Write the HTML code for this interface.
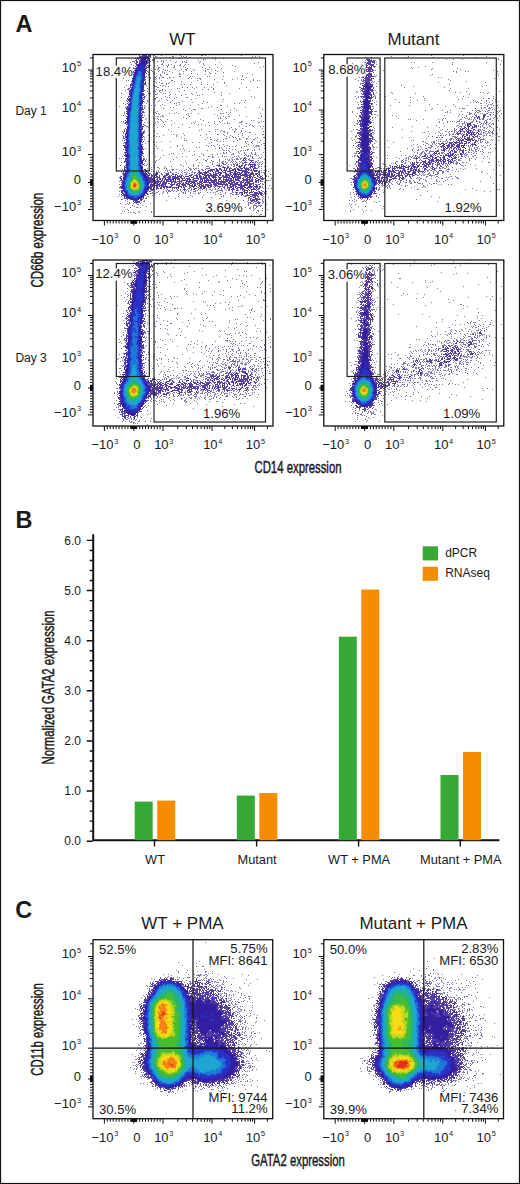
<!DOCTYPE html>
<html><head><meta charset="utf-8"><style>
html,body{margin:0;padding:0;background:#fff;overflow:hidden;}
svg{display:block;}
text{font-family:"Liberation Sans", sans-serif;fill:#1a1a1a;}
</style></head><body>
<svg width="520" height="1184" viewBox="0 0 520 1184">
<rect x="0.5" y="0.5" width="519" height="1183" fill="#fff" stroke="#111" stroke-width="1.2"/>
<text x="15.5" y="31.7" font-size="23.5" font-weight="bold">A</text>
<text x="15.5" y="527.5" font-size="23.5" font-weight="bold">B</text>
<text x="15.2" y="918" font-size="23.5" font-weight="bold">C</text>
<text x="182.5" y="44.5" font-size="17" text-anchor="middle">WT</text>
<text x="413.5" y="44.5" font-size="17" text-anchor="middle">Mutant</text>
<text x="182.5" y="928.7" font-size="17" text-anchor="middle">WT + PMA</text>
<text x="413.5" y="928.7" font-size="17" text-anchor="middle">Mutant + PMA</text>
<text x="15.4" y="114.8" font-size="12">Day 1</text>
<text x="15.4" y="361.5" font-size="12">Day 3</text>
<text transform="translate(43.2,240.1) rotate(-90) scale(0.72,1)" font-size="16" text-anchor="middle" stroke="#1a1a1a" stroke-width="0.45">CD66b expression</text>
<text transform="translate(298,472.8) scale(0.71,1)" font-size="16" text-anchor="middle" stroke="#1a1a1a" stroke-width="0.45">CD14 expression</text>
<text transform="translate(43.3,1029.4) rotate(-90) scale(0.71,1)" font-size="16" text-anchor="middle" stroke="#1a1a1a" stroke-width="0.45">CD11b expression</text>
<text transform="translate(298,1166.3) scale(0.71,1)" font-size="16" text-anchor="middle" stroke="#1a1a1a" stroke-width="0.45">GATA2 expression</text>
<text transform="translate(53.6,687.4) rotate(-90) scale(0.71,1)" font-size="16" text-anchor="middle" stroke="#1a1a1a" stroke-width="0.45">Normalized GATA2 expression</text>
<path d="M136 54.5h1m32 0h1m15 0h1m10 0h1m9 0h1m-54 1h1m0 0h1m6 0h1m18 0h1m20 0h1m0 0h1m2 0h1m35 0h1m-89 1h1m1 0h1m0 0h1m15 0h1m0 0h1m7 0h1m1 0h1m2 0h1m65 0h1m2 0h1m3 0h1m-107 1h1m15 0h1m14 0h1m0 0h1m4 0h1m24 0h1m-81 1h1m17 0h1m0 0h1m5 0h1m11 0h1m6 0h1m0 0h1m6 0h1m10 0h1m13 0h1m10 0h1m-72 1h1m1 0h1m48 0h1m1 0h1m9 0h1m-81 1h1m16 0h1m0 0h1m0 0h1m6 0h1m1 0h1m2 0h1m3 0h1m15 0h1m11 0h1m4 0h1m-72 1h1m0 0h1m0 0h1m18 0h1m3 0h1m3 0h1m1 0h1m12 0h1m5 0h1m1 0h1m15 0h1m-71 1h1m3 0h1m19 0h1m8 0h1m11 0h1m6 0h1m2 0h1m0 0h1m12 0h1m19 0h1m38 0h1m-97 1h1m40 0h1m50 0h1m-124 1h1m29 0h1m0 0h1m5 0h1m2 0h1m8 0h1m4 0h1m2 0h1m14 0h1m11 0h1m-83 1h1m16 0h1m3 0h1m2 0h1m5 0h1m2 0h1m1 0h1m5 0h1m4 0h1m0 0h1m3 0h1m19 0h1m27 0h1m-106 1h1m39 0h1m6 0h1m8 0h1m51 0h1m27 0h1m-136 1h1m4 0h1m15 0h1m8 0h1m0 0h1m7 0h1m5 0h1m0 0h1m10 0h1m16 0h1m6 0h1m7 0h1m42 0h1m-103 1h1m28 0h1m17 0h1m15 0h1m-73 1h1m5 0h1m1 0h1m0 0h1m4 0h1m11 0h1m5 0h1m3 0h1m0 0h1m6 0h1m13 0h1m0 0h1m2 0h1m-81 1h1m19 0h1m7 0h1m5 0h1m1 0h1m11 0h1m6 0h1m7 0h1m10 0h1m9 0h1m-64 1h1m5 0h1m3 0h1m6 0h1m13 0h1m7 0h1m13 0h1m11 0h1m16 0h1m-111 1h1m5 0h1m17 0h1m5 0h1m7 0h1m1 0h1m7 0h1m36 0h1m13 0h1m-95 1h1m23 0h1m10 0h1m14 0h1m3 0h1m7 0h1m18 0h1m4 0h1m31 0h1m-100 1h1m11 0h1m5 0h1m0 0h1m11 0h1m0 0h1m16 0h1m7 0h1m46 0h1m-129 1h1m5 0h1m29 0h1m81 0h1m-87 1h1m4 0h1m17 0h1m0 0h1m9 0h1m1 0h1m14 0h1m1 0h1m13 0h1m18 0h1m-115 1h1m21 0h1m2 0h1m1 0h1m3 0h1m2 0h1m0 0h1m5 0h1m0 0h1m2 0h1m15 0h1m56 0h1m-124 1h1m26 0h1m5 0h1m2 0h1m7 0h1m20 0h1m2 0h1m5 0h1m1 0h1m0 0h1m36 0h1m-83 1h1m44 0h1m13 0h1m7 0h1m9 0h1m8 0h1m1 0h1m9 0h1m-128 1h1m1 0h1m32 0h1m9 0h1m0 0h1m24 0h1m55 0h1m3 0h1m1 0h1m-107 1h1m1 0h1m18 0h1m6 0h1m68 0h1m-95 1h1m2 0h1m9 0h1m21 0h1m9 0h1m15 0h1m6 0h1m-64 1h1m0 0h1m3 0h1m1 0h1m55 0h1m16 0h1m-76 1h1m14 0h1m2 0h1m5 0h1m10 0h1m5 0h1m5 0h1m-88 1h1m19 0h1m6 0h1m0 0h1m5 0h1m2 0h1m62 0h1m-73 1h1m0 0h1m0 0h1m5 0h1m2 0h1m2 0h1m-45 1h1m32 0h1m0 0h1m23 0h1m4 0h1m4 0h1m3 0h1m7 0h1m6 0h1m34 0h1m10 0h1m-130 1h1m18 0h1m29 0h1m1 0h1m14 0h1m18 0h1m25 0h1m-113 1h1m28 0h1m5 0h1m8 0h1m30 0h1m5 0h1m4 0h1m-89 1h1m28 0h1m4 0h1m0 0h1m1 0h1m2 0h1m18 0h1m64 0h1m-103 1h1m5 0h1m1 0h1m3 0h1m19 0h1m-20 1h1m8 0h1m26 0h1m17 0h1m6 0h1m-101 1h1m26 0h1m0 0h1m0 0h1m6 0h1m5 0h1m1 0h1m25 0h1m37 0h1m-75 1h1m0 0h1m13 0h1m4 0h1m9 0h1m6 0h1m9 0h1m-57 1h1m22 0h1m11 0h1m15 0h1m1 0h1m21 0h1m-77 1h1m19 0h1m85 0h1m-131 1h1m34 0h1m0 0h1m9 0h1m1 0h1m6 0h1m9 0h1m0 0h1m66 0h1m-111 1h1m9 0h1m0 0h1m5 0h1m12 0h1m21 0h1m-44 1h1m1 0h1m10 0h1m24 0h1m31 0h1m-98 1h1m20 0h1m11 0h1m7 0h1m4 0h1m68 0h1m3 0h1m-99 1h1m10 0h1m23 0h1m20 0h1m18 0h1m-79 1h1m25 0h1m7 0h1m0 0h1m12 0h1m14 0h1m36 0h1m-122 1h1m22 0h1m27 0h1m1 0h1m25 0h1m31 0h1m4 0h1m-115 1h1m23 0h1m12 0h1m16 0h1m18 0h1m-55 1h1m6 0h1m3 0h1m4 0h1m3 0h1m11 0h1m13 0h1m29 0h1m0 0h1m-103 1h1m25 0h1m65 0h1m15 0h1m-103 1h1m44 0h1m2 0h1m34 0h1m8 0h1m27 0h1m13 0h1m-116 1h1m18 0h1m25 0h1m11 0h1m0 0h1m31 0h1m-52 1h1m9 0h1m0 0h1m0 0h1m25 0h1m40 0h1m-110 1h1m18 0h1m12 0h1m5 0h1m26 0h1m11 0h1m5 0h1m-80 1h1m-34 1h1m19 0h1m8 0h1m1 0h1m20 0h1m49 0h1m3 0h1m-107 1h1m31 0h1m1 0h1m10 0h1m4 0h1m3 0h1m9 0h1m2 0h1m6 0h1m21 0h1m0 0h1m1 0h1m36 0h1m-102 1h1m26 0h1m27 0h1m13 0h1m-106 1h1m1 0h1m18 0h1m17 0h1m25 0h1m28 0h1m21 0h1m21 0h1m-105 1h1m0 0h1m1 0h1m1 0h1m0 0h1m25 0h1m33 0h1m4 0h1m0 0h1m16 0h1m14 0h1m-79 1h1m36 0h1m4 0h1m-80 1h1m10 0h1m28 0h1m31 0h1m1 0h1m5 0h1m31 0h1m-114 1h1m12 0h1m1 0h1m6 0h1m32 0h1m33 0h1m-74 1h1m9 0h1m31 0h1m18 0h1m28 0h1m1 0h1m-133 1h1m1 0h1m33 0h1m4 0h1m2 0h1m29 0h1m18 0h1m4 0h1m21 0h1m0 0h1m18 0h1m1 0h1m-141 1h1m20 0h1m2 0h1m7 0h1m2 0h1m4 0h1m29 0h1m14 0h1m11 0h1m6 0h1m11 0h1m0 0h1m0 0h1m16 0h1m0 0h1m-136 1h1m49 0h1m16 0h1m2 0h1m19 0h1m9 0h1m2 0h1m1 0h1m16 0h1m-94 1h1m10 0h1m6 0h1m10 0h1m15 0h1m2 0h1m15 0h1m23 0h1m8 0h1m-107 1h1m0 0h1m59 0h1m3 0h1m39 0h1m2 0h1m-107 1h1m0 0h1m15 0h1m75 0h1m6 0h1m6 0h1m6 0h1m2 0h1m-116 1h1m8 0h1m20 0h1m10 0h1m41 0h1m-3 1h1m5 0h1m6 0h1m19 0h1m-139 1h1m43 0h1m32 0h1m13 0h1m1 0h1m14 0h1m3 0h1m-93 1h1m8 0h1m45 0h1m21 0h1m13 0h1m5 0h1m-120 1h1m21 0h1m9 0h1m16 0h1m37 0h1m5 0h1m4 0h1m2 0h1m0 0h1m9 0h1m6 0h1m3 0h1m17 0h1m-141 1h1m20 0h1m79 0h1m2 0h1m6 0h1m5 0h1m8 0h1m0 0h1m-128 1h1m33 0h1m25 0h1m43 0h1m14 0h1m-70 1h1m3 0h1m28 0h1m10 0h1m0 0h1m4 0h1m14 0h1m16 0h1m6 0h1m0 0h1m-142 1h1m25 0h1m5 0h1m8 0h1m12 0h1m7 0h1m15 0h1m23 0h1m5 0h1m11 0h1m-90 1h1m2 0h1m2 0h1m16 0h1m49 0h1m5 0h1m5 0h1m9 0h1m-105 1h1m36 0h1m25 0h1m2 0h1m18 0h1m3 0h1m1 0h1m7 0h1m13 0h1m5 0h1m0 0h1m-142 1h1m60 0h1m40 0h1m0 0h1m9 0h1m2 0h1m6 0h1m0 0h1m7 0h1m-112 1h1m60 0h1m4 0h1m0 0h1m5 0h1m5 0h1m15 0h1m0 0h1m5 0h1m6 0h1m0 0h1m-133 1h1m61 0h1m1 0h1m27 0h1m1 0h1m20 0h1m22 0h1m-113 1h1m4 0h1m7 0h1m8 0h1m46 0h1m2 0h1m2 0h1m9 0h1m11 0h1m1 0h1m4 0h1m-100 1h1m2 0h1m35 0h1m6 0h1m11 0h1m33 0h1m5 0h1m5 0h1m1 0h1m-137 1h1m21 0h1m63 0h1m36 0h1m5 0h1m10 0h1m0 0h1m-111 1h1m62 0h1m5 0h1m24 0h1m12 0h1m-85 1h1m4 0h1m23 0h1m4 0h1m1 0h1m5 0h1m7 0h1m8 0h1m16 0h1m2 0h1m0 0h1m0 0h1m5 0h1m-109 1h1m20 0h1m30 0h1m5 0h1m9 0h1m4 0h1m2 0h1m2 0h1m8 0h1m1 0h1m8 0h1m0 0h1m1 0h1m0 0h1m-90 1h1m25 0h1m2 0h1m19 0h1m1 0h1m19 0h1m12 0h1m-110 1h1m11 0h1m25 0h1m31 0h1m3 0h1m6 0h1m2 0h1m29 0h1m4 0h1m-142 1h1m56 0h1m41 0h1m9 0h1m2 0h1m11 0h1m0 0h1m5 0h1m4 0h1m-98 1h1m21 0h1m22 0h1m15 0h1m0 0h1m1 0h1m1 0h1m12 0h1m1 0h1m1 0h1m1 0h1m4 0h1m1 0h1m-102 1h1m35 0h1m4 0h1m34 0h1m8 0h1m1 0h1m-18 1h1m2 0h1m3 0h1m7 0h1m5 0h1m6 0h1m3 0h1m7 0h1m-111 1h1m17 0h1m1 0h1m8 0h1m18 0h1m18 0h1m2 0h1m0 0h1m1 0h1m6 0h1m5 0h1m4 0h1m6 0h1m3 0h1m-133 1h1m45 0h1m24 0h1m8 0h1m8 0h1m4 0h1m13 0h1m0 0h1m0 0h1m7 0h1m3 0h1m6 0h1m1 0h1m0 0h1m5 0h1m-99 1h1m28 0h1m10 0h1m18 0h1m15 0h1m5 0h1m1 0h1m1 0h1m1 0h1m5 0h1m1 0h1m-137 1h1m32 0h1m26 0h1m3 0h1m12 0h1m8 0h1m0 0h1m2 0h1m9 0h1m1 0h1m1 0h1m7 0h1m1 0h1m1 0h1m8 0h1m0 0h1m1 0h1m1 0h1m-93 1h1m15 0h1m35 0h1m0 0h1m4 0h1m13 0h1m6 0h1m4 0h1m0 0h1m6 0h1m6 0h1m1 0h1m-143 1h1m1 0h1m1 0h1m20 0h1m86 0h1m4 0h1m0 0h1m2 0h1m0 0h1m1 0h1m1 0h1m0 0h1m2 0h1m2 0h1m0 0h1m4 0h1m1 0h1m-117 1h1m1 0h1m12 0h1m13 0h1m23 0h1m5 0h1m3 0h1m11 0h1m5 0h1m1 0h1m1 0h1m2 0h1m1 0h1m1 0h1m0 0h1m0 0h1m1 0h1m7 0h1m0 0h1m14 0h1m-120 1h1m10 0h1m39 0h1m8 0h1m0 0h1m4 0h1m7 0h1m8 0h1m0 0h1m2 0h1m9 0h1m3 0h1m2 0h1m3 0h1m4 0h1m-114 1h1m9 0h1m14 0h1m14 0h1m20 0h1m5 0h1m0 0h1m5 0h1m2 0h1m0 0h1m1 0h1m5 0h1m1 0h1m1 0h1m3 0h1m1 0h1m13 0h1m0 0h1m5 0h1m-142 1h1m33 0h1m43 0h1m10 0h1m6 0h1m3 0h1m0 0h1m2 0h1m1 0h1m2 0h1m1 0h1m3 0h1m3 0h1m1 0h1m14 0h1m1 0h1m0 0h1m-117 1h1m41 0h1m25 0h1m6 0h1m6 0h1m6 0h1m1 0h1m1 0h1m1 0h1m2 0h1m15 0h1m3 0h1m-116 1h1m32 0h1m12 0h1m18 0h1m4 0h1m1 0h1m4 0h1m0 0h1m2 0h1m2 0h1m1 0h1m0 0h1m1 0h1m5 0h1m3 0h1m1 0h1m8 0h1m1 0h1m1 0h1m-142 1h1m23 0h1m1 0h1m7 0h1m26 0h1m11 0h1m4 0h1m3 0h1m13 0h1m0 0h1m3 0h1m5 0h1m3 0h1m2 0h1m13 0h1m9 0h1m-94 1h1m5 0h1m11 0h1m9 0h1m4 0h1m7 0h1m0 0h1m0 0h1m4 0h1m4 0h1m0 0h1m0 0h1m1 0h1m0 0h1m3 0h1m0 0h1m4 0h1m0 0h1m23 0h1m0 0h1m1 0h1m2 0h1m-114 1h1m2 0h1m2 0h1m0 0h1m5 0h1m23 0h1m20 0h1m12 0h1m7 0h1m27 0h1m-112 1h1m11 0h1m4 0h1m1 0h1m22 0h1m0 0h1m2 0h1m1 0h1m0 0h1m1 0h1m7 0h1m0 0h1m0 0h1m0 0h1m5 0h1m15 0h1m25 0h1m3 0h1m-140 1h1m28 0h1m14 0h1m4 0h1m0 0h1m0 0h1m2 0h1m9 0h1m3 0h1m0 0h1m2 0h1m6 0h1m0 0h1m2 0h1m-59 1h1m10 0h1m6 0h1m1 0h1m1 0h1m2 0h1m6 0h1m1 0h1m2 0h1m3 0h1m1 0h1m7 0h1m0 0h1m2 0h1m0 0h1m55 0h1m1 0h1m2 0h1m1 0h1m-146 1h1m29 0h1m1 0h1m2 0h1m1 0h1m8 0h1m2 0h1m11 0h1m9 0h1m5 0h1m69 0h1m-110 1h1m4 0h1m3 0h1m1 0h1m0 0h1m3 0h1m0 0h1m4 0h1m2 0h1m0 0h1m1 0h1m3 0h1m0 0h1m1 0h1m0 0h1m65 0h1m1 0h1m0 0h1m0 0h1m-144 1h1m27 0h1m10 0h1m3 0h1m6 0h1m0 0h1m4 0h1m3 0h1m3 0h1m2 0h1m74 0h1m-104 1h1m0 0h1m22 0h1m78 0h1m5 0h1m-109 1h1m99 0h1m3 0h1m-147 1h1m145 0h1m1 0h1m-150 1h1m145 0h1m-3 1h1m0 0h1m6 0h1m-9 1h1m2 1h1m0 0h1m0 0h1m1 0h1m-152 1h1m141 0h1m0 0h1m1 1h1m-5 1h1m1 0h1m-144 1h1m142 0h1m0 0h1m1 1h1m3 0h1m-8 1h1m2 0h1m-77 1h1m7 0h1m16 0h1m47 0h1m-89 1h1m13 0h1m0 0h1m1 0h1m4 0h1m18 0h1m5 0h1m41 0h1m4 0h1m2 0h1m-116 1h1m6 0h1m8 0h1m4 0h1m2 0h1m6 0h1m3 0h1m6 0h1m3 0h1m3 0h1m2 0h1m0 0h1m1 0h1m2 0h1m1 0h1m3 0h1m3 0h1m-60 1h1m2 0h1m1 0h1m0 0h1m1 0h1m2 0h1m0 0h1m1 0h1m5 0h1m1 0h1m2 0h1m3 0h1m1 0h1m2 0h1m5 0h1m4 0h1m6 0h1m0 0h1m0 0h1m0 0h1m0 0h1m3 0h1m1 0h1m0 0h1m8 0h1m22 0h1m-143 1h1m34 0h1m3 0h1m4 0h1m2 0h1m1 0h1m0 0h1m0 0h1m2 0h1m2 0h1m4 0h1m3 0h1m2 0h1m4 0h1m0 0h1m0 0h1m20 0h1m0 0h1m4 0h1m9 0h1m29 0h1m0 0h1m2 0h1m-115 1h1m3 0h1m0 0h1m5 0h1m3 0h1m14 0h1m0 0h1m1 0h1m4 0h1m7 0h1m1 0h1m6 0h1m2 0h1m2 0h1m1 0h1m4 0h1m4 0h1m6 0h1m0 0h1m1 0h1m3 0h1m24 0h1m-115 1h1m0 0h1m0 0h1m2 0h1m6 0h1m4 0h1m11 0h1m3 0h1m1 0h1m4 0h1m2 0h1m1 0h1m2 0h1m0 0h1m18 0h1m6 0h1m4 0h1m0 0h1m7 0h1m24 0h1m1 0h1m-148 1h1m28 0h1m5 0h1m4 0h1m18 0h1m36 0h1m4 0h1m0 0h1m10 0h1m0 0h1m1 0h1m0 0h1m0 0h1m0 0h1m24 0h1m-112 1h1m37 0h1m12 0h1m19 0h1m6 0h1m10 0h1m1 0h1m1 0h1m16 0h1m-145 1h1m2 0h1m26 0h1m19 0h1m9 0h1m13 0h1m28 0h1m1 0h1m14 0h1m5 0h1m0 0h1m0 0h1m16 0h1m-118 1h1m41 0h1m13 0h1m8 0h1m50 0h1m5 0h1m-124 1h1m0 0h1m28 0h1m43 0h1m15 0h1m12 0h1m14 0h1m-143 1h1m0 0h1m125 0h1m11 0h1m1 0h1m-138 1h1m18 0h1m21 0h1m59 0h1m16 0h1m4 0h1m13 0h1m-136 1h1m15 0h1m0 0h1m102 0h1m14 0h1m0 0h1m-135 1h1m11 0h1m106 0h1m0 0h1m10 0h1m2 0h1m-144 1h1m6 0h1m1 0h1m3 0h1m6 0h1m9 0h1m97 0h1m1 0h1m0 0h1m0 0h1m9 0h1m-138 1h1m2 0h1m8 0h1m0 0h1m109 0h1m5 0h1m11 0h1m-135 1h1m9 0h1m92 0h1m12 0h1m4 0h1m0 0h1m0 0h1m0 0h1m1 0h1m0 0h1m0 0h1m0 0h1m-128 1h1m11 0h1m106 0h1m2 0h1m0 0h1m2 0h1m-137 1h1m5 0h1m5 0h1m0 0h1m2 0h1m104 0h1m4 0h1m2 0h1m2 0h1m-8 1h1m0 0h1m2 0h1m1 0h1m6 0h1m2 0h1m-139 1h1m126 0h1m12 0h1m-140 1h1m16 0h1m95 0h1m11 0h1m3 0h1m0 0h1m3 0h1m-141 1h1m1 0h1m13 0h1m12 0h1m106 0h1m-131 1h1m1 0h1m2 0h1m0 0h1m4 0h1m11 0h1m104 0h1m-136 1h1m13 0h1m124 1h1m0 0h1m-11 1h1m7 0h1" stroke="#403a86" stroke-opacity="0.68" stroke-width="1" fill="none"/>
<path d="M145 54.5h1m0 0h1m0 0h1m0 0h1m0 0h1m-11 1h1m2 0h1m0 0h1m0 0h1m0 0h1m0 0h1m1 0h1m0 0h1m0 0h1m-12 1h1m0 0h1m0 0h1m0 0h1m0 0h1m0 0h1m0 0h1m0 0h1m0 0h1m0 0h1m0 0h1m0 0h1m-14 1h1m1 0h1m0 0h1m0 0h1m0 0h1m0 0h1m0 0h1m1 0h1m0 0h1m0 0h1m1 0h1m-14 1h1m0 0h1m0 0h1m1 0h1m0 0h1m0 0h1m0 0h1m0 0h1m0 0h1m0 0h1m0 0h1m0 0h1m-14 1h1m1 0h1m1 0h1m0 0h1m0 0h1m1 0h1m0 0h1m1 0h1m0 0h1m-13 1h1m2 0h1m0 0h1m0 0h1m3 0h1m0 0h1m0 0h1m0 0h1m0 0h1m-14 1h1m0 0h1m1 0h1m0 0h1m4 0h1m0 0h1m0 0h1m1 0h1m0 0h1m-15 1h1m0 0h1m1 0h1m5 0h1m0 0h1m0 0h1m0 0h1m-14 1h1m0 0h1m2 0h1m5 0h1m0 0h1m0 0h1m1 0h1m-14 1h1m0 0h1m0 0h1m6 0h1m0 0h1m-11 1h1m0 0h1m6 0h1m0 0h1m1 0h1m0 0h1m-14 1h1m1 0h1m6 0h1m0 0h1m0 0h1m1 0h1m-13 1h1m0 0h1m6 0h1m1 0h1m0 0h1m0 0h1m-16 1h1m0 0h1m0 0h1m0 0h1m7 0h1m0 0h1m0 0h1m-12 1h1m0 0h1m7 0h1m0 0h1m-14 1h1m1 0h1m0 0h1m8 0h1m0 0h1m0 0h1m-15 1h1m0 0h1m11 0h1m1 0h1m-15 1h1m0 0h1m9 0h1m0 0h1m-14 1h1m1 0h1m9 0h1m1 0h1m-16 1h1m0 0h1m0 0h1m10 0h1m-13 1h1m11 0h1m-12 1h1m10 0h1m1 0h1m-16 1h1m0 0h1m11 0h1m0 0h1m-14 1h1m11 0h1m0 1h1m-14 1h1m11 0h1m-14 1h1m0 0h1m10 0h1m1 0h1m-3 1h1m1 0h1m-15 1h1m11 0h1m0 0h1m0 0h1m-16 1h1m0 0h1m11 0h1m0 0h1m0 0h1m-16 1h1m0 0h1m11 0h1m-14 1h1m12 0h1m-14 1h1m0 0h1m11 0h1m-15 1h1m12 0h1m0 0h1m-16 1h1m1 0h1m12 0h1m-15 1h1m0 0h1m11 0h1m0 0h1m0 0h1m-16 1h1m0 0h1m11 0h1m0 0h1m-15 1h1m0 0h1m-2 1h1m12 0h1m0 0h1m-15 1h1m12 0h1m0 0h1m0 0h1m-3 1h1m0 0h1m-16 1h1m0 0h1m14 0h1m-17 1h1m14 0h1m0 0h1m-18 1h1m1 0h1m12 0h1m-16 1h1m0 0h1m0 0h1m13 0h1m-16 1h1m0 0h1m12 0h1m-16 1h1m1 0h1m12 0h1m0 0h1m-16 1h1m12 0h1m0 0h1m-16 1h1m13 0h1m0 0h1m-15 1h1m12 0h1m-14 1h1m12 0h1m0 0h1m-16 1h1m14 0h1m-17 1h1m0 0h1m0 0h1m12 0h1m0 0h1m1 0h1m-19 1h1m0 0h1m13 0h1m0 0h1m-17 1h1m0 0h1m13 0h1m0 0h1m0 0h1m-17 1h1m13 0h1m-16 1h1m0 0h1m14 0h1m0 0h1m-17 1h1m14 0h1m0 0h1m-18 1h1m0 0h1m13 0h1m-15 1h1m14 0h1m-2 1h1m0 0h1m-17 1h1m0 0h1m13 0h1m-15 1h1m14 0h1m0 0h1m-18 1h1m0 0h1m13 0h1m-15 1h1m13 0h1m-17 1h1m1 0h1m13 0h1m0 0h1m-17 1h1m0 0h1m13 0h1m-17 1h1m0 0h1m14 0h1m-17 1h1m0 1h1m14 0h1m1 0h1m-3 1h1m0 1h1m0 0h1m-3 1h1m0 0h1m-18 1h1m15 0h1m0 0h1m-17 1h1m14 0h1m0 0h1m-19 1h1m1 0h1m-3 1h1m1 0h1m14 0h1m1 0h1m-18 1h1m15 0h1m0 0h1m-19 1h1m0 0h1m14 0h1m0 0h1m0 0h1m-19 1h1m15 0h1m0 0h1m-18 1h1m16 0h1m-20 1h1m1 0h1m15 0h1m1 0h1m-21 1h1m1 0h1m15 0h1m0 0h1m-19 1h1m16 0h1m-17 1h1m0 0h1m14 0h1m0 0h1m-19 1h1m1 0h1m14 0h1m-1 1h1m1 0h1m-20 1h1m0 0h1m16 0h1m-18 1h1m16 1h1m-20 1h1m0 0h1m0 0h1m-2 1h1m0 0h1m15 0h1m0 0h1m-19 1h1m0 0h1m15 0h1m0 0h1m-18 1h1m15 0h1m0 0h1m-18 1h1m15 0h1m0 0h1m0 0h1m-19 1h1m15 0h1m-1 1h1m0 0h1m-19 1h1m0 0h1m16 0h1m-18 1h1m15 0h1m0 0h1m0 0h1m-19 1h1m-2 1h1m0 0h1m16 0h1m-18 1h1m17 0h1m-3 1h1m-17 1h1m0 0h1m14 0h1m1 0h1m100 0h1m-120 1h1m0 0h1m14 0h1m1 0h1m99 0h1m1 0h1m-121 1h1m15 0h1m0 0h1m0 0h1m99 0h1m0 0h1m5 0h1m0 0h1m0 0h1m-129 1h1m0 0h1m0 0h1m14 0h1m0 0h1m102 0h1m5 0h1m-128 1h1m1 0h1m14 0h1m0 0h1m101 0h1m0 0h1m0 0h1m3 0h1m1 0h1m0 0h1m1 0h1m-130 1h1m14 0h1m0 0h1m79 0h1m0 0h1m19 0h1m5 0h1m4 0h1m-129 1h1m15 0h1m0 0h1m79 0h1m13 0h1m7 0h1m3 0h1m0 0h1m0 0h1m0 0h1m0 0h1m0 0h1m0 0h1m-131 1h1m15 0h1m76 0h1m0 0h1m16 0h1m0 0h1m1 0h1m1 0h1m0 0h1m1 0h1m0 0h1m4 0h1m1 0h1m1 0h1m0 0h1m-132 1h1m16 0h1m0 0h1m95 0h1m0 0h1m0 0h1m0 0h1m2 0h1m5 0h1m0 0h1m0 0h1m0 0h1m0 0h1m-131 1h1m0 0h1m0 0h1m15 0h1m80 0h1m0 0h1m0 0h1m1 0h1m0 0h1m7 0h1m2 0h1m0 0h1m2 0h1m0 0h1m1 0h1m2 0h1m0 0h1m1 0h1m1 0h1m0 0h1m-132 1h1m1 0h1m15 0h1m73 0h1m2 0h1m0 0h1m3 0h1m1 0h1m0 0h1m1 0h1m0 0h1m3 0h1m0 0h1m1 0h1m0 0h1m1 0h1m0 0h1m0 0h1m1 0h1m0 0h1m0 0h1m0 0h1m0 0h1m1 0h1m2 0h1m0 0h1m0 0h1m0 0h1m-133 1h1m0 0h1m16 0h1m1 0h1m0 0h1m64 0h1m0 0h1m0 0h1m0 0h1m0 0h1m1 0h1m0 0h1m1 0h1m0 0h1m0 0h1m2 0h1m1 0h1m2 0h1m2 0h1m0 0h1m0 0h1m0 0h1m1 0h1m0 0h1m0 0h1m1 0h1m3 0h1m0 0h1m0 0h1m0 0h1m0 0h1m1 0h1m1 0h1m-130 1h1m0 0h1m16 0h1m0 0h1m1 0h1m0 0h1m61 0h1m0 0h1m0 0h1m0 0h1m0 0h1m1 0h1m1 0h1m0 0h1m0 0h1m2 0h1m1 0h1m0 0h1m0 0h1m0 0h1m2 0h1m0 0h1m0 0h1m0 0h1m0 0h1m1 0h1m2 0h1m0 0h1m0 0h1m0 0h1m0 0h1m0 0h1m0 0h1m0 0h1m0 0h1m1 0h1m1 0h1m0 0h1m1 0h1m0 0h1m0 0h1m0 0h1m0 0h1m-135 1h1m1 0h1m19 0h1m0 0h1m52 0h1m5 0h1m1 0h1m0 0h1m1 0h1m1 0h1m2 0h1m0 0h1m0 0h1m0 0h1m3 0h1m2 0h1m1 0h1m0 0h1m0 0h1m0 0h1m3 0h1m0 0h1m0 0h1m5 0h1m0 0h1m0 0h1m0 0h1m0 0h1m0 0h1m4 0h1m1 0h1m0 0h1m0 0h1m1 0h1m0 0h1m-137 1h1m1 0h1m17 0h1m1 0h1m1 0h1m0 0h1m7 0h1m0 0h1m40 0h1m0 0h1m0 0h1m0 0h1m1 0h1m0 0h1m0 0h1m0 0h1m0 0h1m0 0h1m4 0h1m1 0h1m2 0h1m0 0h1m0 0h1m0 0h1m1 0h1m0 0h1m0 0h1m4 0h1m0 0h1m0 0h1m1 0h1m0 0h1m1 0h1m0 0h1m0 0h1m1 0h1m0 0h1m1 0h1m0 0h1m0 0h1m0 0h1m0 0h1m0 0h1m1 0h1m0 0h1m5 0h1m0 0h1m-137 1h1m0 0h1m0 0h1m18 0h1m0 0h1m0 0h1m1 0h1m0 0h1m5 0h1m0 0h1m0 0h1m8 0h1m0 0h1m0 0h1m25 0h1m2 0h1m1 0h1m0 0h1m0 0h1m0 0h1m1 0h1m0 0h1m0 0h1m2 0h1m0 0h1m2 0h1m1 0h1m0 0h1m0 0h1m0 0h1m1 0h1m0 0h1m3 0h1m0 0h1m2 0h1m0 0h1m2 0h1m0 0h1m0 0h1m0 0h1m0 0h1m1 0h1m0 0h1m0 0h1m2 0h1m0 0h1m0 0h1m1 0h1m1 0h1m0 0h1m0 0h1m0 0h1m1 0h1m0 0h1m0 0h1m1 0h1m-137 1h1m0 0h1m20 0h1m0 0h1m0 0h1m1 0h1m1 0h1m1 0h1m1 0h1m0 0h1m0 0h1m8 0h1m0 0h1m0 0h1m3 0h1m0 0h1m1 0h1m0 0h1m3 0h1m5 0h1m4 0h1m0 0h1m3 0h1m1 0h1m0 0h1m2 0h1m0 0h1m0 0h1m0 0h1m1 0h1m0 0h1m1 0h1m0 0h1m1 0h1m0 0h1m0 0h1m0 0h1m2 0h1m0 0h1m4 0h1m0 0h1m0 0h1m0 0h1m1 0h1m0 0h1m1 0h1m0 0h1m0 0h1m0 0h1m0 0h1m0 0h1m0 0h1m0 0h1m1 0h1m0 0h1m0 0h1m0 0h1m0 0h1m0 0h1m1 0h1m0 0h1m0 0h1m0 0h1m0 0h1m1 0h1m0 0h1m1 0h1m0 0h1m-137 1h1m21 0h1m1 0h1m0 0h1m0 0h1m1 0h1m0 0h1m1 0h1m0 0h1m0 0h1m2 0h1m4 0h1m0 0h1m0 0h1m0 0h1m1 0h1m1 0h1m3 0h1m1 0h1m1 0h1m1 0h1m0 0h1m6 0h1m0 0h1m0 0h1m2 0h1m0 0h1m0 0h1m0 0h1m1 0h1m0 0h1m3 0h1m0 0h1m0 0h1m0 0h1m0 0h1m0 0h1m0 0h1m0 0h1m0 0h1m0 0h1m0 0h1m0 0h1m0 0h1m0 0h1m1 0h1m0 0h1m1 0h1m0 0h1m1 0h1m0 0h1m0 0h1m0 0h1m0 0h1m0 0h1m1 0h1m1 0h1m0 0h1m0 0h1m1 0h1m1 0h1m0 0h1m0 0h1m0 0h1m0 0h1m0 0h1m0 0h1m0 0h1m0 0h1m0 0h1m0 0h1m2 0h1m0 0h1m2 0h1m1 0h1m-139 1h1m24 0h1m0 0h1m0 0h1m2 0h1m0 0h1m1 0h1m1 0h1m0 0h1m1 0h1m3 0h1m0 0h1m0 0h1m2 0h1m0 0h1m0 0h1m1 0h1m0 0h1m0 0h1m0 0h1m1 0h1m0 0h1m0 0h1m0 0h1m0 0h1m1 0h1m1 0h1m0 0h1m0 0h1m0 0h1m1 0h1m2 0h1m2 0h1m0 0h1m1 0h1m0 0h1m0 0h1m1 0h1m1 0h1m0 0h1m1 0h1m0 0h1m1 0h1m0 0h1m0 0h1m0 0h1m0 0h1m2 0h1m3 0h1m0 0h1m0 0h1m0 0h1m0 0h1m0 0h1m1 0h1m1 0h1m0 0h1m1 0h1m0 0h1m0 0h1m0 0h1m0 0h1m0 0h1m0 0h1m3 0h1m0 0h1m0 0h1m0 0h1m1 0h1m0 0h1m0 0h1m1 0h1m3 0h1m0 0h1m1 0h1m0 0h1m-142 1h1m2 0h1m23 0h1m0 0h1m0 0h1m0 0h1m0 0h1m1 0h1m0 0h1m0 0h1m0 0h1m0 0h1m0 0h1m0 0h1m3 0h1m0 0h1m0 0h1m1 0h1m0 0h1m0 0h1m0 0h1m1 0h1m0 0h1m0 0h1m0 0h1m0 0h1m0 0h1m0 0h1m1 0h1m0 0h1m2 0h1m4 0h1m1 0h1m0 0h1m0 0h1m2 0h1m0 0h1m1 0h1m0 0h1m0 0h1m1 0h1m0 0h1m0 0h1m0 0h1m1 0h1m0 0h1m2 0h1m0 0h1m0 0h1m0 0h1m0 0h1m1 0h1m0 0h1m0 0h1m0 0h1m1 0h1m0 0h1m0 0h1m0 0h1m0 0h1m0 0h1m0 0h1m2 0h1m0 0h1m0 0h1m0 0h1m0 0h1m0 0h1m0 0h1m0 0h1m0 0h1m2 0h1m1 0h1m1 0h1m0 0h1m0 0h1m0 0h1m1 0h1m1 0h1m0 0h1m3 0h1m0 0h1m1 0h1m-143 1h1m0 0h1m25 0h1m0 0h1m0 0h1m0 0h1m0 0h1m0 0h1m0 0h1m0 0h1m2 0h1m1 0h1m0 0h1m1 0h1m0 0h1m1 0h1m2 0h1m0 0h1m0 0h1m1 0h1m0 0h1m0 0h1m0 0h1m0 0h1m0 0h1m0 0h1m0 0h1m1 0h1m0 0h1m0 0h1m0 0h1m1 0h1m0 0h1m0 0h1m0 0h1m3 0h1m0 0h1m0 0h1m0 0h1m0 0h1m0 0h1m1 0h1m0 0h1m0 0h1m0 0h1m0 0h1m0 0h1m0 0h1m0 0h1m1 0h1m0 0h1m2 0h1m1 0h1m3 0h1m0 0h1m2 0h1m2 0h1m1 0h1m0 0h1m0 0h1m0 0h1m1 0h1m1 0h1m1 0h1m0 0h1m0 0h1m0 0h1m1 0h1m0 0h1m2 0h1m0 0h1m1 0h1m0 0h1m1 0h1m3 0h1m0 0h1m2 0h1m0 0h1m0 0h1m-142 1h1m26 0h1m0 0h1m0 0h1m0 0h1m0 0h1m0 0h1m0 0h1m1 0h1m0 0h1m1 0h1m0 0h1m1 0h1m1 0h1m0 0h1m0 0h1m0 0h1m0 0h1m0 0h1m0 0h1m0 0h1m0 0h1m0 0h1m1 0h1m1 0h1m0 0h1m0 0h1m2 0h1m2 0h1m1 0h1m0 0h1m0 0h1m0 0h1m1 0h1m0 0h1m4 0h1m1 0h1m0 0h1m0 0h1m1 0h1m1 0h1m0 0h1m0 0h1m1 0h1m0 0h1m2 0h1m0 0h1m0 0h1m1 0h1m0 0h1m0 0h1m2 0h1m0 0h1m0 0h1m0 0h1m0 0h1m0 0h1m1 0h1m0 0h1m1 0h1m1 0h1m0 0h1m0 0h1m0 0h1m4 0h1m0 0h1m0 0h1m0 0h1m0 0h1m0 0h1m0 0h1m1 0h1m0 0h1m2 0h1m2 0h1m0 0h1m1 0h1m0 0h1m-143 1h1m0 0h1m0 0h1m25 0h1m0 0h1m0 0h1m0 0h1m0 0h1m0 0h1m0 0h1m0 0h1m1 0h1m0 0h1m2 0h1m0 0h1m1 0h1m1 0h1m0 0h1m0 0h1m1 0h1m0 0h1m1 0h1m1 0h1m3 0h1m1 0h1m0 0h1m0 0h1m0 0h1m0 0h1m0 0h1m0 0h1m1 0h1m0 0h1m2 0h1m0 0h1m0 0h1m0 0h1m0 0h1m2 0h1m1 0h1m1 0h1m0 0h1m0 0h1m0 0h1m0 0h1m0 0h1m0 0h1m0 0h1m0 0h1m0 0h1m0 0h1m0 0h1m0 0h1m1 0h1m2 0h1m1 0h1m1 0h1m0 0h1m0 0h1m0 0h1m0 0h1m0 0h1m0 0h1m0 0h1m0 0h1m1 0h1m0 0h1m0 0h1m0 0h1m0 0h1m2 0h1m0 0h1m0 0h1m0 0h1m0 0h1m0 0h1m1 0h1m0 0h1m0 0h1m0 0h1m2 0h1m0 0h1m0 0h1m0 0h1m1 0h1m-139 1h1m25 0h1m0 0h1m0 0h1m0 0h1m0 0h1m0 0h1m0 0h1m0 0h1m0 0h1m0 0h1m0 0h1m0 0h1m0 0h1m0 0h1m1 0h1m0 0h1m1 0h1m0 0h1m0 0h1m0 0h1m0 0h1m0 0h1m0 0h1m0 0h1m0 0h1m0 0h1m1 0h1m0 0h1m0 0h1m0 0h1m0 0h1m4 0h1m0 0h1m0 0h1m0 0h1m0 0h1m0 0h1m0 0h1m0 0h1m0 0h1m0 0h1m0 0h1m2 0h1m0 0h1m0 0h1m0 0h1m1 0h1m0 0h1m0 0h1m1 0h1m2 0h1m0 0h1m0 0h1m0 0h1m0 0h1m0 0h1m1 0h1m0 0h1m0 0h1m0 0h1m0 0h1m0 0h1m0 0h1m0 0h1m0 0h1m0 0h1m1 0h1m0 0h1m0 0h1m1 0h1m0 0h1m4 0h1m0 0h1m0 0h1m1 0h1m2 0h1m0 0h1m0 0h1m0 0h1m0 0h1m0 0h1m0 0h1m2 0h1m0 0h1m1 0h1m1 0h1m-140 1h1m0 0h1m25 0h1m0 0h1m0 0h1m0 0h1m0 0h1m1 0h1m0 0h1m0 0h1m0 0h1m0 0h1m1 0h1m1 0h1m0 0h1m0 0h1m0 0h1m0 0h1m4 0h1m0 0h1m1 0h1m0 0h1m0 0h1m2 0h1m1 0h1m1 0h1m1 0h1m0 0h1m1 0h1m0 0h1m1 0h1m0 0h1m0 0h1m0 0h1m2 0h1m1 0h1m0 0h1m0 0h1m1 0h1m0 0h1m0 0h1m0 0h1m0 0h1m0 0h1m0 0h1m0 0h1m0 0h1m0 0h1m0 0h1m0 0h1m1 0h1m0 0h1m0 0h1m1 0h1m0 0h1m0 0h1m0 0h1m0 0h1m0 0h1m2 0h1m0 0h1m1 0h1m0 0h1m0 0h1m0 0h1m1 0h1m0 0h1m0 0h1m1 0h1m0 0h1m0 0h1m0 0h1m1 0h1m0 0h1m0 0h1m0 0h1m0 0h1m3 0h1m1 0h1m0 0h1m1 0h1m-137 1h1m25 0h1m0 0h1m1 0h1m1 0h1m0 0h1m0 0h1m0 0h1m0 0h1m1 0h1m0 0h1m1 0h1m0 0h1m0 0h1m0 0h1m0 0h1m1 0h1m0 0h1m1 0h1m2 0h1m2 0h1m0 0h1m0 0h1m0 0h1m1 0h1m0 0h1m1 0h1m0 0h1m0 0h1m0 0h1m1 0h1m0 0h1m1 0h1m0 0h1m0 0h1m1 0h1m0 0h1m0 0h1m1 0h1m0 0h1m6 0h1m0 0h1m2 0h1m0 0h1m0 0h1m0 0h1m0 0h1m0 0h1m0 0h1m0 0h1m0 0h1m1 0h1m0 0h1m1 0h1m1 0h1m0 0h1m0 0h1m0 0h1m0 0h1m1 0h1m0 0h1m0 0h1m0 0h1m2 0h1m0 0h1m2 0h1m0 0h1m1 0h1m0 0h1m0 0h1m0 0h1m0 0h1m0 0h1m0 0h1m-133 1h1m28 0h1m0 0h1m0 0h1m0 0h1m0 0h1m1 0h1m0 0h1m0 0h1m0 0h1m1 0h1m0 0h1m0 0h1m0 0h1m0 0h1m4 0h1m0 0h1m0 0h1m0 0h1m0 0h1m1 0h1m0 0h1m1 0h1m1 0h1m0 0h1m0 0h1m0 0h1m0 0h1m1 0h1m0 0h1m0 0h1m2 0h1m1 0h1m0 0h1m1 0h1m1 0h1m0 0h1m0 0h1m1 0h1m1 0h1m0 0h1m0 0h1m0 0h1m1 0h1m0 0h1m1 0h1m0 0h1m0 0h1m0 0h1m1 0h1m0 0h1m0 0h1m0 0h1m0 0h1m0 0h1m0 0h1m0 0h1m0 0h1m0 0h1m2 0h1m0 0h1m0 0h1m0 0h1m0 0h1m0 0h1m0 0h1m0 0h1m0 0h1m0 0h1m0 0h1m0 0h1m2 0h1m0 0h1m0 0h1m0 0h1m1 0h1m0 0h1m0 0h1m1 0h1m1 0h1m0 0h1m1 0h1m0 0h1m-110 1h1m0 0h1m0 0h1m0 0h1m0 0h1m0 0h1m0 0h1m0 0h1m0 0h1m0 0h1m0 0h1m0 0h1m0 0h1m0 0h1m1 0h1m5 0h1m0 0h1m3 0h1m0 0h1m0 0h1m0 0h1m2 0h1m0 0h1m0 0h1m0 0h1m3 0h1m0 0h1m0 0h1m0 0h1m1 0h1m0 0h1m2 0h1m0 0h1m1 0h1m0 0h1m0 0h1m1 0h1m0 0h1m0 0h1m0 0h1m0 0h1m0 0h1m0 0h1m2 0h1m0 0h1m0 0h1m0 0h1m4 0h1m2 0h1m0 0h1m0 0h1m1 0h1m0 0h1m1 0h1m0 0h1m0 0h1m0 0h1m2 0h1m0 0h1m0 0h1m0 0h1m0 0h1m0 0h1m0 0h1m0 0h1m0 0h1m0 0h1m1 0h1m0 0h1m2 0h1m2 0h1m0 0h1m-138 1h1m0 0h1m25 0h1m0 0h1m0 0h1m0 0h1m0 0h1m0 0h1m1 0h1m1 0h1m0 0h1m1 0h1m1 0h1m0 0h1m0 0h1m0 0h1m0 0h1m0 0h1m0 0h1m1 0h1m0 0h1m0 0h1m6 0h1m0 0h1m0 0h1m0 0h1m1 0h1m1 0h1m0 0h1m2 0h1m1 0h1m0 0h1m0 0h1m0 0h1m1 0h1m2 0h1m0 0h1m0 0h1m0 0h1m0 0h1m0 0h1m0 0h1m1 0h1m0 0h1m1 0h1m0 0h1m1 0h1m1 0h1m1 0h1m0 0h1m0 0h1m0 0h1m1 0h1m1 0h1m2 0h1m2 0h1m0 0h1m0 0h1m0 0h1m1 0h1m0 0h1m3 0h1m0 0h1m0 0h1m0 0h1m0 0h1m3 0h1m0 0h1m0 0h1m0 0h1m0 0h1m1 0h1m0 0h1m0 0h1m0 0h1m1 0h1m0 0h1m-142 1h1m0 0h1m0 0h1m0 0h1m24 0h1m0 0h1m0 0h1m0 0h1m0 0h1m2 0h1m1 0h1m0 0h1m2 0h1m0 0h1m1 0h1m0 0h1m1 0h1m0 0h1m0 0h1m0 0h1m0 0h1m1 0h1m0 0h1m0 0h1m0 0h1m0 0h1m0 0h1m0 0h1m2 0h1m1 0h1m0 0h1m5 0h1m2 0h1m4 0h1m1 0h1m0 0h1m1 0h1m0 0h1m0 0h1m2 0h1m0 0h1m0 0h1m8 0h1m3 0h1m0 0h1m2 0h1m0 0h1m0 0h1m0 0h1m0 0h1m1 0h1m1 0h1m1 0h1m0 0h1m0 0h1m0 0h1m0 0h1m0 0h1m1 0h1m0 0h1m1 0h1m0 0h1m0 0h1m0 0h1m0 0h1m1 0h1m1 0h1m0 0h1m0 0h1m1 0h1m0 0h1m-140 1h1m0 0h1m24 0h1m0 0h1m0 0h1m0 0h1m0 0h1m1 0h1m2 0h1m0 0h1m0 0h1m1 0h1m0 0h1m2 0h1m1 0h1m5 0h1m3 0h1m1 0h1m5 0h1m9 0h1m0 0h1m3 0h1m0 0h1m0 0h1m1 0h1m0 0h1m1 0h1m11 0h1m5 0h1m2 0h1m1 0h1m2 0h1m0 0h1m2 0h1m0 0h1m2 0h1m0 0h1m0 0h1m0 0h1m2 0h1m0 0h1m2 0h1m2 0h1m0 0h1m1 0h1m1 0h1m0 0h1m-114 1h1m0 0h1m0 0h1m1 0h1m0 0h1m0 0h1m0 0h1m0 0h1m12 0h1m15 0h1m0 0h1m0 0h1m7 0h1m0 0h1m33 0h1m0 0h1m1 0h1m0 0h1m0 0h1m0 0h1m2 0h1m2 0h1m1 0h1m0 0h1m0 0h1m3 0h1m2 0h1m0 0h1m0 0h1m0 0h1m0 0h1m1 0h1m0 0h1m-138 1h1m0 0h1m0 0h1m22 0h1m1 0h1m2 0h1m0 0h1m15 0h1m15 0h1m47 0h1m3 0h1m0 0h1m4 0h1m1 0h1m0 0h1m0 0h1m0 0h1m1 0h1m1 0h1m4 0h1m-136 1h1m0 0h1m23 0h1m0 0h1m1 0h1m0 0h1m92 0h1m0 0h1m2 0h1m3 0h1m1 0h1m4 0h1m0 0h1m-139 1h1m0 0h1m22 0h1m0 0h1m89 0h1m0 0h1m2 0h1m0 0h1m0 0h1m1 0h1m0 0h1m0 0h1m0 0h1m1 0h1m0 0h1m0 0h1m0 0h1m1 0h1m0 0h1m0 0h1m0 0h1m1 0h1m0 0h1m0 0h1m-140 1h1m0 0h1m20 0h1m0 0h1m0 0h1m0 0h1m88 0h1m4 0h1m0 0h1m1 0h1m1 0h1m2 0h1m4 0h1m0 0h1m0 0h1m0 0h1m0 0h1m0 0h1m0 0h1m0 0h1m0 0h1m-142 1h1m1 0h1m0 0h1m19 0h1m2 0h1m93 0h1m0 0h1m4 0h1m2 0h1m0 0h1m0 0h1m0 0h1m0 0h1m0 0h1m0 0h1m1 0h1m1 0h1m0 0h1m-140 1h1m0 0h1m0 0h1m0 0h1m17 0h1m0 0h1m0 0h1m100 0h1m0 0h1m0 0h1m0 0h1m2 0h1m0 0h1m0 0h1m0 0h1m0 0h1m0 0h1m3 0h1m-138 1h1m0 0h1m0 0h1m15 0h1m0 0h1m106 0h1m0 0h1m0 0h1m1 0h1m0 0h1m1 0h1m0 0h1m-135 1h1m1 0h1m0 0h1m12 0h1m0 0h1m0 0h1m0 0h1m104 0h1m0 0h1m3 0h1m0 0h1m0 0h1m2 0h1m-135 1h1m0 0h1m0 0h1m1 0h1m0 0h1m0 0h1m7 0h1m0 0h1m0 0h1m0 0h1m1 0h1m106 0h1m0 0h1m3 0h1m0 0h1m0 0h1m1 0h1m-133 1h1m2 0h1m0 0h1m0 0h1m0 0h1m1 0h1m0 0h1m0 0h1m0 0h1m1 0h1m0 0h1m0 0h1m107 0h1m1 0h1m0 0h1m0 0h1m0 0h1m0 0h1m0 0h1m0 0h1m0 0h1m-127 1h1m0 0h1m0 0h1m0 0h1m0 0h1m2 0h1m0 0h1m108 0h1m0 0h1m0 0h1m0 0h1m0 0h1m1 0h1m0 0h1m-125 1h1m1 0h1m0 0h1m0 0h1m0 0h1m0 0h1m111 0h1m0 0h1m1 0h1m0 0h1m0 0h1m1 0h1m-125 1h1m0 0h1m0 0h1m0 0h1m0 0h1m0 0h1m110 0h1m2 0h1m3 0h1m0 0h1m0 0h1m-124 1h1m118 0h1m0 0h1m1 0h1m0 0h1" stroke="#3a1c96" stroke-opacity="0.85" stroke-width="1" fill="none"/>
<path d="M146.2 56.2 145.2 56.8 143.5 56.5 143.5 57.5 144.8 58.2 143.2 58.8 141.2 57.2 141.5 59.8 140.2 59.8 141.2 60.8 140.2 62.8 137.8 64.2 137.2 68.2 134.8 70.8 135.2 72.2 133.5 74.5 132.2 80.8 132.2 86.5 130.8 89.5 131.2 91.5 129.5 95.5 130.5 97.5 128.8 99.5 130.2 102.8 128.8 103.5 128.5 107.5 127.8 108.2 128.2 111.5 127.2 112.8 127.8 113.8 127.8 116.2 126.8 118.5 127.5 119.8 126.5 122.5 127.8 125.5 126.8 126.8 127.2 130.5 126.2 131.8 126.5 135.8 125.8 136.5 126.5 140.5 125.5 144.8 126.8 145.8 125.5 146.5 126.2 149.2 125.8 152.5 126.8 153.2 125.5 155.5 126.5 157.5 126.5 160.8 125.8 161.8 126.5 163.2 125.8 164.8 126.8 169.2 125.2 171.8 125.8 173.5 124.5 174.5 122.8 178.2 123.5 180.8 122.2 182.2 122.8 184.2 121.8 184.8 121.8 188.2 123.2 189.8 123.5 192.2 124.8 192.8 124.8 196.2 126.8 196.5 126.5 198.5 133.8 199.8 134.5 200.8 135.2 199.8 136.2 200.5 137.5 199.2 138.8 199.8 139.8 197.8 140.8 198.8 143.8 196.8 143.5 195.2 146.8 192.2 148.8 188.2 148.5 185.8 149.2 184.2 148.5 183.2 149.2 181.8 148.2 180.5 148.8 180.2 149.8 181.2 149.5 179.8 147.5 178.2 146.2 174.2 142.2 170.5 142.8 168.5 142.2 165.8 140.8 164.5 142.2 163.5 141.8 162.2 142.5 161.5 141.5 160.5 141.5 155.8 142.2 155.2 142.2 152.2 141.5 150.8 142.2 149.2 141.5 148.5 142.5 146.8 141.2 143.2 141.8 139.5 140.5 138.8 142.2 137.8 142.2 134.2 141.5 133.5 141.5 130.5 142.2 129.5 140.2 128.2 142.2 125.8 141.2 125.2 142.2 120.8 141.2 118.2 141.8 117.2 141.2 113.8 142.2 112.5 141.5 112.8 140.8 112.2 141.8 110.5 141.2 108.8 141.8 107.2 140.8 106.2 142.2 104.2 141.8 101.8 142.5 100.8 142.2 98.8 142.8 98.2 142.2 96.2 142.8 94.2 141.8 92.8 143.2 91.8 142.8 88.2 143.8 85.2 142.5 84.2 144.8 79.8 144.2 76.8 145.2 74.8 144.8 72.2 145.5 67.5 144.8 66.2 145.8 64.8 145.5 64.2 147.2 63.2 146.8 62.2 147.5 61.5 147.2 60.2 145.8 60.2 145.8 59.2 146.8 59.2 146.2 57.8 147.8 56.8Z" fill="#321e9e" fill-rule="evenodd"/>
<path d="M141.2 63.2 139.2 64.5 139.5 65.5 140.5 65.8 139.8 67.2 137.8 65.8 139.5 68.5 137.8 68.5 137.2 69.2 137.5 71.2 134.8 73.8 135.5 75.2 134.8 75.8 135.2 77.2 133.5 78.5 133.8 81.5 133.2 81.8 133.2 84.5 132.5 85.2 133.2 86.2 131.5 88.8 132.2 92.2 131.5 93.2 131.2 92.5 130.5 93.8 130.5 96.2 131.2 96.8 130.2 99.8 130.5 103.8 129.2 105.5 129.5 108.8 128.8 110.2 129.5 109.8 130.2 110.5 128.2 112.5 129.5 113.2 128.2 114.5 129.2 116.8 127.5 122.5 128.8 126.5 127.8 127.8 128.5 128.8 127.2 131.2 127.5 136.8 126.8 137.2 126.8 139.2 127.5 141.2 126.5 144.5 127.5 147.8 126.8 148.5 127.8 154.2 127.5 156.8 128.2 157.2 126.8 158.8 126.8 164.2 127.8 164.5 127.8 165.8 127.2 166.5 127.5 170.5 126.2 171.8 126.5 174.2 125.8 174.5 125.8 176.8 124.8 177.2 124.2 178.5 124.8 179.2 123.8 179.8 123.8 184.8 123.2 185.2 123.8 185.8 123.8 187.5 123.2 189.2 124.2 189.8 123.8 191.5 125.5 192.5 126.8 194.5 126.5 195.5 128.8 197.8 129.8 196.8 131.5 198.8 132.2 198.2 132.8 198.8 138.8 198.5 137.8 198.2 138.2 197.2 140.5 197.2 141.2 195.5 142.8 195.8 145.2 192.2 145.5 190.5 144.8 188.8 146.8 187.8 147.8 185.8 147.8 183.5 147.2 182.5 148.2 181.8 146.2 180.8 146.5 179.5 145.8 179.2 145.8 177.8 144.8 177.5 143.2 175.2 143.8 174.2 141.2 170.5 141.5 169.5 140.8 168.8 141.8 168.5 141.8 167.8 140.5 166.8 140.5 164.2 141.5 162.8 139.8 159.5 140.5 159.2 140.2 157.2 139.2 156.5 141.2 155.8 140.5 150.5 141.2 145.5 140.2 144.8 140.2 140.8 140.8 139.8 139.5 138.8 140.8 137.2 139.8 135.2 140.8 133.5 139.8 127.5 140.5 126.8 140.5 124.5 139.8 123.5 141.2 120.2 139.5 117.5 140.8 115.5 140.8 110.8 140.2 110.2 141.2 109.8 140.5 105.5 141.2 105.2 140.8 103.8 141.5 102.8 140.5 101.5 141.5 100.8 141.5 98.8 140.8 98.5 141.8 97.8 141.2 95.5 142.2 94.5 141.2 91.5 141.8 90.8 140.8 89.5 142.2 88.8 141.5 83.5 143.2 82.5 143.2 79.8 144.2 78.2 143.5 77.2 143.8 74.8 142.5 74.8 142.2 74.2 143.8 73.5 143.5 69.2 144.5 68.2 143.8 66.2 144.2 63.5 142.8 64.2 143.8 65.5 142.8 66.2 141.8 64.2 140.8 64.2Z" fill="#2832c8" fill-rule="evenodd"/>
<path d="M138.5 70.8 137.8 72.5 138.2 74.2 136.2 75.5 136.2 79.2 134.5 80.5 136.2 81.8 134.2 82.5 135.2 83.5 133.8 85.2 134.8 86.5 133.2 87.2 133.8 88.2 133.8 90.2 132.8 90.8 132.5 92.5 133.2 94.5 131.8 94.8 132.5 96.2 131.5 97.5 132.2 98.5 131.5 98.8 130.8 101.5 131.8 104.2 130.8 104.8 131.2 107.2 130.2 107.8 131.2 108.8 131.2 110.8 130.2 111.5 129.8 115.5 130.5 116.8 129.5 117.5 129.5 120.2 130.2 121.2 129.2 122.2 129.5 123.8 128.8 124.5 129.8 128.8 129.2 129.2 128.5 132.5 129.5 133.2 128.2 133.8 128.2 134.8 129.5 135.5 127.8 137.8 128.5 140.5 129.5 141.5 128.2 144.2 129.2 143.8 129.5 144.8 128.2 145.8 129.2 147.8 127.8 150.5 128.8 154.8 130.5 156.5 129.8 157.2 128.8 156.5 129.5 157.8 128.2 158.8 128.8 159.8 128.2 161.5 129.2 160.8 130.2 161.2 128.2 168.2 129.2 168.5 129.2 169.8 130.2 169.2 130.5 169.8 129.2 170.5 128.8 172.2 126.8 174.8 126.8 177.8 125.5 178.5 125.8 180.5 125.2 181.2 124.5 180.8 125.8 183.2 124.5 184.2 124.5 186.8 126.2 187.8 125.2 188.5 125.5 190.2 127.8 190.8 127.8 193.5 130.2 195.2 127.8 194.8 127.5 195.5 131.5 195.8 132.5 196.8 133.8 195.2 133.8 196.8 134.5 197.8 135.8 198.2 136.8 197.8 136.8 196.2 138.8 196.2 139.5 195.5 139.8 196.5 140.5 194.8 141.8 194.5 143.2 192.2 143.2 190.8 143.8 190.2 144.5 190.5 143.8 188.8 145.2 186.5 145.5 183.8 144.2 182.5 145.8 182.2 142.5 179.2 143.5 178.2 143.5 176.8 142.8 175.8 141.8 176.5 141.2 175.8 141.8 174.5 140.2 173.5 140.8 172.5 139.8 171.2 139.8 166.8 138.8 164.8 139.8 163.8 138.8 161.2 139.8 160.8 139.2 159.8 139.5 158.2 138.5 156.5 139.8 153.5 138.8 152.2 139.8 149.2 139.2 148.8 138.5 149.8 137.8 149.2 139.5 144.5 138.5 144.2 139.2 143.2 138.8 137.8 139.5 137.2 138.8 136.5 138.8 132.8 139.5 132.2 138.5 131.5 139.2 129.8 137.8 129.2 139.2 128.2 138.8 126.2 139.5 125.2 138.8 123.8 139.5 122.5 138.2 120.8 139.2 118.8 138.5 115.2 139.2 114.5 138.8 112.8 139.5 112.2 139.2 109.5 139.8 105.8 138.5 104.8 140.2 100.5 139.2 97.8 139.2 94.8 140.5 93.5 139.2 92.2 140.5 92.2 140.2 91.2 140.8 90.8 140.5 86.8 141.2 85.8 140.2 85.2 141.2 83.8 140.5 81.8 141.5 81.8 140.8 80.5 141.8 80.2 141.5 78.8 142.8 77.5 141.8 77.2 141.8 75.5 141.2 74.8 141.8 72.2Z" fill="#1e78d7" fill-rule="evenodd"/>
<path d="M139.8 76.8 137.8 77.2 136.8 78.8 137.5 80.2 136.5 81.2 136.5 84.8 135.5 85.8 136.5 87.2 134.5 88.8 134.5 92.8 133.2 95.8 133.8 96.8 132.8 97.5 133.2 102.2 132.2 104.8 132.5 107.8 130.8 112.5 131.5 117.8 130.5 119.2 131.2 121.2 130.2 122.8 131.2 125.2 130.2 126.2 130.8 127.2 130.2 127.5 130.2 132.2 129.5 133.8 130.2 134.8 129.5 138.5 130.5 141.8 129.8 143.2 130.5 147.8 129.5 149.2 130.2 149.8 130.2 154.5 130.8 155.8 130.2 157.8 130.5 159.2 129.8 159.8 130.5 161.2 130.2 164.8 130.8 164.5 131.2 165.5 129.8 166.2 130.5 167.2 129.8 168.2 130.8 168.8 130.8 170.2 129.5 171.5 130.2 172.5 129.8 174.5 128.5 174.2 129.2 174.8 128.5 175.8 128.8 176.8 127.8 177.2 126.2 182.8 126.2 186.2 126.8 186.5 126.2 189.2 128.2 190.8 128.2 192.8 130.2 194.2 130.5 195.2 131.8 195.5 134.2 194.8 134.5 195.8 136.5 194.8 137.5 195.5 140.8 192.5 141.8 192.5 142.2 190.2 143.8 187.8 143.5 186.2 144.2 185.2 143.2 180.5 141.8 178.8 142.2 177.8 141.2 177.2 139.2 173.2 139.2 170.8 137.8 169.2 138.2 165.8 137.5 165.5 138.2 158.8 137.5 153.8 138.2 153.2 138.2 150.5 137.5 149.8 137.8 148.2 137.2 147.8 138.5 145.5 137.2 141.8 138.2 132.8 136.8 132.2 137.5 131.5 137.5 126.2 138.2 125.5 137.2 122.5 137.8 121.8 137.5 118.2 138.2 117.5 137.5 116.8 138.5 112.2 138.5 108.5 137.5 106.5 137.5 104.2 138.5 103.2 138.5 94.5 139.2 93.8 138.8 91.5 139.8 90.2 138.8 87.5 139.2 85.2 138.5 84.5 139.8 82.5 139.2 81.2 140.5 79.5Z" fill="#1ea5d2" fill-rule="evenodd"/>
<path d="M135.5 161.5 134.2 163.5 133.5 163.2 134.8 166.2 133.5 166.8 133.8 169.8 132.5 170.8 131.5 173.2 132.5 173.8 131.8 174.5 131.2 173.8 132.8 175.5 131.2 176.5 130.5 179.5 128.8 180.5 128.8 184.8 127.8 184.8 128.2 188.2 129.8 189.5 129.8 191.2 130.5 191.8 131.2 191.2 132.2 191.5 132.5 192.2 131.5 193.5 132.5 193.2 133.2 193.8 135.2 193.8 135.8 192.5 136.5 193.2 138.8 192.8 141.8 186.2 141.8 184.2 140.5 182.2 140.5 178.5 137.8 177.2 137.8 174.5 136.8 173.8 136.8 170.8 135.8 170.2 133.5 170.5 135.2 169.2 134.5 166.8 135.8 164.8 134.8 164.5ZM135.5 108.2 134.2 110.2 133.5 109.5 133.2 110.2 134.2 111.5 133.5 113.2 134.5 113.8 134.5 115.2 134.8 113.5 134.2 112.5 136.5 112.2 136.2 111.2 135.8 111.8 134.5 111.2 135.2 109.8 136.2 109.8Z" fill="#24b478" fill-rule="evenodd"/>
<path d="M134.5 175.5 132.2 177.5 132.2 179.8 130.5 181.5 129.5 181.5 129.8 183.2 129.2 184.2 129.8 188.2 132.5 190.2 133.5 191.8 135.8 191.8 137.5 190.5 138.8 190.8 139.8 188.2 139.5 186.5 140.5 185.8 140.8 183.8 138.5 179.2 137.5 178.8 137.8 177.8 135.8 176.5 136.2 175.8Z" fill="#46be32" fill-rule="evenodd"/>
<path d="M133.8 179.2 132.2 180.8 131.8 182.2 130.5 182.5 130.8 188.2 133.5 189.8 136.5 189.8 138.2 189.2 138.8 188.2 138.8 185.8 139.8 185.5 138.5 184.2 138.2 181.8 137.2 181.8 136.5 181.2 136.8 180.5 135.8 180.2 136.2 179.5Z" fill="#bed71e" fill-rule="evenodd"/>
<path d="M134.5 180.5 132.8 180.8 131.2 185.8 131.5 188.2 132.5 188.2 133.8 189.5 137.8 187.2 138.5 185.2 136.2 181.2 135.2 181.8Z" fill="#f5dc14" fill-rule="evenodd"/>
<path d="M133.8 181.5 132.8 182.8 133.5 183.5 132.2 186.2 134.2 188.5 136.5 187.5 136.8 186.5 136.2 185.5 136.8 185.2 137.5 186.2 137.8 184.8Z" fill="#f58219" fill-rule="evenodd"/>
<path d="M134.8 183.2 133.8 183.5 134.2 184.5 133.2 185.5 133.5 186.8 135.5 186.5 135.5 184.2Z" fill="#e62d19" fill-rule="evenodd"/>
<path d="M134.09 220.50v3 M93.00 182.22h-3 M133.51 220.50v3 M93.00 182.77h-3 M134.38 220.50v3 M93.00 181.94h-3 M133.21 220.50v3 M93.00 183.04h-3 M134.68 220.50v3 M93.00 181.66h-3 M132.92 220.50v3 M93.00 183.31h-3 M134.97 220.50v3 M93.00 181.38h-3 M132.62 220.50v3 M93.00 183.58h-3 M135.26 220.50v3 M93.00 181.11h-3 M132.33 220.50v3 M93.00 183.84h-3 M135.55 220.50v3 M93.00 180.83h-3 M132.04 220.50v3 M93.00 184.11h-3 M135.84 220.50v3 M93.00 180.55h-3 M131.74 220.50v3 M93.00 184.38h-3 M136.14 220.50v3 M93.00 180.27h-3 M131.45 220.50v3 M93.00 184.65h-3 M136.43 220.50v3 M93.00 179.99h-3 M131.15 220.50v3 M93.00 184.92h-3 M136.72 220.50v3 M93.00 179.71h-3 M130.86 220.50v3 M93.00 185.19h-3 M139.64 220.50v3 M93.00 176.92h-3 M127.92 220.50v3 M93.00 187.88h-3 M142.56 220.50v3 M93.00 174.13h-3 M124.98 220.50v3 M93.00 190.57h-3 M145.48 220.50v3 M93.00 171.34h-3 M122.04 220.50v3 M93.00 193.26h-3 M148.40 220.50v3 M93.00 168.55h-3 M119.10 220.50v3 M93.00 195.95h-3 M151.32 220.50v3 M93.00 165.76h-3 M116.16 220.50v3 M93.00 198.64h-3 M154.24 220.50v3 M93.00 162.97h-3 M113.22 220.50v3 M93.00 201.33h-3 M157.16 220.50v3 M93.00 160.18h-3 M110.28 220.50v3 M93.00 204.02h-3 M160.08 220.50v3 M93.00 157.39h-3 M107.34 220.50v3 M93.00 206.71h-3 M163.00 220.50v5 M93.00 154.60h-5 M104.40 220.50v5 M93.00 209.40h-5 M177.75 220.50v3 M93.00 141.17h-3 M186.38 220.50v3 M93.00 133.32h-3 M192.50 220.50v3 M93.00 127.75h-3 M197.25 220.50v3 M93.00 123.43h-3 M201.13 220.50v3 M93.00 119.89h-3 M204.41 220.50v3 M93.00 116.91h-3 M207.25 220.50v3 M93.00 114.32h-3 M209.76 220.50v3 M93.00 112.04h-3 M212.00 220.50v5 M93.00 110.00h-5 M224.82 220.50v3 M93.00 97.96h-3 M232.33 220.50v3 M93.00 90.92h-3 M237.65 220.50v3 M93.00 85.92h-3 M241.78 220.50v3 M93.00 82.04h-3 M245.15 220.50v3 M93.00 78.87h-3 M248.00 220.50v3 M93.00 76.20h-3 M250.47 220.50v3 M93.00 73.88h-3 M252.65 220.50v3 M93.00 71.83h-3 M254.60 220.50v5 M93.00 70.00h-5 M267.42 220.50v3 M93.00 57.96h-3 M133.80 220.50v5 M93.00 182.50h-5" stroke="#111" stroke-width="1" fill="none"/>
<rect x="93" y="54.5" width="180" height="166" fill="none" stroke="#111" stroke-width="1.3"/>
<text x="104.9" y="243.7" text-anchor="middle" font-size="13">−10<tspan font-size="7.4" dy="-5.6" dx="0.7">3</tspan></text>
<text x="136.8" y="243.7" text-anchor="middle" font-size="13">0</text>
<text x="163.8" y="243.7" text-anchor="middle" font-size="13">10<tspan font-size="7.4" dy="-5.6" dx="0.7">3</tspan></text>
<text x="212.8" y="243.7" text-anchor="middle" font-size="13">10<tspan font-size="7.4" dy="-5.6" dx="0.7">4</tspan></text>
<text x="255.4" y="243.7" text-anchor="middle" font-size="13">10<tspan font-size="7.4" dy="-5.6" dx="0.7">5</tspan></text>
<text x="81" y="71.6" text-anchor="end" font-size="13">10<tspan font-size="7.4" dy="-5.6" dx="0.7">5</tspan></text>
<text x="81" y="111.6" text-anchor="end" font-size="13">10<tspan font-size="7.4" dy="-5.6" dx="0.7">4</tspan></text>
<text x="81" y="156.2" text-anchor="end" font-size="13">10<tspan font-size="7.4" dy="-5.6" dx="0.7">3</tspan></text>
<text x="81" y="184.1" text-anchor="end" font-size="13">0</text>
<text x="81" y="211.0" text-anchor="end" font-size="13">−10<tspan font-size="7.4" dy="-5.6" dx="0.7">3</tspan></text>
<rect x="116.3" y="58.0" width="33" height="113" fill="none" stroke="#222" stroke-width="1.2"/>
<rect x="154" y="58.0" width="111.5" height="158.5" fill="none" stroke="#222" stroke-width="1.2"/>
<path d="M431 55.5h1m31 0h1m-73 1h1m16 0h1m77 0h1m-122 1h1m2 0h1m2 0h1m34 0h1m26 0h1m41 0h1m-109 1h1m16 0h1m109 0h1m3 0h1m-133 1h1m4 0h1m7 0h1m66 0h1m6 0h1m8 0h1m35 0h1m-134 1h1m8 0h1m0 0h1m125 0h1m-138 2h1m11 0h1m34 0h1m2 0h1m17 0h1m19 0h1m33 0h1m-135 1h1m7 1h1m0 0h1m0 0h1m13 0h1m75 0h1m47 0h1m-140 1h1m0 0h1m-7 1h1m4 0h1m13 0h1m49 0h1m-66 1h1m13 0h1m4 0h1m31 0h1m6 0h1m-7 1h1m19 0h1m24 0h1m-97 1h1m0 0h1m68 0h1m28 0h1m-86 1h1m7 0h1m109 0h1m-41 1h1m2 0h1m8 0h1m2 0h1m28 0h1m-138 1h1m95 0h1m-96 1h1m135 0h1m-137 1h1m12 0h1m57 0h1m-57 1h1m53 0h1m65 0h1m1 0h1m-141 1h1m3 0h1m11 0h1m0 0h1m-17 1h1m1 0h1m76 0h1m2 0h1m52 1h1m-140 1h1m5 0h1m17 0h1m68 0h1m-91 1h1m2 0h1m88 0h1m-77 1h1m3 0h1m87 0h1m-94 1h1m64 0h1m46 0h1m-126 1h1m0 0h1m14 0h1m-17 1h1m88 0h1m-49 1h1m84 0h1m-111 1h1m36 0h1m68 0h1m-124 1h1m0 0h1m43 0h1m39 0h1m5 1h1m17 0h1m-109 1h1m14 1h1m73 0h1m-94 1h1m3 0h1m105 0h1m32 0h1m-143 1h1m18 0h1m14 0h1m63 0h1m4 0h1m19 0h1m2 0h1m4 0h1m-97 1h1m22 0h1m71 0h1m-108 1h1m88 0h1m-96 1h1m-20 1h1m2 0h1m1 0h1m14 0h1m9 0h1m37 0h1m39 0h1m29 0h1m-136 1h1m2 0h1m13 0h1m34 0h1m57 0h1m-113 1h1m18 0h1m48 0h1m37 0h1m20 0h1m4 0h1m0 0h1m3 0h1m-110 1h1m10 0h1m62 0h1m36 0h1m-136 1h1m49 0h1m6 0h1m6 0h1m48 0h1m7 0h1m4 0h1m5 0h1m-117 1h1m98 0h1m1 0h1m8 0h1m8 0h1m2 0h1m-142 1h1m16 0h1m24 0h1m10 0h1m59 0h1m2 0h1m2 0h1m1 0h1m5 0h1m4 0h1m-118 1h1m107 0h1m0 0h1m4 0h1m5 0h1m-135 1h1m13 0h1m3 0h1m52 0h1m7 0h1m15 0h1m34 0h1m1 0h1m0 0h1m-102 1h1m18 0h1m57 0h1m13 0h1m5 0h1m5 0h1m3 0h1m-125 1h1m71 0h1m9 0h1m31 0h1m-131 1h1m1 0h1m121 0h1m2 0h1m0 0h1m3 0h1m1 0h1m6 0h1m4 0h1m-147 1h1m0 0h1m0 0h1m13 0h1m58 0h1m26 0h1m2 0h1m0 0h1m0 0h1m10 0h1m5 0h1m1 0h1m4 0h1m0 0h1m0 0h1m5 0h1m-66 1h1m54 0h1m5 0h1m1 0h1m-70 1h1m16 0h1m7 0h1m21 0h1m2 0h1m1 0h1m0 0h1m0 0h1m2 0h1m5 0h1m0 0h1m10 0h1m-149 1h1m21 0h1m0 0h1m0 0h1m70 0h1m13 0h1m14 0h1m2 0h1m0 0h1m4 0h1m1 0h1m9 0h1m1 0h1m-148 1h1m92 0h1m1 0h1m2 0h1m16 0h1m1 0h1m5 0h1m1 0h1m0 0h1m9 0h1m1 0h1m0 0h1m1 0h1m4 0h1m-142 1h1m111 0h1m0 0h1m0 0h1m2 0h1m5 0h1m1 0h1m3 0h1m0 0h1m9 0h1m3 0h1m-130 1h1m1 0h1m0 0h1m83 0h1m2 0h1m6 0h1m0 0h1m3 0h1m1 0h1m6 0h1m1 0h1m3 0h1m0 0h1m2 0h1m-117 1h1m14 0h1m51 0h1m21 0h1m8 0h1m0 0h1m8 0h1m4 0h1m4 0h1m3 0h1m-144 1h1m39 0h1m61 0h1m7 0h1m5 0h1m6 0h1m7 0h1m0 0h1m6 0h1m-124 1h1m2 0h1m86 0h1m1 0h1m6 0h1m2 0h1m0 0h1m18 0h1m-137 1h1m13 0h1m25 0h1m44 0h1m1 0h1m19 0h1m1 0h1m1 0h1m4 0h1m7 0h1m7 0h1m2 0h1m3 0h1m-118 1h1m3 0h1m23 0h1m1 0h1m12 0h1m14 0h1m3 0h1m17 0h1m0 0h1m6 0h1m0 0h1m1 0h1m1 0h1m1 0h1m3 0h1m0 0h1m1 0h1m0 0h1m3 0h1m1 0h1m0 0h1m-134 1h1m14 0h1m43 0h1m25 0h1m16 0h1m13 0h1m2 0h1m8 0h1m0 0h1m5 0h1m5 0h1m-142 1h1m81 0h1m7 0h1m2 0h1m1 0h1m1 0h1m2 0h1m0 0h1m0 0h1m1 0h1m2 0h1m7 0h1m3 0h1m0 0h1m1 0h1m4 0h1m1 0h1m-114 1h1m65 0h1m7 0h1m8 0h1m7 0h1m1 0h1m3 0h1m0 0h1m0 0h1m6 0h1m0 0h1m3 0h1m1 0h1m0 0h1m2 0h1m-135 1h1m0 0h1m85 0h1m15 0h1m2 0h1m0 0h1m0 0h1m12 0h1m3 0h1m1 0h1m1 0h1m0 0h1m2 0h1m2 0h1m0 0h1m-137 1h1m104 0h1m2 0h1m7 0h1m0 0h1m5 0h1m2 0h1m2 0h1m1 0h1m2 0h1m1 0h1m-140 1h1m81 0h1m20 0h1m0 0h1m6 0h1m5 0h1m6 0h1m3 0h1m6 0h1m6 0h1m-85 1h1m31 0h1m11 0h1m2 0h1m0 0h1m0 0h1m2 0h1m13 0h1m1 0h1m1 0h1m6 0h1m0 0h1m5 0h1m-124 1h1m18 0h1m34 0h1m11 0h1m18 0h1m2 0h1m18 0h1m2 0h1m0 0h1m2 0h1m3 0h1m5 0h1m-124 1h1m79 0h1m29 0h1m1 0h1m6 0h1m-141 1h1m2 0h1m0 0h1m14 0h1m29 0h1m39 0h1m4 0h1m6 0h1m1 0h1m21 0h1m0 0h1m0 0h1m1 0h1m10 0h1m5 0h1m-142 1h1m15 0h1m65 0h1m13 0h1m0 0h1m19 0h1m1 0h1m2 0h1m2 0h1m0 0h1m4 0h1m3 0h1m-143 1h1m59 0h1m16 0h1m9 0h1m6 0h1m0 0h1m2 0h1m1 0h1m0 0h1m1 0h1m1 0h1m24 0h1m3 0h1m0 0h1m1 0h1m1 0h1m1 0h1m-136 1h1m15 0h1m48 0h1m1 0h1m14 0h1m8 0h1m5 0h1m21 0h1m4 0h1m1 0h1m0 0h1m3 0h1m0 0h1m1 0h1m0 0h1m-119 1h1m54 0h1m5 0h1m4 0h1m1 0h1m6 0h1m3 0h1m26 0h1m2 0h1m1 0h1m1 0h1m1 0h1m2 0h1m0 0h1m2 0h1m0 0h1m-125 1h1m72 0h1m2 0h1m2 0h1m0 0h1m1 0h1m5 0h1m17 0h1m0 0h1m0 0h1m4 0h1m5 0h1m-137 1h1m81 0h1m1 0h1m0 0h1m1 0h1m1 0h1m3 0h1m33 0h1m0 0h1m1 0h1m2 0h1m0 0h1m-136 1h1m0 0h1m71 0h1m3 0h1m19 0h1m0 0h1m0 0h1m0 0h1m1 0h1m21 0h1m3 0h1m8 0h1m5 0h1m0 0h1m-145 1h1m17 0h1m28 0h1m6 0h1m26 0h1m0 0h1m1 0h1m1 0h1m0 0h1m11 0h1m0 0h1m21 0h1m2 0h1m-130 1h1m5 0h1m68 0h1m23 0h1m0 0h1m0 0h1m2 0h1m22 0h1m0 0h1m3 0h1m-130 1h1m18 0h1m0 0h1m63 0h1m1 0h1m5 0h1m2 0h1m0 0h1m0 0h1m1 0h1m24 0h1m2 0h1m0 0h1m0 0h1m0 0h1m6 0h1m-140 1h1m22 0h1m11 0h1m23 0h1m1 0h1m22 0h1m9 0h1m3 0h1m25 0h1m1 0h1m1 0h1m4 0h1m6 0h1m5 0h1m-144 1h1m20 0h1m45 0h1m0 0h1m9 0h1m0 0h1m3 0h1m1 0h1m2 0h1m1 0h1m1 0h1m28 0h1m0 0h1m2 0h1m1 0h1m4 0h1m-132 1h1m0 0h1m35 0h1m31 0h1m5 0h1m1 0h1m0 0h1m7 0h1m4 0h1m32 0h1m0 0h1m3 0h1m1 0h1m0 0h1m-134 1h1m18 0h1m51 0h1m0 0h1m4 0h1m1 0h1m1 0h1m1 0h1m0 0h1m5 0h1m22 0h1m9 0h1m7 0h1m-115 1h1m40 0h1m3 0h1m5 0h1m4 0h1m3 0h1m2 0h1m3 0h1m50 0h1m4 0h1m-143 1h1m3 0h1m14 0h1m38 0h1m13 0h1m4 0h1m0 0h1m4 0h1m29 0h1m1 0h1m1 0h1m5 0h1m4 0h1m1 0h1m3 0h1m1 0h1m-134 1h1m15 0h1m0 0h1m46 0h1m10 0h1m0 0h1m5 0h1m1 0h1m27 0h1m1 0h1m1 0h1m5 0h1m3 0h1m-126 1h1m15 0h1m0 0h1m1 0h1m11 0h1m29 0h1m2 0h1m6 0h1m0 0h1m0 0h1m0 0h1m5 0h1m31 0h1m4 0h1m1 0h1m0 0h1m6 0h1m0 0h1m-131 1h1m51 0h1m5 0h1m11 0h1m0 0h1m3 0h1m4 0h1m33 0h1m1 0h1m2 0h1m2 0h1m1 0h1m10 0h1m4 0h1m-139 1h1m15 0h1m38 0h1m5 0h1m1 0h1m1 0h1m4 0h1m10 0h1m2 0h1m26 0h1m0 0h1m1 0h1m3 0h1m0 0h1m5 0h1m-71 1h1m4 0h1m0 0h1m6 0h1m0 0h1m0 0h1m2 0h1m7 0h1m2 0h1m4 0h1m1 0h1m16 0h1m0 0h1m2 0h1m1 0h1m0 0h1m2 0h1m2 0h1m-123 1h1m43 0h1m21 0h1m0 0h1m2 0h1m2 0h1m0 0h1m0 0h1m0 0h1m0 0h1m14 0h1m19 0h1m4 0h1m1 0h1m0 0h1m3 0h1m1 0h1m-127 1h1m16 0h1m0 0h1m39 0h1m2 0h1m3 0h1m0 0h1m1 0h1m4 0h1m9 0h1m1 0h1m0 0h1m0 0h1m15 0h1m6 0h1m1 0h1m0 0h1m1 0h1m2 0h1m8 0h1m4 0h1m1 0h1m-137 1h1m0 0h1m0 0h1m60 0h1m2 0h1m0 0h1m2 0h1m0 0h1m2 0h1m0 0h1m9 0h1m1 0h1m0 0h1m1 0h1m28 0h1m2 0h1m-58 1h1m1 0h1m4 0h1m12 0h1m5 0h1m11 0h1m0 0h1m7 0h1m0 0h1m3 0h1m10 0h1m-129 1h1m0 0h1m31 0h1m13 0h1m3 0h1m7 0h1m1 0h1m0 0h1m3 0h1m6 0h1m13 0h1m23 0h1m0 0h1m7 0h1m0 0h1m-124 1h1m1 0h1m18 0h1m35 0h1m0 0h1m1 0h1m4 0h1m1 0h1m38 0h1m5 0h1m3 0h1m3 0h1m0 0h1m10 0h1m2 0h1m-112 1h1m19 0h1m9 0h1m1 0h1m2 0h1m2 0h1m3 0h1m0 0h1m1 0h1m36 0h1m6 0h1m10 0h1m-90 1h1m11 0h1m5 0h1m0 0h1m1 0h1m4 0h1m0 0h1m4 0h1m40 0h1m0 0h1m7 0h1m1 0h1m11 0h1m5 0h1m6 0h1m-94 1h1m4 0h1m1 0h1m5 0h1m3 0h1m35 0h1m1 0h1m0 0h1m9 0h1m5 0h1m-103 1h1m27 0h1m0 0h1m2 0h1m0 0h1m9 0h1m2 0h1m35 0h1m2 0h1m0 0h1m0 0h1m8 0h1m-97 1h1m22 0h1m0 0h1m3 0h1m1 0h1m4 0h1m7 0h1m39 0h1m25 0h1m15 0h1m-104 1h1m5 0h1m0 0h1m2 0h1m4 0h1m7 0h1m1 0h1m32 0h1m2 0h1m0 0h1m4 0h1m0 0h1m2 0h1m21 0h1m0 0h1m-135 1h1m26 0h1m8 0h1m1 0h1m1 0h1m8 0h1m0 0h1m4 0h1m39 0h1m2 0h1m1 0h1m0 0h1m0 0h1m1 0h1m-105 1h1m27 0h1m1 0h1m10 0h1m38 0h1m7 0h1m3 0h1m1 0h1m6 0h1m3 0h1m9 0h1m-122 1h1m6 0h1m32 0h1m0 0h1m15 0h1m1 0h1m23 0h1m3 0h1m8 0h1m1 0h1m13 0h1m0 0h1m2 0h1m9 0h1m23 0h1m-144 1h1m29 0h1m3 0h1m29 0h1m8 0h1m1 0h1m0 0h1m4 0h1m8 0h1m1 0h1m14 0h1m-87 1h1m0 0h1m0 0h1m8 0h1m41 0h1m5 0h1m5 0h1m0 0h1m2 0h1m5 0h1m43 0h1m-144 1h1m0 0h1m20 0h1m0 0h1m3 0h1m0 0h1m1 0h1m35 0h1m2 0h1m8 0h1m3 0h1m0 0h1m2 0h1m2 0h1m1 0h1m0 0h1m2 0h1m11 0h1m4 0h1m10 0h1m-58 1h1m6 0h1m2 0h1m2 0h1m14 0h1m0 0h1m0 0h1m6 0h1m6 0h1m29 0h1m-67 1h1m0 0h1m1 0h1m0 0h1m2 0h1m0 0h1m10 0h1m5 0h1m-28 1h1m1 0h1m5 0h1m2 0h1m1 0h1m3 0h1m0 0h1m3 0h1m0 0h1m6 0h1m2 0h1m23 0h1m-129 1h1m69 0h1m4 0h1m3 0h1m3 0h1m0 0h1m3 0h1m0 0h1m37 0h1m-63 1h1m3 0h1m4 0h1m0 0h1m3 0h1m3 0h1m0 0h1m3 0h1m44 0h1m-69 1h1m2 0h1m2 0h1m1 0h1m0 0h1m1 0h1m4 0h1m0 0h1m0 0h1m12 0h1m-37 1h1m2 0h1m0 0h1m2 0h1m1 0h1m0 0h1m4 0h1m0 0h1m0 0h1m0 0h1m1 0h1m65 0h1m-89 1h1m13 0h1m0 0h1m3 0h1m4 0h1m0 0h1m12 0h1m0 0h1m3 0h1m-51 1h1m4 0h1m6 0h1m1 0h1m6 0h1m8 0h1m2 0h1m7 0h1m1 0h1m7 0h1m0 0h1m32 0h1m-141 1h1m0 0h1m52 0h1m5 0h1m0 0h1m4 0h1m1 0h1m1 0h1m0 0h1m9 0h1m9 0h1m0 0h1m9 0h1m4 0h1m0 0h1m-61 1h1m4 0h1m2 0h1m12 0h1m3 0h1m1 0h1m10 0h1m10 0h1m-53 1h1m4 0h1m0 0h1m4 0h1m2 0h1m0 0h1m2 0h1m5 0h1m5 0h1m10 0h1m8 0h1m-54 1h1m4 0h1m2 0h1m2 0h1m5 0h1m0 0h1m3 0h1m11 0h1m9 0h1m0 0h1m1 0h1m3 0h1m36 0h1m-130 1h1m37 0h1m0 0h1m5 0h1m3 0h1m4 0h1m0 0h1m2 0h1m1 0h1m2 0h1m0 0h1m1 0h1m-30 1h1m2 0h1m5 0h1m1 0h1m10 0h1m0 0h1m6 0h1m0 0h1m0 0h1m1 0h1m6 0h1m3 0h1m0 0h1m1 0h1m56 0h1m-143 1h1m36 0h1m3 0h1m5 0h1m0 0h1m22 0h1m8 0h1m6 0h1m2 0h1m6 0h1m2 0h1m-73 1h1m1 0h1m1 0h1m0 0h1m0 0h1m1 0h1m1 0h1m11 0h1m3 0h1m1 0h1m15 0h1m3 0h1m-46 1h1m2 0h1m0 0h1m2 0h1m15 0h1m8 0h1m8 0h1m0 0h1m-46 1h1m7 0h1m1 0h1m21 0h1m10 0h1m2 0h1m-47 1h1m7 0h1m2 0h1m9 0h1m71 0h1m-120 1h1m24 0h1m0 0h1m19 0h1m3 0h1m13 0h1m0 0h1m46 0h1m31 0h1m1 0h1m-122 1h1m97 0h1m-93 1h1m42 0h1m56 0h1m5 0h1m-141 1h1m2 0h1m29 0h1m112 0h1m-121 1h1m-27 1h1m3 0h1m24 0h1m-4 1h1m43 0h1m-67 1h1m21 0h1m54 0h1m-81 1h1m19 0h1m6 0h1m60 0h1m-82 1h1m-5 1h1m6 0h1m7 0h1m46 0h1m-68 1h1m2 0h1m3 0h1m7 0h1m1 0h1m-13 1h1m7 0h1m0 0h1m1 0h1m8 0h1m4 0h1m57 0h1m-72 1h1m9 0h1m-28 1h1m1 1h1m3 0h1m-6 1h1m7 1h1m6 0h1m17 0h1m-33 1h1m30 1h1m-30 1h1m8 0h1m-13 1h1m15 0h1m4 0h1m-22 1h1m12 0h1" stroke="#403a86" stroke-opacity="0.68" stroke-width="1" fill="none"/>
<path d="M367 59.5h1m0 0h1m0 0h1m-3 1h1m0 0h1m0 0h1m0 0h1m0 0h1m1 0h1m-6 1h1m0 0h1m0 0h1m0 0h1m0 0h1m0 0h1m0 0h1m-10 1h1m1 0h1m0 0h1m0 0h1m0 0h1m1 0h1m0 0h1m0 0h1m-9 1h1m0 0h1m0 0h1m0 0h1m0 0h1m3 0h1m-10 1h1m0 0h1m1 0h1m0 0h1m0 0h1m0 0h1m0 0h1m0 0h1m-11 1h1m0 0h1m0 0h1m0 0h1m0 0h1m2 0h1m0 0h1m0 0h1m0 0h1m-11 1h1m0 0h1m1 0h1m2 0h1m1 0h1m1 0h1m0 0h1m-11 1h1m0 0h1m0 0h1m0 0h1m0 0h1m0 0h1m0 0h1m0 0h1m-7 1h1m2 0h1m0 0h1m0 0h1m0 0h1m-8 1h1m0 0h1m0 0h1m0 0h1m0 0h1m0 0h1m0 0h1m0 0h1m0 0h1m-10 1h1m0 0h1m0 0h1m0 0h1m1 0h1m0 0h1m0 0h1m1 0h1m0 0h1m-11 1h1m2 0h1m0 0h1m0 0h1m0 0h1m0 0h1m0 0h1m0 0h1m-10 1h1m0 0h1m0 0h1m3 0h1m3 0h1m-10 1h1m0 0h1m2 0h1m0 0h1m0 0h1m0 0h1m-6 1h1m0 0h1m0 0h1m0 0h1m0 0h1m0 0h1m-9 1h1m1 0h1m0 0h1m0 0h1m0 0h1m0 0h1m0 0h1m0 0h1m-9 1h1m0 0h1m0 0h1m0 0h1m1 0h1m0 0h1m0 0h1m0 0h1m0 0h1m0 0h1m-12 1h1m0 0h1m1 0h1m0 0h1m0 0h1m0 0h1m0 0h1m0 0h1m-7 1h1m0 0h1m0 0h1m0 0h1m0 0h1m0 0h1m1 0h1m0 0h1m0 0h1m-11 1h1m1 0h1m0 0h1m0 0h1m0 0h1m0 0h1m0 0h1m0 0h1m-9 1h1m0 0h1m0 0h1m0 0h1m0 0h1m0 0h1m0 0h1m0 0h1m0 0h1m-10 1h1m0 0h1m1 0h1m0 0h1m0 0h1m0 0h1m0 0h1m2 0h1m-9 1h1m0 0h1m0 0h1m0 0h1m0 0h1m0 0h1m1 0h1m-10 1h1m0 0h1m1 0h1m0 0h1m0 0h1m0 0h1m0 0h1m0 0h1m-7 1h1m0 0h1m0 0h1m0 0h1m0 0h1m0 0h1m0 0h1m0 0h1m0 0h1m-11 1h1m0 0h1m0 0h1m0 0h1m0 0h1m0 0h1m0 0h1m0 0h1m0 0h1m0 0h1m0 0h1m-10 1h1m0 0h1m0 0h1m0 0h1m0 0h1m0 0h1m0 0h1m0 0h1m0 0h1m0 0h1m-10 1h1m1 0h1m0 0h1m1 0h1m0 0h1m0 0h1m0 0h1m1 0h1m-13 1h1m0 0h1m0 0h1m0 0h1m0 0h1m0 0h1m0 0h1m0 0h1m0 0h1m0 0h1m2 0h1m-12 1h1m0 0h1m0 0h1m0 0h1m0 0h1m0 0h1m0 0h1m0 0h1m0 0h1m0 0h1m0 0h1m-12 1h1m0 0h1m1 0h1m0 0h1m0 0h1m1 0h1m0 0h1m0 0h1m0 0h1m0 0h1m0 0h1m-12 1h1m0 0h1m0 0h1m0 0h1m0 0h1m0 0h1m0 0h1m0 0h1m1 0h1m0 0h1m-10 1h1m0 0h1m0 0h1m0 0h1m0 0h1m0 0h1m0 0h1m0 0h1m2 0h1m-13 1h1m1 0h1m0 0h1m1 0h1m0 0h1m0 0h1m0 0h1m0 0h1m2 0h1m-12 1h1m0 0h1m0 0h1m0 0h1m0 0h1m0 0h1m0 0h1m0 0h1m0 0h1m0 0h1m1 0h1m-10 1h1m0 0h1m0 0h1m0 0h1m0 0h1m1 0h1m0 0h1m-11 1h1m0 0h1m0 0h1m0 0h1m0 0h1m0 0h1m0 0h1m0 0h1m0 0h1m1 0h1m1 0h1m-11 1h1m0 0h1m0 0h1m0 0h1m0 0h1m0 0h1m0 0h1m0 0h1m0 0h1m0 0h1m-11 1h1m2 0h1m1 0h1m0 0h1m0 0h1m0 0h1m0 0h1m-9 1h1m0 0h1m0 0h1m0 0h1m0 0h1m2 0h1m-8 1h1m1 0h1m0 0h1m0 0h1m0 0h1m0 0h1m0 0h1m1 0h1m-13 1h1m1 0h1m0 0h1m0 0h1m0 0h1m0 0h1m0 0h1m0 0h1m0 0h1m0 0h1m-10 1h1m1 0h1m0 0h1m0 0h1m0 0h1m0 0h1m1 0h1m-7 1h1m0 0h1m0 0h1m1 0h1m0 0h1m0 0h1m0 0h1m0 0h1m-11 1h1m0 0h1m0 0h1m0 0h1m3 0h1m2 0h1m-8 1h1m4 0h1m0 0h1m-10 1h1m0 0h1m0 0h1m0 0h1m4 0h1m0 0h1m1 0h1m-13 1h1m1 0h1m0 0h1m0 0h1m4 0h1m0 0h1m-10 1h1m1 0h1m0 0h1m0 0h1m2 0h1m0 0h1m0 0h1m-9 1h1m0 0h1m1 0h1m2 0h1m1 0h1m0 0h1m0 0h1m-13 1h1m0 0h1m0 0h1m0 0h1m0 0h1m0 0h1m1 0h1m0 0h1m2 0h1m-10 1h1m0 0h1m0 0h1m2 0h1m0 0h1m0 0h1m0 0h1m0 0h1m0 0h1m-13 1h1m0 0h1m0 0h1m0 0h1m0 0h1m2 0h1m0 0h1m0 0h1m0 0h1m0 0h1m-11 1h1m2 0h1m0 0h1m1 0h1m0 0h1m0 0h1m0 0h1m0 0h1m-11 1h1m0 0h1m0 0h1m0 0h1m0 0h1m1 0h1m0 0h1m2 0h1m112 0h1m-126 1h1m0 0h1m1 0h1m0 0h1m0 0h1m0 0h1m1 0h1m0 0h1m0 0h1m113 0h1m0 0h1m-126 1h1m0 0h1m0 0h1m0 0h1m0 0h1m0 0h1m0 0h1m1 0h1m0 0h1m0 0h1m0 0h1m105 0h1m1 0h1m4 0h1m0 0h1m-125 1h1m0 0h1m0 0h1m0 0h1m0 0h1m2 0h1m0 0h1m0 0h1m107 0h1m0 0h1m0 0h1m3 0h1m0 0h1m-124 1h1m0 0h1m0 0h1m0 0h1m2 0h1m0 0h1m0 0h1m107 0h1m1 0h1m3 0h1m-123 1h1m0 0h1m0 0h1m0 0h1m2 0h1m0 0h1m1 0h1m-12 1h1m0 0h1m0 0h1m0 0h1m0 0h1m0 0h1m3 0h1m0 0h1m-11 1h1m0 0h1m0 0h1m0 0h1m0 0h1m3 0h1m0 0h1m0 0h1m0 0h1m-13 1h1m1 0h1m1 0h1m0 0h1m3 0h1m0 0h1m0 0h1m0 0h1m0 0h1m-12 1h1m0 0h1m0 0h1m0 0h1m5 0h1m0 0h1m96 0h1m0 0h1m0 0h1m0 0h1m-112 1h1m0 0h1m0 0h1m0 0h1m0 0h1m2 0h1m0 0h1m0 0h1m98 0h1m0 0h1m0 0h1m0 0h1m-111 1h1m0 0h1m0 0h1m0 0h1m1 0h1m0 0h1m0 0h1m0 0h1m98 0h1m0 0h1m1 0h1m3 0h1m0 0h1m0 0h1m-117 1h1m0 0h1m0 0h1m0 0h1m0 0h1m0 0h1m0 0h1m2 0h1m0 0h1m0 0h1m95 0h1m0 0h1m0 0h1m2 0h1m1 0h1m0 0h1m0 0h1m-116 1h1m1 0h1m0 0h1m0 0h1m0 0h1m0 0h1m0 0h1m0 0h1m94 0h1m0 0h1m2 0h1m3 0h1m0 0h1m0 0h1m1 0h1m-117 1h1m0 0h1m0 0h1m0 0h1m2 0h1m0 0h1m0 0h1m91 0h1m1 0h1m0 0h1m0 0h1m1 0h1m1 0h1m2 0h1m0 0h1m-113 1h1m0 0h1m0 0h1m0 0h1m3 0h1m1 0h1m0 0h1m89 0h1m0 0h1m0 0h1m2 0h1m1 0h1m0 0h1m4 0h1m0 0h1m-116 1h1m1 0h1m0 0h1m0 0h1m3 0h1m0 0h1m0 0h1m0 0h1m0 0h1m0 0h1m86 0h1m0 0h1m1 0h1m3 0h1m1 0h1m0 0h1m0 0h1m0 0h1m1 0h1m4 0h1m-119 1h1m0 0h1m0 0h1m0 0h1m3 0h1m1 0h1m0 0h1m87 0h1m1 0h1m0 0h1m1 0h1m0 0h1m1 0h1m0 0h1m0 0h1m1 0h1m1 0h1m5 0h1m0 0h1m-122 1h1m0 0h1m0 0h1m0 0h1m0 0h1m0 0h1m3 0h1m0 0h1m0 0h1m2 0h1m84 0h1m2 0h1m3 0h1m2 0h1m0 0h1m0 0h1m0 0h1m0 0h1m0 0h1m0 0h1m0 0h1m2 0h1m-121 1h1m0 0h1m0 0h1m0 0h1m0 0h1m0 0h1m0 0h1m3 0h1m0 0h1m1 0h1m0 0h1m84 0h1m0 0h1m0 0h1m0 0h1m0 0h1m1 0h1m3 0h1m1 0h1m0 0h1m1 0h1m1 0h1m2 0h1m1 0h1m-120 1h1m0 0h1m0 0h1m0 0h1m0 0h1m3 0h1m0 0h1m0 0h1m0 0h1m0 0h1m85 0h1m0 0h1m4 0h1m0 0h1m1 0h1m0 0h1m2 0h1m0 0h1m0 0h1m0 0h1m0 0h1m0 0h1m2 0h1m-121 1h1m1 0h1m0 0h1m0 0h1m5 0h1m0 0h1m0 0h1m0 0h1m90 0h1m0 0h1m2 0h1m0 0h1m1 0h1m1 0h1m2 0h1m2 0h1m-119 1h1m1 0h1m0 0h1m0 0h1m4 0h1m1 0h1m0 0h1m0 0h1m89 0h1m1 0h1m0 0h1m3 0h1m2 0h1m0 0h1m1 0h1m0 0h1m0 0h1m-118 1h1m0 0h1m0 0h1m0 0h1m4 0h1m3 0h1m83 0h1m3 0h1m1 0h1m1 0h1m2 0h1m0 0h1m0 0h1m3 0h1m0 0h1m-117 1h1m0 0h1m0 0h1m0 0h1m0 0h1m5 0h1m0 0h1m0 0h1m0 0h1m0 0h1m84 0h1m0 0h1m0 0h1m1 0h1m2 0h1m0 0h1m1 0h1m0 0h1m0 0h1m1 0h1m0 0h1m-114 1h1m0 0h1m0 0h1m0 0h1m5 0h1m1 0h1m1 0h1m83 0h1m1 0h1m1 0h1m1 0h1m0 0h1m1 0h1m0 0h1m0 0h1m0 0h1m0 0h1m0 0h1m0 0h1m0 0h1m1 0h1m5 0h1m-121 1h1m0 0h1m6 0h1m0 0h1m0 0h1m0 0h1m85 0h1m0 0h1m0 0h1m0 0h1m0 0h1m0 0h1m0 0h1m3 0h1m0 0h1m0 0h1m0 0h1m1 0h1m0 0h1m1 0h1m-117 1h1m1 0h1m6 0h1m0 0h1m0 0h1m0 0h1m0 0h1m80 0h1m2 0h1m2 0h1m1 0h1m2 0h1m0 0h1m0 0h1m3 0h1m4 0h1m-118 1h1m0 0h1m0 0h1m0 0h1m0 0h1m5 0h1m0 0h1m0 0h1m78 0h1m0 0h1m0 0h1m0 0h1m1 0h1m0 0h1m0 0h1m0 0h1m0 0h1m0 0h1m1 0h1m0 0h1m3 0h1m1 0h1m0 0h1m4 0h1m0 0h1m-116 1h1m0 0h1m0 0h1m4 0h1m0 0h1m1 0h1m70 0h1m0 0h1m0 0h1m2 0h1m2 0h1m0 0h1m0 0h1m1 0h1m1 0h1m0 0h1m2 0h1m0 0h1m0 0h1m0 0h1m1 0h1m0 0h1m0 0h1m5 0h1m1 0h1m-117 1h1m0 0h1m0 0h1m0 0h1m0 0h1m4 0h1m0 0h1m0 0h1m70 0h1m2 0h1m0 0h1m3 0h1m0 0h1m1 0h1m0 0h1m0 0h1m0 0h1m2 0h1m0 0h1m0 0h1m4 0h1m6 0h1m0 0h1m0 0h1m0 0h1m0 0h1m-118 1h1m1 0h1m0 0h1m0 0h1m3 0h1m0 0h1m0 0h1m73 0h1m0 0h1m2 0h1m0 0h1m0 0h1m0 0h1m1 0h1m0 0h1m1 0h1m1 0h1m0 0h1m0 0h1m0 0h1m1 0h1m0 0h1m0 0h1m0 0h1m7 0h1m2 0h1m-118 1h1m0 0h1m0 0h1m0 0h1m0 0h1m4 0h1m0 0h1m0 0h1m71 0h1m0 0h1m0 0h1m0 0h1m2 0h1m0 0h1m0 0h1m1 0h1m0 0h1m0 0h1m2 0h1m0 0h1m0 0h1m0 0h1m1 0h1m1 0h1m-104 1h1m0 0h1m0 0h1m3 0h1m0 0h1m0 0h1m0 0h1m0 0h1m70 0h1m1 0h1m1 0h1m1 0h1m0 0h1m1 0h1m0 0h1m2 0h1m0 0h1m1 0h1m0 0h1m0 0h1m2 0h1m0 0h1m0 0h1m-107 1h1m0 0h1m1 0h1m0 0h1m4 0h1m0 0h1m0 0h1m0 0h1m72 0h1m0 0h1m1 0h1m0 0h1m1 0h1m1 0h1m1 0h1m0 0h1m1 0h1m1 0h1m1 0h1m4 0h1m-107 1h1m2 0h1m5 0h1m0 0h1m0 0h1m72 0h1m0 0h1m0 0h1m3 0h1m3 0h1m2 0h1m1 0h1m0 0h1m0 0h1m2 0h1m-104 1h1m0 0h1m0 0h1m5 0h1m0 0h1m67 0h1m4 0h1m0 0h1m0 0h1m6 0h1m0 0h1m1 0h1m2 0h1m2 0h1m0 0h1m0 0h1m0 0h1m-107 1h1m0 0h1m1 0h1m0 0h1m6 0h1m0 0h1m1 0h1m63 0h1m0 0h1m0 0h1m0 0h1m5 0h1m5 0h1m1 0h1m1 0h1m0 0h1m0 0h1m2 0h1m2 0h1m0 0h1m-105 1h1m0 0h1m0 0h1m6 0h1m0 0h1m0 0h1m1 0h1m61 0h1m1 0h1m12 0h1m0 0h1m3 0h1m0 0h1m0 0h1m5 0h1m0 0h1m-106 1h1m0 0h1m1 0h1m5 0h1m0 0h1m0 0h1m1 0h1m0 0h1m60 0h1m0 0h1m0 0h1m0 0h1m1 0h1m8 0h1m0 0h1m1 0h1m1 0h1m0 0h1m6 0h1m0 0h1m1 0h1m1 0h1m-106 1h1m6 0h1m0 0h1m0 0h1m0 0h1m0 0h1m53 0h1m4 0h1m1 0h1m1 0h1m2 0h1m8 0h1m1 0h1m1 0h1m0 0h1m0 0h1m0 0h1m1 0h1m4 0h1m0 0h1m0 0h1m1 0h1m-108 1h1m2 0h1m6 0h1m0 0h1m0 0h1m54 0h1m0 0h1m4 0h1m0 0h1m1 0h1m1 0h1m4 0h1m2 0h1m1 0h1m0 0h1m0 0h1m0 0h1m0 0h1m0 0h1m0 0h1m0 0h1m1 0h1m1 0h1m4 0h1m-105 1h1m0 0h1m1 0h1m6 0h1m1 0h1m0 0h1m0 0h1m43 0h1m6 0h1m0 0h1m0 0h1m0 0h1m1 0h1m2 0h1m0 0h1m0 0h1m4 0h1m0 0h1m4 0h1m0 0h1m3 0h1m0 0h1m0 0h1m2 0h1m1 0h1m5 0h1m0 0h1m-105 1h1m0 0h1m0 0h1m6 0h1m0 0h1m0 0h1m0 0h1m0 0h1m44 0h1m9 0h1m1 0h1m0 0h1m2 0h1m0 0h1m1 0h1m0 0h1m2 0h1m0 0h1m1 0h1m0 0h1m0 0h1m4 0h1m1 0h1m2 0h1m0 0h1m0 0h1m-98 1h1m0 0h1m7 0h1m0 0h1m1 0h1m0 0h1m42 0h1m0 0h1m0 0h1m5 0h1m0 0h1m0 0h1m0 0h1m0 0h1m2 0h1m1 0h1m1 0h1m0 0h1m0 0h1m3 0h1m2 0h1m0 0h1m2 0h1m4 0h1m0 0h1m0 0h1m0 0h1m-98 1h1m0 0h1m0 0h1m7 0h1m0 0h1m0 0h1m0 0h1m56 0h1m0 0h1m1 0h1m0 0h1m0 0h1m2 0h1m0 0h1m0 0h1m1 0h1m0 0h1m1 0h1m0 0h1m0 0h1m2 0h1m0 0h1m1 0h1m0 0h1m-95 1h1m0 0h1m0 0h1m7 0h1m0 0h1m0 0h1m0 0h1m49 0h1m3 0h1m3 0h1m0 0h1m0 0h1m0 0h1m0 0h1m1 0h1m0 0h1m0 0h1m0 0h1m0 0h1m0 0h1m1 0h1m0 0h1m1 0h1m1 0h1m0 0h1m1 0h1m1 0h1m1 0h1m-99 1h1m0 0h1m0 0h1m9 0h1m0 0h1m0 0h1m51 0h1m0 0h1m0 0h1m0 0h1m2 0h1m0 0h1m1 0h1m0 0h1m0 0h1m0 0h1m1 0h1m1 0h1m1 0h1m0 0h1m1 0h1m0 0h1m0 0h1m2 0h1m0 0h1m0 0h1m0 0h1m1 0h1m-98 1h1m1 0h1m0 0h1m0 0h1m7 0h1m0 0h1m0 0h1m0 0h1m40 0h1m1 0h1m1 0h1m0 0h1m3 0h1m1 0h1m0 0h1m0 0h1m2 0h1m0 0h1m0 0h1m0 0h1m3 0h1m1 0h1m0 0h1m2 0h1m1 0h1m0 0h1m3 0h1m1 0h1m0 0h1m0 0h1m-95 1h1m0 0h1m0 0h1m7 0h1m0 0h1m0 0h1m0 0h1m0 0h1m39 0h1m0 0h1m0 0h1m2 0h1m2 0h1m2 0h1m1 0h1m0 0h1m0 0h1m1 0h1m0 0h1m1 0h1m0 0h1m3 0h1m1 0h1m1 0h1m1 0h1m1 0h1m0 0h1m1 0h1m-91 1h1m0 0h1m0 0h1m7 0h1m0 0h1m0 0h1m0 0h1m0 0h1m28 0h1m0 0h1m8 0h1m0 0h1m0 0h1m0 0h1m1 0h1m2 0h1m2 0h1m0 0h1m0 0h1m1 0h1m0 0h1m0 0h1m0 0h1m0 0h1m1 0h1m4 0h1m0 0h1m0 0h1m2 0h1m-85 1h1m0 0h1m0 0h1m8 0h1m0 0h1m0 0h1m25 0h1m1 0h1m1 0h1m1 0h1m6 0h1m1 0h1m0 0h1m3 0h1m0 0h1m0 0h1m4 0h1m0 0h1m0 0h1m1 0h1m8 0h1m2 0h1m-83 1h1m0 0h1m0 0h1m8 0h1m0 0h1m0 0h1m0 0h1m19 0h1m1 0h1m0 0h1m0 0h1m2 0h1m1 0h1m0 0h1m0 0h1m0 0h1m0 0h1m2 0h1m0 0h1m1 0h1m0 0h1m0 0h1m0 0h1m0 0h1m1 0h1m0 0h1m2 0h1m1 0h1m0 0h1m0 0h1m0 0h1m1 0h1m11 0h1m0 0h1m-85 1h1m1 0h1m0 0h1m8 0h1m0 0h1m1 0h1m17 0h1m1 0h1m1 0h1m1 0h1m0 0h1m0 0h1m0 0h1m0 0h1m0 0h1m1 0h1m1 0h1m0 0h1m0 0h1m0 0h1m2 0h1m1 0h1m0 0h1m0 0h1m0 0h1m0 0h1m5 0h1m2 0h1m0 0h1m4 0h1m0 0h1m5 0h1m-83 1h1m0 0h1m0 0h1m0 0h1m8 0h1m3 0h1m12 0h1m0 0h1m0 0h1m0 0h1m2 0h1m0 0h1m0 0h1m0 0h1m1 0h1m1 0h1m0 0h1m0 0h1m0 0h1m0 0h1m0 0h1m3 0h1m1 0h1m0 0h1m0 0h1m1 0h1m1 0h1m7 0h1m0 0h1m6 0h1m1 0h1m5 0h1m-86 1h1m1 0h1m0 0h1m0 0h1m0 0h1m8 0h1m0 0h1m0 0h1m0 0h1m0 0h1m10 0h1m1 0h1m1 0h1m3 0h1m1 0h1m8 0h1m0 0h1m2 0h1m0 0h1m1 0h1m0 0h1m1 0h1m0 0h1m0 0h1m0 0h1m1 0h1m5 0h1m0 0h1m7 0h1m0 0h1m-80 1h1m0 0h1m0 0h1m1 0h1m9 0h1m0 0h1m0 0h1m0 0h1m2 0h1m2 0h1m0 0h1m1 0h1m1 0h1m0 0h1m0 0h1m0 0h1m1 0h1m0 0h1m0 0h1m1 0h1m0 0h1m1 0h1m0 0h1m0 0h1m0 0h1m1 0h1m1 0h1m0 0h1m0 0h1m0 0h1m4 0h1m0 0h1m0 0h1m0 0h1m1 0h1m0 0h1m1 0h1m0 0h1m4 0h1m14 0h1m0 0h1m0 0h1m-87 1h1m0 0h1m0 0h1m0 0h1m0 0h1m10 0h1m1 0h1m2 0h1m0 0h1m0 0h1m0 0h1m0 0h1m1 0h1m1 0h1m1 0h1m2 0h1m0 0h1m0 0h1m0 0h1m0 0h1m0 0h1m0 0h1m4 0h1m0 0h1m0 0h1m0 0h1m1 0h1m0 0h1m1 0h1m0 0h1m0 0h1m0 0h1m2 0h1m0 0h1m0 0h1m1 0h1m0 0h1m0 0h1m0 0h1m0 0h1m0 0h1m0 0h1m-67 1h1m0 0h1m11 0h1m0 0h1m0 0h1m0 0h1m1 0h1m1 0h1m0 0h1m0 0h1m1 0h1m0 0h1m0 0h1m1 0h1m0 0h1m1 0h1m0 0h1m1 0h1m1 0h1m0 0h1m0 0h1m2 0h1m0 0h1m1 0h1m0 0h1m0 0h1m1 0h1m2 0h1m0 0h1m2 0h1m0 0h1m0 0h1m0 0h1m2 0h1m3 0h1m-67 1h1m0 0h1m0 0h1m12 0h1m0 0h1m0 0h1m0 0h1m1 0h1m0 0h1m1 0h1m0 0h1m2 0h1m0 0h1m0 0h1m1 0h1m0 0h1m0 0h1m1 0h1m0 0h1m3 0h1m0 0h1m0 0h1m0 0h1m1 0h1m1 0h1m1 0h1m0 0h1m0 0h1m0 0h1m3 0h1m0 0h1m0 0h1m0 0h1m-60 1h1m0 0h1m14 0h1m0 0h1m0 0h1m1 0h1m0 0h1m0 0h1m0 0h1m0 0h1m0 0h1m0 0h1m0 0h1m0 0h1m0 0h1m0 0h1m0 0h1m0 0h1m0 0h1m1 0h1m0 0h1m1 0h1m3 0h1m0 0h1m1 0h1m2 0h1m2 0h1m0 0h1m0 0h1m0 0h1m0 0h1m0 0h1m2 0h1m0 0h1m-63 1h1m0 0h1m1 0h1m15 0h1m0 0h1m0 0h1m0 0h1m0 0h1m1 0h1m0 0h1m2 0h1m0 0h1m0 0h1m0 0h1m0 0h1m0 0h1m0 0h1m1 0h1m0 0h1m0 0h1m0 0h1m1 0h1m0 0h1m0 0h1m0 0h1m0 0h1m0 0h1m0 0h1m2 0h1m0 0h1m0 0h1m1 0h1m2 0h1m0 0h1m-61 1h1m0 0h1m1 0h1m16 0h1m3 0h1m0 0h1m0 0h1m2 0h1m1 0h1m1 0h1m0 0h1m0 0h1m0 0h1m0 0h1m0 0h1m0 0h1m0 0h1m1 0h1m0 0h1m1 0h1m0 0h1m2 0h1m2 0h1m0 0h1m2 0h1m0 0h1m-57 1h1m0 0h1m18 0h1m0 0h1m0 0h1m0 0h1m0 0h1m0 0h1m1 0h1m0 0h1m0 0h1m0 0h1m0 0h1m0 0h1m0 0h1m2 0h1m0 0h1m2 0h1m0 0h1m3 0h1m0 0h1m1 0h1m0 0h1m-51 1h1m0 0h1m0 0h1m18 0h1m0 0h1m1 0h1m0 0h1m0 0h1m1 0h1m0 0h1m3 0h1m0 0h1m4 0h1m0 0h1m0 0h1m0 0h1m0 0h1m2 0h1m1 0h1m0 0h1m0 0h1m-52 1h1m0 0h1m0 0h1m19 0h1m0 0h1m0 0h1m0 0h1m1 0h1m1 0h1m1 0h1m0 0h1m1 0h1m0 0h1m1 0h1m0 0h1m0 0h1m1 0h1m5 0h1m2 0h1m-49 1h1m21 0h1m0 0h1m0 0h1m0 0h1m0 0h1m0 0h1m1 0h1m0 0h1m1 0h1m0 0h1m1 0h1m0 0h1m-38 1h1m0 0h1m20 0h1m0 0h1m1 0h1m0 0h1m0 0h1m0 0h1m0 0h1m0 0h1m0 0h1m0 0h1m0 0h1m1 0h1m0 0h1m-37 1h1m21 0h1m0 0h1m1 0h1m0 0h1m0 0h1m1 0h1m1 0h1m0 0h1m0 0h1m0 0h1m-34 1h1m20 0h1m0 0h1m0 0h1m1 0h1m1 0h1m0 0h1m1 0h1m0 0h1m-32 1h1m20 0h1m0 0h1m1 0h1m3 0h1m2 0h1m-32 1h1m-1 1h1m-2 1h1m0 0h1m19 0h1m1 0h1m-22 1h1m18 0h1m0 0h1m0 0h1m-22 1h1m20 0h1m-21 1h1m16 0h1m0 0h1m-20 1h1m0 0h1m17 0h1m0 0h1m-19 1h1m14 0h1m1 0h1m-19 1h1m0 0h1m0 0h1m12 0h1m1 0h1m0 0h1m0 0h1m-20 1h1m1 0h1m0 0h1m10 0h1m0 0h1m-14 1h1m1 0h1m8 0h1m0 0h1m-13 1h1m1 0h1m0 0h1m0 0h1m4 0h1m0 0h1m0 0h1m0 0h1m0 0h1m-13 1h1m0 0h1m0 0h1m0 0h1m0 0h1m0 0h1m0 0h1m0 0h1m0 0h1m0 0h1m1 0h1m-11 1h1m1 0h1m4 0h1m-1 1h1" stroke="#3a1c96" stroke-opacity="0.85" stroke-width="1" fill="none"/>
<path d="M365.5 81.8 366.5 83.8 364.5 87.2 365.2 88.2 366.5 88.5 367.5 90.2 364.2 89.8 364.5 90.8 365.8 90.5 366.8 91.2 363.8 93.5 365.2 94.8 365.2 96.8 366.5 97.5 365.2 98.5 365.5 99.5 363.2 101.5 364.2 102.5 363.5 104.2 364.5 104.5 363.5 105.5 363.5 107.5 364.5 107.8 363.5 108.8 364.5 109.8 363.5 111.8 364.8 112.8 364.2 113.5 362.5 112.8 362.8 114.5 365.2 115.2 365.8 116.2 365.2 116.8 364.5 115.8 363.5 116.5 364.2 117.5 362.5 118.2 362.5 121.2 363.2 122.2 361.8 122.5 360.8 124.2 362.8 124.2 362.8 125.8 362.2 126.5 363.5 128.2 362.8 128.5 362.5 127.8 362.5 128.5 363.8 129.5 362.5 130.8 363.8 131.8 361.5 134.8 362.8 135.8 362.2 136.5 362.8 137.5 361.5 139.2 361.8 140.2 361.2 141.2 362.2 142.2 360.8 145.5 363.2 147.5 362.2 148.2 361.8 149.5 362.5 150.5 361.5 151.2 362.8 152.8 360.8 153.5 360.8 156.8 359.5 159.8 361.5 162.2 360.8 163.2 359.5 162.8 360.8 163.8 360.2 165.8 361.2 167.2 359.8 168.2 361.2 169.2 359.2 170.8 359.2 172.8 357.8 174.8 357.5 177.2 356.2 177.2 354.2 182.2 354.8 183.5 354.5 187.2 355.2 189.2 356.5 190.2 356.5 192.5 357.8 193.5 358.5 195.2 360.5 195.8 361.2 197.2 362.2 196.8 362.5 197.8 364.5 197.8 365.2 198.5 365.8 197.8 367.5 198.2 368.8 197.5 367.8 196.8 368.2 196.2 370.2 195.8 370.2 194.8 372.2 194.5 372.2 191.8 373.2 191.5 373.2 192.5 373.5 191.2 374.8 190.8 375.2 187.8 374.5 186.5 375.5 185.8 375.5 184.2 376.2 183.5 375.5 181.8 375.5 179.8 376.2 179.2 375.5 178.2 375.8 177.5 374.2 177.5 373.8 175.5 371.2 173.8 371.5 172.8 372.5 172.8 370.8 170.8 369.8 170.8 370.2 169.5 369.2 168.8 370.5 167.2 370.8 165.2 370.2 163.8 368.5 163.2 368.8 161.5 367.2 160.8 369.5 160.2 368.5 158.8 369.2 155.8 368.2 155.5 367.5 157.5 366.5 156.5 368.5 154.2 367.5 152.8 368.2 152.5 368.8 153.2 369.5 152.5 369.5 150.5 367.8 147.2 367.8 145.5 369.2 144.2 368.5 142.2 369.8 139.5 368.5 136.5 368.8 133.2 367.8 132.8 369.8 131.5 369.2 130.5 367.5 132.5 366.8 131.8 368.8 128.5 366.8 125.8 368.5 123.8 368.2 123.2 369.5 122.8 368.8 119.8 369.5 117.5 368.2 117.2 368.2 114.2 367.5 113.5 369.8 112.5 368.8 112.5 368.2 111.5 369.5 108.8 368.8 107.8 370.5 107.8 369.2 105.5 369.8 103.8 368.2 103.8 369.5 102.2 367.8 99.5 370.2 98.5 369.2 97.2 369.2 94.2 369.8 93.2 368.5 92.5 369.2 90.2 369.8 89.5 371.2 89.8 370.5 87.5 370.8 85.8 369.5 85.2 370.2 86.2 368.8 86.8 368.5 83.5 367.2 83.5 366.8 82.5Z" fill="#321e9e" fill-rule="evenodd"/>
<path d="M363.5 152.2 363.5 152.8 361.8 153.8 361.5 155.2 362.8 153.8 363.5 154.5 363.2 155.5 364.5 156.5 363.8 157.5 361.8 156.5 361.5 157.8 362.8 158.2 361.8 158.8 362.2 161.2 363.8 161.8 363.8 162.8 362.5 163.5 361.5 165.8 362.2 166.8 361.8 169.8 359.8 171.5 361.5 174.2 360.8 174.8 359.5 174.2 358.2 177.2 356.8 177.8 355.8 180.5 356.2 183.5 355.2 184.8 355.2 186.8 356.2 189.2 357.2 189.8 357.5 192.5 358.5 192.5 361.2 195.8 363.2 196.2 363.8 195.5 364.5 196.2 364.2 196.8 365.5 197.5 367.2 196.8 371.8 192.8 371.8 191.5 373.5 189.8 372.8 187.8 374.2 187.2 373.8 185.8 375.2 182.8 373.5 182.2 374.5 181.8 374.5 179.5 372.8 177.5 371.5 177.2 371.8 176.5 370.8 175.5 370.8 174.2 369.5 173.8 369.2 171.8 367.8 171.5 368.8 169.5 367.5 168.2 367.8 167.2 366.8 164.8 365.8 164.2 366.5 163.2 365.5 163.8 364.5 162.5 366.2 162.2 365.8 161.2 366.5 159.5 364.5 159.2 363.5 160.8 362.5 160.5 364.5 157.5 366.2 156.8 365.5 155.5 367.5 154.2 366.2 154.8 363.8 153.8 364.2 152.5Z" fill="#2832c8" fill-rule="evenodd"/>
<path d="M364.2 172.2 364.5 173.2 362.8 173.5 359.8 176.2 359.8 177.8 357.2 179.5 357.2 182.8 356.5 183.8 357.2 184.8 356.5 186.2 357.2 187.8 359.5 189.8 358.5 190.5 359.5 192.2 360.5 192.2 361.8 194.2 363.8 194.5 364.8 193.8 366.5 195.2 370.2 192.8 369.5 192.2 372.8 188.8 371.8 188.5 371.8 187.5 373.2 186.2 373.5 183.2 371.8 182.2 372.2 179.5 369.2 175.8 368.2 176.5 367.2 175.8 368.5 175.2Z" fill="#1e78d7" fill-rule="evenodd"/>
<path d="M365.8 174.8 363.2 175.5 358.8 179.2 357.8 183.5 357.8 187.2 359.8 189.5 359.8 190.8 360.5 190.8 361.5 192.5 364.2 192.8 365.8 193.8 366.8 193.5 367.5 192.2 368.5 192.2 369.8 189.5 371.2 189.2 371.8 185.2 370.8 179.2 368.8 177.8 368.8 176.8 367.5 176.5Z" fill="#1ea5d2" fill-rule="evenodd"/>
<path d="M362.5 177.5 361.2 179.2 361.2 180.5 359.5 180.8 359.8 182.8 359.2 186.5 361.2 188.8 361.2 189.8 362.2 189.5 364.2 191.5 366.8 191.5 369.2 188.5 370.2 185.8 369.5 183.8 370.5 182.5 369.2 180.8 369.2 179.5 364.2 177.2Z" fill="#24b478" fill-rule="evenodd"/>
<path d="M366.2 178.5 365.2 179.8 362.5 179.2 360.5 183.5 360.8 187.5 361.8 188.8 364.2 189.8 367.5 189.2 369.5 185.8 368.8 184.8 368.5 180.5Z" fill="#46be32" fill-rule="evenodd"/>
<path d="M365.5 180.5 363.5 180.5 363.8 181.5 361.8 182.8 361.2 184.8 363.2 186.2 362.2 186.8 361.5 186.2 361.5 187.5 362.8 188.5 363.8 188.2 364.5 189.2 365.5 187.5 367.5 187.5 367.2 186.8 367.8 186.5 368.5 183.8 367.8 182.2 366.8 182.2Z" fill="#bed71e" fill-rule="evenodd"/>
<path d="M366.5 182.2 363.5 182.5 362.2 183.5 361.8 184.8 363.8 186.2 363.8 187.8 366.2 186.8 366.8 184.5 367.8 184.2Z" fill="#f5dc14" fill-rule="evenodd"/>
<path d="M366.5 182.8 362.8 183.8 363.2 185.2 363.8 185.2 364.8 186.8 366.2 186.2Z" fill="#f58219" fill-rule="evenodd"/>
<path d="M364.89 220.50v3 M323.80 182.22h-3 M364.31 220.50v3 M323.80 182.77h-3 M365.18 220.50v3 M323.80 181.94h-3 M364.01 220.50v3 M323.80 183.04h-3 M365.48 220.50v3 M323.80 181.66h-3 M363.72 220.50v3 M323.80 183.31h-3 M365.77 220.50v3 M323.80 181.38h-3 M363.42 220.50v3 M323.80 183.58h-3 M366.06 220.50v3 M323.80 181.11h-3 M363.13 220.50v3 M323.80 183.84h-3 M366.35 220.50v3 M323.80 180.83h-3 M362.84 220.50v3 M323.80 184.11h-3 M366.64 220.50v3 M323.80 180.55h-3 M362.54 220.50v3 M323.80 184.38h-3 M366.94 220.50v3 M323.80 180.27h-3 M362.25 220.50v3 M323.80 184.65h-3 M367.23 220.50v3 M323.80 179.99h-3 M361.95 220.50v3 M323.80 184.92h-3 M367.52 220.50v3 M323.80 179.71h-3 M361.66 220.50v3 M323.80 185.19h-3 M370.44 220.50v3 M323.80 176.92h-3 M358.72 220.50v3 M323.80 187.88h-3 M373.36 220.50v3 M323.80 174.13h-3 M355.78 220.50v3 M323.80 190.57h-3 M376.28 220.50v3 M323.80 171.34h-3 M352.84 220.50v3 M323.80 193.26h-3 M379.20 220.50v3 M323.80 168.55h-3 M349.90 220.50v3 M323.80 195.95h-3 M382.12 220.50v3 M323.80 165.76h-3 M346.96 220.50v3 M323.80 198.64h-3 M385.04 220.50v3 M323.80 162.97h-3 M344.02 220.50v3 M323.80 201.33h-3 M387.96 220.50v3 M323.80 160.18h-3 M341.08 220.50v3 M323.80 204.02h-3 M390.88 220.50v3 M323.80 157.39h-3 M338.14 220.50v3 M323.80 206.71h-3 M393.80 220.50v5 M323.80 154.60h-5 M335.20 220.50v5 M323.80 209.40h-5 M408.55 220.50v3 M323.80 141.17h-3 M417.18 220.50v3 M323.80 133.32h-3 M423.30 220.50v3 M323.80 127.75h-3 M428.05 220.50v3 M323.80 123.43h-3 M431.93 220.50v3 M323.80 119.89h-3 M435.21 220.50v3 M323.80 116.91h-3 M438.05 220.50v3 M323.80 114.32h-3 M440.56 220.50v3 M323.80 112.04h-3 M442.80 220.50v5 M323.80 110.00h-5 M455.62 220.50v3 M323.80 97.96h-3 M463.13 220.50v3 M323.80 90.92h-3 M468.45 220.50v3 M323.80 85.92h-3 M472.58 220.50v3 M323.80 82.04h-3 M475.95 220.50v3 M323.80 78.87h-3 M478.80 220.50v3 M323.80 76.20h-3 M481.27 220.50v3 M323.80 73.88h-3 M483.45 220.50v3 M323.80 71.83h-3 M485.40 220.50v5 M323.80 70.00h-5 M498.22 220.50v3 M323.80 57.96h-3 M364.60 220.50v5 M323.80 182.50h-5" stroke="#111" stroke-width="1" fill="none"/>
<rect x="323.8" y="54.5" width="180" height="166" fill="none" stroke="#111" stroke-width="1.3"/>
<text x="335.7" y="243.7" text-anchor="middle" font-size="13">−10<tspan font-size="7.4" dy="-5.6" dx="0.7">3</tspan></text>
<text x="367.6" y="243.7" text-anchor="middle" font-size="13">0</text>
<text x="394.6" y="243.7" text-anchor="middle" font-size="13">10<tspan font-size="7.4" dy="-5.6" dx="0.7">3</tspan></text>
<text x="443.6" y="243.7" text-anchor="middle" font-size="13">10<tspan font-size="7.4" dy="-5.6" dx="0.7">4</tspan></text>
<text x="486.2" y="243.7" text-anchor="middle" font-size="13">10<tspan font-size="7.4" dy="-5.6" dx="0.7">5</tspan></text>
<text x="311.8" y="71.6" text-anchor="end" font-size="13">10<tspan font-size="7.4" dy="-5.6" dx="0.7">5</tspan></text>
<text x="311.8" y="111.6" text-anchor="end" font-size="13">10<tspan font-size="7.4" dy="-5.6" dx="0.7">4</tspan></text>
<text x="311.8" y="156.2" text-anchor="end" font-size="13">10<tspan font-size="7.4" dy="-5.6" dx="0.7">3</tspan></text>
<text x="311.8" y="184.1" text-anchor="end" font-size="13">0</text>
<text x="311.8" y="211.0" text-anchor="end" font-size="13">−10<tspan font-size="7.4" dy="-5.6" dx="0.7">3</tspan></text>
<rect x="347.1" y="58.0" width="33" height="113" fill="none" stroke="#222" stroke-width="1.2"/>
<rect x="384.8" y="58.0" width="111.5" height="158.5" fill="none" stroke="#222" stroke-width="1.2"/>
<path d="M152 260.5h1m21 0h1m-42 1h1m0 1h1m31 0h1m4 0h1m60 0h1m14 0h1m13 0h1m-108 1h1m13 0h1m4 0h1m-21 1h1m0 0h1m2 0h1m8 0h1m64 0h1m30 0h1m-130 1h1m135 0h1m-138 1h1m56 0h1m-55 1h1m16 0h1m20 0h1m82 0h1m-123 1h1m0 0h1m66 0h1m-52 1h1m85 0h1m-110 1h1m3 0h1m19 0h1m0 0h1m71 0h1m-74 1h1m10 0h1m30 0h1m49 0h1m1 0h1m-115 1h1m23 0h1m7 0h1m22 0h1m-60 1h1m2 0h1m25 0h1m26 0h1m-35 1h1m1 0h1m17 0h1m35 0h1m-56 1h1m5 0h1m44 0h1m13 0h1m22 0h1m3 0h1m7 0h1m-129 1h1m6 0h1m19 0h1m2 0h1m17 0h1m41 0h1m11 0h1m20 0h1m-119 1h1m1 0h1m1 0h1m17 0h1m16 0h1m-42 1h1m22 0h1m82 0h1m26 0h1m6 0h1m-83 1h1m51 0h1m-113 1h1m6 0h1m17 0h1m31 0h1m26 0h1m18 0h1m13 0h1m-93 1h1m0 0h1m2 0h1m64 0h1m27 0h1m15 0h1m-139 1h1m34 0h1m14 0h1m24 0h1m19 0h1m41 0h1m-135 1h1m0 0h1m1 0h1m18 0h1m92 0h1m-116 1h1m24 0h1m2 0h1m30 0h1m57 0h1m15 0h1m8 0h1m-142 1h1m0 1h1m18 0h1m1 0h1m89 0h1m6 0h1m-95 1h1m2 0h1m42 0h1m30 0h1m26 0h1m2 0h1m-134 1h1m26 0h1m29 0h1m85 0h1m-122 1h1m0 0h1m33 0h1m-37 1h1m74 0h1m41 0h1m-139 1h1m20 0h1m37 0h1m17 0h1m9 0h1m31 0h1m14 0h1m8 0h1m-114 1h1m103 0h1m-137 1h1m60 0h1m6 0h1m8 0h1m61 0h1m-138 1h1m20 0h1m12 0h1m25 0h1m8 0h1m23 0h1m28 0h1m-129 1h1m6 0h1m18 0h1m0 0h1m9 0h1m53 0h1m10 0h1m16 0h1m14 0h1m-129 1h1m22 0h1m19 0h1m3 0h1m2 0h1m53 0h1m5 0h1m-114 1h1m33 0h1m85 0h1m-97 1h1m16 0h1m5 0h1m-46 1h1m20 0h1m4 0h1m110 0h1m-26 1h1m24 0h1m0 0h1m-140 1h1m38 0h1m28 0h1m9 0h1m54 0h1m-102 1h1m1 0h1m7 0h1m37 0h1m19 0h1m3 0h1m-103 1h1m19 0h1m1 0h1m65 0h1m4 0h1m-71 1h1m7 0h1m13 0h1m55 0h1m-112 1h1m41 0h1m1 0h1m45 0h1m2 0h1m2 0h1m28 0h1m-92 1h1m2 0h1m83 0h1m2 0h1m25 0h1m-104 1h1m49 0h1m17 0h1m28 0h1m-105 1h1m2 0h1m13 0h1m0 0h1m1 0h1m3 0h1m47 0h1m22 0h1m-88 1h1m29 0h1m13 0h1m15 0h1m25 0h1m-126 1h1m0 0h1m18 0h1m1 0h1m0 0h1m20 0h1m61 0h1m16 0h1m1 0h1m-126 1h1m127 0h1m-5 1h1m-128 1h1m21 0h1m31 0h1m13 0h1m13 0h1m-61 1h1m31 0h1m23 0h1m43 0h1m15 0h1m-136 1h1m20 0h1m5 0h1m3 0h1m-36 1h1m22 0h1m3 0h1m110 0h1m-104 1h1m49 0h1m39 0h1m2 0h1m-126 1h1m33 0h1m16 0h1m17 0h1m11 0h1m63 0h1m-94 1h1m57 0h1m1 0h1m15 0h1m16 0h1m-148 1h1m25 0h1m13 0h1m24 0h1m14 0h1m25 0h1m33 0h1m-119 1h1m10 0h1m10 0h1m41 0h1m2 0h1m-66 1h1m6 0h1m27 0h1m46 0h1m16 0h1m-123 1h1m20 0h1m8 0h1m15 0h1m0 0h1m17 0h1m46 0h1m-90 1h1m12 0h1m39 0h1m39 0h1m-87 1h1m12 0h1m35 0h1m11 0h1m31 0h1m7 0h1m-101 1h1m31 0h1m17 0h1m40 0h1m-123 1h1m19 0h1m83 0h1m7 0h1m-113 1h1m0 0h1m20 0h1m13 0h1m4 0h1m13 0h1m54 0h1m22 0h1m-91 1h1m-43 1h1m73 0h1m19 0h1m-73 1h1m0 0h1m32 0h1m20 0h1m17 0h1m3 0h1m31 0h1m3 0h1m-138 1h1m21 0h1m93 0h1m2 0h1m23 0h1m-122 1h1m2 0h1m18 0h1m57 0h1m4 0h1m4 0h1m2 0h1m6 0h1m-123 1h1m44 0h1m58 0h1m1 0h1m16 0h1m-124 1h1m52 0h1m3 0h1m50 0h1m8 0h1m-120 1h1m22 0h1m74 0h1m50 0h1m-127 1h1m1 0h1m38 0h1m45 0h1m14 0h1m3 0h1m2 0h1m3 0h1m10 0h1m-145 1h1m20 0h1m5 0h1m75 0h1m28 0h1m8 0h1m-147 1h1m4 0h1m35 0h1m9 0h1m62 0h1m-110 1h1m20 0h1m16 0h1m34 0h1m27 0h1m0 0h1m0 0h1m1 0h1m16 0h1m14 0h1m-142 1h1m23 0h1m10 0h1m16 0h1m18 0h1m23 0h1m11 0h1m2 0h1m1 0h1m2 0h1m5 0h1m9 0h1m-133 1h1m25 0h1m9 0h1m46 0h1m67 0h1m-150 1h1m72 0h1m36 0h1m1 0h1m5 0h1m9 0h1m0 0h1m-97 1h1m10 0h1m22 0h1m1 0h1m6 0h1m14 0h1m19 0h1m2 0h1m28 0h1m0 0h1m-150 1h1m29 0h1m59 0h1m30 0h1m3 0h1m1 0h1m3 0h1m5 0h1m10 0h1m-142 1h1m21 0h1m31 0h1m23 0h1m3 0h1m12 0h1m5 0h1m3 0h1m1 0h1m1 0h1m20 0h1m2 0h1m3 0h1m9 0h1m-114 1h1m2 0h1m32 0h1m11 0h1m9 0h1m6 0h1m15 0h1m22 0h1m8 0h1m-150 1h1m22 0h1m41 0h1m22 0h1m8 0h1m10 0h1m8 0h1m11 0h1m-84 1h1m55 0h1m2 0h1m4 0h1m0 0h1m0 0h1m5 0h1m8 0h1m3 0h1m11 0h1m-78 1h1m18 0h1m5 0h1m5 0h1m1 0h1m5 0h1m5 0h1m5 0h1m0 0h1m3 0h1m4 0h1m13 0h1m3 0h1m-123 1h1m63 0h1m2 0h1m6 0h1m7 0h1m3 0h1m2 0h1m2 0h1m-93 1h1m3 0h1m11 0h1m32 0h1m7 0h1m26 0h1m7 0h1m3 0h1m4 0h1m-123 1h1m80 0h1m5 0h1m14 0h1m6 0h1m5 0h1m1 0h1m5 0h1m1 0h1m5 0h1m0 0h1m-137 1h1m26 0h1m1 0h1m4 0h1m0 0h1m27 0h1m36 0h1m8 0h1m2 0h1m14 0h1m-82 1h1m43 0h1m3 0h1m4 0h1m7 0h1m5 0h1m6 0h1m1 0h1m4 0h1m3 0h1m3 0h1m-132 1h1m29 0h1m0 0h1m51 0h1m19 0h1m3 0h1m13 0h1m1 0h1m1 0h1m-128 1h1m24 0h1m26 0h1m36 0h1m7 0h1m0 0h1m7 0h1m1 0h1m0 0h1m3 0h1m0 0h1m0 0h1m2 0h1m1 0h1m8 0h1m0 0h1m2 0h1m4 0h1m0 0h1m7 0h1m-151 1h1m3 0h1m22 0h1m7 0h1m5 0h1m1 0h1m12 0h1m2 0h1m11 0h1m22 0h1m4 0h1m2 0h1m8 0h1m6 0h1m6 0h1m2 0h1m16 0h1m0 0h1m-148 1h1m27 0h1m10 0h1m4 0h1m6 0h1m43 0h1m3 0h1m1 0h1m4 0h1m0 0h1m2 0h1m1 0h1m0 0h1m2 0h1m3 0h1m1 0h1m2 0h1m0 0h1m2 0h1m0 0h1m3 0h1m0 0h1m3 0h1m4 0h1m-140 1h1m25 0h1m8 0h1m42 0h1m17 0h1m8 0h1m0 0h1m3 0h1m0 0h1m1 0h1m3 0h1m8 0h1m1 0h1m7 0h1m-144 1h1m4 0h1m2 0h1m44 0h1m3 0h1m26 0h1m7 0h1m9 0h1m5 0h1m6 0h1m0 0h1m0 0h1m2 0h1m1 0h1m0 0h1m0 0h1m2 0h1m5 0h1m1 0h1m4 0h1m0 0h1m3 0h1m2 0h1m3 0h1m1 0h1m-125 1h1m30 0h1m12 0h1m19 0h1m3 0h1m1 0h1m6 0h1m2 0h1m3 0h1m5 0h1m1 0h1m3 0h1m5 0h1m1 0h1m15 0h1m-122 1h1m16 0h1m15 0h1m9 0h1m4 0h1m23 0h1m0 0h1m3 0h1m2 0h1m2 0h1m4 0h1m1 0h1m2 0h1m2 0h1m0 0h1m0 0h1m2 0h1m0 0h1m1 0h1m9 0h1m-102 1h1m33 0h1m5 0h1m14 0h1m9 0h1m0 0h1m1 0h1m5 0h1m1 0h1m0 0h1m2 0h1m4 0h1m1 0h1m0 0h1m0 0h1m6 0h1m10 0h1m2 0h1m-147 1h1m22 0h1m49 0h1m3 0h1m5 0h1m7 0h1m5 0h1m1 0h1m4 0h1m0 0h1m4 0h1m2 0h1m0 0h1m1 0h1m1 0h1m5 0h1m8 0h1m2 0h1m9 0h1m0 0h1m-147 1h1m35 0h1m5 0h1m19 0h1m6 0h1m16 0h1m7 0h1m4 0h1m6 0h1m0 0h1m1 0h1m4 0h1m2 0h1m10 0h1m1 0h1m1 0h1m3 0h1m1 0h1m-117 1h1m4 0h1m20 0h1m6 0h1m7 0h1m6 0h1m5 0h1m3 0h1m5 0h1m1 0h1m1 0h1m1 0h1m0 0h1m6 0h1m1 0h1m1 0h1m6 0h1m1 0h1m9 0h1m3 0h1m14 0h1m3 0h1m-150 1h1m0 0h1m31 0h1m45 0h1m1 0h1m9 0h1m1 0h1m11 0h1m0 0h1m2 0h1m1 0h1m11 0h1m2 0h1m4 0h1m1 0h1m0 0h1m2 0h1m1 0h1m2 0h1m0 0h1m-95 1h1m28 0h1m12 0h1m5 0h1m0 0h1m2 0h1m1 0h1m6 0h1m2 0h1m3 0h1m9 0h1m4 0h1m3 0h1m0 0h1m-136 1h1m51 0h1m8 0h1m0 0h1m1 0h1m0 0h1m13 0h1m16 0h1m0 0h1m8 0h1m2 0h1m0 0h1m1 0h1m2 0h1m11 0h1m5 0h1m1 0h1m1 0h1m2 0h1m5 0h1m-107 1h1m5 0h1m1 0h1m18 0h1m1 0h1m2 0h1m1 0h1m2 0h1m7 0h1m1 0h1m3 0h1m0 0h1m7 0h1m0 0h1m0 0h1m1 0h1m9 0h1m12 0h1m1 0h1m3 0h1m0 0h1m9 0h1m3 0h1m-151 1h1m40 0h1m3 0h1m18 0h1m14 0h1m7 0h1m4 0h1m0 0h1m0 0h1m0 0h1m5 0h1m0 0h1m4 0h1m5 0h1m6 0h1m8 0h1m2 0h1m0 0h1m3 0h1m5 0h1m2 0h1m-120 1h1m32 0h1m6 0h1m4 0h1m2 0h1m4 0h1m1 0h1m1 0h1m3 0h1m0 0h1m0 0h1m4 0h1m2 0h1m1 0h1m5 0h1m25 0h1m17 0h1m0 0h1m-151 1h1m38 0h1m3 0h1m1 0h1m24 0h1m4 0h1m3 0h1m2 0h1m0 0h1m2 0h1m0 0h1m1 0h1m6 0h1m2 0h1m3 0h1m17 0h1m10 0h1m2 0h1m2 0h1m-94 1h1m4 0h1m2 0h1m3 0h1m4 0h1m4 0h1m1 0h1m3 0h1m4 0h1m1 0h1m0 0h1m0 0h1m0 0h1m17 0h1m0 0h1m0 0h1m31 0h1m7 0h1m-145 1h1m27 0h1m15 0h1m3 0h1m0 0h1m7 0h1m7 0h1m0 0h1m8 0h1m0 0h1m4 0h1m0 0h1m3 0h1m0 0h1m50 0h1m1 0h1m1 0h1m-143 1h1m0 0h1m33 0h1m10 0h1m2 0h1m9 0h1m0 0h1m4 0h1m0 0h1m1 0h1m7 0h1m0 0h1m0 0h1m5 0h1m18 0h1m31 0h1m1 0h1m0 0h1m0 0h1m0 0h1m-144 1h1m33 0h1m1 0h1m0 0h1m0 0h1m9 0h1m1 0h1m4 0h1m0 0h1m1 0h1m1 0h1m1 0h1m11 0h1m5 0h1m8 0h1m15 0h1m36 0h1m1 0h1m-106 1h1m1 0h1m0 0h1m0 0h1m2 0h1m1 0h1m1 0h1m2 0h1m0 0h1m0 0h1m8 0h1m0 0h1m2 0h1m0 0h1m4 0h1m2 0h1m0 0h1m8 0h1m1 0h1m49 0h1m2 0h1m5 0h1m2 0h1m-112 1h1m3 0h1m0 0h1m17 0h1m2 0h1m8 0h1m1 0h1m1 0h1m0 0h1m0 0h1m1 0h1m2 0h1m55 0h1m-144 1h1m47 0h1m89 0h1m3 0h1m-142 1h1m57 0h1m76 0h1m-136 1h1m59 0h1m73 0h1m8 0h1m4 0h1m-148 1h1m94 0h1m37 0h1m7 0h1m2 0h1m-52 1h1m37 0h1m0 0h1m1 0h1m1 0h1m0 0h1m0 0h1m1 0h1m1 0h1m-48 1h1m40 0h1m1 0h1m-20 1h1m2 0h1m8 0h1m3 0h1m0 0h1m2 0h1m9 0h1m-151 1h1m0 0h1m93 0h1m24 0h1m4 0h1m1 0h1m10 0h1m-42 1h1m1 0h1m19 0h1m0 0h1m11 0h1m2 0h1m0 0h1m2 0h1m2 0h1m-59 1h1m0 0h1m9 0h1m1 0h1m16 0h1m0 0h1m1 0h1m0 0h1m2 0h1m6 0h1m0 0h1m2 0h1m3 0h1m-136 1h1m52 0h1m14 0h1m6 0h1m5 0h1m3 0h1m8 0h1m4 0h1m1 0h1m0 0h1m2 0h1m1 0h1m8 0h1m2 0h1m2 0h1m3 0h1m3 0h1m-134 1h1m2 0h1m55 0h1m0 0h1m1 0h1m5 0h1m1 0h1m0 0h1m1 0h1m6 0h1m3 0h1m3 0h1m2 0h1m0 0h1m1 0h1m0 0h1m2 0h1m0 0h1m0 0h1m6 0h1m1 0h1m5 0h1m1 0h1m6 0h1m6 0h1m6 0h1m1 0h1m-141 1h1m53 0h1m1 0h1m1 0h1m4 0h1m0 0h1m6 0h1m5 0h1m3 0h1m1 0h1m2 0h1m0 0h1m0 0h1m1 0h1m2 0h1m2 0h1m4 0h1m1 0h1m3 0h1m2 0h1m0 0h1m0 0h1m0 0h1m5 0h1m6 0h1m5 0h1m1 0h1m-132 1h1m51 0h1m3 0h1m5 0h1m1 0h1m1 0h1m1 0h1m1 0h1m0 0h1m1 0h1m0 0h1m2 0h1m0 0h1m0 0h1m10 0h1m6 0h1m0 0h1m4 0h1m3 0h1m4 0h1m4 0h1m0 0h1m0 0h1m3 0h1m1 0h1m0 0h1m2 0h1m5 0h1m5 0h1m-98 1h1m4 0h1m2 0h1m3 0h1m4 0h1m1 0h1m0 0h1m1 0h1m4 0h1m0 0h1m3 0h1m2 0h1m8 0h1m1 0h1m2 0h1m3 0h1m3 0h1m3 0h1m3 0h1m0 0h1m6 0h1m4 0h1m9 0h1m0 0h1m-134 1h1m42 0h1m2 0h1m0 0h1m0 0h1m7 0h1m0 0h1m2 0h1m16 0h1m0 0h1m0 0h1m3 0h1m8 0h1m1 0h1m2 0h1m1 0h1m8 0h1m0 0h1m0 0h1m4 0h1m3 0h1m7 0h1m0 0h1m-93 1h1m3 0h1m1 0h1m6 0h1m2 0h1m14 0h1m4 0h1m1 0h1m3 0h1m2 0h1m5 0h1m0 0h1m7 0h1m2 0h1m3 0h1m12 0h1m2 0h1m20 0h1m-107 1h1m4 0h1m11 0h1m12 0h1m0 0h1m3 0h1m3 0h1m0 0h1m3 0h1m3 0h1m4 0h1m6 0h1m1 0h1m5 0h1m19 0h1m2 0h1m4 0h1m-97 1h1m9 0h1m1 0h1m9 0h1m7 0h1m3 0h1m11 0h1m7 0h1m3 0h1m0 0h1m13 0h1m11 0h1m1 0h1m-123 1h1m31 0h1m1 0h1m2 0h1m1 0h1m3 0h1m10 0h1m3 0h1m9 0h1m0 0h1m8 0h1m-44 1h1m4 0h1m4 0h1m1 0h1m20 0h1m1 0h1m9 0h1m12 0h1m6 0h1m0 0h1m-59 1h1m4 0h1m20 0h1m0 0h1m35 0h1m-109 1h1m33 0h1m24 0h1m16 0h1m6 0h1m42 0h1m3 0h1m-128 1h1m39 0h1m48 0h1m27 0h1m-90 1h1m2 0h1m17 0h1m-49 1h1m25 0h1m77 0h1m30 0h1m-138 1h1m1 0h1m27 0h1m46 1h1m-80 1h1m3 0h1m0 0h1m27 1h1m-29 1h1m21 0h1m-23 1h1m30 1h1m-31 1h1m26 0h1m-11 2h1m2 0h1m-23 1h1m18 0h1m3 0h1m-20 1h1m1 0h1m3 0h1m0 0h1m1 0h1m19 0h1m-29 1h1m2 0h1m0 0h1m3 0h1m1 0h1m0 0h1m1 0h1m-14 1h1m5 0h1m5 0h1m3 0h1m10 0h1m-29 1h1m2 0h1m3 0h1m1 0h1m6 0h1m0 0h1m5 0h1m4 0h1m-21 1h1m0 0h1m1 0h1m0 0h1m-2 1h1m1 0h1m1 0h1m9 1h1" stroke="#403a86" stroke-opacity="0.68" stroke-width="1" fill="none"/>
<path d="M142 260.5h1m0 0h1m0 0h1m0 0h1m0 0h1m0 0h1m1 0h1m0 0h1m-13 1h1m0 0h1m0 0h1m0 0h1m0 0h1m0 0h1m2 0h1m0 0h1m0 0h1m0 0h1m0 0h1m0 0h1m-16 1h1m0 0h1m0 0h1m1 0h1m0 0h1m0 0h1m3 0h1m0 0h1m0 0h1m0 0h1m1 0h1m-16 1h1m1 0h1m0 0h1m0 0h1m0 0h1m5 0h1m0 0h1m-14 1h1m0 0h1m0 0h1m0 0h1m0 0h1m0 0h1m6 0h1m0 0h1m0 0h1m1 0h1m-16 1h1m0 0h1m0 0h1m0 0h1m0 0h1m5 0h1m0 0h1m0 0h1m0 0h1m1 0h1m0 0h1m-16 1h1m0 0h1m0 0h1m6 0h1m0 0h1m0 0h1m1 0h1m0 0h1m0 0h1m-15 1h1m0 0h1m6 0h1m0 0h1m0 0h1m0 0h1m0 0h1m-15 1h1m2 0h1m6 0h1m0 0h1m0 0h1m0 0h1m-12 1h1m7 0h1m0 0h1m0 0h1m-15 1h1m1 0h1m0 0h1m0 0h1m7 0h1m0 0h1m-13 1h1m0 0h1m0 0h1m8 0h1m0 0h1m0 0h1m0 0h1m-17 1h1m0 0h1m0 0h1m1 0h1m8 0h1m-12 1h1m0 0h1m8 0h1m0 0h1m0 0h1m0 0h1m0 0h1m-16 1h1m1 0h1m0 0h1m7 0h1m2 0h1m-16 1h1m1 0h1m0 0h1m0 0h1m7 0h1m0 0h1m-13 1h1m1 0h1m8 0h1m0 0h1m1 0h1m-13 1h1m8 0h1m0 0h1m0 0h1m0 0h1m-15 1h1m0 0h1m0 0h1m9 0h1m1 0h1m-17 1h1m1 0h1m10 0h1m0 0h1m-15 1h1m0 0h1m1 0h1m9 0h1m0 0h1m0 0h1m-16 1h1m1 0h1m0 0h1m9 0h1m0 0h1m-16 1h1m0 0h1m0 0h1m1 0h1m8 0h1m0 0h1m0 0h1m-16 1h1m1 0h1m0 0h1m0 0h1m8 0h1m0 0h1m0 0h1m-16 1h1m0 0h1m0 0h1m0 0h1m9 0h1m0 0h1m0 0h1m-17 1h1m0 0h1m0 0h1m1 0h1m9 0h1m0 0h1m0 0h1m-16 1h1m0 0h1m0 0h1m10 0h1m0 0h1m1 0h1m-18 1h1m0 0h1m0 0h1m0 0h1m0 0h1m9 0h1m1 0h1m-14 1h1m0 0h1m8 0h1m0 0h1m0 0h1m0 0h1m-16 1h1m0 0h1m0 0h1m9 0h1m0 0h1m1 0h1m-16 1h1m0 0h1m0 0h1m0 0h1m8 0h1m0 0h1m0 0h1m0 0h1m-17 1h1m0 0h1m0 0h1m0 0h1m0 0h1m8 0h1m0 0h1m0 0h1m0 0h1m0 0h1m-17 1h1m0 0h1m0 0h1m9 0h1m0 0h1m0 0h1m0 0h1m-17 1h1m1 0h1m0 0h1m9 0h1m-14 1h1m1 0h1m0 0h1m9 0h1m0 0h1m1 0h1m-17 1h1m1 0h1m10 0h1m1 0h1m-16 1h1m1 0h1m11 0h1m1 0h1m-17 1h1m1 0h1m10 0h1m0 0h1m0 0h1m0 0h1m-17 1h1m0 0h1m13 0h1m0 0h1m-17 1h1m0 0h1m0 0h1m11 0h1m0 0h1m-17 1h1m2 0h1m10 0h1m0 0h1m0 0h1m-18 1h1m1 0h1m0 0h1m0 0h1m10 0h1m0 0h1m0 0h1m-18 1h1m1 0h1m0 0h1m0 0h1m10 0h1m0 0h1m0 0h1m-18 1h1m3 0h1m12 0h1m-17 1h1m1 0h1m10 0h1m0 0h1m1 0h1m-16 1h1m0 0h1m10 0h1m1 0h1m-16 1h1m0 0h1m0 0h1m10 0h1m0 0h1m0 0h1m-17 1h1m0 0h1m0 0h1m12 0h1m1 0h1m-18 1h1m1 0h1m0 0h1m10 0h1m0 0h1m0 0h1m0 0h1m-18 1h1m2 0h1m10 0h1m-14 1h1m0 0h1m11 0h1m0 0h1m0 0h1m0 0h1m-17 1h1m12 0h1m1 0h1m-18 1h1m2 0h1m11 0h1m-15 1h1m1 0h1m11 0h1m-16 1h1m1 0h1m0 0h1m11 0h1m0 0h1m-16 1h1m0 0h1m12 0h1m0 0h1m-17 1h1m0 0h1m0 0h1m12 0h1m0 0h1m-18 1h1m1 0h1m0 0h1m0 0h1m11 0h1m-17 1h1m0 0h1m2 0h1m11 0h1m0 0h1m0 0h1m-19 1h1m1 0h1m0 0h1m0 0h1m10 0h1m2 0h1m-18 1h1m0 0h1m0 0h1m11 0h1m0 0h1m0 0h1m-18 1h1m2 0h1m11 0h1m0 0h1m0 0h1m0 0h1m-19 1h1m1 0h1m0 0h1m11 0h1m0 0h1m-17 1h1m0 0h1m0 0h1m0 0h1m11 0h1m0 0h1m1 0h1m-19 1h1m0 0h1m1 0h1m13 0h1m-18 1h1m0 0h1m13 0h1m1 0h1m0 0h1m-18 1h1m0 0h1m12 0h1m1 0h1m0 0h1m-4 1h1m-16 1h1m0 0h1m0 0h1m-2 1h1m0 0h1m12 0h1m0 0h1m-16 1h1m0 0h1m13 0h1m0 0h1m-17 1h1m0 0h1m12 0h1m0 0h1m1 0h1m-18 1h1m0 0h1m12 0h1m0 0h1m0 0h1m0 0h1m-18 1h1m0 0h1m12 0h1m0 0h1m0 0h1m-18 1h1m1 0h1m12 0h1m0 0h1m0 0h1m-18 1h1m0 0h1m14 0h1m-17 1h1m0 0h1m13 0h1m0 0h1m-17 1h1m13 0h1m0 0h1m1 0h1m-19 1h1m0 0h1m0 0h1m13 0h1m-16 1h1m14 0h1m-17 1h1m0 0h1m14 0h1m-16 1h1m13 0h1m0 0h1m0 0h1m0 0h1m-19 1h1m1 0h1m12 0h1m1 0h1m-17 1h1m0 0h1m12 0h1m0 0h1m-16 1h1m0 0h1m12 0h1m0 0h1m1 0h1m-19 1h1m1 0h1m12 0h1m0 0h1m0 0h1m0 0h1m-20 1h1m0 0h1m0 0h1m0 0h1m12 0h1m0 0h1m0 0h1m0 0h1m-19 1h1m0 0h1m13 0h1m0 0h1m0 0h1m0 0h1m-18 1h1m14 0h1m0 0h1m0 0h1m-4 1h1m0 0h1m-17 1h1m0 0h1m14 0h1m0 0h1m-2 1h1m1 0h1m-18 1h1m14 0h1m0 0h1m-19 1h1m0 0h1m0 0h1m15 0h1m-19 1h1m1 0h1m14 0h1m-16 1h1m14 0h1m0 0h1m0 0h1m-20 1h1m1 0h1m14 0h1m-19 1h1m1 0h1m0 0h1m13 0h1m0 0h1m1 0h1m-19 1h1m0 0h1m13 0h1m-17 1h1m0 0h1m14 0h1m0 0h1m1 0h1m-20 1h1m0 0h1m0 0h1m14 0h1m0 0h1m-18 1h1m15 0h1m91 0h1m0 0h1m-111 1h1m0 0h1m0 0h1m14 0h1m-18 1h1m0 0h1m15 0h1m0 0h1m0 0h1m-20 1h1m0 0h1m16 0h1m-20 1h1m1 0h1m0 0h1m14 0h1m0 0h1m-19 1h1m0 0h1m0 0h1m15 0h1m-19 1h1m0 0h1m15 0h1m1 0h1m84 0h1m0 0h1m0 0h1m7 0h1m0 0h1m-116 1h1m1 0h1m15 0h1m86 0h1m8 0h1m1 0h1m2 0h1m0 0h1m-121 1h1m0 0h1m17 0h1m94 0h1m0 0h1m0 0h1m1 0h1m0 0h1m0 0h1m0 0h1m6 0h1m-128 1h1m16 0h1m95 0h1m0 0h1m2 0h1m9 0h1m-128 1h1m16 0h1m1 0h1m85 0h1m8 0h1m1 0h1m0 0h1m0 0h1m0 0h1m0 0h1m-123 1h1m0 0h1m0 0h1m16 0h1m1 0h1m82 0h1m1 0h1m0 0h1m3 0h1m1 0h1m5 0h1m0 0h1m0 0h1m0 0h1m-121 1h1m16 0h1m0 0h1m82 0h1m1 0h1m0 0h1m1 0h1m1 0h1m1 0h1m0 0h1m0 0h1m0 0h1m5 0h1m0 0h1m0 0h1m0 0h1m-126 1h1m0 0h1m0 0h1m0 0h1m16 0h1m1 0h1m65 0h1m1 0h1m0 0h1m14 0h1m1 0h1m0 0h1m0 0h1m1 0h1m0 0h1m1 0h1m8 0h1m0 0h1m2 0h1m0 0h1m-129 1h1m19 0h1m0 0h1m0 0h1m64 0h1m0 0h1m0 0h1m0 0h1m1 0h1m0 0h1m2 0h1m6 0h1m0 0h1m0 0h1m2 0h1m0 0h1m0 0h1m1 0h1m0 0h1m0 0h1m0 0h1m2 0h1m0 0h1m0 0h1m0 0h1m0 0h1m1 0h1m1 0h1m0 0h1m-129 1h1m0 0h1m0 0h1m18 0h1m0 0h1m65 0h1m0 0h1m0 0h1m0 0h1m0 0h1m0 0h1m1 0h1m0 0h1m0 0h1m5 0h1m0 0h1m0 0h1m1 0h1m1 0h1m0 0h1m2 0h1m0 0h1m1 0h1m2 0h1m1 0h1m0 0h1m0 0h1m1 0h1m0 0h1m2 0h1m0 0h1m-132 1h1m0 0h1m0 0h1m0 0h1m19 0h1m62 0h1m0 0h1m0 0h1m1 0h1m1 0h1m2 0h1m0 0h1m0 0h1m6 0h1m0 0h1m0 0h1m0 0h1m0 0h1m1 0h1m1 0h1m1 0h1m0 0h1m0 0h1m0 0h1m2 0h1m1 0h1m0 0h1m2 0h1m0 0h1m1 0h1m2 0h1m-133 1h1m1 0h1m20 0h1m3 0h1m37 0h1m0 0h1m0 0h1m17 0h1m2 0h1m1 0h1m0 0h1m1 0h1m0 0h1m0 0h1m0 0h1m1 0h1m3 0h1m1 0h1m0 0h1m2 0h1m0 0h1m1 0h1m0 0h1m0 0h1m0 0h1m1 0h1m1 0h1m1 0h1m1 0h1m0 0h1m0 0h1m0 0h1m0 0h1m0 0h1m2 0h1m1 0h1m3 0h1m-138 1h1m1 0h1m0 0h1m20 0h1m0 0h1m0 0h1m0 0h1m4 0h1m0 0h1m0 0h1m52 0h1m0 0h1m1 0h1m2 0h1m0 0h1m1 0h1m0 0h1m0 0h1m2 0h1m0 0h1m1 0h1m2 0h1m0 0h1m1 0h1m1 0h1m1 0h1m0 0h1m0 0h1m0 0h1m1 0h1m0 0h1m0 0h1m0 0h1m0 0h1m0 0h1m0 0h1m0 0h1m0 0h1m1 0h1m0 0h1m0 0h1m4 0h1m-137 1h1m0 0h1m1 0h1m21 0h1m1 0h1m0 0h1m1 0h1m0 0h1m0 0h1m16 0h1m0 0h1m1 0h1m13 0h1m0 0h1m0 0h1m18 0h1m0 0h1m1 0h1m0 0h1m0 0h1m1 0h1m4 0h1m3 0h1m0 0h1m1 0h1m0 0h1m4 0h1m1 0h1m0 0h1m2 0h1m0 0h1m0 0h1m0 0h1m0 0h1m0 0h1m1 0h1m0 0h1m0 0h1m1 0h1m1 0h1m4 0h1m-137 1h1m0 0h1m0 0h1m23 0h1m0 0h1m0 0h1m1 0h1m0 0h1m1 0h1m0 0h1m2 0h1m1 0h1m6 0h1m0 0h1m0 0h1m0 0h1m2 0h1m0 0h1m5 0h1m2 0h1m3 0h1m4 0h1m1 0h1m3 0h1m2 0h1m4 0h1m3 0h1m2 0h1m0 0h1m3 0h1m0 0h1m0 0h1m1 0h1m4 0h1m0 0h1m0 0h1m2 0h1m0 0h1m0 0h1m2 0h1m0 0h1m0 0h1m0 0h1m0 0h1m0 0h1m0 0h1m0 0h1m0 0h1m0 0h1m1 0h1m0 0h1m5 0h1m-135 1h1m1 0h1m23 0h1m0 0h1m0 0h1m0 0h1m1 0h1m1 0h1m1 0h1m2 0h1m1 0h1m0 0h1m3 0h1m0 0h1m4 0h1m1 0h1m4 0h1m0 0h1m0 0h1m2 0h1m0 0h1m5 0h1m2 0h1m0 0h1m0 0h1m1 0h1m0 0h1m1 0h1m0 0h1m0 0h1m2 0h1m0 0h1m0 0h1m0 0h1m0 0h1m0 0h1m2 0h1m0 0h1m0 0h1m1 0h1m0 0h1m0 0h1m0 0h1m0 0h1m0 0h1m1 0h1m0 0h1m2 0h1m0 0h1m1 0h1m0 0h1m0 0h1m1 0h1m0 0h1m4 0h1m1 0h1m0 0h1m2 0h1m0 0h1m1 0h1m3 0h1m0 0h1m0 0h1m-136 1h1m25 0h1m0 0h1m0 0h1m0 0h1m0 0h1m0 0h1m2 0h1m1 0h1m0 0h1m0 0h1m0 0h1m1 0h1m0 0h1m1 0h1m1 0h1m0 0h1m1 0h1m0 0h1m0 0h1m8 0h1m0 0h1m1 0h1m0 0h1m0 0h1m1 0h1m0 0h1m0 0h1m0 0h1m2 0h1m0 0h1m0 0h1m2 0h1m0 0h1m1 0h1m0 0h1m0 0h1m1 0h1m0 0h1m0 0h1m0 0h1m1 0h1m2 0h1m2 0h1m1 0h1m0 0h1m1 0h1m0 0h1m0 0h1m1 0h1m1 0h1m0 0h1m3 0h1m1 0h1m1 0h1m1 0h1m0 0h1m0 0h1m0 0h1m0 0h1m0 0h1m1 0h1m1 0h1m0 0h1m5 0h1m-137 1h1m0 0h1m0 0h1m25 0h1m1 0h1m0 0h1m0 0h1m0 0h1m1 0h1m0 0h1m0 0h1m0 0h1m1 0h1m0 0h1m0 0h1m2 0h1m0 0h1m0 0h1m2 0h1m0 0h1m0 0h1m0 0h1m4 0h1m0 0h1m0 0h1m1 0h1m0 0h1m0 0h1m1 0h1m1 0h1m1 0h1m0 0h1m0 0h1m0 0h1m3 0h1m0 0h1m0 0h1m1 0h1m3 0h1m0 0h1m0 0h1m0 0h1m0 0h1m6 0h1m0 0h1m0 0h1m1 0h1m2 0h1m1 0h1m2 0h1m1 0h1m0 0h1m2 0h1m3 0h1m1 0h1m0 0h1m0 0h1m0 0h1m2 0h1m0 0h1m-128 1h1m0 0h1m27 0h1m0 0h1m0 0h1m0 0h1m0 0h1m0 0h1m0 0h1m0 0h1m1 0h1m0 0h1m1 0h1m0 0h1m0 0h1m0 0h1m1 0h1m0 0h1m0 0h1m8 0h1m0 0h1m0 0h1m1 0h1m2 0h1m0 0h1m0 0h1m3 0h1m0 0h1m0 0h1m0 0h1m6 0h1m1 0h1m0 0h1m0 0h1m0 0h1m0 0h1m0 0h1m0 0h1m1 0h1m3 0h1m1 0h1m1 0h1m0 0h1m1 0h1m1 0h1m0 0h1m0 0h1m2 0h1m4 0h1m0 0h1m2 0h1m0 0h1m0 0h1m1 0h1m1 0h1m1 0h1m0 0h1m0 0h1m-127 1h1m28 0h1m0 0h1m0 0h1m1 0h1m0 0h1m1 0h1m0 0h1m1 0h1m0 0h1m1 0h1m2 0h1m0 0h1m1 0h1m0 0h1m0 0h1m3 0h1m0 0h1m2 0h1m0 0h1m1 0h1m1 0h1m1 0h1m0 0h1m1 0h1m0 0h1m0 0h1m0 0h1m0 0h1m0 0h1m0 0h1m0 0h1m0 0h1m0 0h1m0 0h1m1 0h1m1 0h1m0 0h1m0 0h1m0 0h1m1 0h1m1 0h1m3 0h1m1 0h1m0 0h1m0 0h1m0 0h1m1 0h1m1 0h1m1 0h1m1 0h1m0 0h1m3 0h1m2 0h1m7 0h1m1 0h1m-126 1h1m0 0h1m28 0h1m0 0h1m0 0h1m0 0h1m1 0h1m0 0h1m0 0h1m0 0h1m0 0h1m0 0h1m0 0h1m0 0h1m0 0h1m1 0h1m1 0h1m1 0h1m1 0h1m0 0h1m0 0h1m0 0h1m0 0h1m0 0h1m0 0h1m0 0h1m1 0h1m1 0h1m0 0h1m0 0h1m0 0h1m0 0h1m1 0h1m0 0h1m0 0h1m0 0h1m0 0h1m1 0h1m0 0h1m0 0h1m1 0h1m0 0h1m3 0h1m0 0h1m0 0h1m0 0h1m1 0h1m1 0h1m2 0h1m1 0h1m0 0h1m1 0h1m0 0h1m0 0h1m0 0h1m1 0h1m0 0h1m0 0h1m0 0h1m0 0h1m2 0h1m11 0h1m0 0h1m3 0h1m0 0h1m-129 1h1m0 0h1m28 0h1m0 0h1m1 0h1m0 0h1m0 0h1m0 0h1m0 0h1m0 0h1m0 0h1m0 0h1m0 0h1m0 0h1m0 0h1m0 0h1m2 0h1m0 0h1m2 0h1m0 0h1m3 0h1m0 0h1m0 0h1m0 0h1m0 0h1m1 0h1m1 0h1m0 0h1m1 0h1m0 0h1m1 0h1m1 0h1m0 0h1m0 0h1m0 0h1m0 0h1m0 0h1m0 0h1m0 0h1m1 0h1m3 0h1m0 0h1m0 0h1m1 0h1m0 0h1m2 0h1m1 0h1m1 0h1m0 0h1m0 0h1m4 0h1m0 0h1m0 0h1m2 0h1m0 0h1m1 0h1m0 0h1m0 0h1m0 0h1m5 0h1m4 0h1m1 0h1m-99 1h1m0 0h1m0 0h1m0 0h1m0 0h1m1 0h1m0 0h1m0 0h1m0 0h1m1 0h1m0 0h1m1 0h1m0 0h1m0 0h1m0 0h1m0 0h1m0 0h1m5 0h1m2 0h1m0 0h1m0 0h1m0 0h1m0 0h1m0 0h1m5 0h1m0 0h1m0 0h1m0 0h1m3 0h1m1 0h1m3 0h1m0 0h1m0 0h1m0 0h1m1 0h1m0 0h1m10 0h1m0 0h1m2 0h1m0 0h1m0 0h1m1 0h1m0 0h1m4 0h1m5 0h1m0 0h1m0 0h1m5 0h1m0 0h1m-128 1h1m28 0h1m0 0h1m0 0h1m0 0h1m0 0h1m0 0h1m1 0h1m0 0h1m0 0h1m0 0h1m0 0h1m0 0h1m0 0h1m2 0h1m1 0h1m0 0h1m3 0h1m0 0h1m0 0h1m0 0h1m0 0h1m0 0h1m0 0h1m2 0h1m0 0h1m4 0h1m0 0h1m0 0h1m1 0h1m5 0h1m5 0h1m1 0h1m1 0h1m0 0h1m0 0h1m7 0h1m0 0h1m0 0h1m4 0h1m1 0h1m0 0h1m0 0h1m0 0h1m9 0h1m6 0h1m-128 1h1m0 0h1m27 0h1m0 0h1m0 0h1m0 0h1m0 0h1m0 0h1m0 0h1m1 0h1m1 0h1m0 0h1m0 0h1m1 0h1m0 0h1m1 0h1m5 0h1m0 0h1m5 0h1m0 0h1m1 0h1m5 0h1m1 0h1m0 0h1m0 0h1m4 0h1m10 0h1m2 0h1m16 0h1m-109 1h1m0 0h1m27 0h1m1 0h1m0 0h1m0 0h1m0 0h1m0 0h1m0 0h1m0 0h1m1 0h1m0 0h1m0 0h1m6 0h1m0 0h1m0 0h1m9 0h1m0 0h1m0 0h1m6 0h1m0 0h1m0 0h1m5 0h1m0 0h1m-80 1h1m0 0h1m0 0h1m27 0h1m0 0h1m0 0h1m0 0h1m0 0h1m0 0h1m0 0h1m0 0h1m0 0h1m0 0h1m0 0h1m1 0h1m2 0h1m0 0h1m1 0h1m0 0h1m11 0h1m-60 1h1m26 0h1m2 0h1m0 0h1m0 0h1m0 0h1m0 0h1m0 0h1m0 0h1m1 0h1m4 0h1m0 0h1m0 0h1m0 0h1m-48 1h1m28 0h1m0 0h1m0 0h1m2 0h1m0 0h1m0 0h1m0 0h1m-37 1h1m25 0h1m1 0h1m0 0h1m0 0h1m2 0h1m3 0h1m-40 1h1m0 0h1m0 0h1m0 0h1m23 0h1m0 0h1m0 0h1m0 0h1m1 0h1m-33 1h1m0 0h1m0 0h1m0 0h1m24 0h1m1 0h1m-30 1h1m0 0h1m0 0h1m22 0h1m-25 1h1m0 0h1m22 0h1m0 0h1m0 0h1m0 0h1m-29 1h1m0 0h1m0 0h1m21 0h1m0 0h1m0 0h1m0 0h1m-27 1h1m0 0h1m21 0h1m1 0h1m-28 1h1m0 0h1m0 0h1m0 0h1m0 0h1m19 0h1m0 0h1m0 0h1m-27 1h1m1 0h1m0 0h1m0 0h1m19 0h1m0 0h1m-25 1h1m0 0h1m1 0h1m19 0h1m-23 1h1m1 0h1m0 0h1m16 0h1m0 0h1m0 0h1m-20 1h1m0 0h1m15 0h1m2 0h1m-22 1h1m1 0h1m15 0h1m1 0h1m-23 1h1m0 0h1m0 0h1m2 0h1m13 0h1m0 0h1m0 0h1m-22 1h1m1 0h1m1 0h1m0 0h1m12 0h1m0 0h1m-19 1h1m0 0h1m0 0h1m0 0h1m1 0h1m9 0h1m0 0h1m1 0h1m0 0h1m-20 1h1m0 0h1m1 0h1m0 0h1m0 0h1m1 0h1m6 0h1m0 0h1m0 0h1m0 0h1m-17 1h1m0 0h1m0 0h1m0 0h1m1 0h1m0 0h1m0 0h1m0 0h1m0 0h1m2 0h1m0 0h1m1 0h1m-17 1h1m0 0h1m1 0h1m3 0h1m0 0h1m0 0h1m0 0h1m0 0h1m0 0h1m0 0h1m0 0h1m1 0h1m-16 1h1m1 0h1m0 0h1m0 0h1m0 0h1m0 0h1m2 0h1m0 0h1m0 0h1m0 0h1m1 0h1m0 0h1m-16 1h1m0 0h1m0 0h1m0 0h1m2 0h1m1 0h1m3 0h1m0 0h1m-12 1h1m0 0h1m1 0h1m2 0h1m2 0h1m0 0h1m-10 1h1m8 0h1" stroke="#3a1c96" stroke-opacity="0.85" stroke-width="1" fill="none"/>
<path d="M144.8 260.5 142.2 260.5 142.2 261.2 143.5 260.8 143.8 261.8 140.2 263.2 139.8 265.8 139.2 266.2 139.2 267.2 139.8 266.5 140.5 266.8 140.2 268.2 138.5 269.2 138.2 272.2 136.8 272.5 138.2 273.2 137.8 275.8 136.5 276.5 137.5 277.5 135.2 280.5 136.2 281.5 134.8 282.2 135.2 283.8 133.5 285.5 133.5 286.2 135.8 287.2 135.8 288.2 135.2 288.5 132.5 287.2 133.2 288.2 134.2 288.2 134.5 289.2 133.5 290.2 133.2 292.5 132.2 292.8 133.2 294.8 132.2 299.5 133.2 300.2 131.8 300.5 132.2 301.5 131.2 302.5 131.8 303.5 131.8 306.2 130.8 306.8 131.5 307.5 130.8 308.2 131.5 311.5 131.2 312.8 130.2 313.5 130.8 313.8 130.5 315.2 129.2 315.5 129.8 316.8 129.8 322.2 130.8 322.5 131.2 323.5 130.5 323.8 129.5 323.2 128.5 323.8 129.8 325.5 128.2 327.2 128.2 328.2 129.2 328.8 128.2 329.5 128.5 331.8 127.8 333.8 128.5 335.2 127.8 335.8 127.8 342.8 126.8 345.8 127.2 348.5 126.5 349.2 127.5 349.2 128.2 350.5 127.2 351.8 127.2 353.8 126.2 354.5 126.2 355.2 127.8 355.2 127.2 356.5 128.2 357.8 126.8 358.5 127.2 359.8 126.5 360.5 127.5 363.8 125.8 366.2 126.5 367.8 125.2 371.8 126.2 373.8 125.2 375.2 125.5 375.8 124.2 376.5 125.2 377.2 123.2 378.2 123.5 379.5 121.8 382.8 122.2 384.2 121.2 384.8 120.2 387.8 120.8 389.5 120.2 390.8 120.8 391.8 119.8 393.8 120.5 397.5 121.8 398.5 121.8 400.2 120.8 400.8 121.5 402.5 121.2 403.8 122.2 404.5 121.8 406.2 123.5 407.5 123.2 408.8 124.8 409.5 125.5 408.8 126.2 409.2 124.8 410.8 125.8 412.8 127.2 412.8 128.2 414.2 131.2 414.8 132.2 415.8 134.2 415.8 136.2 412.8 138.2 411.8 139.2 409.8 141.2 408.5 139.8 407.5 141.8 406.5 144.2 403.8 143.8 402.8 145.5 400.2 145.5 398.8 147.5 396.8 147.2 395.5 148.8 394.8 148.2 393.8 148.8 391.5 151.2 390.5 149.8 389.8 150.2 385.8 148.5 385.5 148.5 384.2 146.2 382.8 146.8 380.8 144.8 380.5 145.2 379.2 143.8 377.2 144.2 375.8 142.2 375.2 143.2 373.8 141.5 369.5 142.2 367.5 141.2 365.5 141.8 364.2 141.2 362.5 142.2 361.5 140.8 361.5 141.5 360.5 141.2 358.5 141.8 357.2 141.2 356.5 141.8 354.5 140.5 353.8 140.5 352.8 141.5 352.8 140.5 351.5 141.5 350.2 140.5 349.2 140.5 345.8 141.8 342.8 140.8 341.2 141.8 340.2 141.8 338.2 140.5 335.2 142.2 333.2 142.2 331.8 141.2 330.5 141.2 327.2 141.8 326.2 140.8 325.8 140.8 324.8 141.8 323.5 141.5 322.2 142.8 321.5 141.2 320.2 142.2 319.5 142.2 314.2 143.5 311.2 142.5 310.5 143.2 308.8 142.2 307.8 142.2 305.5 143.8 304.2 143.5 303.2 144.5 302.5 144.2 300.8 144.8 298.2 143.8 296.2 144.8 295.8 144.5 292.8 145.2 292.2 144.5 291.5 144.5 289.8 145.2 288.5 143.8 287.8 145.2 287.5 144.5 285.5 146.8 281.2 145.8 279.2 145.8 274.2 146.8 272.2 146.8 270.2 148.2 268.8 147.2 267.8 147.8 262.8 144.8 261.8Z" fill="#321e9e" fill-rule="evenodd"/>
<path d="M145.2 262.5 143.2 265.5 142.5 264.8 142.5 265.8 141.5 266.5 142.5 267.2 140.8 267.8 141.8 269.8 140.5 269.8 139.5 271.2 138.8 270.8 138.8 272.2 140.2 272.2 140.8 273.2 139.8 273.2 138.5 274.5 139.5 275.5 138.5 276.2 138.5 278.2 137.5 278.5 138.2 279.5 137.2 279.8 137.2 281.5 138.2 282.2 136.8 283.5 136.2 285.8 137.2 287.2 136.8 290.2 136.2 290.8 136.8 291.5 136.2 293.5 134.2 294.2 134.8 296.8 135.8 297.8 134.2 299.5 134.2 302.8 133.5 303.5 134.2 304.8 132.2 304.8 132.8 306.2 132.2 307.5 133.5 306.5 133.8 307.8 132.2 311.2 132.8 312.8 131.5 313.2 132.8 315.8 131.2 316.5 131.2 318.2 130.5 317.8 131.8 319.5 130.8 321.2 131.8 323.5 130.5 324.8 131.2 326.2 129.5 327.8 130.5 328.8 129.5 330.2 130.2 331.8 129.2 332.2 129.2 334.2 130.2 335.2 128.8 336.5 129.2 338.2 129.2 336.5 130.2 336.5 130.2 339.5 128.8 339.8 129.5 341.5 128.8 345.2 129.8 347.2 128.2 347.8 128.8 348.8 128.8 351.2 127.8 351.5 127.8 352.5 129.5 353.8 128.5 354.5 128.2 356.2 128.5 357.5 129.5 358.2 128.8 359.5 127.5 360.2 127.5 361.8 128.8 362.8 128.8 366.8 127.2 367.5 128.2 368.8 127.5 372.5 128.5 373.8 126.8 373.8 126.8 376.8 125.2 378.2 124.5 381.8 121.8 384.8 122.5 387.2 121.5 387.8 122.2 393.5 121.2 393.8 121.2 395.2 122.2 396.2 122.8 399.5 122.5 401.8 125.2 405.8 124.8 408.2 125.5 407.5 127.5 410.5 130.2 410.5 131.8 411.8 132.5 411.5 132.5 412.8 133.5 411.5 134.2 412.8 135.8 412.5 135.8 410.8 137.2 410.5 137.5 409.2 138.2 409.8 138.8 409.2 138.2 406.8 139.2 407.2 139.8 405.2 141.5 404.8 140.8 402.5 141.5 402.2 142.2 403.8 142.2 401.8 144.2 400.8 144.2 399.2 144.8 397.8 146.2 397.2 146.2 395.8 147.2 394.8 147.2 394.2 145.8 393.5 148.2 391.2 148.5 389.5 147.8 388.8 148.8 388.2 145.8 385.2 145.2 383.2 145.5 381.8 141.5 375.2 142.2 373.2 140.8 372.8 141.2 371.5 140.2 369.5 140.5 366.5 139.5 365.2 139.8 364.2 140.8 364.5 140.8 363.2 139.8 362.5 140.2 360.5 139.5 360.8 138.8 359.8 139.5 358.2 139.2 357.2 140.5 356.5 139.5 351.8 139.5 346.8 140.2 345.2 138.8 343.8 139.5 342.2 138.5 340.8 139.5 340.2 139.2 338.5 139.8 338.2 139.5 336.2 140.2 334.5 139.5 333.8 140.5 333.5 140.8 331.2 138.8 331.2 138.8 329.5 140.2 328.2 139.5 326.8 140.5 326.5 140.8 324.5 140.2 323.2 140.8 320.5 140.2 319.5 141.5 318.5 140.8 317.5 141.5 316.8 140.8 315.8 141.5 315.2 140.5 314.2 141.8 313.8 141.8 313.2 140.5 312.8 141.5 311.5 140.5 309.5 141.8 308.8 140.5 307.8 141.5 307.2 140.5 305.5 141.5 304.8 140.8 303.2 142.8 298.8 141.5 298.5 143.2 297.2 143.2 295.5 141.5 294.8 143.2 293.5 142.5 292.2 142.8 290.5 141.8 291.5 142.5 291.8 142.2 292.5 140.8 292.2 140.5 291.2 141.5 290.8 141.8 289.8 141.2 288.8 143.2 288.5 143.2 285.8 142.5 284.8 143.5 282.8 143.2 279.8 144.5 279.8 144.5 278.8 143.2 277.8 144.5 277.2 143.2 275.8 144.8 273.8 143.8 272.8 144.5 271.5 144.2 270.8 143.5 271.2 143.2 270.2 145.5 270.2 146.2 269.5 145.5 268.8 145.8 266.8 144.5 266.5 146.5 263.8Z" fill="#2832c8" fill-rule="evenodd"/>
<path d="M137.8 308.2 135.5 309.2 134.5 310.8 135.2 311.5 134.5 313.2 136.5 313.8 135.8 314.8 136.2 315.8 135.2 316.2 134.5 315.5 134.5 316.2 132.8 317.2 133.8 319.5 133.2 320.8 134.2 321.5 133.2 322.8 134.8 325.5 133.2 325.8 132.2 327.5 132.5 333.2 131.5 335.2 132.8 337.5 132.2 338.5 132.5 340.8 131.2 341.5 131.2 342.5 132.8 343.8 132.5 346.5 131.5 346.2 131.5 345.2 130.5 345.2 130.2 348.5 131.2 349.2 130.2 349.8 129.8 351.8 130.5 351.5 131.2 352.2 130.2 355.8 130.8 358.2 132.5 358.5 130.5 360.8 129.8 367.5 130.8 367.8 131.2 368.8 130.2 369.5 129.2 368.8 129.2 369.5 130.2 369.8 130.2 372.5 128.8 372.8 129.5 374.2 127.5 376.2 127.8 378.2 126.8 378.5 128.2 381.2 127.5 381.8 126.2 380.8 125.8 381.8 126.8 382.5 125.8 382.5 123.5 385.2 124.5 386.8 123.2 387.2 123.5 388.8 122.8 390.5 123.8 391.5 122.8 391.8 122.5 392.8 124.8 399.8 124.5 401.2 127.5 404.8 126.8 405.8 128.2 406.5 126.5 407.2 127.2 407.5 128.5 405.5 129.8 405.2 131.2 406.5 129.5 406.8 129.5 409.5 131.8 408.5 132.5 409.5 134.5 408.2 136.8 408.5 137.5 407.2 136.8 407.2 136.5 406.2 137.2 405.5 137.8 405.8 137.8 403.5 139.2 402.5 139.5 403.5 140.2 403.5 140.2 402.5 142.8 398.8 143.8 394.2 144.8 394.5 146.5 391.5 146.2 390.8 145.5 391.8 144.2 390.8 145.8 388.2 145.8 386.5 143.2 383.2 143.5 382.2 142.5 381.5 140.8 378.2 141.2 377.2 139.8 376.8 140.2 375.5 139.5 374.5 140.5 373.5 139.5 371.8 139.5 373.8 138.5 374.2 138.8 370.8 137.5 368.5 138.8 367.2 138.8 366.5 137.8 366.2 138.5 365.5 137.8 364.5 139.2 363.2 137.8 362.2 138.5 361.5 138.2 359.2 137.2 359.2 137.5 357.8 136.5 357.5 136.5 356.8 138.8 355.2 138.5 354.5 136.5 354.8 137.5 353.5 137.2 352.2 138.5 351.5 138.5 350.8 137.2 350.8 138.2 347.8 137.8 345.5 135.8 343.8 136.8 343.2 137.2 340.5 138.5 338.5 137.5 338.8 136.2 337.5 134.2 337.2 134.8 336.2 135.5 336.5 136.5 335.8 136.8 337.2 137.5 336.8 138.2 334.8 137.5 334.2 138.2 333.2 138.2 331.5 137.5 331.2 138.2 327.8 137.2 326.8 138.2 324.8 137.2 322.5 135.5 322.2 134.2 320.8 134.8 320.2 136.2 321.2 137.5 320.8 136.8 317.2 138.5 317.5 138.8 316.5 137.5 315.5 139.5 314.5 139.2 313.2 138.5 313.2 138.2 314.5 136.8 313.8 137.2 311.8 136.2 311.2 136.2 310.2 138.2 308.8ZM133.5 327.2 135.2 327.8 135.5 330.8 137.2 331.5 136.8 332.5 135.2 332.8 134.8 331.2 133.2 331.2 134.5 329.5 134.2 328.5 133.8 329.5 132.8 329.2Z" fill="#1e78d7" fill-rule="evenodd"/>
<path d="M133.2 364.5 132.5 365.2 132.2 366.8 132.8 366.5 133.2 367.2 131.8 368.5 132.2 370.5 131.5 371.5 132.2 373.8 130.8 374.2 130.5 376.5 128.8 377.8 129.8 379.2 128.5 379.8 128.5 381.2 125.8 383.8 124.2 388.2 124.2 390.2 125.5 392.5 124.5 393.5 124.5 395.5 126.2 397.5 127.2 401.8 128.8 402.5 128.2 403.8 130.2 404.2 130.8 405.2 132.8 404.5 133.2 405.2 134.8 405.2 136.8 404.2 141.5 399.2 140.8 397.8 142.2 396.8 141.5 395.8 143.8 392.2 143.2 391.2 143.8 387.5 143.2 385.5 142.2 384.8 142.8 383.8 141.2 382.8 141.2 380.8 138.5 378.5 138.8 377.5 136.2 374.8 136.2 373.5 137.5 373.2 135.8 371.8 136.2 370.8 134.8 370.2 135.8 368.8 135.2 367.8 135.5 364.8Z" fill="#1ea5d2" fill-rule="evenodd"/>
<path d="M135.5 377.2 133.8 379.5 132.5 378.5 131.5 379.8 131.2 382.5 129.2 382.2 129.5 383.2 127.2 385.8 128.2 386.8 126.5 387.8 127.2 392.5 126.5 393.2 127.2 396.5 128.5 397.5 128.5 398.5 130.8 399.5 130.8 400.5 129.8 400.8 130.2 401.5 132.5 400.5 133.5 402.2 134.2 402.2 134.2 400.2 135.5 400.8 136.2 399.5 138.5 398.8 139.5 396.5 139.2 395.8 140.5 394.8 140.5 393.8 141.5 393.5 141.8 391.5 141.2 387.2 139.8 385.5 140.2 384.5 136.5 382.8 137.2 381.8 136.2 379.5 135.2 380.5 134.5 379.8 134.5 378.8 136.2 378.2Z" fill="#24b478" fill-rule="evenodd"/>
<path d="M131.5 382.8 130.5 385.8 129.2 386.2 127.5 389.8 128.5 390.5 127.8 393.2 129.8 398.5 135.2 398.5 134.8 397.5 135.5 396.8 136.2 397.8 138.5 396.8 138.2 395.8 139.5 394.5 138.5 393.5 140.5 390.2 139.5 389.2 139.5 387.2 138.5 386.8 139.2 385.8 136.8 383.8 135.8 384.2 134.5 382.8 134.2 384.5Z" fill="#46be32" fill-rule="evenodd"/>
<path d="M135.2 384.8 133.5 385.2 131.5 387.5 130.8 387.2 129.8 388.8 128.8 389.2 129.2 391.8 130.2 393.2 129.8 393.8 130.8 394.8 130.5 395.8 131.5 396.5 132.2 395.8 133.5 397.5 136.2 395.2 137.8 395.5 138.2 394.2 137.2 391.2 138.8 390.5 137.8 386.8 135.2 385.8Z" fill="#bed71e" fill-rule="evenodd"/>
<path d="M135.8 386.5 132.5 387.2 129.8 390.2 130.5 393.8 132.2 395.5 133.2 393.8 133.8 394.8 137.5 394.5 136.5 391.2 137.2 390.2 137.2 387.8Z" fill="#f5dc14" fill-rule="evenodd"/>
<path d="M132.8 387.5 132.5 388.5 131.2 389.2 131.8 391.2 130.8 391.2 131.5 392.8 134.8 393.8 134.8 392.8 136.2 392.2 136.5 389.2 136.2 388.2Z" fill="#f58219" fill-rule="evenodd"/>
<path d="M134.09 426.00v3 M93.00 387.72h-3 M133.51 426.00v3 M93.00 388.27h-3 M134.38 426.00v3 M93.00 387.44h-3 M133.21 426.00v3 M93.00 388.54h-3 M134.68 426.00v3 M93.00 387.16h-3 M132.92 426.00v3 M93.00 388.81h-3 M134.97 426.00v3 M93.00 386.88h-3 M132.62 426.00v3 M93.00 389.08h-3 M135.26 426.00v3 M93.00 386.61h-3 M132.33 426.00v3 M93.00 389.35h-3 M135.55 426.00v3 M93.00 386.33h-3 M132.04 426.00v3 M93.00 389.61h-3 M135.84 426.00v3 M93.00 386.05h-3 M131.74 426.00v3 M93.00 389.88h-3 M136.14 426.00v3 M93.00 385.77h-3 M131.45 426.00v3 M93.00 390.15h-3 M136.43 426.00v3 M93.00 385.49h-3 M131.15 426.00v3 M93.00 390.42h-3 M136.72 426.00v3 M93.00 385.21h-3 M130.86 426.00v3 M93.00 390.69h-3 M139.64 426.00v3 M93.00 382.42h-3 M127.92 426.00v3 M93.00 393.38h-3 M142.56 426.00v3 M93.00 379.63h-3 M124.98 426.00v3 M93.00 396.07h-3 M145.48 426.00v3 M93.00 376.84h-3 M122.04 426.00v3 M93.00 398.76h-3 M148.40 426.00v3 M93.00 374.05h-3 M119.10 426.00v3 M93.00 401.45h-3 M151.32 426.00v3 M93.00 371.26h-3 M116.16 426.00v3 M93.00 404.14h-3 M154.24 426.00v3 M93.00 368.47h-3 M113.22 426.00v3 M93.00 406.83h-3 M157.16 426.00v3 M93.00 365.68h-3 M110.28 426.00v3 M93.00 409.52h-3 M160.08 426.00v3 M93.00 362.89h-3 M107.34 426.00v3 M93.00 412.21h-3 M163.00 426.00v5 M93.00 360.10h-5 M104.40 426.00v5 M93.00 414.90h-5 M177.75 426.00v3 M93.00 346.67h-3 M186.38 426.00v3 M93.00 338.82h-3 M192.50 426.00v3 M93.00 333.25h-3 M197.25 426.00v3 M93.00 328.93h-3 M201.13 426.00v3 M93.00 325.39h-3 M204.41 426.00v3 M93.00 322.41h-3 M207.25 426.00v3 M93.00 319.82h-3 M209.76 426.00v3 M93.00 317.54h-3 M212.00 426.00v5 M93.00 315.50h-5 M224.82 426.00v3 M93.00 303.46h-3 M232.33 426.00v3 M93.00 296.42h-3 M237.65 426.00v3 M93.00 291.42h-3 M241.78 426.00v3 M93.00 287.54h-3 M245.15 426.00v3 M93.00 284.37h-3 M248.00 426.00v3 M93.00 281.70h-3 M250.47 426.00v3 M93.00 279.38h-3 M252.65 426.00v3 M93.00 277.33h-3 M254.60 426.00v5 M93.00 275.50h-5 M267.42 426.00v3 M93.00 263.46h-3 M133.80 426.00v5 M93.00 388.00h-5" stroke="#111" stroke-width="1" fill="none"/>
<rect x="93" y="260" width="180" height="166" fill="none" stroke="#111" stroke-width="1.3"/>
<text x="104.9" y="449.2" text-anchor="middle" font-size="13">−10<tspan font-size="7.4" dy="-5.6" dx="0.7">3</tspan></text>
<text x="136.8" y="449.2" text-anchor="middle" font-size="13">0</text>
<text x="163.8" y="449.2" text-anchor="middle" font-size="13">10<tspan font-size="7.4" dy="-5.6" dx="0.7">3</tspan></text>
<text x="212.8" y="449.2" text-anchor="middle" font-size="13">10<tspan font-size="7.4" dy="-5.6" dx="0.7">4</tspan></text>
<text x="255.4" y="449.2" text-anchor="middle" font-size="13">10<tspan font-size="7.4" dy="-5.6" dx="0.7">5</tspan></text>
<text x="81" y="277.1" text-anchor="end" font-size="13">10<tspan font-size="7.4" dy="-5.6" dx="0.7">5</tspan></text>
<text x="81" y="317.1" text-anchor="end" font-size="13">10<tspan font-size="7.4" dy="-5.6" dx="0.7">4</tspan></text>
<text x="81" y="361.70000000000005" text-anchor="end" font-size="13">10<tspan font-size="7.4" dy="-5.6" dx="0.7">3</tspan></text>
<text x="81" y="389.6" text-anchor="end" font-size="13">0</text>
<text x="81" y="416.5" text-anchor="end" font-size="13">−10<tspan font-size="7.4" dy="-5.6" dx="0.7">3</tspan></text>
<rect x="116.3" y="263.5" width="33" height="113" fill="none" stroke="#222" stroke-width="1.2"/>
<rect x="154" y="263.5" width="111.5" height="158.5" fill="none" stroke="#222" stroke-width="1.2"/>
<path d="M470 260.5h1m-57 1h1m38 0h1m7 2h1m-111 1h1m22 0h1m18 0h1m40 0h1m53 0h1m-120 1h1m0 0h1m1 0h1m37 0h1m20 0h1m28 0h1m-95 1h1m4 0h1m-10 1h1m2 0h1m5 0h1m0 0h1m1 0h1m3 0h1m76 0h1m-93 1h1m10 0h1m-12 1h1m9 0h1m3 0h1m5 0h1m-26 1h1m13 0h1m0 0h1m3 0h1m4 0h1m113 0h1m-139 1h1m4 0h1m8 0h1m1 0h1m5 0h1m116 0h1m-136 1h1m0 0h1m10 0h1m66 0h1m-68 1h1m23 0h1m57 0h1m10 0h1m-94 1h1m78 0h1m-79 1h1m-15 2h1m12 0h1m112 0h1m-115 1h1m1 0h1m23 0h1m0 0h1m-46 1h1m140 0h1m-120 1h1m47 0h1m-65 1h1m0 0h1m11 0h1m57 0h1m63 0h1m-137 1h1m1 0h1m12 0h1m15 0h1m20 0h1m12 0h1m4 0h1m59 0h1m-128 1h1m13 0h1m-16 1h1m9 0h1m4 0h1m100 0h1m-119 1h1m0 0h1m10 0h1m4 0h1m0 1h1m84 0h1m37 0h1m-143 1h1m37 0h1m29 0h1m-55 1h1m63 0h1m-64 1h1m0 1h1m-14 1h1m9 0h1m0 0h1m66 0h1m-82 1h1m1 0h1m-2 1h1m42 0h1m13 0h1m-61 1h1m1 0h1m47 0h1m16 0h1m-65 1h1m40 0h1m84 1h1m5 0h1m-134 1h1m17 0h1m45 0h1m44 0h1m-112 1h1m0 0h1m13 0h1m43 0h1m83 0h1m-127 1h1m12 0h1m60 0h1m41 0h1m-133 1h1m14 0h1m79 0h1m-95 1h1m15 0h1m-20 1h1m17 0h1m56 0h1m17 0h1m-76 2h1m18 0h1m66 0h1m0 0h1m-90 1h1m0 0h1m51 0h1m37 0h1m3 1h1m-116 1h1m4 0h1m0 0h1m14 0h1m3 0h1m-19 1h1m103 0h1m13 0h1m-106 1h1m0 0h1m0 0h1m1 0h1m-20 1h1m14 0h1m122 0h1m-140 1h1m2 0h1m15 0h1m-20 1h1m1 0h1m119 0h1m-107 1h1m-16 1h1m15 0h1m24 0h1m23 0h1m34 1h1m24 0h1m-109 1h1m54 0h1m34 0h1m12 0h1m-121 1h1m0 0h1m-8 1h1m125 0h1m3 0h1m-124 1h1m14 0h1m68 0h1m-87 1h1m1 0h1m96 0h1m23 0h1m11 0h1m-137 1h1m16 0h1m69 0h1m28 0h1m13 0h1m-50 1h1m30 0h1m2 0h1m2 0h1m0 0h1m0 0h1m14 0h1m-23 1h1m1 0h1m-113 1h1m0 0h1m92 0h1m7 0h1m3 0h1m9 0h1m4 0h1m3 0h1m5 0h1m0 0h1m10 0h1m-145 1h1m97 0h1m19 0h1m4 0h1m12 0h1m-137 1h1m14 0h1m43 0h1m54 0h1m1 0h1m4 0h1m4 0h1m4 0h1m-53 1h1m12 0h1m22 0h1m2 0h1m0 0h1m9 0h1m-129 1h1m14 0h1m91 0h1m16 0h1m1 0h1m-130 1h1m2 0h1m15 0h1m76 0h1m9 0h1m7 0h1m8 0h1m1 0h1m5 0h1m-37 1h1m4 0h1m6 0h1m13 0h1m0 0h1m0 0h1m2 0h1m2 0h1m-113 1h1m5 0h1m52 0h1m13 0h1m5 0h1m4 0h1m2 0h1m8 0h1m2 0h1m12 0h1m-48 1h1m12 0h1m23 0h1m2 0h1m-106 1h1m0 0h1m74 0h1m1 0h1m3 0h1m0 0h1m4 0h1m6 0h1m4 0h1m0 0h1m1 0h1m1 0h1m-122 1h1m16 0h1m63 0h1m2 0h1m5 0h1m2 0h1m1 0h1m12 0h1m5 0h1m1 0h1m2 0h1m7 0h1m0 0h1m-54 1h1m15 0h1m17 0h1m9 0h1m1 0h1m1 0h1m0 0h1m1 0h1m3 0h1m2 0h1m-58 1h1m2 0h1m15 0h1m11 0h1m4 0h1m0 0h1m0 0h1m3 0h1m2 0h1m1 0h1m6 0h1m2 0h1m-132 1h1m98 0h1m6 0h1m6 0h1m2 0h1m0 0h1m1 0h1m6 0h1m1 0h1m8 0h1m-140 1h1m15 0h1m54 0h1m23 0h1m2 0h1m5 0h1m2 0h1m7 0h1m0 0h1m3 0h1m9 0h1m15 0h1m-87 1h1m2 0h1m36 0h1m4 0h1m0 0h1m6 0h1m1 0h1m0 0h1m8 0h1m1 0h1m12 0h1m-143 1h1m2 0h1m14 0h1m57 0h1m14 0h1m1 0h1m0 0h1m0 0h1m3 0h1m2 0h1m0 0h1m2 0h1m2 0h1m0 0h1m1 0h1m1 0h1m4 0h1m0 0h1m0 0h1m0 0h1m1 0h1m0 0h1m2 0h1m-46 1h1m1 0h1m4 0h1m1 0h1m6 0h1m0 0h1m3 0h1m1 0h1m18 0h1m3 0h1m-112 1h1m52 0h1m15 0h1m4 0h1m2 0h1m0 0h1m8 0h1m0 0h1m0 0h1m0 0h1m0 0h1m2 0h1m12 0h1m-52 1h1m12 0h1m5 0h1m0 0h1m2 0h1m1 0h1m9 0h1m9 0h1m0 0h1m0 0h1m0 0h1m12 0h1m-117 1h1m0 0h1m35 0h1m13 0h1m3 0h1m1 0h1m1 0h1m0 0h1m1 0h1m8 0h1m8 0h1m6 0h1m2 0h1m0 0h1m0 0h1m6 0h1m0 0h1m2 0h1m5 0h1m4 0h1m-65 1h1m2 0h1m8 0h1m6 0h1m0 0h1m0 0h1m0 0h1m5 0h1m0 0h1m3 0h1m4 0h1m3 0h1m8 0h1m3 0h1m0 0h1m8 0h1m-51 1h1m3 0h1m19 0h1m4 0h1m6 0h1m0 0h1m0 0h1m4 0h1m1 0h1m-127 1h1m51 0h1m0 0h1m17 0h1m2 0h1m10 0h1m17 0h1m3 0h1m1 0h1m2 0h1m1 0h1m2 0h1m0 0h1m-40 1h1m1 0h1m0 0h1m0 0h1m20 0h1m11 0h1m-53 1h1m3 0h1m2 0h1m0 0h1m5 0h1m27 0h1m2 0h1m0 0h1m0 0h1m1 0h1m7 0h1m0 0h1m-123 1h1m14 0h1m42 0h1m2 0h1m1 0h1m3 0h1m3 0h1m0 0h1m1 0h1m1 0h1m2 0h1m1 0h1m2 0h1m25 0h1m0 0h1m16 0h1m0 0h1m1 0h1m1 0h1m-81 1h1m2 0h1m2 0h1m5 0h1m2 0h1m2 0h1m2 0h1m3 0h1m4 0h1m0 0h1m19 0h1m4 0h1m1 0h1m2 0h1m1 0h1m4 0h1m3 0h1m-111 1h1m22 0h1m15 0h1m11 0h1m3 0h1m37 0h1m8 0h1m2 0h1m1 0h1m1 0h1m7 0h1m-133 1h1m19 0h1m31 0h1m2 0h1m12 0h1m1 0h1m3 0h1m1 0h1m0 0h1m1 0h1m4 0h1m19 0h1m5 0h1m5 0h1m1 0h1m4 0h1m1 0h1m-111 1h1m15 0h1m2 0h1m6 0h1m24 0h1m2 0h1m0 0h1m1 0h1m3 0h1m0 0h1m6 0h1m19 0h1m2 0h1m2 0h1m0 0h1m6 0h1m1 0h1m0 0h1m10 0h1m-93 1h1m7 0h1m4 0h1m8 0h1m3 0h1m10 0h1m0 0h1m1 0h1m1 0h1m23 0h1m3 0h1m8 0h1m7 0h1m7 0h1m-136 1h1m52 0h1m0 0h1m7 0h1m11 0h1m6 0h1m1 0h1m21 0h1m0 0h1m0 0h1m0 0h1m0 0h1m1 0h1m0 0h1m2 0h1m1 0h1m2 0h1m-121 1h1m49 0h1m1 0h1m25 0h1m3 0h1m19 0h1m0 0h1m3 0h1m1 0h1m0 0h1m2 0h1m0 0h1m0 0h1m4 0h1m-103 1h1m15 0h1m7 0h1m0 0h1m7 0h1m3 0h1m0 0h1m2 0h1m1 0h1m6 0h1m0 0h1m2 0h1m9 0h1m19 0h1m0 0h1m0 0h1m9 0h1m4 0h1m2 0h1m-108 1h1m36 0h1m6 0h1m1 0h1m1 0h1m0 0h1m1 0h1m0 0h1m1 0h1m5 0h1m2 0h1m0 0h1m14 0h1m11 0h1m1 0h1m1 0h1m-95 1h1m39 0h1m1 0h1m3 0h1m3 0h1m2 0h1m5 0h1m1 0h1m0 0h1m17 0h1m7 0h1m4 0h1m3 0h1m0 0h1m4 0h1m13 0h1m-136 1h1m0 0h1m19 0h1m28 0h1m7 0h1m5 0h1m2 0h1m1 0h1m1 0h1m8 0h1m18 0h1m4 0h1m0 0h1m2 0h1m1 0h1m12 0h1m-129 1h1m21 0h1m1 0h1m28 0h1m0 0h1m6 0h1m1 0h1m2 0h1m1 0h1m1 0h1m2 0h1m3 0h1m4 0h1m20 0h1m5 0h1m2 0h1m3 0h1m0 0h1m0 0h1m1 0h1m9 0h1m14 0h1m-99 1h1m5 0h1m0 0h1m0 0h1m2 0h1m8 0h1m2 0h1m5 0h1m2 0h1m1 0h1m3 0h1m19 0h1m0 0h1m2 0h1m0 0h1m2 0h1m16 0h1m-127 1h1m0 0h1m0 0h1m18 0h1m15 0h1m2 0h1m7 0h1m0 0h1m3 0h1m11 0h1m0 0h1m5 0h1m18 0h1m3 0h1m0 0h1m8 0h1m1 0h1m1 0h1m2 0h1m0 0h1m6 0h1m-124 1h1m55 0h1m1 0h1m2 0h1m3 0h1m4 0h1m0 0h1m0 0h1m1 0h1m2 0h1m0 0h1m1 0h1m1 0h1m0 0h1m1 0h1m5 0h1m2 0h1m0 0h1m2 0h1m6 0h1m26 0h1m10 0h1m-109 1h1m2 0h1m11 0h1m1 0h1m7 0h1m9 0h1m5 0h1m1 0h1m2 0h1m2 0h1m2 0h1m0 0h1m5 0h1m0 0h1m1 0h1m5 0h1m0 0h1m1 0h1m0 0h1m4 0h1m-91 1h1m1 0h1m14 0h1m0 0h1m2 0h1m7 0h1m1 0h1m7 0h1m0 0h1m1 0h1m0 0h1m1 0h1m0 0h1m2 0h1m2 0h1m9 0h1m3 0h1m1 0h1m2 0h1m0 0h1m4 0h1m0 0h1m3 0h1m1 0h1m13 0h1m6 0h1m-88 1h1m5 0h1m1 0h1m6 0h1m8 0h1m0 0h1m1 0h1m3 0h1m0 0h1m3 0h1m1 0h1m2 0h1m2 0h1m2 0h1m1 0h1m7 0h1m9 0h1m6 0h1m0 0h1m15 0h1m-110 1h1m15 0h1m6 0h1m0 0h1m1 0h1m2 0h1m3 0h1m0 0h1m15 0h1m4 0h1m1 0h1m2 0h1m1 0h1m1 0h1m10 0h1m1 0h1m0 0h1m4 0h1m0 0h1m3 0h1m6 0h1m-116 1h1m32 0h1m5 0h1m0 0h1m14 0h1m4 0h1m0 0h1m17 0h1m4 0h1m0 0h1m1 0h1m2 0h1m0 0h1m0 0h1m1 0h1m0 0h1m2 0h1m4 0h1m8 0h1m8 0h1m-124 1h1m0 0h1m21 0h1m9 0h1m3 0h1m6 0h1m4 0h1m2 0h1m1 0h1m5 0h1m1 0h1m2 0h1m1 0h1m3 0h1m5 0h1m0 0h1m1 0h1m2 0h1m14 0h1m1 0h1m1 0h1m5 0h1m-107 1h1m20 0h1m10 0h1m1 0h1m4 0h1m1 0h1m5 0h1m2 0h1m1 0h1m1 0h1m3 0h1m10 0h1m5 0h1m1 0h1m0 0h1m4 0h1m2 0h1m11 0h1m13 0h1m7 0h1m22 0h1m-144 1h1m21 0h1m8 0h1m0 0h1m2 0h1m4 0h1m22 0h1m0 0h1m4 0h1m2 0h1m0 0h1m0 0h1m2 0h1m0 0h1m0 0h1m1 0h1m6 0h1m7 0h1m2 0h1m14 0h1m8 0h1m-100 1h1m0 0h1m4 0h1m1 0h1m6 0h1m2 0h1m6 0h1m5 0h1m1 0h1m0 0h1m2 0h1m0 0h1m1 0h1m6 0h1m2 0h1m0 0h1m5 0h1m4 0h1m0 0h1m4 0h1m2 0h1m0 0h1m6 0h1m0 0h1m19 0h1m-93 1h1m1 0h1m3 0h1m9 0h1m2 0h1m0 0h1m1 0h1m3 0h1m0 0h1m1 0h1m3 0h1m1 0h1m0 0h1m2 0h1m1 0h1m0 0h1m1 0h1m12 0h1m1 0h1m-69 1h1m0 0h1m1 0h1m1 0h1m3 0h1m0 0h1m2 0h1m24 0h1m10 0h1m2 0h1m1 0h1m0 0h1m3 0h1m4 0h1m-58 1h1m1 0h1m18 0h1m1 0h1m0 0h1m3 0h1m7 0h1m0 0h1m9 0h1m1 0h1m52 0h1m-78 1h1m1 0h1m1 0h1m1 0h1m0 0h1m2 0h1m1 0h1m10 0h1m0 0h1m0 0h1m2 0h1m4 0h1m1 0h1m-93 1h1m32 0h1m0 0h1m17 0h1m1 0h1m4 0h1m9 0h1m24 0h1m21 0h1m-83 1h1m14 0h1m4 0h1m1 0h1m0 0h1m1 0h1m2 0h1m8 0h1m2 0h1m0 0h1m2 0h1m6 0h1m0 0h1m12 0h1m-67 1h1m41 0h1m0 0h1m2 0h1m1 0h1m-36 1h1m1 0h1m0 0h1m1 0h1m1 0h1m4 0h1m2 0h1m1 0h1m0 0h1m1 0h1m0 0h1m3 0h1m40 0h1m-115 1h1m63 0h1m11 0h1m1 0h1m21 0h1m2 0h1m-56 1h1m4 0h1m0 0h1m0 0h1m2 0h1m6 0h1m5 0h1m3 0h1m4 0h1m1 0h1m4 0h1m2 0h1m2 0h1m5 0h1m6 0h1m2 0h1m-66 1h1m0 0h1m3 0h1m2 0h1m5 0h1m4 0h1m15 0h1m5 0h1m-43 1h1m1 0h1m2 0h1m0 0h1m1 0h1m3 0h1m1 0h1m18 0h1m-37 1h1m23 0h1m8 0h1m7 0h1m4 0h1m0 0h1m27 0h1m-78 1h1m3 0h1m4 0h1m85 0h1m4 0h1m-104 1h1m0 0h1m2 0h1m0 0h1m4 0h1m1 0h1m17 0h1m12 0h1m4 0h1m6 0h1m52 0h1m-110 1h1m15 0h1m83 0h1m-138 1h1m33 0h1m0 0h1m4 0h1m5 0h1m1 0h1m-5 1h1m2 0h1m12 0h1m6 0h1m4 0h1m-72 1h1m32 0h1m4 0h1m12 0h1m40 0h1m-91 1h1m35 0h1m2 0h1m24 0h1m37 0h1m-107 1h1m3 0h1m31 0h1m1 0h1m9 0h1m12 0h1m49 0h1m-79 1h1m22 0h1m3 0h1m4 0h1m10 0h1m7 0h1m40 0h1m-75 1h1m52 0h1m-72 1h1m4 0h1m43 0h1m-23 1h1m76 0h1m-105 1h1m1 0h1m10 0h1m20 0h1m7 0h1m-76 1h1m3 0h1m31 0h1m0 0h1m43 0h1m-76 1h1m26 0h1m-27 1h1m28 0h1m-3 1h1m7 0h1m-37 1h1m3 0h1m18 0h1m7 0h1m-30 2h1m2 0h1m16 0h1m-19 1h1m16 0h1m-21 1h1m6 0h1m15 0h1m-21 1h1m3 0h1m9 0h1m6 0h1m-24 1h1m8 0h1m1 0h1m1 0h1m1 0h1m1 0h1m2 0h1m6 0h1m-26 1h1m6 0h1m5 0h1m1 0h1m0 0h1m1 0h1m-22 1h1m2 0h1m1 0h1m0 0h1m2 0h1m5 0h1m3 0h1m0 0h1m0 0h1m-14 1h1m0 0h1m9 0h1m2 0h1m0 0h1m-19 1h1m4 0h1m1 0h1m17 0h1m-17 1h1m-10 1h1m10 0h1m4 0h1m-5 1h1m-13 1h1m7 0h1m1 1h1m-13 1h1m10 0h1m12 0h1" stroke="#403a86" stroke-opacity="0.68" stroke-width="1" fill="none"/>
<path d="M367 267.5h1m0 0h1m-3 1h1m1 0h1m0 0h1m0 0h1m0 0h1m-6 1h1m0 0h1m0 0h1m0 0h1m0 0h1m-5 1h1m0 0h1m-4 1h1m0 0h1m3 0h1m-5 1h1m0 0h1m2 0h1m0 0h1m-6 1h1m0 0h1m1 0h1m0 0h1m1 0h1m-8 1h1m0 0h1m0 0h1m0 0h1m0 0h1m0 0h1m0 0h1m0 0h1m0 0h1m0 0h1m-9 1h1m1 0h1m1 0h1m0 0h1m0 0h1m0 0h1m0 0h1m-11 1h1m0 0h1m0 0h1m0 0h1m0 0h1m0 0h1m2 0h1m-9 1h1m0 0h1m0 0h1m0 0h1m0 0h1m0 0h1m0 0h1m0 0h1m-6 1h1m1 0h1m0 0h1m0 0h1m1 0h1m0 0h1m-9 1h1m2 0h1m0 0h1m0 0h1m0 0h1m0 0h1m-7 1h1m0 0h1m1 0h1m1 0h1m0 0h1m-8 1h1m0 0h1m0 0h1m0 0h1m0 0h1m0 0h1m1 0h1m0 0h1m-7 1h1m0 0h1m0 0h1m0 0h1m0 0h1m1 0h1m-8 1h1m0 0h1m0 0h1m3 0h1m-8 1h1m0 0h1m0 0h1m0 0h1m2 0h1m-7 1h1m0 0h1m0 0h1m0 0h1m1 0h1m-7 1h1m1 0h1m0 0h1m2 0h1m0 0h1m0 0h1m-7 1h1m1 0h1m0 0h1m0 0h1m1 0h1m0 0h1m-9 1h1m0 0h1m0 0h1m1 0h1m2 0h1m0 0h1m-8 1h1m0 0h1m0 0h1m0 0h1m0 0h1m2 0h1m-9 1h1m1 0h1m1 0h1m1 0h1m-8 1h1m1 0h1m1 0h1m0 0h1m0 0h1m0 0h1m-9 1h1m2 0h1m0 0h1m1 0h1m0 0h1m1 0h1m-10 1h1m0 0h1m1 0h1m0 0h1m0 0h1m0 0h1m0 0h1m0 0h1m0 0h1m-11 1h1m2 0h1m0 0h1m0 0h1m0 0h1m0 0h1m1 0h1m-9 1h1m2 0h1m0 0h1m0 0h1m0 0h1m0 0h1m1 0h1m-12 1h1m2 0h1m0 0h1m0 0h1m1 0h1m0 0h1m2 0h1m-11 1h1m0 0h1m0 0h1m0 0h1m0 0h1m0 0h1m0 0h1m0 0h1m0 0h1m0 0h1m-10 1h1m1 0h1m0 0h1m1 0h1m0 0h1m0 0h1m1 0h1m-10 1h1m1 0h1m1 0h1m1 0h1m0 0h1m0 0h1m0 0h1m0 0h1m-10 1h1m1 0h1m0 0h1m0 0h1m0 0h1m0 0h1m1 0h1m1 0h1m-13 1h1m0 0h1m0 0h1m0 0h1m0 0h1m0 0h1m0 0h1m0 0h1m0 0h1m0 0h1m1 0h1m-12 1h1m0 0h1m0 0h1m1 0h1m0 0h1m1 0h1m0 0h1m0 0h1m0 0h1m1 0h1m-12 1h1m4 0h1m0 0h1m0 0h1m0 0h1m0 0h1m0 0h1m-12 1h1m0 0h1m1 0h1m1 0h1m1 0h1m0 0h1m0 0h1m0 0h1m1 0h1m-11 1h1m0 0h1m0 0h1m0 0h1m0 0h1m0 0h1m0 0h1m0 0h1m-9 1h1m2 0h1m0 0h1m0 0h1m0 0h1m0 0h1m0 0h1m0 0h1m-11 1h1m0 0h1m0 0h1m0 0h1m0 0h1m0 0h1m0 0h1m0 0h1m0 0h1m0 0h1m0 0h1m-11 1h1m0 0h1m0 0h1m0 0h1m0 0h1m0 0h1m0 0h1m1 0h1m0 0h1m-8 1h1m0 0h1m0 0h1m0 0h1m0 0h1m0 0h1m0 0h1m0 0h1m1 0h1m-12 1h1m0 0h1m1 0h1m0 0h1m0 0h1m0 0h1m0 0h1m1 0h1m0 0h1m-7 1h1m0 0h1m0 0h1m0 0h1m0 0h1m1 0h1m-11 1h1m0 0h1m0 0h1m0 0h1m0 0h1m0 0h1m0 0h1m0 0h1m0 0h1m0 0h1m-11 1h1m0 0h1m0 0h1m0 0h1m0 0h1m0 0h1m0 0h1m0 0h1m0 0h1m0 0h1m1 0h1m-11 1h1m0 0h1m0 0h1m0 0h1m0 0h1m0 0h1m0 0h1m0 0h1m0 0h1m0 0h1m0 0h1m0 0h1m-13 1h1m1 0h1m0 0h1m0 0h1m0 0h1m0 0h1m0 0h1m0 0h1m0 0h1m1 0h1m0 0h1m0 0h1m-13 1h1m0 0h1m0 0h1m1 0h1m1 0h1m0 0h1m0 0h1m2 0h1m-12 1h1m3 0h1m0 0h1m0 0h1m0 0h1m0 0h1m0 0h1m1 0h1m0 0h1m-13 1h1m0 0h1m0 0h1m0 0h1m0 0h1m1 0h1m0 0h1m0 0h1m0 0h1m0 0h1m1 0h1m-12 1h1m1 0h1m0 0h1m0 0h1m0 0h1m0 0h1m0 0h1m0 0h1m0 0h1m0 0h1m0 0h1m-14 1h1m0 0h1m0 0h1m0 0h1m0 0h1m0 0h1m0 0h1m0 0h1m1 0h1m1 0h1m1 0h1m-13 1h1m0 0h1m1 0h1m0 0h1m0 0h1m0 0h1m0 0h1m2 0h1m-11 1h1m0 0h1m0 0h1m0 0h1m0 0h1m0 0h1m0 0h1m0 0h1m0 0h1m1 0h1m-9 1h1m0 0h1m0 0h1m0 0h1m0 0h1m0 0h1m0 0h1m1 0h1m-10 1h1m1 0h1m0 0h1m0 0h1m0 0h1m0 0h1m0 0h1m0 0h1m0 0h1m-11 1h1m0 0h1m0 0h1m0 0h1m0 0h1m1 0h1m0 0h1m0 0h1m0 0h1m-10 1h1m0 0h1m0 0h1m1 0h1m0 0h1m0 0h1m1 0h1m0 0h1m-9 1h1m0 0h1m0 0h1m0 0h1m0 0h1m1 0h1m0 0h1m1 0h1m0 0h1m-12 1h1m0 0h1m0 0h1m0 0h1m0 0h1m0 0h1m0 0h1m0 0h1m0 0h1m0 0h1m1 0h1m-13 1h1m0 0h1m0 0h1m1 0h1m0 0h1m0 0h1m0 0h1m0 0h1m0 0h1m0 0h1m0 0h1m-11 1h1m0 0h1m0 0h1m0 0h1m0 0h1m0 0h1m0 0h1m0 0h1m0 0h1m0 0h1m0 0h1m-11 1h1m2 0h1m0 0h1m0 0h1m0 0h1m0 0h1m0 0h1m0 0h1m110 0h1m-122 1h1m0 0h1m0 0h1m0 0h1m0 0h1m0 0h1m0 0h1m0 0h1m0 0h1m0 0h1m0 0h1m0 0h1m108 0h1m0 0h1m-123 1h1m1 0h1m0 0h1m0 0h1m0 0h1m0 0h1m0 0h1m0 0h1m0 0h1m0 0h1m0 0h1m109 0h1m0 0h1m0 0h1m-124 1h1m1 0h1m1 0h1m1 0h1m0 0h1m0 0h1m0 0h1m0 0h1m0 0h1m103 0h1m7 0h1m-124 1h1m0 0h1m0 0h1m1 0h1m0 0h1m0 0h1m0 0h1m0 0h1m0 0h1m0 0h1m1 0h1m0 0h1m-14 1h1m0 0h1m0 0h1m0 0h1m0 0h1m0 0h1m0 0h1m2 0h1m1 0h1m0 0h1m0 0h1m0 0h1m-14 1h1m0 0h1m0 0h1m0 0h1m0 0h1m0 0h1m2 0h1m0 0h1m0 0h1m0 0h1m0 0h1m-11 1h1m0 0h1m0 0h1m0 0h1m1 0h1m0 0h1m1 0h1m1 0h1m-10 1h1m0 0h1m0 0h1m0 0h1m0 0h1m1 0h1m0 0h1m1 0h1m-11 1h1m1 0h1m0 0h1m0 0h1m0 0h1m0 0h1m0 0h1m103 0h1m-114 1h1m0 0h1m0 0h1m0 0h1m0 0h1m0 0h1m0 0h1m0 0h1m1 0h1m0 0h1m0 0h1m86 0h1m11 0h1m0 0h1m1 0h1m-113 1h1m0 0h1m0 0h1m0 0h1m0 0h1m0 0h1m0 0h1m0 0h1m0 0h1m0 0h1m0 0h1m85 0h1m11 0h1m0 0h1m0 0h1m0 0h1m-112 1h1m0 0h1m1 0h1m0 0h1m0 0h1m0 0h1m0 0h1m1 0h1m1 0h1m83 0h1m0 0h1m10 0h1m2 0h1m0 0h1m-112 1h1m0 0h1m1 0h1m0 0h1m0 0h1m0 0h1m0 0h1m1 0h1m0 0h1m1 0h1m95 0h1m0 0h1m0 0h1m0 0h1m-111 1h1m1 0h1m0 0h1m0 0h1m0 0h1m0 0h1m0 0h1m0 0h1m0 0h1m0 0h1m76 0h1m0 0h1m5 0h1m12 0h1m0 0h1m-110 1h1m0 0h1m0 0h1m1 0h1m0 0h1m0 0h1m0 0h1m0 0h1m0 0h1m0 0h1m0 0h1m71 0h1m2 0h1m2 0h1m0 0h1m3 0h1m0 0h1m1 0h1m10 0h1m-110 1h1m0 0h1m0 0h1m0 0h1m0 0h1m0 0h1m1 0h1m0 0h1m0 0h1m0 0h1m1 0h1m71 0h1m1 0h1m1 0h1m4 0h1m0 0h1m1 0h1m0 0h1m0 0h1m-98 1h1m0 0h1m1 0h1m0 0h1m2 0h1m0 0h1m0 0h1m0 0h1m74 0h1m0 0h1m0 0h1m0 0h1m1 0h1m2 0h1m0 0h1m1 0h1m1 0h1m-100 1h1m1 0h1m0 0h1m0 0h1m3 0h1m1 0h1m0 0h1m67 0h1m3 0h1m0 0h1m0 0h1m0 0h1m0 0h1m4 0h1m0 0h1m1 0h1m1 0h1m0 0h1m0 0h1m0 0h1m0 0h1m-103 1h1m0 0h1m0 0h1m1 0h1m5 0h1m0 0h1m72 0h1m3 0h1m0 0h1m0 0h1m1 0h1m0 0h1m0 0h1m0 0h1m3 0h1m0 0h1m-101 1h1m0 0h1m0 0h1m0 0h1m0 0h1m4 0h1m0 0h1m0 0h1m0 0h1m0 0h1m71 0h1m0 0h1m0 0h1m0 0h1m1 0h1m2 0h1m0 0h1m1 0h1m0 0h1m1 0h1m0 0h1m1 0h1m8 0h1m0 0h1m-112 1h1m0 0h1m0 0h1m0 0h1m4 0h1m0 0h1m0 0h1m77 0h1m2 0h1m1 0h1m1 0h1m0 0h1m3 0h1m9 0h1m1 0h1m-114 1h1m0 0h1m0 0h1m0 0h1m0 0h1m5 0h1m0 0h1m75 0h1m0 0h1m1 0h1m0 0h1m0 0h1m0 0h1m1 0h1m0 0h1m0 0h1m0 0h1m1 0h1m0 0h1m10 0h1m0 0h1m0 0h1m-113 1h1m0 0h1m0 0h1m4 0h1m0 0h1m0 0h1m1 0h1m71 0h1m0 0h1m0 0h1m0 0h1m0 0h1m0 0h1m2 0h1m1 0h1m3 0h1m0 0h1m11 0h1m0 0h1m0 0h1m-115 1h1m0 0h1m0 0h1m1 0h1m4 0h1m0 0h1m0 0h1m1 0h1m74 0h1m0 0h1m1 0h1m0 0h1m1 0h1m1 0h1m0 0h1m0 0h1m1 0h1m1 0h1m0 0h1m-103 1h1m0 0h1m0 0h1m0 0h1m4 0h1m0 0h1m0 0h1m0 0h1m70 0h1m1 0h1m1 0h1m0 0h1m1 0h1m0 0h1m0 0h1m3 0h1m2 0h1m2 0h1m-103 1h1m0 0h1m0 0h1m0 0h1m0 0h1m4 0h1m1 0h1m0 0h1m71 0h1m1 0h1m2 0h1m2 0h1m2 0h1m0 0h1m0 0h1m-98 1h1m1 0h1m0 0h1m0 0h1m4 0h1m0 0h1m1 0h1m70 0h1m0 0h1m1 0h1m2 0h1m0 0h1m0 0h1m0 0h1m1 0h1m0 0h1m0 0h1m1 0h1m0 0h1m-100 1h1m0 0h1m0 0h1m0 0h1m5 0h1m0 0h1m0 0h1m0 0h1m58 0h1m0 0h1m7 0h1m2 0h1m0 0h1m3 0h1m0 0h1m0 0h1m0 0h1m4 0h1m0 0h1m0 0h1m0 0h1m-99 1h1m0 0h1m0 0h1m5 0h1m0 0h1m0 0h1m0 0h1m0 0h1m44 0h1m0 0h1m9 0h1m1 0h1m0 0h1m0 0h1m4 0h1m1 0h1m1 0h1m3 0h1m5 0h1m4 0h1m0 0h1m0 0h1m-100 1h1m0 0h1m0 0h1m0 0h1m5 0h1m0 0h1m46 0h1m1 0h1m9 0h1m0 0h1m0 0h1m0 0h1m0 0h1m5 0h1m0 0h1m0 0h1m3 0h1m0 0h1m0 0h1m0 0h1m0 0h1m0 0h1m0 0h1m-92 1h1m0 0h1m0 0h1m6 0h1m0 0h1m0 0h1m60 0h1m0 0h1m8 0h1m0 0h1m0 0h1m1 0h1m0 0h1m0 0h1m1 0h1m-91 1h1m0 0h1m7 0h1m0 0h1m0 0h1m44 0h1m24 0h1m0 0h1m0 0h1m1 0h1m-77 1h1m0 0h1m0 0h1m1 0h1m41 0h1m0 0h1m0 0h1m23 0h1m0 0h1m0 0h1m6 0h1m-92 1h1m0 0h1m1 0h1m7 0h1m0 0h1m0 0h1m43 0h1m24 0h1m0 0h1m0 0h1m6 0h1m-91 1h1m0 0h1m8 0h1m0 0h1m0 0h1m0 0h1m41 0h1m-58 1h1m0 0h1m0 0h1m0 0h1m8 0h1m0 0h1m0 0h1m0 0h1m0 0h1m-17 1h1m1 0h1m0 0h1m9 0h1m0 0h1m32 0h1m0 0h1m16 0h1m-66 1h1m0 0h1m0 0h1m0 0h1m9 0h1m2 0h1m30 0h1m0 0h1m0 0h1m13 0h1m0 0h1m-65 1h1m1 0h1m0 0h1m9 0h1m0 0h1m1 0h1m23 0h1m0 0h1m0 0h1m20 0h1m1 0h1m-65 1h1m0 0h1m10 0h1m0 0h1m0 0h1m24 0h1m0 0h1m0 0h1m20 0h1m-65 1h1m1 0h1m0 0h1m0 0h1m10 0h1m0 0h1m0 0h1m23 0h1m1 0h1m19 0h1m1 0h1m0 0h1m-67 1h1m0 0h1m0 0h1m0 0h1m11 0h1m0 0h1m0 0h1m0 0h1m23 0h1m20 0h1m1 0h1m0 0h1m-68 1h1m0 0h1m0 0h1m0 0h1m0 0h1m11 0h1m0 0h1m0 0h1m0 0h1m24 0h1m0 0h1m20 0h1m0 0h1m-68 1h1m0 0h1m0 0h1m0 0h1m13 0h1m20 0h1m0 0h1m3 0h1m1 0h1m-47 1h1m1 0h1m15 0h1m0 0h1m0 0h1m19 0h1m0 0h1m3 0h1m0 0h1m0 0h1m8 0h1m0 0h1m-57 1h1m0 0h1m1 0h1m14 0h1m3 0h1m12 0h1m0 0h1m0 0h1m0 0h1m1 0h1m0 0h1m0 0h1m2 0h1m0 0h1m0 0h1m7 0h1m-57 1h1m0 0h1m0 0h1m0 0h1m15 0h1m0 0h1m0 0h1m0 0h1m0 0h1m0 0h1m1 0h1m1 0h1m0 0h1m5 0h1m1 0h1m2 0h1m3 0h1m0 0h1m0 0h1m0 0h1m-47 1h1m0 0h1m17 0h1m1 0h1m0 0h1m0 0h1m0 0h1m1 0h1m1 0h1m4 0h1m0 0h1m0 0h1m0 0h1m0 0h1m0 0h1m0 0h1m5 0h1m-46 1h1m18 0h1m0 0h1m0 0h1m0 0h1m0 0h1m1 0h1m0 0h1m0 0h1m7 0h1m1 0h1m1 0h1m2 0h1m1 0h1m-47 1h1m0 0h1m19 0h1m1 0h1m1 0h1m0 0h1m3 0h1m4 0h1m0 0h1m2 0h1m0 0h1m0 0h1m0 0h1m0 0h1m0 0h1m0 0h1m-45 1h1m20 0h1m0 0h1m0 0h1m1 0h1m0 0h1m0 0h1m0 0h1m1 0h1m1 0h1m0 0h1m0 0h1m0 0h1m1 0h1m4 0h1m-44 1h1m0 0h1m20 0h1m0 0h1m0 0h1m0 0h1m1 0h1m0 0h1m0 0h1m0 0h1m5 0h1m0 0h1m2 0h1m0 0h1m0 0h1m0 0h1m-44 1h1m0 0h1m21 0h1m0 0h1m1 0h1m0 0h1m1 0h1m0 0h1m0 0h1m1 0h1m2 0h1m0 0h1m4 0h1m-45 1h1m1 0h1m22 0h1m0 0h1m1 0h1m1 0h1m0 0h1m1 0h1m1 0h1m0 0h1m0 0h1m0 0h1m0 0h1m-38 1h1m22 0h1m0 0h1m1 0h1m0 0h1m0 0h1m0 0h1m0 0h1m0 0h1m1 0h1m0 0h1m0 0h1m-37 1h1m0 0h1m23 0h1m0 0h1m0 0h1m1 0h1m0 0h1m0 0h1m1 0h1m0 0h1m-36 1h1m0 0h1m24 0h1m3 0h1m0 0h1m1 0h1m-34 1h1m0 0h1m24 0h1m2 0h1m-31 1h1m0 0h1m0 0h1m24 0h1m0 0h1m0 0h1m-27 1h1m22 0h1m0 0h1m2 0h1m-30 1h1m24 0h1m0 0h1m1 0h1m0 0h1m-29 1h1m0 0h1m22 0h1m0 0h1m1 0h1m0 0h1m-5 1h1m0 0h1m0 0h1m0 0h1m-28 1h1m0 0h1m22 0h1m0 0h1m0 0h1m-28 1h1m0 0h1m0 0h1m0 0h1m20 0h1m0 0h1m1 0h1m-28 1h1m2 0h1m20 0h1m0 0h1m0 0h1m-25 1h1m22 0h1m0 0h1m-25 1h1m0 0h1m0 0h1m18 0h1m0 0h1m0 0h1m0 0h1m-25 1h1m0 0h1m0 0h1m17 0h1m0 0h1m-22 1h1m0 0h1m0 0h1m0 0h1m16 0h1m-20 1h1m2 0h1m14 0h1m2 0h1m-19 1h1m0 0h1m12 0h1m0 0h1m0 0h1m0 0h1m-16 1h1m0 0h1m9 0h1m0 0h1m0 0h1m0 0h1m-17 1h1m3 0h1m1 0h1m2 0h1m0 0h1m0 0h1m0 0h1m0 0h1m0 0h1m0 0h1m0 0h1m0 0h1m-18 1h1m0 0h1m1 0h1m0 0h1m0 0h1m0 0h1m0 0h1m0 0h1m0 0h1m0 0h1m0 0h1m1 0h1m0 0h1m0 0h1m-15 1h1m0 0h1m0 0h1m0 0h1m3 0h1m1 0h1m0 0h1m1 0h1m0 0h1m-12 1h1m4 0h1m0 0h1m2 0h1m-7 1h1m0 0h1m0 0h1m0 0h1m1 0h1m-4 1h1m0 0h1" stroke="#3a1c96" stroke-opacity="0.85" stroke-width="1" fill="none"/>
<path d="M366.5 328.2 364.5 328.8 363.8 330.5 362.5 329.8 362.5 331.2 363.5 330.8 363.8 331.8 362.2 333.2 362.8 333.8 362.2 335.2 363.2 335.8 362.2 336.8 362.2 338.8 363.8 340.2 363.8 343.2 364.8 344.2 363.5 344.5 362.8 343.8 363.2 343.2 361.8 342.8 362.5 343.2 362.2 344.5 362.8 346.2 364.2 345.5 365.5 346.8 363.8 347.5 363.5 348.8 362.5 349.5 363.8 351.8 363.5 352.5 361.2 349.8 361.8 350.8 361.5 353.2 362.5 353.8 361.8 354.5 362.2 355.8 361.2 355.5 360.8 357.8 362.5 359.2 361.2 359.8 361.5 362.8 359.8 365.2 360.5 367.2 359.2 367.5 358.8 369.5 359.5 371.8 358.5 373.5 359.5 373.8 357.2 376.2 356.8 378.2 357.5 379.2 356.8 379.8 354.8 379.8 354.5 382.5 353.2 383.8 353.2 384.8 353.8 384.5 354.2 385.2 351.8 387.2 352.5 388.2 351.5 388.8 352.5 391.5 352.2 394.5 353.5 398.5 354.5 399.5 354.2 401.5 355.2 401.5 359.5 405.5 360.5 405.2 361.2 406.5 362.5 406.2 365.8 407.2 366.5 405.8 368.2 406.5 368.5 405.2 370.8 405.2 371.2 404.2 370.5 403.5 371.2 402.8 372.8 402.8 373.5 400.5 374.8 399.2 374.2 398.2 375.5 397.2 375.5 393.8 376.5 392.5 375.8 389.2 377.2 387.8 376.5 388.2 375.8 387.5 377.2 386.5 375.5 385.2 375.2 383.5 374.5 383.8 374.5 381.2 372.2 378.2 371.5 375.8 372.2 373.8 370.2 372.5 370.2 369.2 369.2 367.5 367.8 366.8 368.2 365.8 369.2 366.8 369.8 366.5 368.8 364.8 369.5 362.5 368.5 361.8 369.2 359.2 367.8 358.5 368.8 356.8 367.8 355.2 368.5 354.5 367.8 352.8 368.5 350.5 367.8 349.8 369.5 349.2 367.5 348.2 368.8 347.2 369.2 345.8 366.8 345.8 366.5 345.2 369.2 343.5 365.8 342.5 363.5 339.2 364.5 338.5 366.5 340.8 368.2 340.2 367.2 338.5 367.2 336.2 369.2 333.8 368.8 333.5 368.5 334.5 366.8 335.5 365.8 334.8 367.5 333.5 368.2 331.8 367.2 330.8 367.2 328.8ZM369.2 303.8 366.8 305.5 368.5 308.8 367.5 309.5 367.2 308.5 365.8 308.2 365.8 305.8 364.8 307.8 365.2 308.8 366.5 308.8 367.2 309.8 365.8 311.5 363.5 312.2 364.5 312.8 362.5 314.5 364.5 315.2 365.2 314.2 365.8 316.5 367.2 316.5 363.8 320.2 364.2 323.8 365.5 324.2 365.2 325.5 364.5 324.8 363.8 325.2 364.8 325.8 365.2 327.5 365.8 327.5 366.5 325.8 367.8 326.2 367.5 325.2 368.5 324.2 364.8 322.8 365.2 320.8 364.5 319.5 365.8 318.5 368.5 318.8 367.5 317.2 368.2 314.5 366.5 313.2 368.2 313.2 367.5 312.8 368.2 311.8 367.5 311.2 368.8 309.5 368.2 307.5 369.5 304.5Z" fill="#321e9e" fill-rule="evenodd"/>
<path d="M365.8 360.5 365.2 360.5 365.2 364.5 364.2 365.2 365.2 365.8 364.2 366.8 364.8 368.5 364.2 368.8 361.5 367.8 362.8 369.5 362.2 370.2 360.5 369.5 359.5 370.2 362.2 371.5 362.2 373.5 361.5 374.5 359.8 374.5 358.8 375.5 360.2 376.2 360.5 377.2 359.2 377.5 359.8 378.2 358.5 379.5 357.8 378.8 357.2 381.2 355.5 382.2 355.8 382.8 354.5 383.8 354.8 384.8 353.5 386.5 353.8 387.8 353.2 389.2 353.8 390.2 353.2 393.8 354.2 394.5 355.2 400.5 356.8 400.5 357.5 401.5 356.5 402.2 358.2 402.5 359.8 404.5 360.5 404.2 363.5 405.5 364.2 404.8 365.2 406.2 365.8 404.2 366.8 405.5 367.8 405.5 369.2 403.2 372.2 402.2 372.2 398.5 373.8 397.8 374.8 394.8 374.5 392.2 375.5 392.2 375.5 389.8 374.8 389.2 375.5 386.5 374.5 386.5 374.5 385.2 372.2 382.2 372.5 380.5 371.8 379.2 370.2 378.2 370.5 377.5 369.5 376.5 370.5 374.5 368.5 374.2 369.2 372.5 368.5 372.5 368.2 371.5 369.2 370.2 368.5 369.8 367.8 370.5 365.8 369.2 367.2 368.2 367.2 366.8 365.8 368.2 365.2 365.5 366.5 364.5 366.8 365.8 366.8 363.5 367.5 363.2 367.5 362.5 365.8 362.5Z" fill="#2832c8" fill-rule="evenodd"/>
<path d="M365.8 375.2 364.5 375.8 361.8 375.5 362.8 377.5 359.8 378.8 359.5 379.8 357.5 381.2 356.2 384.5 354.8 385.5 355.2 387.2 354.5 388.2 355.2 388.8 354.5 390.2 356.5 392.2 355.5 392.2 354.8 393.5 356.2 397.2 357.2 397.8 357.5 399.5 358.5 400.2 359.5 399.8 360.2 401.5 362.8 403.8 365.2 403.5 366.5 402.5 367.2 400.8 368.5 401.2 372.8 397.2 373.2 395.8 372.2 392.2 373.8 390.2 373.2 389.5 373.2 387.5 372.2 386.8 372.8 385.2 372.5 384.2 371.2 383.2 369.8 380.8 369.8 379.5 367.5 379.5 365.5 378.5 366.2 376.5Z" fill="#1e78d7" fill-rule="evenodd"/>
<path d="M364.8 378.5 358.8 382.2 357.5 383.8 357.8 385.5 356.8 385.5 355.8 387.5 355.8 390.8 356.5 391.5 355.8 393.8 356.8 394.2 356.5 395.2 357.8 396.8 357.8 398.2 361.8 401.5 363.8 400.8 365.8 401.5 367.2 400.2 368.5 400.2 368.2 399.5 370.2 398.5 369.8 397.2 370.5 396.2 372.2 395.2 371.5 392.2 372.8 390.5 372.2 389.8 372.5 388.5 371.2 386.5 371.5 385.8 370.2 385.2 370.2 382.5 368.5 380.8 365.2 380.5 365.5 379.2Z" fill="#1ea5d2" fill-rule="evenodd"/>
<path d="M363.5 381.8 362.8 382.5 361.2 382.5 360.2 384.2 359.2 384.5 357.8 388.2 357.8 392.2 359.2 396.2 361.5 398.8 364.2 398.5 365.2 399.2 365.5 398.2 368.2 397.5 369.2 393.8 370.5 393.2 369.8 391.5 370.8 390.8 370.2 390.5 370.5 388.8 369.8 388.8 369.5 385.8 367.2 383.8 367.2 382.5 364.2 382.5Z" fill="#24b478" fill-rule="evenodd"/>
<path d="M361.8 384.5 360.8 385.5 360.8 386.8 359.5 387.8 359.5 394.5 360.8 394.5 361.2 396.5 362.8 396.5 363.2 397.5 364.5 397.5 366.2 395.8 367.5 395.8 367.8 394.2 369.5 392.8 368.8 391.5 369.2 387.2 365.5 386.2 367.2 385.2 366.2 384.5Z" fill="#46be32" fill-rule="evenodd"/>
<path d="M362.5 385.2 362.5 386.8 360.8 388.2 359.8 392.2 361.5 393.8 362.2 395.8 362.8 394.5 365.2 395.8 366.8 393.2 367.5 393.5 367.8 389.2 367.5 388.2 366.2 388.2 366.2 387.2 364.5 387.2 364.5 385.5 363.2 386.2Z" fill="#bed71e" fill-rule="evenodd"/>
<path d="M363.5 387.5 362.8 388.5 361.2 388.5 360.5 392.2 362.5 392.2 363.2 394.2 364.8 394.8 366.8 392.8 366.8 390.2 367.5 389.2 365.8 387.8Z" fill="#f5dc14" fill-rule="evenodd"/>
<path d="M364.2 387.8 361.8 389.8 361.5 391.2 364.8 392.5 365.8 391.5 366.2 389.5 365.5 388.2 364.8 388.8Z" fill="#f58219" fill-rule="evenodd"/>
<path d="M364.89 426.00v3 M323.80 387.72h-3 M364.31 426.00v3 M323.80 388.27h-3 M365.18 426.00v3 M323.80 387.44h-3 M364.01 426.00v3 M323.80 388.54h-3 M365.48 426.00v3 M323.80 387.16h-3 M363.72 426.00v3 M323.80 388.81h-3 M365.77 426.00v3 M323.80 386.88h-3 M363.42 426.00v3 M323.80 389.08h-3 M366.06 426.00v3 M323.80 386.61h-3 M363.13 426.00v3 M323.80 389.35h-3 M366.35 426.00v3 M323.80 386.33h-3 M362.84 426.00v3 M323.80 389.61h-3 M366.64 426.00v3 M323.80 386.05h-3 M362.54 426.00v3 M323.80 389.88h-3 M366.94 426.00v3 M323.80 385.77h-3 M362.25 426.00v3 M323.80 390.15h-3 M367.23 426.00v3 M323.80 385.49h-3 M361.95 426.00v3 M323.80 390.42h-3 M367.52 426.00v3 M323.80 385.21h-3 M361.66 426.00v3 M323.80 390.69h-3 M370.44 426.00v3 M323.80 382.42h-3 M358.72 426.00v3 M323.80 393.38h-3 M373.36 426.00v3 M323.80 379.63h-3 M355.78 426.00v3 M323.80 396.07h-3 M376.28 426.00v3 M323.80 376.84h-3 M352.84 426.00v3 M323.80 398.76h-3 M379.20 426.00v3 M323.80 374.05h-3 M349.90 426.00v3 M323.80 401.45h-3 M382.12 426.00v3 M323.80 371.26h-3 M346.96 426.00v3 M323.80 404.14h-3 M385.04 426.00v3 M323.80 368.47h-3 M344.02 426.00v3 M323.80 406.83h-3 M387.96 426.00v3 M323.80 365.68h-3 M341.08 426.00v3 M323.80 409.52h-3 M390.88 426.00v3 M323.80 362.89h-3 M338.14 426.00v3 M323.80 412.21h-3 M393.80 426.00v5 M323.80 360.10h-5 M335.20 426.00v5 M323.80 414.90h-5 M408.55 426.00v3 M323.80 346.67h-3 M417.18 426.00v3 M323.80 338.82h-3 M423.30 426.00v3 M323.80 333.25h-3 M428.05 426.00v3 M323.80 328.93h-3 M431.93 426.00v3 M323.80 325.39h-3 M435.21 426.00v3 M323.80 322.41h-3 M438.05 426.00v3 M323.80 319.82h-3 M440.56 426.00v3 M323.80 317.54h-3 M442.80 426.00v5 M323.80 315.50h-5 M455.62 426.00v3 M323.80 303.46h-3 M463.13 426.00v3 M323.80 296.42h-3 M468.45 426.00v3 M323.80 291.42h-3 M472.58 426.00v3 M323.80 287.54h-3 M475.95 426.00v3 M323.80 284.37h-3 M478.80 426.00v3 M323.80 281.70h-3 M481.27 426.00v3 M323.80 279.38h-3 M483.45 426.00v3 M323.80 277.33h-3 M485.40 426.00v5 M323.80 275.50h-5 M498.22 426.00v3 M323.80 263.46h-3 M364.60 426.00v5 M323.80 388.00h-5" stroke="#111" stroke-width="1" fill="none"/>
<rect x="323.8" y="260" width="180" height="166" fill="none" stroke="#111" stroke-width="1.3"/>
<text x="335.7" y="449.2" text-anchor="middle" font-size="13">−10<tspan font-size="7.4" dy="-5.6" dx="0.7">3</tspan></text>
<text x="367.6" y="449.2" text-anchor="middle" font-size="13">0</text>
<text x="394.6" y="449.2" text-anchor="middle" font-size="13">10<tspan font-size="7.4" dy="-5.6" dx="0.7">3</tspan></text>
<text x="443.6" y="449.2" text-anchor="middle" font-size="13">10<tspan font-size="7.4" dy="-5.6" dx="0.7">4</tspan></text>
<text x="486.2" y="449.2" text-anchor="middle" font-size="13">10<tspan font-size="7.4" dy="-5.6" dx="0.7">5</tspan></text>
<text x="311.8" y="277.1" text-anchor="end" font-size="13">10<tspan font-size="7.4" dy="-5.6" dx="0.7">5</tspan></text>
<text x="311.8" y="317.1" text-anchor="end" font-size="13">10<tspan font-size="7.4" dy="-5.6" dx="0.7">4</tspan></text>
<text x="311.8" y="361.70000000000005" text-anchor="end" font-size="13">10<tspan font-size="7.4" dy="-5.6" dx="0.7">3</tspan></text>
<text x="311.8" y="389.6" text-anchor="end" font-size="13">0</text>
<text x="311.8" y="416.5" text-anchor="end" font-size="13">−10<tspan font-size="7.4" dy="-5.6" dx="0.7">3</tspan></text>
<rect x="347.1" y="263.5" width="33" height="113" fill="none" stroke="#222" stroke-width="1.2"/>
<rect x="384.8" y="263.5" width="111.5" height="158.5" fill="none" stroke="#222" stroke-width="1.2"/>
<rect x="96.1" y="65.5" width="37" height="12.5" fill="#fff" fill-opacity="0.9"/>
<text transform="translate(95.60,75.50) scale(1.06,1)" font-size="12.4" text-anchor="start">18.4%</text>
<text transform="translate(242.80,212.00) scale(1.06,1)" font-size="12.4" text-anchor="end">3.69%</text>
<rect x="328.8" y="64.2" width="37" height="12.5" fill="#fff" fill-opacity="0.9"/>
<text transform="translate(328.30,74.20) scale(1.06,1)" font-size="12.4" text-anchor="start">8.68%</text>
<text transform="translate(481.80,211.70) scale(1.06,1)" font-size="12.4" text-anchor="end">1.92%</text>
<rect x="95.7" y="268.2" width="37" height="12.5" fill="#fff" fill-opacity="0.9"/>
<text transform="translate(95.20,278.20) scale(1.06,1)" font-size="12.4" text-anchor="start">12.4%</text>
<text transform="translate(240.20,418.40) scale(1.06,1)" font-size="12.4" text-anchor="end">1.96%</text>
<rect x="328.3" y="269.2" width="37" height="12.5" fill="#fff" fill-opacity="0.9"/>
<text transform="translate(327.80,279.20) scale(1.06,1)" font-size="12.4" text-anchor="start">3.06%</text>
<text transform="translate(480.20,417.50) scale(1.06,1)" font-size="12.4" text-anchor="end">1.09%</text>
<path d="M205 942.5h1m10 18h1m-18 1h1m-22 1h1m71 0h1m-55 1h1m-15 2h1m13 1h1m5 0h1m0 0h1m6 0h1m-7 3h1m-29 1h1m10 0h1m5 0h1m-16 1h1m18 0h1m7 0h1m0 0h1m5 0h1m-35 1h1m7 0h1m18 0h1m2 1h1m3 0h1m-50 1h1m4 0h1m19 0h1m5 0h1m3 0h1m1 0h1m0 0h1m3 0h1m0 0h1m11 0h1m23 0h1m-72 1h1m24 0h1m0 0h1m0 0h1m1 0h1m2 0h1m0 0h1m2 0h1m40 0h1m-81 1h1m30 0h1m6 0h1m17 0h1m-65 1h1m4 0h1m1 0h1m5 0h1m3 0h1m1 0h1m7 0h1m0 0h1m0 0h1m4 0h1m2 0h1m7 0h1m19 0h1m-75 1h1m31 0h1m12 0h1m7 0h1m1 0h1m3 0h1m15 0h1m6 0h1m-80 1h1m23 0h1m22 0h1m1 0h1m4 0h1m0 0h1m1 0h1m1 0h1m5 0h1m26 0h1m10 0h1m-76 1h1m3 0h1m5 0h1m7 0h1m1 0h1m1 0h1m1 0h1m1 0h1m0 0h1m7 0h1m2 0h1m2 0h1m-71 1h1m35 0h1m0 0h1m15 0h1m4 0h1m0 0h1m1 0h1m0 0h1m7 0h1m2 0h1m-77 1h1m1 0h1m31 0h1m5 0h1m1 0h1m9 0h1m7 0h1m3 0h1m1 0h1m0 0h1m0 0h1m4 0h1m-74 1h1m36 0h1m1 0h1m0 0h1m0 0h1m0 0h1m9 0h1m1 0h1m7 0h1m9 0h1m21 0h1m5 0h1m-34 1h1m4 0h1m0 0h1m7 0h1m-86 1h1m3 0h1m58 0h1m1 0h1m1 0h1m2 0h1m2 0h1m0 0h1m27 0h1m-102 1h1m1 0h1m0 0h1m57 0h1m2 0h1m0 0h1m2 0h1m1 0h1m0 0h1m2 0h1m-12 1h1m3 0h1m6 0h1m0 0h1m1 0h1m14 0h1m-93 1h1m1 0h1m65 0h1m0 0h1m0 0h1m3 0h1m18 0h1m-92 1h1m72 0h1m1 0h1m-8 1h1m8 0h1m1 0h1m2 0h1m-16 1h1m5 0h1m7 0h1m1 0h1m2 0h1m-19 1h1m6 0h1m13 0h1m-19 1h1m1 0h1m1 0h1m0 0h1m0 0h1m14 0h1m-96 1h1m72 0h1m1 0h1m4 0h1m2 0h1m3 0h1m-91 1h1m76 0h1m3 0h1m4 0h1m1 0h1m1 0h1m7 0h1m2 0h1m-101 1h1m76 0h1m1 0h1m24 0h1m0 0h1m-109 1h1m80 0h1m8 0h1m8 0h1m4 0h1m-18 1h1m1 0h1m12 0h1m5 0h1m-19 1h1m2 0h1m3 0h1m10 0h1m-21 1h1m0 0h1m13 0h1m-106 1h1m87 0h1m0 0h1m3 0h1m2 0h1m1 0h1m3 0h1m1 0h1m3 0h1m-20 1h1m2 0h1m6 0h1m0 0h1m12 0h1m-112 1h1m87 0h1m1 0h1m3 0h1m-97 1h1m0 0h1m87 0h1m3 0h1m2 0h1m0 0h1m-98 1h1m90 0h1m2 0h1m18 0h1m-19 1h1m0 0h1m1 0h1m2 0h1m1 0h1m-13 1h1m2 0h1m0 0h1m2 0h1m14 0h1m-118 1h1m96 0h1m5 0h1m0 0h1m-103 1h1m1 0h1m92 0h1m4 0h1m2 0h1m0 0h1m2 0h1m-106 1h1m98 0h1m2 0h1m2 0h1m4 0h1m1 0h1m-17 1h1m0 0h1m2 0h1m0 0h1m-8 1h1m0 0h1m2 0h1m0 0h1m-4 1h1m3 0h1m10 0h1m-14 1h1m16 0h1m-117 1h1m0 0h1m95 0h1m0 0h1m3 0h1m5 0h1m3 0h1m6 0h1m-120 1h1m97 0h1m2 0h1m1 0h1m2 0h1m4 0h1m-10 1h1m1 0h1m13 0h1m-24 1h1m0 0h1m6 0h1m2 0h1m11 0h1m-125 1h1m3 0h1m101 0h1m1 0h1m-102 1h1m94 0h1m1 0h1m2 0h1m0 0h1m1 0h1m2 0h1m18 0h1m-127 1h1m99 0h1m0 0h1m0 0h1m0 0h1m3 0h1m10 0h1m-17 1h1m3 0h1m0 0h1m9 0h1m-117 1h1m96 0h1m0 0h1m4 0h1m4 0h1m-115 1h1m6 0h1m96 0h1m2 0h1m3 0h1m6 1h1m1 0h1m-118 1h1m1 0h1m1 0h1m98 0h1m1 0h1m4 0h1m-108 1h1m98 0h1m3 0h1m0 0h1m1 0h1m-107 1h1m102 0h1m2 0h1m2 0h1m2 0h1m-12 1h1m1 0h1m2 0h1m-106 1h1m97 0h1m3 1h1m2 0h1m7 0h1m-114 1h1m98 0h1m2 0h1m1 0h1m6 0h1m7 0h1m-121 1h1m0 0h1m100 0h1m2 0h1m6 0h1m2 0h1m0 0h1m-115 1h1m98 0h1m1 0h1m-103 1h1m99 0h1m3 0h1m0 0h1m0 0h1m4 0h1m-114 1h1m4 0h1m95 0h1m10 0h1m4 0h1m-16 1h1m0 0h1m0 0h1m3 0h1m2 0h1m2 0h1m-110 1h1m93 0h1m4 0h1m0 0h1m0 0h1m16 0h1m-21 1h1m0 0h1m4 0h1m3 0h1m-14 1h1m0 0h1m0 1h1m6 0h1m-10 1h1m15 0h1m-115 1h1m0 0h1m1 0h1m98 0h1m1 0h1m-107 1h1m99 0h1m0 0h1m1 0h1m3 0h1m5 0h1m4 0h1m-118 1h1m103 0h1m6 0h1m-108 1h1m94 0h1m11 0h1m-11 1h1m1 0h1m2 0h1m0 0h1m1 0h1m-109 1h1m100 0h1m1 0h1m-103 1h1m99 0h1m2 0h1m2 0h1m-112 1h1m3 0h1m2 0h1m98 0h1m3 0h1m1 0h1m17 0h1m-17 1h1m18 0h1m-130 1h1m101 0h1m6 0h1m-111 1h1m103 0h1m3 0h1m1 0h1m-118 1h1m113 0h1m2 0h1m-112 1h1m104 0h1m0 0h1m10 0h1m-121 1h1m109 0h1m-108 1h1m0 0h1m103 0h1m2 0h1m-110 1h1m105 0h1m7 0h1m4 0h1m-122 1h1m0 0h1m110 1h1m4 0h1m4 0h1m-12 1h1m1 0h1m-117 1h1m1 0h1m109 0h1m1 1h1m1 0h1m0 0h1m2 0h1m-117 1h1m1 0h1m106 0h1m-113 1h1m1 0h1m1 0h1m106 0h1m4 0h1m0 0h1m-115 1h1m111 0h1m1 0h1m1 0h1m1 0h1m-125 1h1m6 0h1m105 0h1m1 0h1m1 0h1m1 0h1m0 0h1m-117 1h1m1 0h1m112 0h1m-117 1h1m2 0h1m106 0h1m8 0h1m3 0h1m-117 1h1m103 0h1m7 0h1m-118 1h1m106 0h1m2 0h1m1 0h1m1 0h1m-109 1h1m-7 1h1m6 1h1m100 0h1m0 0h1m1 0h1m-105 1h1m99 0h1m4 0h1m-108 1h1m0 0h1m1 0h1m101 0h1m-102 1h1m89 0h1m4 0h1m2 0h1m-102 1h1m95 0h1m-91 1h1m87 0h1m3 0h1m3 0h1m6 0h1m-18 1h1m4 0h1m8 0h1m4 0h1m4 0h1m-26 1h1m3 0h1m3 0h1m0 0h1m3 0h1m1 0h1m2 0h1m-102 1h1m0 0h1m80 0h1m2 0h1m3 0h1m-99 1h1m2 0h1m7 0h1m34 0h1m2 0h1m37 0h1m0 0h1m2 0h1m0 0h1m0 0h1m1 0h1m-89 1h1m43 0h1m0 0h1m26 0h1m5 0h1m3 0h1m12 0h1m-91 1h1m33 0h1m2 0h1m5 0h1m4 0h1m2 0h1m12 0h1m2 0h1m0 0h1m5 0h1m17 0h1m6 0h1m-100 1h1m0 0h1m30 0h1m1 0h1m8 0h1m0 0h1m2 0h1m1 0h1m5 0h1m1 0h1m1 0h1m3 0h1m2 0h1m2 0h1m1 0h1m10 0h1m22 0h1m-76 1h1m12 0h1m2 0h1m4 0h1m4 0h1m0 0h1m7 0h1m4 0h1m1 0h1m-68 1h1m35 0h1m0 0h1m7 0h1m1 0h1m13 0h1m3 0h1m4 0h1m-73 1h1m22 0h1m6 0h1m14 0h1m0 0h1m9 0h1m0 0h1m0 0h1m31 0h1m-69 1h1m15 0h1m1 0h1m22 0h1m2 0h1m1 0h1m-64 1h1m0 0h1m0 0h1m5 0h1m0 0h1m0 0h1m1 0h1m9 0h1m14 0h1m22 0h1m-53 1h1m0 0h1m3 0h1m35 0h1m1 0h1m-37 1h1m48 1h1m-58 1h1m55 1h1" stroke="#403a86" stroke-opacity="0.68" stroke-width="1" fill="none"/>
<path d="M199 975.5h1m-30 2h1m0 0h1m-12 1h1m3 0h1m1 0h1m3 0h1m0 0h1m0 0h1m0 0h1m-15 1h1m1 0h1m0 0h1m0 0h1m0 0h1m0 0h1m0 0h1m0 0h1m2 0h1m0 0h1m0 0h1m0 0h1m1 0h1m1 0h1m18 0h1m-38 1h1m0 0h1m0 0h1m1 0h1m0 0h1m0 0h1m1 0h1m0 0h1m0 0h1m0 0h1m0 0h1m24 0h1m1 0h1m0 0h1m-45 1h1m0 0h1m0 0h1m0 0h1m1 0h1m0 0h1m10 0h1m0 0h1m0 0h1m0 0h1m0 0h1m0 0h1m0 0h1m0 0h1m0 0h1m0 0h1m12 0h1m0 0h1m0 0h1m0 0h1m9 0h1m0 0h1m-52 1h1m0 0h1m0 0h1m0 0h1m15 0h1m0 0h1m0 0h1m2 0h1m13 0h1m1 0h1m0 0h1m0 0h1m0 0h1m5 0h1m1 0h1m0 0h1m-58 1h1m0 0h1m2 0h1m0 0h1m0 0h1m19 0h1m0 0h1m0 0h1m0 0h1m0 0h1m12 0h1m0 0h1m0 0h1m1 0h1m1 0h1m3 0h1m1 0h1m0 0h1m-58 1h1m0 0h1m1 0h1m0 0h1m1 0h1m22 0h1m0 0h1m0 0h1m0 0h1m1 0h1m2 0h1m1 0h1m3 0h1m2 0h1m1 0h1m2 0h1m2 0h1m0 0h1m2 0h1m0 0h1m-59 1h1m0 0h1m0 0h1m0 0h1m0 0h1m24 0h1m1 0h1m1 0h1m2 0h1m3 0h1m0 0h1m0 0h1m2 0h1m0 0h1m0 0h1m-49 1h1m0 0h1m1 0h1m0 0h1m26 0h1m1 0h1m0 0h1m0 0h1m0 0h1m0 0h1m2 0h1m2 0h1m0 0h1m0 0h1m0 0h1m0 0h1m0 0h1m0 0h1m0 0h1m0 0h1m1 0h1m0 0h1m0 0h1m-54 1h1m0 0h1m28 0h1m3 0h1m0 0h1m0 0h1m0 0h1m0 0h1m6 0h1m0 0h1m0 0h1m0 0h1m0 0h1m0 0h1m1 0h1m0 0h1m6 0h1m-61 1h1m0 0h1m28 0h1m0 0h1m2 0h1m0 0h1m1 0h1m0 0h1m0 0h1m0 0h1m0 0h1m1 0h1m0 0h1m1 0h1m1 0h1m1 0h1m0 0h1m1 0h1m1 0h1m-58 1h1m0 0h1m0 0h1m30 0h1m0 0h1m1 0h1m2 0h1m2 0h1m0 0h1m0 0h1m0 0h1m0 0h1m0 0h1m0 0h1m0 0h1m1 0h1m1 0h1m2 0h1m0 0h1m1 0h1m0 0h1m0 0h1m2 0h1m5 0h1m-73 1h1m1 0h1m0 0h1m0 0h1m31 0h1m0 0h1m0 0h1m1 0h1m1 0h1m0 0h1m0 0h1m0 0h1m0 0h1m0 0h1m0 0h1m1 0h1m0 0h1m1 0h1m0 0h1m1 0h1m0 0h1m2 0h1m0 0h1m0 0h1m0 0h1m0 0h1m0 0h1m0 0h1m2 0h1m1 0h1m-72 1h1m0 0h1m1 0h1m33 0h1m0 0h1m1 0h1m0 0h1m0 0h1m1 0h1m1 0h1m0 0h1m0 0h1m1 0h1m1 0h1m1 0h1m2 0h1m0 0h1m0 0h1m0 0h1m1 0h1m0 0h1m0 0h1m4 0h1m0 0h1m0 0h1m-73 1h1m1 0h1m0 0h1m34 0h1m0 0h1m1 0h1m2 0h1m0 0h1m0 0h1m0 0h1m0 0h1m0 0h1m1 0h1m2 0h1m0 0h1m0 0h1m0 0h1m0 0h1m0 0h1m0 0h1m1 0h1m0 0h1m1 0h1m-66 1h1m0 0h1m1 0h1m34 0h1m0 0h1m0 0h1m0 0h1m0 0h1m0 0h1m0 0h1m0 0h1m0 0h1m0 0h1m0 0h1m0 0h1m0 0h1m0 0h1m0 0h1m0 0h1m0 0h1m0 0h1m1 0h1m0 0h1m0 0h1m0 0h1m0 0h1m0 0h1m0 0h1m1 0h1m1 0h1m2 0h1m-71 1h1m0 0h1m0 0h1m37 0h1m2 0h1m1 0h1m0 0h1m0 0h1m0 0h1m0 0h1m0 0h1m0 0h1m0 0h1m1 0h1m1 0h1m0 0h1m0 0h1m0 0h1m0 0h1m1 0h1m1 0h1m0 0h1m0 0h1m1 0h1m1 0h1m-72 1h1m1 0h1m0 0h1m36 0h1m0 0h1m1 0h1m0 0h1m2 0h1m1 0h1m0 0h1m0 0h1m0 0h1m0 0h1m0 0h1m0 0h1m0 0h1m0 0h1m0 0h1m1 0h1m0 0h1m0 0h1m0 0h1m0 0h1m1 0h1m1 0h1m0 0h1m0 0h1m8 0h1m-80 1h1m0 0h1m0 0h1m38 0h1m0 0h1m0 0h1m0 0h1m0 0h1m1 0h1m0 0h1m1 0h1m1 0h1m0 0h1m0 0h1m0 0h1m0 0h1m0 0h1m0 0h1m1 0h1m1 0h1m0 0h1m1 0h1m0 0h1m3 0h1m0 0h1m7 0h1m-82 1h1m1 0h1m0 0h1m39 0h1m0 0h1m0 0h1m0 0h1m0 0h1m0 0h1m0 0h1m0 0h1m0 0h1m0 0h1m1 0h1m0 0h1m0 0h1m0 0h1m0 0h1m1 0h1m0 0h1m0 0h1m0 0h1m0 0h1m1 0h1m0 0h1m0 0h1m0 0h1m0 0h1m0 0h1m1 0h1m1 0h1m-76 1h1m1 0h1m40 0h1m0 0h1m0 0h1m0 0h1m0 0h1m0 0h1m0 0h1m0 0h1m0 0h1m0 0h1m1 0h1m0 0h1m0 0h1m0 0h1m0 0h1m1 0h1m0 0h1m0 0h1m0 0h1m1 0h1m0 0h1m0 0h1m0 0h1m0 0h1m0 0h1m0 0h1m1 0h1m2 0h1m0 0h1m2 0h1m0 0h1m-83 1h1m0 0h1m0 0h1m41 0h1m0 0h1m0 0h1m0 0h1m0 0h1m0 0h1m0 0h1m0 0h1m1 0h1m0 0h1m0 0h1m0 0h1m1 0h1m0 0h1m0 0h1m0 0h1m0 0h1m0 0h1m0 0h1m0 0h1m1 0h1m0 0h1m0 0h1m0 0h1m1 0h1m2 0h1m0 0h1m0 0h1m1 0h1m2 0h1m-83 1h1m0 0h1m0 0h1m43 0h1m0 0h1m0 0h1m0 0h1m0 0h1m0 0h1m0 0h1m0 0h1m0 0h1m0 0h1m0 0h1m0 0h1m0 0h1m1 0h1m0 0h1m0 0h1m0 0h1m0 0h1m0 0h1m0 0h1m0 0h1m0 0h1m0 0h1m0 0h1m1 0h1m0 0h1m1 0h1m0 0h1m0 0h1m1 0h1m0 0h1m1 0h1m-83 1h1m0 0h1m43 0h1m0 0h1m0 0h1m0 0h1m0 0h1m0 0h1m0 0h1m0 0h1m0 0h1m0 0h1m0 0h1m0 0h1m0 0h1m0 0h1m0 0h1m0 0h1m0 0h1m0 0h1m1 0h1m0 0h1m0 0h1m0 0h1m0 0h1m0 0h1m0 0h1m0 0h1m1 0h1m3 0h1m0 0h1m0 0h1m0 0h1m1 0h1m-84 1h1m0 0h1m0 0h1m43 0h1m0 0h1m0 0h1m0 0h1m0 0h1m0 0h1m1 0h1m1 0h1m0 0h1m0 0h1m0 0h1m0 0h1m0 0h1m0 0h1m0 0h1m0 0h1m0 0h1m0 0h1m0 0h1m0 0h1m0 0h1m0 0h1m0 0h1m0 0h1m0 0h1m0 0h1m1 0h1m1 0h1m0 0h1m0 0h1m0 0h1m0 0h1m0 0h1m-36 1h1m0 0h1m0 0h1m0 0h1m0 0h1m0 0h1m1 0h1m0 0h1m0 0h1m0 0h1m0 0h1m0 0h1m0 0h1m0 0h1m0 0h1m0 0h1m0 0h1m0 0h1m1 0h1m0 0h1m0 0h1m0 0h1m0 0h1m0 0h1m0 0h1m0 0h1m0 0h1m0 0h1m0 0h1m0 0h1m-79 1h1m0 0h1m45 0h1m0 0h1m0 0h1m0 0h1m0 0h1m0 0h1m0 0h1m0 0h1m9 0h1m0 0h1m0 0h1m0 0h1m0 0h1m0 0h1m0 0h1m0 0h1m0 0h1m0 0h1m0 0h1m0 0h1m2 0h1m1 0h1m1 0h1m-85 1h1m1 0h1m0 0h1m45 0h1m1 0h1m0 0h1m0 0h1m0 0h1m0 0h1m0 0h1m9 0h1m1 0h1m0 0h1m0 0h1m0 0h1m0 0h1m0 0h1m0 0h1m0 0h1m0 0h1m0 0h1m0 0h1m0 0h1m0 0h1m0 0h1m2 0h1m0 0h1m1 0h1m0 0h1m-90 1h1m0 0h1m1 0h1m47 0h1m0 0h1m1 0h1m0 0h1m0 0h1m0 0h1m8 0h1m0 0h1m0 0h1m0 0h1m5 0h1m0 0h1m0 0h1m1 0h1m0 0h1m0 0h1m0 0h1m1 0h1m0 0h1m0 0h1m0 0h1m-88 1h1m1 0h1m0 0h1m0 0h1m46 0h1m0 0h1m0 0h1m0 0h1m0 0h1m0 0h1m0 0h1m0 0h1m7 0h1m0 0h1m0 0h1m0 0h1m5 0h1m0 0h1m0 0h1m0 0h1m0 0h1m0 0h1m0 0h1m0 0h1m0 0h1m0 0h1m0 0h1m0 0h1m0 0h1m0 0h1m0 0h1m-90 1h1m0 0h1m0 0h1m48 0h1m0 0h1m0 0h1m1 0h1m0 0h1m0 0h1m0 0h1m0 0h1m5 0h1m0 0h1m0 0h1m0 0h1m0 0h1m5 0h1m0 0h1m0 0h1m0 0h1m1 0h1m0 0h1m0 0h1m1 0h1m0 0h1m0 0h1m0 0h1m0 0h1m0 0h1m-89 1h1m1 0h1m47 0h1m0 0h1m0 0h1m0 0h1m0 0h1m0 0h1m0 0h1m0 0h1m1 0h1m4 0h1m0 0h1m0 0h1m1 0h1m5 0h1m0 0h1m0 0h1m1 0h1m0 0h1m0 0h1m4 0h1m0 0h1m0 0h1m1 0h1m-90 1h1m1 0h1m47 0h1m0 0h1m0 0h1m0 0h1m0 0h1m0 0h1m0 0h1m0 0h1m0 0h1m0 0h1m0 0h1m2 0h1m0 0h1m0 0h1m0 0h1m0 0h1m6 0h1m0 0h1m0 0h1m0 0h1m1 0h1m0 0h1m0 0h1m0 0h1m0 0h1m0 0h1m1 0h1m1 0h1m0 0h1m-91 1h1m2 0h1m47 0h1m0 0h1m1 0h1m1 0h1m0 0h1m0 0h1m0 0h1m0 0h1m5 0h1m8 0h1m0 0h1m1 0h1m0 0h1m0 0h1m0 0h1m0 0h1m0 0h1m1 0h1m0 0h1m0 0h1m0 0h1m1 0h1m-89 1h1m48 0h1m0 0h1m0 0h1m0 0h1m0 0h1m0 0h1m0 0h1m0 0h1m0 0h1m15 0h1m0 0h1m0 0h1m0 0h1m0 0h1m0 0h1m0 0h1m0 0h1m0 0h1m0 0h1m0 0h1m0 0h1m0 0h1m0 0h1m0 0h1m0 0h1m-91 1h1m0 0h1m0 0h1m0 0h1m48 0h1m0 0h1m0 0h1m0 0h1m0 0h1m0 0h1m0 0h1m16 0h1m0 0h1m0 0h1m2 0h1m0 0h1m0 0h1m0 0h1m0 0h1m0 0h1m0 0h1m1 0h1m0 0h1m0 0h1m1 0h1m0 0h1m-94 1h1m0 0h1m1 0h1m50 0h1m0 0h1m0 0h1m0 0h1m17 0h1m0 0h1m0 0h1m0 0h1m0 0h1m0 0h1m0 0h1m0 0h1m2 0h1m0 0h1m0 0h1m0 0h1m0 0h1m0 0h1m1 0h1m0 0h1m-93 1h1m0 0h1m51 0h1m0 0h1m0 0h1m0 0h1m17 0h1m0 0h1m0 0h1m0 0h1m0 0h1m0 0h1m2 0h1m0 0h1m0 0h1m0 0h1m1 0h1m0 0h1m0 0h1m0 0h1m0 0h1m-92 1h1m1 0h1m49 0h1m1 0h1m0 0h1m0 0h1m17 0h1m0 0h1m0 0h1m0 0h1m0 0h1m0 0h1m0 0h1m0 0h1m0 0h1m0 0h1m0 0h1m0 0h1m0 0h1m1 0h1m1 0h1m0 0h1m0 0h1m-95 1h1m0 0h1m0 0h1m0 0h1m0 0h1m47 0h1m0 0h1m0 0h1m0 0h1m0 0h1m1 0h1m0 0h1m17 0h1m0 0h1m0 0h1m0 0h1m0 0h1m0 0h1m0 0h1m0 0h1m1 0h1m0 0h1m0 0h1m0 0h1m0 0h1m1 0h1m-93 1h1m0 0h1m0 0h1m0 0h1m0 0h1m47 0h1m0 0h1m0 0h1m1 0h1m0 0h1m0 0h1m1 0h1m0 0h1m16 0h1m0 0h1m0 0h1m0 0h1m0 0h1m0 0h1m0 0h1m0 0h1m0 0h1m0 0h1m0 0h1m0 0h1m2 0h1m-92 1h1m0 0h1m0 0h1m0 0h1m46 0h1m0 0h1m1 0h1m0 0h1m0 0h1m0 0h1m0 0h1m0 0h1m0 0h1m0 0h1m17 0h1m0 0h1m0 0h1m1 0h1m0 0h1m0 0h1m1 0h1m0 0h1m0 0h1m0 0h1m-88 1h1m0 0h1m46 0h1m0 0h1m0 0h1m0 0h1m0 0h1m0 0h1m0 0h1m0 0h1m0 0h1m0 0h1m18 0h1m0 0h1m0 0h1m0 0h1m0 0h1m0 0h1m0 0h1m0 0h1m0 0h1m0 0h1m0 0h1m0 0h1m0 0h1m0 0h1m-91 1h1m0 0h1m0 0h1m46 0h1m0 0h1m0 0h1m0 0h1m0 0h1m1 0h1m0 0h1m0 0h1m0 0h1m19 0h1m0 0h1m0 0h1m0 0h1m0 0h1m0 0h1m0 0h1m0 0h1m0 0h1m0 0h1m0 0h1m1 0h1m0 0h1m0 0h1m-94 1h1m2 0h1m46 0h1m0 0h1m0 0h1m0 0h1m0 0h1m0 0h1m0 0h1m0 0h1m0 0h1m0 0h1m19 0h1m1 0h1m0 0h1m0 0h1m0 0h1m0 0h1m0 0h1m1 0h1m0 0h1m0 0h1m0 0h1m0 0h1m1 0h1m-94 1h1m0 0h1m0 0h1m47 0h1m0 0h1m0 0h1m0 0h1m1 0h1m0 0h1m0 0h1m0 0h1m19 0h1m0 0h1m0 0h1m0 0h1m0 0h1m0 0h1m0 0h1m0 0h1m1 0h1m0 0h1m0 0h1m0 0h1m0 0h1m0 0h1m-91 1h1m46 0h1m0 0h1m0 0h1m1 0h1m0 0h1m0 0h1m0 0h1m0 0h1m21 0h1m0 0h1m0 0h1m0 0h1m1 0h1m0 0h1m0 0h1m0 0h1m0 0h1m0 0h1m0 0h1m0 0h1m0 0h1m1 0h1m-94 1h1m0 0h1m0 0h1m45 0h1m0 0h1m0 0h1m0 0h1m0 0h1m0 0h1m0 0h1m0 0h1m0 0h1m21 0h1m0 0h1m0 0h1m0 0h1m0 0h1m0 0h1m0 0h1m0 0h1m0 0h1m0 0h1m1 0h1m0 0h1m1 0h1m1 0h1m-95 1h1m0 0h1m0 0h1m45 0h1m0 0h1m1 0h1m0 0h1m1 0h1m0 0h1m0 0h1m0 0h1m0 0h1m0 0h1m0 0h1m16 0h1m0 0h1m2 0h1m1 0h1m0 0h1m0 0h1m1 0h1m0 0h1m2 0h1m1 0h1m0 0h1m-95 1h1m0 0h1m0 0h1m45 0h1m0 0h1m1 0h1m0 0h1m0 0h1m0 0h1m0 0h1m0 0h1m0 0h1m0 0h1m0 0h1m0 0h1m0 0h1m12 0h1m0 0h1m0 0h1m0 0h1m0 0h1m1 0h1m0 0h1m0 0h1m0 0h1m0 0h1m0 0h1m0 0h1m0 0h1m0 0h1m0 0h1m1 0h1m1 0h1m0 0h1m-47 1h1m0 0h1m0 0h1m0 0h1m0 0h1m0 0h1m0 0h1m0 0h1m0 0h1m0 0h1m0 0h1m0 0h1m0 0h1m0 0h1m12 0h1m0 0h1m0 0h1m0 0h1m0 0h1m0 0h1m0 0h1m0 0h1m0 0h1m0 0h1m0 0h1m0 0h1m2 0h1m1 0h1m2 0h1m0 0h1m-96 1h1m0 0h1m0 0h1m0 0h1m45 0h1m0 0h1m0 0h1m0 0h1m0 0h1m1 0h1m0 0h1m1 0h1m0 0h1m1 0h1m0 0h1m3 0h1m0 0h1m0 0h1m4 0h1m0 0h1m0 0h1m0 0h1m0 0h1m1 0h1m0 0h1m0 0h1m0 0h1m0 0h1m0 0h1m1 0h1m0 0h1m0 0h1m0 0h1m0 0h1m0 0h1m2 0h1m0 0h1m0 0h1m0 0h1m-96 1h1m0 0h1m45 0h1m1 0h1m0 0h1m0 0h1m0 0h1m0 0h1m0 0h1m0 0h1m0 0h1m0 0h1m0 0h1m0 0h1m0 0h1m0 0h1m0 0h1m0 0h1m0 0h1m0 0h1m0 0h1m1 0h1m1 0h1m0 0h1m0 0h1m0 0h1m0 0h1m0 0h1m0 0h1m0 0h1m0 0h1m0 0h1m0 0h1m0 0h1m0 0h1m1 0h1m3 0h1m0 0h1m1 0h1m0 0h1m1 0h1m-94 1h1m0 0h1m45 0h1m1 0h1m0 0h1m0 0h1m0 0h1m0 0h1m0 0h1m0 0h1m0 0h1m0 0h1m0 0h1m0 0h1m0 0h1m0 0h1m0 0h1m0 0h1m0 0h1m0 0h1m0 0h1m0 0h1m0 0h1m0 0h1m0 0h1m0 0h1m0 0h1m0 0h1m0 0h1m0 0h1m0 0h1m0 0h1m0 0h1m0 0h1m0 0h1m0 0h1m0 0h1m0 0h1m0 0h1m0 0h1m4 0h1m0 0h1m-92 1h1m0 0h1m44 0h1m0 0h1m0 0h1m0 0h1m0 0h1m0 0h1m0 0h1m0 0h1m2 0h1m0 0h1m0 0h1m1 0h1m0 0h1m0 0h1m0 0h1m0 0h1m0 0h1m0 0h1m0 0h1m0 0h1m0 0h1m0 0h1m0 0h1m0 0h1m0 0h1m0 0h1m0 0h1m0 0h1m0 0h1m0 0h1m0 0h1m2 0h1m0 0h1m0 0h1m0 0h1m1 0h1m3 0h1m1 0h1m0 0h1m-96 1h1m0 0h1m0 0h1m44 0h1m1 0h1m0 0h1m0 0h1m0 0h1m0 0h1m0 0h1m0 0h1m0 0h1m0 0h1m0 0h1m0 0h1m0 0h1m0 0h1m1 0h1m1 0h1m0 0h1m0 0h1m0 0h1m0 0h1m0 0h1m1 0h1m0 0h1m0 0h1m1 0h1m0 0h1m0 0h1m0 0h1m0 0h1m0 0h1m0 0h1m0 0h1m0 0h1m0 0h1m2 0h1m1 0h1m0 0h1m2 0h1m1 0h1m-97 1h1m46 0h1m0 0h1m0 0h1m1 0h1m3 0h1m0 0h1m1 0h1m0 0h1m0 0h1m0 0h1m1 0h1m0 0h1m0 0h1m0 0h1m0 0h1m0 0h1m0 0h1m0 0h1m0 0h1m0 0h1m0 0h1m0 0h1m0 0h1m0 0h1m0 0h1m0 0h1m0 0h1m0 0h1m0 0h1m0 0h1m0 0h1m1 0h1m0 0h1m0 0h1m0 0h1m3 0h1m0 0h1m1 0h1m0 0h1m-95 1h1m44 0h1m0 0h1m1 0h1m0 0h1m0 0h1m1 0h1m0 0h1m0 0h1m0 0h1m0 0h1m0 0h1m0 0h1m0 0h1m0 0h1m1 0h1m0 0h1m0 0h1m0 0h1m0 0h1m0 0h1m0 0h1m0 0h1m0 0h1m0 0h1m0 0h1m0 0h1m0 0h1m0 0h1m1 0h1m0 0h1m0 0h1m0 0h1m0 0h1m0 0h1m1 0h1m0 0h1m0 0h1m0 0h1m0 0h1m0 0h1m2 0h1m0 0h1m0 0h1m-49 1h1m3 0h1m1 0h1m0 0h1m0 0h1m0 0h1m0 0h1m2 0h1m0 0h1m0 0h1m0 0h1m0 0h1m0 0h1m0 0h1m0 0h1m0 0h1m0 0h1m0 0h1m0 0h1m0 0h1m0 0h1m0 0h1m0 0h1m0 0h1m1 0h1m0 0h1m0 0h1m0 0h1m0 0h1m0 0h1m0 0h1m0 0h1m1 0h1m1 0h1m0 0h1m0 0h1m-90 1h1m43 0h1m0 0h1m0 0h1m1 0h1m0 0h1m1 0h1m0 0h1m0 0h1m0 0h1m0 0h1m0 0h1m0 0h1m0 0h1m0 0h1m0 0h1m0 0h1m0 0h1m0 0h1m0 0h1m0 0h1m0 0h1m2 0h1m0 0h1m0 0h1m0 0h1m0 0h1m0 0h1m0 0h1m0 0h1m0 0h1m1 0h1m0 0h1m2 0h1m1 0h1m0 0h1m0 0h1m0 0h1m0 0h1m0 0h1m-93 1h1m1 0h1m43 0h1m1 0h1m1 0h1m0 0h1m0 0h1m1 0h1m0 0h1m0 0h1m0 0h1m0 0h1m0 0h1m0 0h1m0 0h1m0 0h1m1 0h1m0 0h1m0 0h1m0 0h1m0 0h1m0 0h1m1 0h1m0 0h1m0 0h1m0 0h1m0 0h1m0 0h1m0 0h1m0 0h1m1 0h1m0 0h1m0 0h1m0 0h1m2 0h1m0 0h1m2 0h1m0 0h1m0 0h1m-93 1h1m0 0h1m0 0h1m43 0h1m0 0h1m1 0h1m0 0h1m0 0h1m1 0h1m1 0h1m0 0h1m0 0h1m0 0h1m1 0h1m0 0h1m0 0h1m0 0h1m0 0h1m0 0h1m0 0h1m0 0h1m0 0h1m0 0h1m0 0h1m0 0h1m0 0h1m1 0h1m0 0h1m1 0h1m0 0h1m0 0h1m2 0h1m0 0h1m0 0h1m0 0h1m0 0h1m1 0h1m0 0h1m1 0h1m0 0h1m-93 1h1m1 0h1m45 0h1m0 0h1m0 0h1m1 0h1m1 0h1m0 0h1m0 0h1m1 0h1m0 0h1m0 0h1m0 0h1m0 0h1m0 0h1m0 0h1m0 0h1m0 0h1m0 0h1m0 0h1m0 0h1m1 0h1m0 0h1m0 0h1m0 0h1m0 0h1m0 0h1m0 0h1m0 0h1m0 0h1m1 0h1m0 0h1m0 0h1m0 0h1m1 0h1m0 0h1m0 0h1m1 0h1m-91 1h1m0 0h1m0 0h1m43 0h1m1 0h1m3 0h1m0 0h1m1 0h1m1 0h1m1 0h1m1 0h1m0 0h1m0 0h1m0 0h1m0 0h1m1 0h1m0 0h1m0 0h1m1 0h1m0 0h1m0 0h1m0 0h1m0 0h1m0 0h1m0 0h1m0 0h1m1 0h1m0 0h1m1 0h1m1 0h1m0 0h1m1 0h1m0 0h1m-88 1h1m43 0h1m0 0h1m0 0h1m0 0h1m0 0h1m0 0h1m1 0h1m0 0h1m0 0h1m0 0h1m3 0h1m0 0h1m0 0h1m0 0h1m0 0h1m0 0h1m0 0h1m2 0h1m0 0h1m0 0h1m0 0h1m0 0h1m0 0h1m0 0h1m0 0h1m0 0h1m0 0h1m0 0h1m0 0h1m0 0h1m1 0h1m0 0h1m0 0h1m0 0h1m0 0h1m0 0h1m0 0h1m1 0h1m0 0h1m-91 1h1m44 0h1m0 0h1m0 0h1m0 0h1m0 0h1m0 0h1m0 0h1m0 0h1m1 0h1m0 0h1m0 0h1m0 0h1m0 0h1m0 0h1m3 0h1m6 0h1m1 0h1m0 0h1m0 0h1m0 0h1m0 0h1m0 0h1m0 0h1m0 0h1m0 0h1m1 0h1m4 0h1m0 0h1m1 0h1m-91 1h1m0 0h1m42 0h1m1 0h1m0 0h1m0 0h1m0 0h1m0 0h1m2 0h1m0 0h1m0 0h1m0 0h1m0 0h1m0 0h1m11 0h1m1 0h1m0 0h1m0 0h1m0 0h1m0 0h1m0 0h1m0 0h1m0 0h1m1 0h1m0 0h1m1 0h1m1 0h1m0 0h1m0 0h1m-91 1h1m0 0h1m0 0h1m0 0h1m43 0h1m0 0h1m0 0h1m0 0h1m0 0h1m0 0h1m0 0h1m0 0h1m0 0h1m17 0h1m0 0h1m0 0h1m0 0h1m1 0h1m0 0h1m0 0h1m0 0h1m0 0h1m0 0h1m0 0h1m0 0h1m0 0h1m1 0h1m0 0h1m0 0h1m0 0h1m-91 1h1m0 0h1m0 0h1m44 0h1m0 0h1m0 0h1m22 0h1m1 0h1m0 0h1m0 0h1m0 0h1m0 0h1m0 0h1m0 0h1m2 0h1m0 0h1m1 0h1m2 0h1m-89 1h1m0 0h1m71 0h1m0 0h1m0 0h1m0 0h1m0 0h1m0 0h1m0 0h1m0 0h1m1 0h1m0 0h1m0 0h1m0 0h1m0 0h1m0 0h1m0 0h1m3 0h1m0 0h1m-96 1h1m0 0h1m0 0h1m0 0h1m75 0h1m0 0h1m0 0h1m0 0h1m0 0h1m0 0h1m0 0h1m1 0h1m0 0h1m0 0h1m1 0h1m0 0h1m1 0h1m0 0h1m-95 1h1m1 0h1m77 0h1m0 0h1m0 0h1m1 0h1m0 0h1m0 0h1m0 0h1m0 0h1m0 0h1m0 0h1m2 0h1m-95 1h1m1 0h1m0 0h1m77 0h1m0 0h1m0 0h1m0 0h1m0 0h1m0 0h1m1 0h1m0 0h1m0 0h1m0 0h1m1 0h1m0 0h1m-94 1h1m0 0h1m79 0h1m0 0h1m0 0h1m0 0h1m0 0h1m1 0h1m0 0h1m0 0h1m0 0h1m2 0h1m0 0h1m0 0h1m-96 1h1m0 0h1m81 0h1m0 0h1m0 0h1m0 0h1m0 0h1m0 0h1m0 0h1m1 0h1m0 0h1m0 0h1m1 0h1m0 0h1m-101 1h1m0 0h1m1 0h1m0 0h1m0 0h1m82 0h1m0 0h1m0 0h1m1 0h1m0 0h1m0 0h1m1 0h1m3 0h1m0 0h1m-103 1h1m0 0h1m0 0h1m0 0h1m1 0h1m0 0h1m85 0h1m0 0h1m0 0h1m0 0h1m0 0h1m0 0h1m1 0h1m0 0h1m0 0h1m-100 1h1m0 0h1m0 0h1m0 0h1m86 0h1m1 0h1m0 0h1m1 0h1m0 0h1m1 0h1m-100 1h1m0 0h1m0 0h1m1 0h1m87 0h1m1 0h1m0 0h1m0 0h1m0 0h1m0 0h1m0 0h1m0 0h1m-102 1h1m0 0h1m1 0h1m0 0h1m89 0h1m0 0h1m0 0h1m4 0h1m0 0h1m-104 1h1m3 0h1m0 0h1m89 0h1m0 0h1m0 0h1m0 0h1m1 0h1m-102 1h1m0 0h1m1 0h1m1 0h1m0 0h1m90 0h1m0 0h1m0 0h1m0 0h1m2 0h1m-102 1h1m0 0h1m0 0h1m1 0h1m90 0h1m3 0h1m2 0h1m0 0h1m-106 1h1m0 0h1m0 0h1m2 0h1m0 0h1m90 0h1m0 0h1m0 0h1m0 0h1m0 0h1m1 0h1m0 0h1m0 0h1m-106 1h1m1 0h1m1 0h1m0 0h1m0 0h1m91 0h1m0 0h1m0 0h1m0 0h1m1 0h1m0 0h1m0 0h1m-105 1h1m0 0h1m1 0h1m0 0h1m0 0h1m90 0h1m0 0h1m0 0h1m0 0h1m0 0h1m-99 1h1m0 0h1m91 0h1m0 0h1m0 0h1m0 0h1m0 0h1m0 0h1m1 0h1m0 0h1m0 0h1m-104 1h1m0 0h1m1 0h1m0 0h1m88 0h1m0 0h1m0 0h1m1 0h1m0 0h1m0 0h1m0 0h1m1 0h1m0 0h1m-104 1h1m1 0h1m0 0h1m0 0h1m0 0h1m87 0h1m0 0h1m0 0h1m0 0h1m0 0h1m1 0h1m0 0h1m0 0h1m-102 1h1m1 0h1m0 0h1m0 0h1m0 0h1m86 0h1m1 0h1m0 0h1m0 0h1m0 0h1m1 0h1m0 0h1m0 0h1m-100 1h1m0 0h1m0 0h1m0 0h1m0 0h1m86 0h1m0 0h1m0 0h1m0 0h1m1 0h1m0 0h1m0 0h1m0 0h1m-101 1h1m1 0h1m0 0h1m0 0h1m0 0h1m85 0h1m0 0h1m0 0h1m0 0h1m0 0h1m0 0h1m1 0h1m-97 1h1m0 0h1m0 0h1m0 0h1m0 0h1m84 0h1m0 0h1m0 0h1m0 0h1m0 0h1m0 0h1m0 0h1m0 0h1m-96 1h1m0 0h1m0 0h1m0 0h1m0 0h1m82 0h1m0 0h1m0 0h1m0 0h1m0 0h1m0 0h1m0 0h1m0 0h1m-96 1h1m2 0h1m0 0h1m0 0h1m81 0h1m0 0h1m0 0h1m0 0h1m0 0h1m1 0h1m1 0h1m-94 1h1m0 0h1m0 0h1m0 0h1m0 0h1m79 0h1m0 0h1m0 0h1m0 0h1m0 0h1m2 0h1m1 0h1m-95 1h1m0 0h1m0 0h1m0 0h1m0 0h1m0 0h1m78 0h1m0 0h1m1 0h1m0 0h1m0 0h1m0 0h1m0 0h1m1 0h1m1 0h1m-96 1h1m1 0h1m1 0h1m76 0h1m0 0h1m0 0h1m0 0h1m1 0h1m2 0h1m0 0h1m0 0h1m2 0h1m0 0h1m-95 1h1m1 0h1m0 0h1m2 0h1m71 0h1m0 0h1m0 0h1m0 0h1m0 0h1m0 0h1m0 0h1m0 0h1m1 0h1m3 0h1m0 0h1m0 0h1m-93 1h1m0 0h1m0 0h1m0 0h1m0 0h1m0 0h1m36 0h1m0 0h1m0 0h1m0 0h1m0 0h1m0 0h1m0 0h1m0 0h1m0 0h1m22 0h1m1 0h1m0 0h1m0 0h1m0 0h1m0 0h1m0 0h1m0 0h1m0 0h1m0 0h1m0 0h1m0 0h1m0 0h1m0 0h1m3 0h1m-90 1h1m0 0h1m1 0h1m0 0h1m33 0h1m0 0h1m0 0h1m0 0h1m0 0h1m1 0h1m0 0h1m0 0h1m0 0h1m0 0h1m0 0h1m0 0h1m17 0h1m0 0h1m0 0h1m0 0h1m0 0h1m0 0h1m0 0h1m0 0h1m0 0h1m0 0h1m0 0h1m0 0h1m1 0h1m0 0h1m1 0h1m-81 1h1m32 0h1m1 0h1m0 0h1m0 0h1m0 0h1m0 0h1m0 0h1m0 0h1m1 0h1m1 0h1m0 0h1m0 0h1m5 0h1m0 0h1m0 0h1m0 0h1m0 0h1m1 0h1m0 0h1m0 0h1m0 0h1m0 0h1m0 0h1m0 0h1m0 0h1m0 0h1m0 0h1m0 0h1m0 0h1m0 0h1m0 0h1m1 0h1m0 0h1m0 0h1m1 0h1m0 0h1m-80 1h1m0 0h1m29 0h1m0 0h1m0 0h1m0 0h1m0 0h1m0 0h1m0 0h1m1 0h1m0 0h1m0 0h1m0 0h1m0 0h1m1 0h1m0 0h1m1 0h1m0 0h1m0 0h1m0 0h1m0 0h1m0 0h1m0 0h1m0 0h1m0 0h1m0 0h1m0 0h1m0 0h1m0 0h1m0 0h1m1 0h1m0 0h1m0 0h1m0 0h1m0 0h1m0 0h1m0 0h1m1 0h1m0 0h1m0 0h1m0 0h1m0 0h1m0 0h1m1 0h1m0 0h1m-81 1h1m0 0h1m0 0h1m0 0h1m0 0h1m26 0h1m0 0h1m0 0h1m0 0h1m0 0h1m3 0h1m1 0h1m1 0h1m0 0h1m0 0h1m0 0h1m0 0h1m0 0h1m0 0h1m0 0h1m1 0h1m0 0h1m0 0h1m0 0h1m0 0h1m0 0h1m0 0h1m0 0h1m0 0h1m0 0h1m0 0h1m0 0h1m0 0h1m0 0h1m1 0h1m0 0h1m0 0h1m1 0h1m0 0h1m1 0h1m0 0h1m0 0h1m-77 1h1m2 0h1m0 0h1m0 0h1m24 0h1m0 0h1m5 0h1m2 0h1m0 0h1m0 0h1m0 0h1m0 0h1m0 0h1m0 0h1m0 0h1m3 0h1m0 0h1m0 0h1m0 0h1m0 0h1m0 0h1m0 0h1m0 0h1m0 0h1m0 0h1m0 0h1m0 0h1m0 0h1m2 0h1m0 0h1m0 0h1m1 0h1m0 0h1m0 0h1m0 0h1m2 0h1m-76 1h1m2 0h1m0 0h1m0 0h1m22 0h1m1 0h1m0 0h1m8 0h1m1 0h1m0 0h1m0 0h1m0 0h1m0 0h1m1 0h1m3 0h1m1 0h1m2 0h1m0 0h1m1 0h1m1 0h1m2 0h1m0 0h1m0 0h1m4 0h1m1 0h1m-74 1h1m1 0h1m0 0h1m1 0h1m20 0h1m0 0h1m0 0h1m0 0h1m1 0h1m12 0h1m2 0h1m2 0h1m1 0h1m0 0h1m1 0h1m2 0h1m0 0h1m2 0h1m7 0h1m-69 1h1m0 0h1m0 0h1m0 0h1m0 0h1m0 0h1m17 0h1m0 0h1m0 0h1m0 0h1m1 0h1m0 0h1m20 0h1m0 0h1m1 0h1m1 0h1m1 0h1m0 0h1m-59 1h1m2 0h1m0 0h1m0 0h1m0 0h1m0 0h1m0 0h1m10 0h1m0 0h1m0 0h1m1 0h1m0 0h1m1 0h1m0 0h1m-26 1h1m1 0h1m0 0h1m0 0h1m2 0h1m0 0h1m0 0h1m0 0h1m0 0h1m0 0h1m0 0h1m0 0h1m0 0h1m0 0h1m1 0h1m2 0h1m1 0h1m-21 1h1m2 0h1m1 0h1m0 0h1m1 0h1m0 0h1m1 0h1m0 0h1m0 0h1m0 0h1m0 0h1m2 0h1m-19 1h1m3 0h1m2 0h1m0 0h1m0 0h1m0 0h1m1 0h1m-9 1h1m0 0h1m0 0h1m3 0h1" stroke="#3a1c96" stroke-opacity="0.85" stroke-width="1" fill="none"/>
<path d="M161.8 980.5 159.2 983.5 157.8 983.5 157.2 985.5 156.5 985.2 154.2 987.2 153.5 988.5 154.8 989.5 152.8 990.2 152.5 992.5 151.2 993.5 151.2 995.8 149.8 996.2 146.5 1000.2 145.8 1003.8 144.2 1006.2 144.8 1009.8 144.2 1010.2 143.2 1008.5 143.5 1013.2 142.8 1014.2 144.2 1015.5 143.2 1018.8 144.5 1021.5 143.8 1022.2 143.8 1024.2 144.8 1025.2 143.5 1028.2 144.8 1031.8 145.8 1032.5 145.5 1034.2 146.8 1035.5 146.2 1036.5 147.2 1039.2 146.2 1039.8 147.2 1040.2 146.8 1042.2 147.5 1042.8 146.5 1043.8 147.8 1045.5 147.8 1048.2 146.8 1048.8 147.2 1049.8 146.5 1050.8 147.2 1051.5 146.8 1053.5 144.8 1056.2 145.5 1057.2 144.2 1058.8 144.8 1060.2 143.8 1060.8 144.2 1062.5 143.2 1062.8 143.2 1063.5 144.2 1063.2 144.2 1064.2 143.2 1064.5 144.2 1064.5 145.5 1066.8 144.8 1067.8 143.8 1067.8 144.2 1068.8 145.5 1068.2 146.2 1068.8 145.5 1069.8 146.5 1071.5 148.8 1071.5 147.8 1072.5 147.8 1074.2 149.5 1074.2 149.8 1075.2 151.2 1075.8 149.5 1076.8 153.2 1077.8 152.5 1078.5 152.8 1079.5 153.8 1079.5 153.8 1080.8 155.5 1082.2 154.8 1083.5 155.8 1083.2 158.5 1085.2 158.5 1086.2 160.5 1085.8 161.8 1087.5 164.8 1087.5 166.5 1089.2 169.2 1088.2 172.2 1088.5 172.2 1087.2 173.8 1087.5 174.5 1086.8 177.2 1087.5 176.8 1086.5 177.8 1085.8 178.8 1087.2 179.8 1086.8 179.5 1085.5 181.8 1083.2 183.2 1083.2 183.8 1082.5 183.5 1081.8 185.8 1080.8 188.2 1078.2 188.5 1078.8 190.2 1078.5 191.2 1079.5 193.8 1077.8 196.2 1080.2 196.2 1079.2 197.2 1079.5 197.2 1080.5 197.8 1079.5 198.8 1081.5 201.2 1080.2 201.5 1081.8 203.5 1082.5 203.8 1081.2 205.8 1082.8 206.5 1082.2 208.5 1082.2 210.8 1079.8 211.8 1080.2 211.2 1081.2 211.8 1082.2 213.8 1081.8 215.2 1080.5 216.5 1081.2 216.5 1079.8 218.2 1079.5 219.2 1080.2 220.8 1077.8 222.5 1080.2 221.8 1080.5 221.2 1079.8 220.8 1080.5 223.2 1081.5 223.5 1080.2 224.5 1079.5 223.5 1079.2 223.5 1078.2 225.5 1077.8 226.5 1076.8 227.5 1077.5 228.2 1076.8 228.2 1075.2 230.2 1076.5 231.5 1074.8 233.2 1075.5 233.5 1074.2 235.2 1073.2 233.8 1073.5 233.2 1072.8 236.8 1070.8 236.5 1070.2 235.5 1070.2 234.8 1071.2 234.2 1070.8 233.8 1069.8 235.8 1068.5 234.2 1067.5 237.2 1065.8 237.8 1064.2 239.2 1064.2 237.5 1062.8 237.8 1061.8 235.5 1059.8 235.5 1058.5 236.5 1057.8 237.5 1058.2 237.5 1057.5 235.8 1057.5 234.2 1056.2 235.8 1054.8 235.2 1053.8 233.5 1053.2 232.2 1054.2 230.2 1051.8 228.8 1051.5 228.8 1048.5 228.2 1049.5 226.8 1048.5 226.2 1046.2 223.2 1045.2 224.2 1043.5 222.2 1042.5 222.5 1041.5 221.8 1042.2 219.2 1042.2 219.5 1042.8 221.2 1042.2 222.2 1043.2 219.5 1046.2 219.5 1047.2 218.8 1046.8 218.5 1043.2 217.5 1041.8 218.2 1040.5 218.8 1040.8 217.5 1039.8 218.2 1037.8 217.2 1037.2 217.2 1035.8 218.5 1035.2 220.2 1037.2 219.8 1037.5 221.2 1036.5 220.8 1035.2 218.8 1035.5 218.5 1034.2 220.2 1034.2 220.8 1033.2 221.2 1034.2 222.2 1034.5 222.2 1035.5 223.8 1036.5 223.8 1035.2 225.5 1033.2 222.8 1030.8 222.8 1029.8 222.5 1032.2 220.2 1031.8 219.5 1029.8 221.2 1029.2 220.5 1027.2 222.8 1026.2 223.2 1024.5 225.2 1022.5 227.2 1021.8 226.5 1021.8 225.8 1020.5 228.2 1018.2 227.2 1018.2 225.8 1019.5 225.2 1018.2 223.5 1017.2 224.2 1018.8 222.5 1019.8 220.8 1018.5 221.8 1017.8 221.2 1015.5 222.2 1015.2 222.2 1012.8 219.8 1009.5 217.8 1011.5 218.2 1009.2 216.8 1009.5 216.2 1007.5 216.8 1006.2 218.2 1006.2 217.5 1005.2 218.2 1004.2 214.5 1004.2 213.5 1005.8 213.2 1005.2 214.5 1002.5 213.2 1001.5 213.5 1002.2 210.5 1004.5 210.2 1002.8 210.8 1001.5 209.2 1001.2 209.8 1000.5 209.5 999.2 207.8 999.2 208.2 1000.2 207.5 1000.8 205.5 999.8 204.8 1001.2 203.8 1001.2 202.8 999.8 203.8 1001.8 204.8 1001.5 205.8 1002.2 205.8 1003.5 204.8 1003.8 202.2 1001.8 201.5 998.8 199.5 997.5 198.5 997.5 196.8 1000.2 194.8 998.8 195.5 1000.5 196.8 1000.5 195.8 1002.5 194.2 1001.5 192.8 1002.5 191.2 1001.5 189.8 1001.8 189.5 1001.2 190.2 1000.2 189.5 999.5 190.2 998.8 191.8 998.5 193.2 999.5 193.8 999.2 190.5 997.8 191.8 996.2 190.5 995.2 189.8 995.8 187.8 995.5 186.8 993.8 188.8 992.5 188.2 991.5 186.8 991.2 185.8 989.5 184.8 989.8 184.2 989.2 184.5 987.5 183.8 987.5 183.2 986.2 181.5 985.8 179.8 983.5 177.8 982.2 176.2 983.2 173.8 981.5 172.5 981.5 171.8 980.2 169.8 980.5 169.2 979.8 167.5 981.2ZM206.8 1033.5 208.2 1033.5 208.5 1034.5 209.5 1034.5 208.8 1033.8 209.2 1033.2 210.5 1033.2 210.2 1032.2 211.2 1031.5 212.8 1032.2 212.2 1032.8 213.5 1033.5 213.2 1034.5 213.8 1034.5 213.5 1033.5 214.8 1032.2 216.5 1032.8 216.2 1034.2 217.8 1031.8 219.5 1032.5 217.5 1034.2 216.5 1036.2 215.5 1035.5 214.2 1035.8 214.5 1037.2 213.8 1038.2 217.8 1039.2 216.5 1040.2 215.2 1039.5 216.2 1041.2 214.8 1041.5 214.2 1042.5 213.2 1040.8 213.5 1040.2 212.2 1039.2 212.2 1035.2 210.8 1034.8 210.8 1035.8 211.8 1036.5 210.8 1037.8 210.5 1036.5 207.2 1037.2 206.5 1035.2 207.2 1034.5 206.5 1034.2ZM210.8 1029.8 211.2 1030.5 210.2 1031.2 210.2 1032.2 208.5 1033.2 207.8 1032.5 208.5 1030.2ZM191.2 1021.8 191.8 1022.2 191.5 1023.5 194.5 1021.8 195.5 1023.8 197.2 1023.8 196.5 1027.5 198.5 1028.5 200.2 1030.5 200.2 1032.2 199.5 1032.8 201.5 1032.8 201.2 1034.2 198.8 1035.8 199.8 1035.2 202.8 1035.5 203.2 1034.8 202.5 1035.2 201.8 1034.5 203.5 1033.5 205.2 1036.8 204.5 1037.2 203.5 1036.2 202.8 1036.8 201.5 1036.5 201.2 1037.8 202.2 1038.8 201.2 1039.8 202.5 1039.8 203.5 1036.8 206.2 1038.2 207.8 1038.2 207.2 1040.2 204.8 1038.5 204.2 1039.8 204.8 1040.8 204.5 1042.2 206.2 1043.2 206.2 1044.2 205.5 1044.5 204.5 1043.8 203.5 1046.2 201.8 1045.2 203.2 1044.2 202.2 1044.2 201.2 1042.8 200.2 1045.5 198.2 1046.2 198.2 1044.8 196.8 1045.5 196.8 1046.5 195.8 1046.2 195.2 1044.5 193.5 1045.2 191.5 1043.5 191.2 1036.2 190.2 1035.5 191.5 1034.5 190.5 1030.2 191.2 1029.5 192.5 1031.2 192.2 1029.5 192.8 1028.2 191.5 1027.2 192.2 1024.5 190.2 1023.8ZM190.5 1019.8 192.5 1019.5 192.5 1017.8 193.8 1019.8 194.8 1019.5 195.2 1020.5 196.2 1020.8 196.2 1019.2 195.2 1018.5 196.5 1017.8 198.2 1020.5 196.8 1022.8 194.5 1020.8 193.5 1021.5 192.5 1020.8 191.5 1021.2Z" fill="#321e9e" fill-rule="evenodd"/>
<path d="M209.5 1019.5 210.2 1020.5 213.2 1021.8 214.8 1020.2 213.5 1018.2 213.8 1019.2 213.2 1019.8 210.5 1018.2ZM207.5 1012.2 206.5 1013.2 204.8 1013.2 202.8 1014.8 201.5 1013.5 201.2 1015.2 200.2 1015.8 201.2 1017.2 200.8 1018.5 202.5 1018.5 201.8 1017.5 202.2 1016.8 203.5 1017.2 203.2 1018.2 206.2 1018.5 206.5 1015.8 205.8 1017.2 204.2 1017.2 203.5 1016.2 204.8 1014.2 207.2 1013.8ZM214.2 1014.2 212.8 1015.2 212.5 1014.5 213.2 1013.5 211.8 1012.8 211.8 1011.5 211.2 1011.5 210.8 1012.2 212.2 1013.8 210.2 1014.2 208.8 1013.5 209.5 1014.5 207.8 1015.2 210.2 1016.2 210.8 1014.5 211.5 1015.8 212.8 1016.2 213.8 1015.5ZM162.5 981.8 161.2 982.8 160.8 984.8 159.2 984.2 156.5 987.2 156.5 989.2 155.2 989.8 153.8 991.8 153.8 993.2 154.8 993.8 153.5 994.8 153.5 993.8 152.5 993.5 152.8 994.2 151.5 994.8 151.8 996.2 150.5 997.5 150.5 998.8 148.8 999.2 147.8 1000.5 147.5 1003.2 145.8 1005.2 146.2 1006.5 145.5 1007.8 146.2 1009.2 145.5 1011.2 146.5 1010.8 146.8 1011.8 145.5 1012.8 144.8 1012.5 144.8 1013.5 145.8 1014.2 144.8 1014.8 144.5 1017.5 144.8 1018.5 146.8 1018.2 147.2 1018.8 145.2 1021.2 146.8 1023.8 146.2 1024.2 144.8 1022.5 144.8 1023.8 145.8 1025.2 145.2 1025.8 145.2 1028.2 146.5 1030.2 146.8 1034.5 148.2 1035.8 147.2 1036.5 147.8 1040.2 148.8 1041.5 148.2 1043.5 149.5 1048.2 147.8 1051.2 148.2 1053.2 147.5 1053.5 148.8 1054.8 147.8 1055.2 147.5 1056.8 145.8 1057.8 146.2 1059.8 144.8 1060.8 146.8 1062.2 146.2 1063.5 147.2 1064.5 145.8 1065.2 145.8 1066.2 147.8 1066.8 147.2 1069.8 149.2 1070.2 149.8 1073.5 151.5 1074.2 151.5 1076.5 153.5 1077.2 153.2 1078.8 154.5 1079.5 155.2 1081.2 156.5 1080.5 160.2 1085.2 164.2 1086.8 165.5 1086.2 167.8 1087.5 169.8 1085.8 170.5 1086.8 172.8 1086.8 173.2 1085.5 176.8 1085.8 177.2 1084.8 178.5 1085.2 179.8 1081.8 180.8 1082.8 181.2 1081.5 183.2 1081.2 183.2 1079.8 184.8 1079.5 186.2 1077.2 187.5 1077.5 188.2 1075.8 188.8 1076.2 189.5 1075.5 190.2 1076.5 191.2 1073.5 191.5 1075.5 192.8 1076.2 194.2 1075.2 198.5 1077.8 200.8 1077.2 202.2 1079.8 203.2 1079.5 204.5 1077.5 206.5 1077.8 207.5 1079.2 208.8 1077.8 211.2 1079.2 212.8 1077.8 213.2 1078.5 212.5 1079.5 213.5 1079.5 214.8 1077.8 217.2 1077.5 216.8 1076.8 217.5 1076.2 218.2 1077.5 219.8 1075.8 221.2 1077.2 223.5 1077.2 222.5 1076.5 222.5 1074.8 223.5 1073.8 225.2 1074.5 225.2 1075.2 226.5 1074.8 226.5 1072.8 228.8 1071.8 228.5 1071.5 229.8 1070.2 229.5 1069.5 228.5 1069.8 228.2 1070.5 228.8 1071.2 228.2 1071.5 227.5 1069.5 228.8 1068.5 230.5 1068.8 231.5 1068.2 230.2 1066.2 231.2 1065.2 231.8 1065.5 230.8 1064.5 231.2 1062.8 229.8 1061.2 231.8 1060.5 232.2 1061.8 233.2 1061.5 233.8 1062.2 232.5 1059.2 230.8 1060.2 230.2 1059.8 230.2 1055.2 228.5 1056.2 228.2 1053.8 226.2 1053.8 224.5 1055.2 223.8 1054.2 225.2 1053.5 225.2 1052.2 224.2 1051.2 223.2 1051.8 221.5 1050.8 222.8 1049.8 222.5 1049.5 220.8 1050.5 219.2 1050.5 218.5 1049.8 219.2 1048.5 217.8 1049.2 217.2 1047.5 214.5 1045.2 212.2 1044.5 212.2 1045.2 215.8 1047.5 215.5 1048.2 213.8 1048.2 212.2 1045.8 211.5 1046.5 209.5 1046.5 207.8 1045.2 207.5 1045.8 208.8 1046.8 206.8 1047.8 205.2 1047.5 204.5 1046.2 202.5 1047.8 201.5 1047.2 201.8 1046.5 201.2 1046.5 201.2 1048.8 200.5 1049.5 199.5 1048.5 198.2 1049.2 197.5 1048.5 196.2 1048.8 196.2 1047.8 195.2 1047.8 196.2 1048.8 195.5 1049.8 194.2 1048.2 193.2 1049.8 191.8 1048.8 190.2 1046.2 190.5 1044.8 191.5 1044.5 188.8 1044.2 189.5 1041.5 188.5 1038.8 189.2 1038.2 188.8 1037.2 190.5 1036.8 189.5 1035.2 188.2 1034.5 189.5 1033.5 188.8 1032.2 189.8 1030.8 189.2 1029.2 190.5 1026.2 189.2 1025.2 189.8 1024.2 188.5 1023.5 188.2 1022.2 188.8 1021.8 189.2 1022.5 190.5 1021.8 189.8 1019.2 191.2 1018.2 190.2 1016.8 192.2 1015.5 193.8 1015.8 193.8 1014.8 190.5 1014.8 189.8 1015.8 188.5 1014.5 189.2 1012.5 190.8 1012.5 189.5 1009.8 190.2 1008.5 189.2 1006.8 187.8 1006.5 188.2 1005.8 190.5 1005.5 187.8 1002.8 188.5 1002.2 187.8 1001.5 188.2 997.5 186.8 999.2 186.2 998.5 186.5 994.2 183.5 990.5 183.5 989.2 179.2 985.8 180.2 985.5 180.2 984.5 177.8 985.5 177.5 984.8 178.2 984.2 177.2 983.5 175.8 983.8 173.5 981.8 172.5 982.5 171.8 981.8 170.5 982.2 169.8 981.2 166.5 981.2 165.8 982.8 164.8 981.5Z" fill="#2832c8" fill-rule="evenodd"/>
<path d="M172.2 983.2 170.2 983.8 167.8 983.5 165.2 985.2 164.5 983.5 162.5 984.8 161.8 986.2 160.2 985.5 159.5 986.8 158.8 986.5 159.2 988.2 157.8 988.5 156.8 991.5 155.5 991.5 155.8 993.5 152.5 996.2 152.5 997.8 148.8 1001.2 149.2 1001.8 147.5 1005.8 148.5 1006.2 148.2 1008.5 147.2 1009.5 148.2 1010.8 148.8 1010.5 149.5 1011.2 148.8 1011.8 148.2 1011.5 147.8 1012.8 146.5 1013.5 148.2 1014.2 147.8 1015.5 146.5 1014.8 146.5 1017.2 147.8 1017.5 148.2 1020.2 147.2 1020.5 147.8 1021.5 147.2 1023.2 148.5 1024.2 147.5 1027.2 147.5 1028.8 148.5 1029.5 147.2 1030.8 148.8 1032.2 148.2 1034.2 149.8 1036.8 149.5 1038.2 151.2 1038.5 150.5 1040.2 149.5 1040.5 149.5 1042.8 151.2 1043.5 150.5 1044.5 151.2 1046.5 150.2 1049.2 151.2 1050.5 149.8 1051.2 150.2 1053.5 149.5 1053.8 149.5 1055.5 151.2 1055.8 149.2 1056.5 149.2 1057.2 150.2 1056.8 150.8 1057.8 149.5 1059.2 148.5 1058.5 148.2 1063.5 149.8 1063.8 148.8 1067.2 149.8 1068.2 149.5 1069.2 151.2 1069.5 152.5 1071.2 151.2 1072.2 152.2 1073.8 153.5 1074.5 153.5 1075.5 154.5 1074.2 155.2 1076.5 154.2 1076.8 156.2 1077.2 156.5 1078.8 158.5 1080.5 158.8 1082.2 161.2 1081.5 162.2 1082.5 160.2 1082.8 160.8 1083.8 163.2 1083.8 164.5 1082.8 165.8 1084.8 166.8 1083.8 168.2 1084.2 168.8 1085.5 169.5 1085.2 169.5 1083.8 170.5 1084.5 172.5 1083.8 175.5 1084.5 175.2 1082.8 175.8 1082.2 177.8 1082.5 180.2 1080.8 179.8 1080.2 180.5 1079.5 182.2 1079.2 181.5 1078.8 182.5 1076.8 183.5 1077.2 183.8 1076.2 185.2 1075.5 184.8 1074.2 185.5 1072.5 186.5 1073.5 187.5 1071.5 188.5 1071.8 188.2 1072.5 190.8 1072.5 192.8 1068.8 193.8 1069.5 193.5 1071.8 195.5 1071.8 194.8 1073.5 196.8 1072.5 198.8 1074.5 198.8 1075.5 200.8 1072.5 202.2 1074.8 203.2 1073.5 204.5 1076.2 204.2 1074.8 205.2 1073.8 206.2 1075.5 207.2 1075.2 209.2 1076.2 210.2 1074.8 212.5 1074.8 212.8 1073.8 215.5 1075.5 216.8 1073.2 218.2 1073.5 219.5 1072.5 220.8 1073.2 222.5 1071.2 221.2 1071.2 220.8 1071.8 219.8 1071.5 222.5 1069.5 222.2 1068.5 222.8 1067.8 223.8 1068.8 224.8 1067.2 227.2 1067.2 225.2 1065.8 224.8 1062.5 223.5 1063.5 222.8 1062.8 226.5 1060.2 224.5 1058.5 223.8 1059.2 222.8 1058.8 222.8 1057.8 224.2 1057.2 223.8 1056.5 220.5 1058.8 218.8 1058.2 218.2 1058.8 217.5 1058.2 218.2 1056.8 217.5 1056.2 217.5 1052.8 216.8 1051.5 216.2 1052.8 214.8 1052.2 212.5 1052.8 211.8 1051.5 213.2 1051.5 212.8 1050.5 212.5 1051.2 209.8 1050.8 209.2 1051.8 207.8 1051.8 206.5 1050.5 201.8 1053.5 200.5 1052.8 199.2 1054.2 197.5 1054.5 196.5 1053.8 195.8 1054.8 191.2 1054.8 190.5 1054.2 190.8 1052.2 189.2 1053.5 187.5 1051.5 188.5 1049.2 188.2 1048.5 186.8 1048.5 184.2 1046.5 185.2 1045.8 186.2 1046.8 186.8 1045.5 188.5 1046.2 186.8 1045.2 188.2 1040.5 187.5 1040.2 186.8 1040.8 185.2 1039.2 186.8 1037.2 188.2 1037.8 187.8 1036.8 186.5 1036.8 188.2 1033.5 187.2 1033.5 187.5 1034.2 186.8 1034.5 186.5 1033.2 187.5 1032.5 185.8 1031.8 186.2 1030.8 187.5 1030.5 186.8 1029.8 187.5 1027.2 186.5 1024.2 187.8 1023.5 186.5 1020.8 188.2 1019.8 186.8 1019.2 187.2 1016.8 186.5 1013.5 187.5 1012.5 186.8 1010.8 187.2 1007.8 185.2 1007.2 186.2 1006.2 185.2 1004.8 186.2 1003.8 185.5 1002.5 185.8 1001.5 184.8 1001.2 185.8 998.8 184.5 998.5 182.5 995.2 182.8 994.5 181.5 993.5 182.5 992.5 182.5 991.2 180.8 991.8 180.2 991.2 181.2 990.2 179.5 988.8 180.2 988.5 178.8 987.8 179.2 986.8 178.2 986.5 176.8 987.5 174.8 984.2 173.2 984.8Z" fill="#1e78d7" fill-rule="evenodd"/>
<path d="M167.8 984.8 166.5 986.2 165.2 985.8 164.5 986.8 163.5 986.5 161.8 988.8 160.8 988.5 160.8 987.5 160.5 988.8 158.5 989.8 158.5 991.5 156.8 992.5 156.8 995.5 155.8 995.2 155.2 995.8 155.5 997.2 154.5 997.5 151.8 1000.2 151.5 1001.8 150.8 1002.5 150.2 1002.2 149.5 1003.2 150.2 1005.5 148.8 1008.2 150.2 1009.2 148.8 1012.2 149.5 1023.5 148.5 1027.5 150.2 1030.8 149.8 1033.8 151.2 1035.2 150.5 1037.5 151.8 1038.5 152.5 1040.2 151.5 1044.2 152.8 1045.5 152.2 1047.2 152.8 1050.2 150.8 1052.8 151.8 1053.5 152.2 1055.5 150.2 1059.5 150.8 1060.2 150.2 1061.2 150.2 1063.2 150.8 1063.8 150.2 1065.2 151.2 1065.8 151.5 1068.8 152.8 1069.5 155.5 1075.5 157.2 1076.5 157.2 1077.5 162.8 1082.2 165.8 1082.2 168.5 1083.5 170.8 1082.5 172.2 1083.2 173.8 1080.8 175.8 1081.5 176.8 1079.8 177.5 1080.5 178.5 1080.2 178.8 1079.5 178.2 1078.8 179.8 1078.2 181.8 1075.2 184.2 1074.2 184.2 1072.5 187.8 1070.5 188.8 1067.8 190.2 1068.2 191.8 1065.8 192.8 1066.5 192.8 1068.2 194.8 1067.2 195.5 1067.8 195.2 1068.8 196.5 1068.2 197.2 1068.8 196.8 1069.5 198.2 1069.5 199.5 1071.5 201.5 1072.5 202.5 1072.2 204.2 1073.2 205.5 1071.5 206.2 1071.8 207.2 1070.8 208.2 1071.8 208.2 1071.2 209.2 1070.8 209.8 1072.5 210.2 1071.2 211.8 1069.8 214.8 1070.5 215.8 1070.2 215.8 1068.5 217.5 1068.2 218.2 1068.8 219.5 1068.2 218.8 1067.2 221.5 1065.8 220.8 1064.8 221.5 1062.2 220.5 1062.5 219.8 1061.8 221.8 1061.2 218.5 1061.2 216.2 1059.2 215.2 1056.5 213.8 1056.5 213.2 1055.5 210.2 1056.5 209.8 1056.2 211.5 1054.5 209.8 1055.2 209.2 1053.8 208.5 1053.8 208.2 1055.2 206.8 1054.2 203.5 1055.2 203.8 1057.8 201.5 1056.5 199.2 1056.2 199.8 1057.2 198.8 1057.5 198.2 1060.2 196.8 1059.2 197.8 1057.2 197.2 1056.8 196.8 1058.2 195.5 1057.2 194.8 1057.8 194.8 1060.8 192.8 1060.2 193.5 1059.2 193.2 1057.5 193.2 1058.2 191.8 1058.8 191.2 1058.5 191.2 1057.2 189.2 1058.2 188.5 1057.8 189.5 1056.8 187.5 1056.2 186.2 1051.5 186.8 1050.2 184.2 1046.8 185.5 1045.2 185.5 1041.5 184.5 1039.5 184.8 1036.2 184.2 1035.8 185.5 1034.2 184.8 1031.5 185.5 1026.8 184.5 1027.2 184.2 1026.2 185.5 1025.2 185.2 1021.2 185.8 1020.2 184.8 1017.2 183.8 1016.5 184.8 1015.8 184.5 1014.8 185.2 1014.2 184.5 1013.5 185.2 1012.5 184.2 1011.2 185.2 1010.2 183.8 1009.5 184.5 1004.2 183.5 1002.8 184.2 1001.8 182.8 1000.8 181.8 994.5 180.8 994.2 180.2 991.5 177.5 990.5 175.8 987.8 172.5 986.2 168.5 986.2Z" fill="#1ea5d2" fill-rule="evenodd"/>
<path d="M170.5 988.2 168.2 988.8 168.5 990.2 164.8 990.2 164.2 989.2 163.2 991.5 163.8 991.2 164.5 992.5 162.8 992.2 162.8 993.8 162.2 994.5 160.2 993.5 159.5 995.2 158.2 995.8 158.8 997.2 156.8 997.2 156.8 998.5 155.5 999.2 155.8 1000.2 153.8 1001.2 152.8 1002.8 151.5 1003.2 152.5 1006.8 151.2 1008.2 151.8 1009.5 150.8 1015.2 152.8 1017.2 152.5 1017.8 151.5 1017.2 150.8 1017.8 151.8 1019.2 150.8 1023.5 151.5 1025.5 151.5 1030.8 152.5 1033.2 151.8 1034.2 153.8 1034.8 153.2 1035.8 153.8 1037.8 156.2 1039.2 156.2 1040.2 155.2 1040.5 154.8 1043.2 158.2 1045.8 157.5 1046.5 155.5 1045.8 156.5 1047.8 155.2 1048.2 155.2 1055.2 153.5 1055.5 154.2 1058.2 152.5 1059.2 153.5 1060.5 153.5 1066.8 154.8 1067.5 154.5 1068.5 155.5 1069.5 154.8 1070.2 157.5 1072.5 157.5 1073.5 160.8 1077.5 162.5 1077.5 163.8 1079.2 164.8 1078.2 169.2 1078.2 169.2 1079.8 170.5 1079.8 171.2 1078.5 172.2 1079.2 173.2 1078.5 174.5 1079.2 175.8 1077.5 175.8 1076.2 177.2 1076.5 177.8 1075.8 178.5 1076.8 179.2 1074.5 180.2 1074.8 180.5 1073.8 181.8 1073.2 181.8 1071.5 183.8 1070.5 184.2 1069.2 185.8 1068.2 185.8 1066.5 184.8 1066.8 184.5 1066.2 185.5 1065.5 185.2 1064.2 187.2 1063.5 185.5 1062.5 185.2 1060.8 186.2 1059.5 184.8 1058.8 185.5 1057.8 184.2 1057.2 184.5 1055.8 181.8 1050.8 182.5 1048.5 180.5 1043.8 181.8 1041.8 181.2 1041.2 181.5 1039.2 180.8 1037.8 181.8 1037.8 181.5 1036.5 182.2 1035.2 181.2 1035.5 180.5 1034.5 181.8 1032.8 180.8 1028.2 182.2 1026.8 182.2 1023.8 181.5 1023.2 182.5 1022.5 180.5 1019.5 181.5 1019.2 182.5 1019.8 181.8 1019.2 182.5 1017.8 181.5 1017.2 181.8 1016.2 180.2 1014.2 182.5 1014.5 182.8 1013.8 181.5 1012.2 181.8 1010.8 180.8 1012.2 179.5 1011.2 180.2 1010.5 179.8 1009.8 181.2 1009.5 180.8 1006.2 181.8 1004.8 179.8 999.5 178.5 998.5 178.5 995.8 176.8 995.2 178.2 994.2 176.8 994.2 176.2 992.2 174.5 990.8 172.2 990.2 172.5 990.8 171.5 991.5 170.5 989.5 171.5 988.5Z" fill="#24b478" fill-rule="evenodd"/>
<path d="M170.8 991.8 170.2 991.8 169.5 994.2 167.8 993.8 166.5 994.5 166.2 993.5 165.2 994.5 166.2 996.8 164.5 996.8 164.5 995.8 163.5 996.2 162.5 994.8 162.8 996.2 161.5 998.5 160.8 997.8 161.2 996.2 158.8 998.2 159.5 998.8 158.8 999.5 157.2 999.2 156.5 999.8 156.8 1001.2 154.8 1001.8 153.2 1003.5 152.8 1005.8 153.2 1006.2 153.5 1004.8 154.2 1005.8 153.2 1008.5 153.5 1009.8 152.2 1010.8 153.2 1013.8 151.8 1014.5 151.8 1015.2 153.5 1016.2 153.2 1018.2 153.8 1019.2 152.2 1021.8 153.5 1023.5 152.8 1026.5 154.2 1027.5 153.5 1028.8 154.5 1029.2 152.8 1032.2 154.5 1033.2 154.5 1035.8 156.5 1037.2 156.2 1038.5 158.5 1040.5 157.8 1041.5 156.8 1041.5 156.8 1042.2 157.5 1041.5 158.5 1042.2 159.5 1046.2 160.5 1045.8 160.8 1044.8 162.2 1045.2 161.8 1046.2 159.2 1047.8 159.2 1050.5 158.5 1051.2 157.5 1050.5 157.8 1049.5 157.2 1049.8 157.2 1052.8 158.5 1054.5 156.5 1054.8 155.5 1058.5 156.2 1060.2 154.8 1060.2 155.2 1061.5 154.5 1062.8 155.5 1065.8 158.2 1068.5 157.2 1070.5 158.2 1070.2 159.5 1071.5 158.8 1072.5 159.8 1072.5 160.8 1074.5 163.8 1074.5 164.8 1076.5 163.5 1076.2 163.5 1076.8 164.5 1077.5 165.8 1077.5 167.8 1075.8 169.8 1077.2 171.5 1076.2 173.2 1076.2 173.8 1077.5 175.5 1074.2 177.5 1073.2 178.5 1073.8 180.8 1071.5 180.5 1069.8 181.5 1067.5 182.8 1067.2 183.8 1068.5 183.5 1061.8 182.5 1060.8 183.5 1059.2 181.8 1058.8 182.5 1057.2 182.2 1055.2 181.2 1054.5 181.5 1053.5 180.2 1054.2 179.5 1052.8 179.5 1051.5 180.8 1049.8 179.5 1049.8 178.8 1051.5 177.8 1051.2 178.8 1049.8 177.8 1049.2 177.8 1044.5 175.5 1042.8 177.2 1041.5 178.5 1042.5 178.2 1043.5 179.5 1042.8 178.5 1042.2 177.8 1040.5 178.2 1039.5 176.5 1038.2 177.8 1036.2 179.2 1037.2 179.5 1034.5 178.5 1033.2 179.8 1029.5 179.5 1027.5 178.5 1026.5 179.2 1025.8 178.5 1023.8 179.5 1022.2 178.8 1020.8 177.2 1021.2 176.8 1020.5 179.5 1019.8 178.2 1018.8 178.2 1016.5 177.2 1016.2 178.8 1015.5 179.8 1016.2 179.5 1017.5 180.2 1017.5 180.2 1015.5 178.5 1012.2 177.8 1012.8 176.8 1012.5 176.8 1010.8 177.5 1010.5 178.2 1011.5 179.2 1010.2 178.5 1009.5 177.2 1009.8 176.8 1010.8 175.8 1010.2 176.5 1008.5 178.2 1007.8 176.5 1008.2 176.2 1007.5 178.5 1006.2 179.8 1006.2 178.8 1004.8 178.2 1005.8 176.2 1004.5 176.8 1002.8 175.2 1001.2 175.5 1000.2 177.8 999.2 173.2 999.8 173.2 998.2 171.8 997.2 172.5 996.2 173.5 996.5 172.8 996.2 173.2 994.8 172.5 994.5 172.5 992.8 171.8 992.8 171.2 994.2 170.2 993.2 171.2 992.5Z" fill="#46be32" fill-rule="evenodd"/>
<path d="M172.5 1050.5 171.5 1050.5 172.5 1051.8 171.8 1053.2 170.2 1052.8 169.5 1051.8 168.8 1053.5 167.2 1053.5 167.2 1052.5 164.8 1053.5 164.2 1051.8 163.5 1053.2 161.5 1052.2 161.2 1053.5 161.8 1054.2 161.2 1055.8 159.8 1055.5 160.8 1056.8 160.2 1057.2 159.5 1056.5 159.2 1058.2 157.2 1058.5 157.8 1059.5 157.8 1061.5 156.8 1063.5 157.8 1063.8 157.2 1065.5 157.8 1066.8 160.2 1067.8 158.8 1069.8 159.8 1069.2 160.5 1069.8 162.5 1069.5 163.5 1070.8 162.8 1071.8 164.5 1071.2 165.8 1072.2 165.2 1073.2 167.2 1073.2 167.8 1072.5 168.2 1073.2 167.2 1075.5 169.2 1073.8 171.8 1073.8 172.5 1072.5 174.5 1073.2 175.8 1071.2 176.2 1072.2 177.2 1072.5 176.8 1071.2 177.8 1070.5 177.8 1069.5 181.2 1066.2 180.5 1065.2 181.2 1063.8 179.8 1060.8 181.2 1058.2 179.5 1056.5 179.5 1055.5 178.8 1054.8 177.8 1055.2 176.5 1053.2 176.5 1054.2 175.5 1054.8 174.8 1054.2 174.8 1051.5 173.8 1051.5 173.8 1052.8ZM166.8 998.2 163.5 999.8 161.8 999.2 161.2 1000.2 159.2 1000.2 158.8 1002.2 156.8 1003.2 156.8 1004.8 155.8 1005.2 156.2 1006.2 154.8 1006.8 155.8 1007.8 154.2 1008.5 155.2 1009.2 154.5 1010.2 155.2 1012.5 154.2 1013.2 155.2 1015.8 153.5 1017.5 154.8 1018.5 154.5 1021.2 155.2 1022.8 154.5 1023.8 155.2 1025.8 154.5 1028.5 155.5 1030.2 154.5 1031.8 155.5 1033.8 155.5 1032.2 156.5 1031.5 156.5 1034.5 157.5 1035.2 157.2 1036.5 158.2 1037.2 160.2 1036.8 162.5 1039.5 163.8 1038.5 165.2 1038.5 165.5 1037.5 166.2 1038.8 168.5 1036.8 170.2 1037.2 170.2 1035.5 171.2 1036.2 171.8 1035.5 173.2 1035.8 173.5 1036.5 172.8 1037.2 172.2 1036.8 172.2 1037.5 175.5 1036.5 173.8 1034.8 175.2 1034.8 175.5 1033.8 173.5 1032.2 174.2 1031.5 173.5 1029.5 175.2 1027.2 172.5 1027.5 172.5 1026.2 173.8 1025.5 174.8 1023.2 173.8 1024.5 172.2 1023.8 173.8 1021.8 175.8 1021.8 175.8 1020.5 173.8 1021.5 173.5 1019.8 174.8 1019.5 174.8 1018.8 170.8 1016.5 174.8 1016.2 175.2 1014.5 173.8 1015.2 173.5 1013.2 174.8 1013.8 175.5 1011.5 173.8 1011.5 174.5 1010.8 174.5 1009.2 173.2 1006.8 173.8 1006.2 175.5 1006.8 175.5 1005.5 172.5 1004.8 171.5 1002.8 173.2 1001.5 172.5 1000.8 171.2 1002.2 169.8 1001.5 172.2 999.8 169.2 1000.8 166.8 999.8Z" fill="#bed71e" fill-rule="evenodd"/>
<path d="M163.2 1054.5 162.5 1055.5 161.8 1055.2 163.2 1056.8 161.5 1057.8 161.2 1059.2 159.8 1058.8 160.8 1060.2 160.2 1060.8 161.2 1061.8 160.8 1062.8 158.5 1063.5 160.2 1063.2 160.8 1063.8 159.2 1065.5 160.8 1066.5 160.5 1067.2 162.2 1067.2 163.2 1068.2 163.2 1069.5 165.8 1069.2 166.2 1070.2 167.5 1070.8 167.2 1071.5 170.5 1072.5 169.8 1070.5 170.5 1069.5 171.8 1070.8 171.5 1072.2 173.8 1072.2 174.2 1071.2 175.5 1070.5 174.8 1069.5 175.8 1068.2 176.5 1069.5 178.2 1068.2 176.5 1066.8 176.8 1065.8 179.8 1066.8 179.8 1065.2 180.5 1064.5 179.8 1061.2 177.5 1059.5 178.5 1058.8 178.2 1058.2 177.5 1058.5 176.5 1057.8 176.8 1056.8 178.5 1057.5 178.2 1056.8 176.2 1056.8 175.8 1055.8 172.8 1056.8 171.5 1055.8 171.8 1054.8 172.8 1055.5 174.5 1055.2 174.2 1053.5 173.5 1053.5 173.8 1054.2 173.2 1054.8 172.2 1054.2 170.5 1056.5 169.5 1055.8 169.5 1053.8 168.2 1056.5 167.5 1056.2 167.8 1054.8 166.5 1055.5 164.5 1055.5 164.5 1056.5 163.5 1056.8ZM161.8 1000.2 160.8 1002.2 159.5 1001.5 159.2 1002.8 160.5 1003.5 159.8 1004.2 157.8 1004.2 158.2 1005.2 156.5 1006.2 157.2 1007.8 155.5 1009.5 156.2 1010.8 155.8 1012.8 157.2 1012.8 157.5 1013.5 156.2 1014.5 155.8 1016.5 154.8 1017.2 156.8 1017.8 156.2 1018.8 157.2 1020.8 156.8 1021.5 155.8 1021.2 156.8 1023.5 155.8 1024.2 155.2 1026.8 158.2 1028.5 158.8 1029.8 158.5 1030.8 157.5 1029.8 156.5 1030.8 157.5 1032.2 157.2 1033.8 159.2 1034.2 159.8 1033.5 160.5 1036.8 163.2 1035.5 164.5 1037.5 165.5 1036.8 167.2 1037.2 167.8 1036.2 169.5 1036.5 169.5 1035.5 167.8 1035.5 167.5 1034.2 168.2 1033.8 169.2 1034.5 169.8 1032.8 170.8 1033.2 171.8 1031.8 170.8 1031.2 171.2 1029.5 173.8 1028.8 171.8 1027.5 173.2 1024.8 172.2 1025.5 168.8 1024.5 169.2 1023.8 170.8 1023.5 171.8 1024.2 172.2 1023.5 171.2 1022.5 172.5 1021.2 171.5 1021.2 171.2 1020.2 172.5 1019.8 173.2 1020.5 171.8 1017.8 169.8 1016.5 169.8 1015.2 171.5 1013.8 172.2 1014.5 171.5 1015.5 173.2 1015.5 172.2 1014.8 173.2 1011.8 171.5 1011.5 171.5 1007.8 169.8 1006.5 170.8 1004.8 169.5 1005.2 169.2 1003.5 167.5 1002.8 168.8 1001.8 166.5 1001.8 165.8 1000.5 164.5 1000.5 163.5 1001.8 162.5 1001.2 162.8 1000.2Z" fill="#f5dc14" fill-rule="evenodd"/>
<path d="M171.8 1056.5 170.2 1056.8 169.2 1058.5 166.8 1058.5 167.5 1060.5 166.5 1062.8 165.5 1061.5 166.2 1060.2 165.2 1059.8 164.2 1060.8 162.5 1060.8 162.8 1062.8 161.5 1064.5 161.5 1065.5 162.5 1064.5 164.2 1065.8 163.8 1067.5 166.2 1067.5 166.8 1069.5 168.2 1070.2 168.2 1068.8 170.8 1066.8 172.2 1069.2 173.2 1067.5 174.8 1068.5 176.2 1067.2 175.5 1066.2 176.5 1065.5 176.2 1064.8 177.2 1063.2 176.2 1060.5 176.8 1059.5 175.5 1060.8 174.5 1059.5 175.2 1058.2 173.8 1058.5 173.5 1057.5 172.5 1057.8ZM162.2 1001.8 160.5 1004.2 161.2 1004.8 160.2 1005.2 160.8 1006.2 160.2 1006.5 159.5 1005.2 158.5 1005.5 158.2 1008.2 159.8 1009.5 159.5 1010.8 160.8 1012.2 160.2 1012.8 157.8 1010.2 157.5 1011.8 158.8 1012.5 157.8 1013.8 159.2 1016.2 157.8 1016.8 157.2 1018.5 159.2 1018.5 159.8 1020.2 158.2 1020.2 160.5 1022.8 159.8 1024.2 158.5 1023.8 159.8 1025.8 158.8 1028.2 159.8 1030.8 159.5 1031.8 160.5 1031.8 159.8 1030.2 160.8 1029.5 161.8 1031.2 160.8 1033.2 162.8 1034.5 162.5 1033.2 163.5 1032.2 164.2 1033.8 166.5 1033.8 167.2 1031.8 166.8 1029.5 168.5 1027.8 169.2 1028.2 169.2 1027.2 166.5 1026.2 167.5 1024.5 165.8 1023.2 166.8 1022.2 169.5 1022.2 169.5 1021.2 168.8 1021.8 167.8 1021.2 165.8 1022.8 164.8 1022.2 165.8 1021.2 165.5 1020.5 167.2 1019.2 166.8 1018.5 168.5 1017.8 168.2 1017.2 165.2 1017.8 166.5 1019.2 165.5 1020.5 163.2 1020.2 163.5 1019.2 164.5 1019.2 163.8 1017.5 165.2 1015.2 166.2 1014.8 166.8 1016.2 167.2 1014.8 168.8 1014.8 169.2 1014.2 167.5 1013.8 168.2 1012.5 167.2 1013.5 165.8 1012.5 166.2 1010.8 167.8 1011.5 167.2 1010.8 167.5 1009.8 165.2 1007.8 165.2 1006.8 166.2 1006.2 165.5 1005.2 165.8 1004.5 166.5 1005.2 168.2 1005.2 167.2 1004.2 163.8 1003.8 163.5 1003.2 161.5 1003.8 161.2 1002.8 162.8 1002.5 162.8 1001.8Z" fill="#f58219" fill-rule="evenodd"/>
<path d="M168.8 1061.5 169.2 1064.5 170.2 1064.5 170.8 1065.2 170.2 1065.5 171.8 1067.2 172.5 1066.8 171.5 1065.8 172.2 1065.2 172.8 1065.5 174.5 1068.2 174.8 1067.5 173.2 1064.8 173.5 1064.2 172.5 1063.8 171.5 1064.8 170.2 1064.5ZM164.5 1010.8 162.2 1011.8 162.5 1013.8 161.8 1014.5 160.8 1014.5 160.2 1015.8 159.2 1015.2 159.5 1018.8 161.2 1019.2 160.8 1017.5 159.5 1016.8 160.8 1015.5 161.8 1015.8 161.5 1017.2 162.8 1014.8 164.2 1015.2 163.5 1016.8 165.5 1012.8 163.5 1012.8Z" fill="#e62d19" fill-rule="evenodd"/>
<path d="M134.09 1118.70v3 M93.00 1078.69h-3 M133.51 1118.70v3 M93.00 1079.28h-3 M134.38 1118.70v3 M93.00 1078.38h-3 M133.21 1118.70v3 M93.00 1079.56h-3 M134.68 1118.70v3 M93.00 1078.08h-3 M132.92 1118.70v3 M93.00 1079.83h-3 M134.97 1118.70v3 M93.00 1077.77h-3 M132.62 1118.70v3 M93.00 1080.11h-3 M135.26 1118.70v3 M93.00 1077.46h-3 M132.33 1118.70v3 M93.00 1080.39h-3 M135.55 1118.70v3 M93.00 1077.15h-3 M132.04 1118.70v3 M93.00 1080.67h-3 M135.84 1118.70v3 M93.00 1076.84h-3 M131.74 1118.70v3 M93.00 1080.95h-3 M136.14 1118.70v3 M93.00 1076.54h-3 M131.45 1118.70v3 M93.00 1081.22h-3 M136.43 1118.70v3 M93.00 1076.23h-3 M131.15 1118.70v3 M93.00 1081.50h-3 M136.72 1118.70v3 M93.00 1075.92h-3 M130.86 1118.70v3 M93.00 1081.78h-3 M139.64 1118.70v3 M93.00 1072.84h-3 M127.92 1118.70v3 M93.00 1084.56h-3 M142.56 1118.70v3 M93.00 1069.76h-3 M124.98 1118.70v3 M93.00 1087.34h-3 M145.48 1118.70v3 M93.00 1066.68h-3 M122.04 1118.70v3 M93.00 1090.12h-3 M148.40 1118.70v3 M93.00 1063.60h-3 M119.10 1118.70v3 M93.00 1092.90h-3 M151.32 1118.70v3 M93.00 1060.52h-3 M116.16 1118.70v3 M93.00 1095.68h-3 M154.24 1118.70v3 M93.00 1057.44h-3 M113.22 1118.70v3 M93.00 1098.46h-3 M157.16 1118.70v3 M93.00 1054.36h-3 M110.28 1118.70v3 M93.00 1101.24h-3 M160.08 1118.70v3 M93.00 1051.28h-3 M107.34 1118.70v3 M93.00 1104.02h-3 M163.00 1118.70v5 M93.00 1048.20h-5 M104.40 1118.70v5 M93.00 1106.80h-5 M177.75 1118.70v3 M93.00 1033.33h-3 M186.38 1118.70v3 M93.00 1024.63h-3 M192.50 1118.70v3 M93.00 1018.46h-3 M197.25 1118.70v3 M93.00 1013.67h-3 M201.13 1118.70v3 M93.00 1009.76h-3 M204.41 1118.70v3 M93.00 1006.45h-3 M207.25 1118.70v3 M93.00 1003.59h-3 M209.76 1118.70v3 M93.00 1001.06h-3 M212.00 1118.70v5 M93.00 998.80h-5 M224.82 1118.70v3 M93.00 986.07h-3 M232.33 1118.70v3 M93.00 978.62h-3 M237.65 1118.70v3 M93.00 973.33h-3 M241.78 1118.70v3 M93.00 969.23h-3 M245.15 1118.70v3 M93.00 965.88h-3 M248.00 1118.70v3 M93.00 963.05h-3 M250.47 1118.70v3 M93.00 960.60h-3 M252.65 1118.70v3 M93.00 958.44h-3 M254.60 1118.70v5 M93.00 956.50h-5 M267.42 1118.70v3 M93.00 943.77h-3 M133.80 1118.70v5 M93.00 1079.00h-5" stroke="#111" stroke-width="1" fill="none"/>
<rect x="93" y="939.7" width="179.7" height="179" fill="none" stroke="#111" stroke-width="1.3"/>
<text x="104.9" y="1141.7" text-anchor="middle" font-size="13">−10<tspan font-size="7.4" dy="-5.6" dx="0.7">3</tspan></text>
<text x="136.8" y="1141.7" text-anchor="middle" font-size="13">0</text>
<text x="163.8" y="1141.7" text-anchor="middle" font-size="13">10<tspan font-size="7.4" dy="-5.6" dx="0.7">3</tspan></text>
<text x="212.8" y="1141.7" text-anchor="middle" font-size="13">10<tspan font-size="7.4" dy="-5.6" dx="0.7">4</tspan></text>
<text x="255.4" y="1141.7" text-anchor="middle" font-size="13">10<tspan font-size="7.4" dy="-5.6" dx="0.7">5</tspan></text>
<text x="81" y="958.1" text-anchor="end" font-size="13">10<tspan font-size="7.4" dy="-5.6" dx="0.7">5</tspan></text>
<text x="81" y="1000.4000000000001" text-anchor="end" font-size="13">10<tspan font-size="7.4" dy="-5.6" dx="0.7">4</tspan></text>
<text x="81" y="1049.8" text-anchor="end" font-size="13">10<tspan font-size="7.4" dy="-5.6" dx="0.7">3</tspan></text>
<text x="81" y="1080.6" text-anchor="end" font-size="13">0</text>
<text x="81" y="1108.3999999999999" text-anchor="end" font-size="13">−10<tspan font-size="7.4" dy="-5.6" dx="0.7">3</tspan></text>
<path d="M193 939.7V1118.7M93 1048.2H272.7" stroke="#111" stroke-width="1.2" fill="none"/>
<text transform="translate(98.90,953.70) scale(1.06,1)" font-size="12.4" text-anchor="start">52.5%</text>
<text transform="translate(267.60,953.00) scale(1.06,1)" font-size="12.4" text-anchor="end">5.75%</text>
<text transform="translate(267.60,964.90) scale(1.06,1)" font-size="12.4" text-anchor="end">MFI: 8641</text>
<text transform="translate(267.60,1102.20) scale(1.06,1)" font-size="12.4" text-anchor="end">MFI: 9744</text>
<text transform="translate(267.60,1112.80) scale(1.06,1)" font-size="12.4" text-anchor="end">11.2%</text>
<text transform="translate(98.90,1114.00) scale(1.06,1)" font-size="12.4" text-anchor="start">30.5%</text>
<path d="M434 958.5h1m-8 3h1m0 5h1m-16 2h1m12 0h1m6 1h1m-15 1h1m13 0h1m-24 1h1m-17 1h1m35 1h1m2 0h1m3 0h1m-39 1h1m25 0h1m2 0h1m9 0h1m3 0h1m18 0h1m-80 1h1m30 0h1m0 0h1m6 0h1m6 0h1m0 0h1m47 0h1m-89 1h1m8 0h1m22 0h1m3 0h1m5 0h1m-58 1h1m17 0h1m1 0h1m11 0h1m18 0h1m9 0h1m2 0h1m0 0h1m1 0h1m30 0h1m2 0h1m-85 1h1m17 0h1m0 0h1m1 0h1m10 0h1m10 0h1m0 0h1m3 0h1m3 0h1m-61 1h1m38 0h1m2 0h1m3 0h1m15 0h1m12 0h1m23 0h1m-69 1h1m3 0h1m0 0h1m5 0h1m6 0h1m3 0h1m4 0h1m13 0h1m10 0h1m-82 1h1m0 0h1m30 0h1m8 0h1m0 0h1m1 0h1m0 0h1m2 0h1m7 0h1m27 0h1m3 0h1m-59 1h1m3 0h1m3 0h1m1 0h1m0 0h1m4 0h1m10 0h1m4 0h1m0 0h1m3 0h1m-76 1h1m3 0h1m40 0h1m2 0h1m0 0h1m2 0h1m0 0h1m0 0h1m5 0h1m1 0h1m3 0h1m7 0h1m4 0h1m4 0h1m8 0h1m-97 1h1m4 0h1m0 0h1m36 0h1m9 0h1m2 0h1m4 0h1m2 0h1m8 0h1m1 0h1m2 0h1m22 0h1m-57 1h1m5 0h1m0 0h1m1 0h1m7 0h1m6 0h1m22 0h1m1 0h1m-90 1h1m44 0h1m2 0h1m1 0h1m6 0h1m0 0h1m0 0h1m0 0h1m-62 1h1m41 0h1m1 0h1m1 0h1m8 0h1m8 0h1m4 0h1m2 0h1m0 0h1m6 0h1m3 0h1m2 0h1m-87 1h1m53 0h1m0 0h1m6 0h1m7 0h1m0 0h1m8 0h1m15 0h1m-97 1h1m58 0h1m0 0h1m14 0h1m1 0h1m2 0h1m0 0h1m2 0h1m0 0h1m-26 1h1m0 0h1m2 0h1m5 0h1m8 0h1m3 0h1m-84 1h1m70 0h1m-74 1h1m65 0h1m0 0h1m2 0h1m13 0h1m15 0h1m-38 1h1m0 0h1m0 0h1m1 0h1m-68 1h1m0 0h1m63 0h1m4 0h1m20 0h1m-22 1h1m8 0h1m14 0h1m-26 1h1m1 0h1m15 0h1m1 0h1m0 0h1m7 0h1m-104 1h1m76 0h1m0 0h1m0 0h1m1 0h1m0 0h1m3 0h1m0 0h1m4 0h1m24 0h1m-122 1h1m85 0h1m2 0h1m2 0h1m15 0h1m-25 1h1m2 0h1m0 0h1m1 0h1m1 0h1m1 0h1m-87 1h1m79 0h1m-1 1h1m16 0h1m-10 1h1m-9 1h1m5 0h1m5 0h1m-94 1h1m86 0h1m0 0h1m0 0h1m3 0h1m0 0h1m-97 1h1m0 0h1m82 0h1m3 0h1m2 0h1m-91 1h1m81 0h1m0 0h1m1 0h1m2 0h1m17 0h1m0 0h1m-27 1h1m0 0h1m5 0h1m10 0h1m9 0h1m-110 1h1m83 0h1m0 0h1m4 0h1m4 0h1m-12 1h1m8 0h1m1 0h1m1 0h1m-101 1h1m87 0h1m2 0h1m1 0h1m2 0h1m1 0h1m2 0h1m-101 1h1m86 0h1m0 0h1m1 0h1m4 0h1m-6 1h1m0 0h1m-5 1h1m1 0h1m4 0h1m-93 1h1m94 0h1m3 0h1m10 0h1m-114 1h1m2 0h1m85 0h1m2 0h1m2 0h1m2 0h1m3 0h1m5 0h1m-16 1h1m7 0h1m3 0h1m-105 1h1m97 0h1m1 0h1m-100 1h1m92 0h1m2 0h1m1 0h1m8 0h1m1 0h1m0 0h1m-112 1h1m107 0h1m-6 1h1m0 0h1m8 0h1m-19 1h1m1 0h1m0 0h1m-102 1h1m3 0h1m92 0h1m-96 1h1m95 0h1m26 0h1m-122 1h1m93 0h1m-1 1h1m2 0h1m2 0h1m4 0h1m-14 2h1m2 0h1m6 0h1m5 0h1m-15 1h1m0 0h1m2 1h1m6 0h1m2 0h1m-110 1h1m1 0h1m94 0h1m3 0h1m1 0h1m0 0h1m3 0h1m-14 1h1m0 0h1m0 0h1m-96 1h1m105 0h1m-107 1h1m95 0h1m3 0h1m2 0h1m3 0h1m-109 1h1m91 0h1m9 0h1m1 0h1m3 0h1m-109 1h1m90 0h1m4 0h1m0 0h1m3 0h1m1 0h1m3 0h1m0 0h1m-112 1h1m94 0h1m0 0h1m0 0h1m1 0h1m0 0h1m11 0h1m9 0h1m-29 1h1m1 0h1m5 0h1m21 0h1m-120 1h1m88 0h1m0 0h1m0 0h1m0 0h1m11 0h1m0 0h1m-18 1h1m3 0h1m-3 1h1m2 0h1m-4 1h1m-91 1h1m91 0h1m2 0h1m0 0h1m5 0h1m-103 1h1m92 0h1m2 0h1m-98 1h1m0 0h1m86 1h1m2 0h1m0 0h1m1 0h1m0 0h1m1 0h1m25 0h1m-28 1h1m10 0h1m5 0h1m-119 1h1m3 0h1m91 0h1m9 0h1m15 0h1m-119 1h1m92 0h1m3 0h1m9 0h1m-106 1h1m90 0h1m-92 1h1m91 0h1m8 0h1m-105 1h1m0 1h1m0 0h1m90 0h1m2 0h1m7 0h1m1 0h1m-107 1h1m91 0h1m1 0h1m6 0h1m-103 1h1m93 0h1m7 0h1m6 0h1m1 0h1m7 0h1m-19 1h1m-105 1h1m98 0h1m13 1h1m-122 1h1m1 0h1m102 1h1m19 0h1m-122 1h1m0 0h1m1 0h1m97 0h1m0 0h1m0 0h1m3 0h1m0 0h1m1 0h1m7 0h1m-121 1h1m1 0h1m3 0h1m95 0h1m2 0h1m1 0h1m1 0h1m5 0h1m-111 1h1m104 0h1m0 0h1m3 0h1m-116 1h1m3 0h1m0 0h1m98 0h1m1 0h1m1 0h1m1 0h1m-105 1h1m0 0h1m95 0h1m0 0h1m4 0h1m-7 1h1m4 0h1m-104 1h1m98 0h1m-100 1h1m1 0h1m97 0h1m0 0h1m0 0h1m-110 1h1m6 0h1m2 0h1m94 0h1m-99 1h1m3 0h1m92 0h1m0 0h1m0 0h1m2 0h1m0 0h1m-104 1h1m1 0h1m100 0h1m0 0h1m6 0h1m-118 1h1m6 0h1m0 0h1m0 0h1m0 0h1m91 0h1m3 0h1m7 0h1m-14 1h1m0 0h1m0 0h1m2 0h1m-99 1h1m97 0h1m8 0h1m5 0h1m0 0h1m-23 1h1m1 0h1m18 0h1m17 0h1m-128 1h1m1 0h1m83 0h1m14 0h1m0 0h1m-101 1h1m81 0h1m1 0h1m2 0h1m10 0h1m-98 1h1m79 0h1m3 0h1m0 0h1m2 0h1m4 0h1m5 0h1m-20 1h1m2 0h1m1 0h1m1 0h1m3 0h1m4 0h1m-100 1h1m4 0h1m79 0h1m0 0h1m0 0h1m7 0h1m-89 1h1m73 0h1m0 0h1m0 0h1m8 0h1m0 0h1m6 0h1m-19 1h1m2 0h1m-79 1h1m0 0h1m65 0h1m2 0h1m0 0h1m-4 1h1m29 0h1m2 0h1m-104 1h1m1 0h1m1 0h1m36 0h1m8 0h1m5 0h1m1 0h1m0 0h1m0 0h1m0 0h1m1 0h1m0 0h1m2 0h1m2 0h1m6 0h1m-35 1h1m0 0h1m4 0h1m2 0h1m1 0h1m3 0h1m0 0h1m2 0h1m0 0h1m1 0h1m0 0h1m7 0h1m1 0h1m19 0h1m-91 1h1m30 0h1m0 0h1m8 0h1m0 0h1m5 0h1m9 0h1m24 0h1m-87 1h1m3 0h1m1 0h1m39 0h1m0 0h1m3 0h1m1 0h1m7 0h1m31 0h1m-89 1h1m1 0h1m24 0h1m5 0h1m1 0h1m9 0h1m10 0h1m3 0h1m23 0h1m-65 1h1m1 0h1m2 0h1m16 0h1m2 0h1m11 0h1m-52 1h1m11 0h1m23 0h1m15 0h1m7 0h1m-64 1h1m0 0h1m5 0h1m3 0h1m41 0h1m0 0h1m-55 1h1m74 0h1m-9 3h1m-2 15h1" stroke="#403a86" stroke-opacity="0.68" stroke-width="1" fill="none"/>
<path d="M397 977.5h1m3 0h1m-5 1h1m0 0h1m1 0h1m0 0h1m0 0h1m-10 1h1m0 0h1m0 0h1m0 0h1m0 0h1m1 0h1m0 0h1m0 0h1m0 0h1m0 0h1m1 0h1m3 0h1m-20 1h1m0 0h1m0 0h1m0 0h1m0 0h1m0 0h1m0 0h1m0 0h1m0 0h1m1 0h1m0 0h1m1 0h1m0 0h1m0 0h1m0 0h1m0 0h1m0 0h1m-19 1h1m0 0h1m0 0h1m0 0h1m12 0h1m1 0h1m0 0h1m0 0h1m0 0h1m1 0h1m-27 1h1m0 0h1m0 0h1m1 0h1m16 0h1m0 0h1m1 0h1m0 0h1m1 0h1m14 0h1m-45 1h1m2 0h1m0 0h1m20 0h1m0 0h1m0 0h1m2 0h1m11 0h1m0 0h1m-47 1h1m0 0h1m0 0h1m1 0h1m0 0h1m0 0h1m22 0h1m1 0h1m2 0h1m-34 1h1m0 0h1m0 0h1m0 0h1m0 0h1m24 0h1m0 0h1m1 0h1m0 0h1m-36 1h1m1 0h1m0 0h1m0 0h1m0 0h1m25 0h1m0 0h1m1 0h1m1 0h1m-36 1h1m1 0h1m29 0h1m0 0h1m-34 1h1m0 0h1m1 0h1m28 0h1m1 0h1m0 0h1m0 0h1m3 0h1m1 0h1m0 0h1m2 0h1m-48 1h1m0 0h1m32 0h1m0 0h1m0 0h1m0 0h1m1 0h1m2 0h1m0 0h1m2 0h1m0 0h1m0 0h1m0 0h1m1 0h1m0 0h1m2 0h1m0 0h1m-56 1h1m0 0h1m0 0h1m31 0h1m0 0h1m0 0h1m1 0h1m0 0h1m0 0h1m0 0h1m0 0h1m1 0h1m0 0h1m0 0h1m1 0h1m5 0h1m0 0h1m0 0h1m-59 1h1m1 0h1m0 0h1m33 0h1m0 0h1m0 0h1m0 0h1m0 0h1m1 0h1m3 0h1m4 0h1m0 0h1m1 0h1m0 0h1m-57 1h1m1 0h1m34 0h1m0 0h1m0 0h1m0 0h1m2 0h1m1 0h1m0 0h1m1 0h1m1 0h1m1 0h1m2 0h1m0 0h1m-58 1h1m0 0h1m0 0h1m36 0h1m0 0h1m1 0h1m1 0h1m0 0h1m0 0h1m0 0h1m0 0h1m0 0h1m0 0h1m0 0h1m1 0h1m0 0h1m0 0h1m1 0h1m0 0h1m0 0h1m0 0h1m-60 1h1m0 0h1m0 0h1m35 0h1m0 0h1m2 0h1m0 0h1m0 0h1m0 0h1m0 0h1m0 0h1m2 0h1m0 0h1m0 0h1m0 0h1m0 0h1m0 0h1m0 0h1m3 0h1m-62 1h1m0 0h1m0 0h1m0 0h1m35 0h1m0 0h1m0 0h1m0 0h1m0 0h1m0 0h1m1 0h1m0 0h1m0 0h1m0 0h1m0 0h1m1 0h1m0 0h1m0 0h1m0 0h1m1 0h1m2 0h1m-61 1h1m0 0h1m0 0h1m37 0h1m0 0h1m0 0h1m0 0h1m0 0h1m0 0h1m1 0h1m0 0h1m0 0h1m1 0h1m0 0h1m0 0h1m0 0h1m0 0h1m0 0h1m0 0h1m0 0h1m0 0h1m0 0h1m1 0h1m3 0h1m-68 1h1m1 0h1m0 0h1m36 0h1m1 0h1m0 0h1m0 0h1m0 0h1m3 0h1m0 0h1m0 0h1m0 0h1m0 0h1m0 0h1m0 0h1m0 0h1m0 0h1m0 0h1m1 0h1m0 0h1m2 0h1m0 0h1m0 0h1m1 0h1m-69 1h1m0 0h1m0 0h1m39 0h1m0 0h1m0 0h1m2 0h1m0 0h1m0 0h1m0 0h1m0 0h1m0 0h1m0 0h1m0 0h1m0 0h1m0 0h1m1 0h1m0 0h1m0 0h1m0 0h1m2 0h1m0 0h1m1 0h1m0 0h1m-68 1h1m0 0h1m38 0h1m0 0h1m0 0h1m0 0h1m0 0h1m0 0h1m0 0h1m4 0h1m0 0h1m0 0h1m0 0h1m0 0h1m1 0h1m0 0h1m0 0h1m0 0h1m0 0h1m0 0h1m0 0h1m0 0h1m1 0h1m0 0h1m1 0h1m1 0h1m-74 1h1m1 0h1m0 0h1m39 0h1m0 0h1m0 0h1m0 0h1m0 0h1m0 0h1m0 0h1m0 0h1m0 0h1m0 0h1m1 0h1m0 0h1m0 0h1m0 0h1m0 0h1m0 0h1m1 0h1m0 0h1m0 0h1m2 0h1m1 0h1m1 0h1m2 0h1m1 0h1m-76 1h1m0 0h1m1 0h1m41 0h1m0 0h1m0 0h1m0 0h1m0 0h1m0 0h1m0 0h1m1 0h1m0 0h1m0 0h1m0 0h1m0 0h1m0 0h1m0 0h1m0 0h1m0 0h1m0 0h1m0 0h1m2 0h1m0 0h1m0 0h1m0 0h1m2 0h1m0 0h1m0 0h1m0 0h1m1 0h1m-78 1h1m1 0h1m41 0h1m0 0h1m0 0h1m2 0h1m1 0h1m0 0h1m0 0h1m0 0h1m0 0h1m0 0h1m0 0h1m0 0h1m0 0h1m0 0h1m0 0h1m0 0h1m0 0h1m1 0h1m0 0h1m0 0h1m0 0h1m0 0h1m0 0h1m1 0h1m0 0h1m0 0h1m2 0h1m0 0h1m-80 1h1m0 0h1m0 0h1m0 0h1m41 0h1m0 0h1m0 0h1m0 0h1m2 0h1m0 0h1m0 0h1m0 0h1m0 0h1m0 0h1m0 0h1m0 0h1m0 0h1m0 0h1m0 0h1m0 0h1m0 0h1m0 0h1m0 0h1m0 0h1m0 0h1m0 0h1m1 0h1m1 0h1m0 0h1m2 0h1m0 0h1m0 0h1m0 0h1m-78 1h1m0 0h1m41 0h1m0 0h1m0 0h1m1 0h1m0 0h1m1 0h1m0 0h1m0 0h1m0 0h1m0 0h1m0 0h1m1 0h1m0 0h1m0 0h1m0 0h1m0 0h1m1 0h1m0 0h1m0 0h1m0 0h1m0 0h1m0 0h1m0 0h1m2 0h1m3 0h1m-79 1h1m1 0h1m43 0h1m0 0h1m0 0h1m0 0h1m0 0h1m0 0h1m0 0h1m0 0h1m0 0h1m0 0h1m0 0h1m1 0h1m0 0h1m0 0h1m0 0h1m0 0h1m0 0h1m0 0h1m0 0h1m0 0h1m0 0h1m0 0h1m0 0h1m0 0h1m0 0h1m0 0h1m0 0h1m0 0h1m0 0h1m1 0h1m-77 1h1m1 0h1m41 0h1m0 0h1m0 0h1m0 0h1m0 0h1m0 0h1m0 0h1m0 0h1m0 0h1m0 0h1m0 0h1m0 0h1m0 0h1m0 0h1m0 0h1m0 0h1m0 0h1m1 0h1m0 0h1m0 0h1m0 0h1m0 0h1m2 0h1m0 0h1m2 0h1m0 0h1m1 0h1m-78 1h1m1 0h1m0 0h1m41 0h1m0 0h1m0 0h1m0 0h1m0 0h1m0 0h1m0 0h1m0 0h1m0 0h1m0 0h1m0 0h1m0 0h1m1 0h1m0 0h1m0 0h1m0 0h1m0 0h1m0 0h1m0 0h1m1 0h1m0 0h1m0 0h1m1 0h1m0 0h1m0 0h1m0 0h1m0 0h1m0 0h1m1 0h1m0 0h1m-78 1h1m0 0h1m42 0h1m0 0h1m0 0h1m0 0h1m0 0h1m0 0h1m0 0h1m0 0h1m0 0h1m0 0h1m1 0h1m0 0h1m0 0h1m0 0h1m0 0h1m0 0h1m0 0h1m0 0h1m0 0h1m2 0h1m0 0h1m1 0h1m0 0h1m0 0h1m0 0h1m3 0h1m-79 1h1m0 0h1m1 0h1m42 0h1m0 0h1m0 0h1m0 0h1m0 0h1m0 0h1m0 0h1m0 0h1m1 0h1m0 0h1m0 0h1m0 0h1m0 0h1m0 0h1m0 0h1m0 0h1m0 0h1m0 0h1m0 0h1m0 0h1m0 0h1m0 0h1m0 0h1m0 0h1m2 0h1m1 0h1m0 0h1m0 0h1m1 0h1m0 0h1m-80 1h1m0 0h1m0 0h1m43 0h1m0 0h1m0 0h1m0 0h1m0 0h1m0 0h1m0 0h1m0 0h1m0 0h1m0 0h1m0 0h1m0 0h1m0 0h1m0 0h1m1 0h1m0 0h1m0 0h1m0 0h1m0 0h1m0 0h1m0 0h1m0 0h1m0 0h1m1 0h1m0 0h1m1 0h1m1 0h1m0 0h1m0 0h1m-80 1h1m0 0h1m0 0h1m0 0h1m42 0h1m0 0h1m0 0h1m0 0h1m0 0h1m1 0h1m0 0h1m0 0h1m0 0h1m0 0h1m0 0h1m0 0h1m0 0h1m1 0h1m1 0h1m0 0h1m0 0h1m1 0h1m0 0h1m1 0h1m0 0h1m0 0h1m1 0h1m0 0h1m2 0h1m0 0h1m1 0h1m1 0h1m-83 1h1m0 0h1m0 0h1m43 0h1m0 0h1m0 0h1m0 0h1m1 0h1m0 0h1m0 0h1m0 0h1m0 0h1m0 0h1m0 0h1m0 0h1m0 0h1m0 0h1m0 0h1m1 0h1m0 0h1m0 0h1m0 0h1m0 0h1m2 0h1m0 0h1m0 0h1m1 0h1m1 0h1m0 0h1m0 0h1m0 0h1m0 0h1m0 0h1m-83 1h1m0 0h1m45 0h1m0 0h1m0 0h1m0 0h1m0 0h1m0 0h1m0 0h1m0 0h1m0 0h1m0 0h1m0 0h1m0 0h1m0 0h1m0 0h1m0 0h1m0 0h1m0 0h1m0 0h1m0 0h1m1 0h1m0 0h1m0 0h1m0 0h1m0 0h1m0 0h1m1 0h1m0 0h1m0 0h1m0 0h1m3 0h1m-80 1h1m45 0h1m0 0h1m0 0h1m0 0h1m0 0h1m0 0h1m0 0h1m0 0h1m0 0h1m0 0h1m0 0h1m1 0h1m0 0h1m0 0h1m0 0h1m0 0h1m0 0h1m0 0h1m0 0h1m0 0h1m1 0h1m0 0h1m0 0h1m0 0h1m0 0h1m0 0h1m0 0h1m0 0h1m1 0h1m0 0h1m0 0h1m0 0h1m0 0h1m0 0h1m-85 1h1m1 0h1m45 0h1m0 0h1m0 0h1m0 0h1m0 0h1m0 0h1m0 0h1m0 0h1m0 0h1m0 0h1m0 0h1m0 0h1m0 0h1m0 0h1m0 0h1m0 0h1m1 0h1m0 0h1m0 0h1m0 0h1m0 0h1m0 0h1m0 0h1m0 0h1m0 0h1m0 0h1m0 0h1m2 0h1m0 0h1m0 0h1m0 0h1m0 0h1m-82 1h1m0 0h1m46 0h1m0 0h1m0 0h1m0 0h1m0 0h1m0 0h1m0 0h1m0 0h1m0 0h1m0 0h1m2 0h1m0 0h1m0 0h1m0 0h1m0 0h1m0 0h1m0 0h1m0 0h1m0 0h1m0 0h1m0 0h1m1 0h1m0 0h1m0 0h1m1 0h1m0 0h1m0 0h1m0 0h1m0 0h1m0 0h1m0 0h1m1 0h1m1 0h1m0 0h1m-88 1h1m0 0h1m46 0h1m0 0h1m0 0h1m0 0h1m0 0h1m0 0h1m0 0h1m0 0h1m5 0h1m0 0h1m0 0h1m0 0h1m0 0h1m0 0h1m0 0h1m0 0h1m0 0h1m0 0h1m0 0h1m0 0h1m0 0h1m0 0h1m0 0h1m0 0h1m0 0h1m0 0h1m1 0h1m2 0h1m2 0h1m0 0h1m-88 1h1m0 0h1m45 0h1m0 0h1m0 0h1m0 0h1m0 0h1m0 0h1m0 0h1m0 0h1m6 0h1m0 0h1m0 0h1m0 0h1m0 0h1m0 0h1m0 0h1m0 0h1m0 0h1m0 0h1m0 0h1m0 0h1m0 0h1m1 0h1m0 0h1m0 0h1m1 0h1m0 0h1m0 0h1m0 0h1m2 0h1m0 0h1m0 0h1m0 0h1m-92 1h1m0 0h1m0 0h1m0 0h1m0 0h1m45 0h1m0 0h1m0 0h1m0 0h1m0 0h1m0 0h1m0 0h1m0 0h1m8 0h1m0 0h1m0 0h1m0 0h1m0 0h1m0 0h1m0 0h1m0 0h1m1 0h1m0 0h1m0 0h1m0 0h1m0 0h1m0 0h1m0 0h1m1 0h1m1 0h1m0 0h1m2 0h1m0 0h1m0 0h1m-90 1h1m0 0h1m0 0h1m45 0h1m1 0h1m0 0h1m0 0h1m0 0h1m0 0h1m9 0h1m0 0h1m0 0h1m0 0h1m0 0h1m0 0h1m0 0h1m0 0h1m0 0h1m0 0h1m0 0h1m0 0h1m0 0h1m0 0h1m0 0h1m0 0h1m0 0h1m1 0h1m0 0h1m1 0h1m1 0h1m0 0h1m0 0h1m-90 1h1m0 0h1m0 0h1m45 0h1m0 0h1m0 0h1m0 0h1m0 0h1m0 0h1m0 0h1m10 0h1m0 0h1m0 0h1m0 0h1m0 0h1m0 0h1m0 0h1m0 0h1m0 0h1m0 0h1m0 0h1m2 0h1m0 0h1m1 0h1m0 0h1m0 0h1m0 0h1m0 0h1m0 0h1m-88 1h1m0 0h1m0 0h1m0 0h1m47 0h1m0 0h1m0 0h1m0 0h1m0 0h1m11 0h1m0 0h1m1 0h1m0 0h1m1 0h1m0 0h1m0 0h1m0 0h1m0 0h1m0 0h1m0 0h1m0 0h1m0 0h1m0 0h1m0 0h1m1 0h1m0 0h1m0 0h1m1 0h1m-90 1h1m1 0h1m0 0h1m46 0h1m0 0h1m0 0h1m0 0h1m0 0h1m16 0h1m0 0h1m0 0h1m1 0h1m0 0h1m0 0h1m1 0h1m0 0h1m0 0h1m0 0h1m2 0h1m0 0h1m2 0h1m1 0h1m0 0h1m-92 1h1m1 0h1m45 0h1m0 0h1m0 0h1m0 0h1m0 0h1m0 0h1m13 0h1m0 0h1m0 0h1m0 0h1m0 0h1m0 0h1m0 0h1m0 0h1m0 0h1m0 0h1m0 0h1m0 0h1m1 0h1m0 0h1m0 0h1m0 0h1m0 0h1m0 0h1m0 0h1m1 0h1m1 0h1m-92 1h1m1 0h1m0 0h1m45 0h1m0 0h1m0 0h1m0 0h1m1 0h1m0 0h1m11 0h1m0 0h1m0 0h1m0 0h1m0 0h1m1 0h1m0 0h1m0 0h1m0 0h1m1 0h1m0 0h1m0 0h1m0 0h1m1 0h1m0 0h1m5 0h1m0 0h1m-92 1h1m0 0h1m0 0h1m0 0h1m45 0h1m0 0h1m0 0h1m0 0h1m1 0h1m0 0h1m0 0h1m9 0h1m0 0h1m0 0h1m0 0h1m0 0h1m0 0h1m0 0h1m0 0h1m0 0h1m0 0h1m1 0h1m0 0h1m0 0h1m0 0h1m2 0h1m1 0h1m0 0h1m1 0h1m0 0h1m0 0h1m-91 1h1m0 0h1m0 0h1m44 0h1m0 0h1m0 0h1m0 0h1m0 0h1m0 0h1m0 0h1m0 0h1m0 0h1m0 0h1m0 0h1m8 0h1m0 0h1m0 0h1m0 0h1m1 0h1m0 0h1m0 0h1m0 0h1m0 0h1m0 0h1m0 0h1m0 0h1m0 0h1m0 0h1m1 0h1m0 0h1m0 0h1m0 0h1m0 0h1m1 0h1m-89 1h1m1 0h1m45 0h1m0 0h1m0 0h1m0 0h1m0 0h1m0 0h1m0 0h1m1 0h1m0 0h1m9 0h1m0 0h1m0 0h1m0 0h1m0 0h1m1 0h1m0 0h1m0 0h1m0 0h1m0 0h1m0 0h1m0 0h1m0 0h1m0 0h1m0 0h1m0 0h1m0 0h1m0 0h1m0 0h1m4 0h1m-91 1h1m1 0h1m44 0h1m1 0h1m0 0h1m0 0h1m0 0h1m0 0h1m0 0h1m0 0h1m0 0h1m9 0h1m0 0h1m1 0h1m0 0h1m1 0h1m0 0h1m0 0h1m0 0h1m0 0h1m0 0h1m0 0h1m2 0h1m0 0h1m1 0h1m0 0h1m1 0h1m0 0h1m0 0h1m-90 1h1m1 0h1m44 0h1m0 0h1m0 0h1m0 0h1m0 0h1m1 0h1m1 0h1m0 0h1m10 0h1m1 0h1m0 0h1m0 0h1m0 0h1m0 0h1m0 0h1m0 0h1m0 0h1m0 0h1m0 0h1m1 0h1m0 0h1m0 0h1m1 0h1m1 0h1m0 0h1m0 0h1m0 0h1m0 0h1m0 0h1m-90 1h1m44 0h1m0 0h1m1 0h1m0 0h1m0 0h1m0 0h1m0 0h1m0 0h1m0 0h1m0 0h1m3 0h1m0 0h1m4 0h1m0 0h1m0 0h1m0 0h1m0 0h1m0 0h1m0 0h1m0 0h1m0 0h1m0 0h1m0 0h1m0 0h1m0 0h1m0 0h1m0 0h1m1 0h1m1 0h1m0 0h1m0 0h1m0 0h1m0 0h1m0 0h1m-89 1h1m44 0h1m0 0h1m0 0h1m0 0h1m0 0h1m0 0h1m0 0h1m0 0h1m0 0h1m0 0h1m0 0h1m0 0h1m0 0h1m0 0h1m0 0h1m0 0h1m0 0h1m0 0h1m0 0h1m0 0h1m1 0h1m0 0h1m0 0h1m2 0h1m1 0h1m1 0h1m1 0h1m0 0h1m0 0h1m1 0h1m1 0h1m0 0h1m3 0h1m-89 1h1m0 0h1m43 0h1m1 0h1m0 0h1m0 0h1m0 0h1m0 0h1m0 0h1m0 0h1m0 0h1m0 0h1m0 0h1m0 0h1m0 0h1m0 0h1m0 0h1m0 0h1m0 0h1m0 0h1m0 0h1m0 0h1m0 0h1m0 0h1m0 0h1m0 0h1m0 0h1m0 0h1m0 0h1m0 0h1m0 0h1m0 0h1m0 0h1m1 0h1m0 0h1m0 0h1m0 0h1m0 0h1m0 0h1m0 0h1m0 0h1m0 0h1m-89 1h1m0 0h1m0 0h1m0 0h1m43 0h1m0 0h1m0 0h1m0 0h1m1 0h1m0 0h1m0 0h1m0 0h1m1 0h1m0 0h1m0 0h1m0 0h1m0 0h1m0 0h1m0 0h1m0 0h1m0 0h1m0 0h1m0 0h1m0 0h1m0 0h1m0 0h1m0 0h1m0 0h1m0 0h1m0 0h1m0 0h1m0 0h1m0 0h1m0 0h1m0 0h1m0 0h1m5 0h1m1 0h1m-88 1h1m0 0h1m0 0h1m43 0h1m0 0h1m1 0h1m0 0h1m1 0h1m0 0h1m0 0h1m0 0h1m0 0h1m1 0h1m0 0h1m0 0h1m0 0h1m1 0h1m0 0h1m0 0h1m0 0h1m1 0h1m0 0h1m0 0h1m0 0h1m0 0h1m0 0h1m0 0h1m0 0h1m0 0h1m0 0h1m1 0h1m0 0h1m0 0h1m0 0h1m1 0h1m0 0h1m0 0h1m-86 1h1m0 0h1m43 0h1m0 0h1m0 0h1m0 0h1m0 0h1m0 0h1m0 0h1m0 0h1m0 0h1m0 0h1m0 0h1m0 0h1m0 0h1m0 0h1m0 0h1m0 0h1m0 0h1m0 0h1m0 0h1m0 0h1m0 0h1m0 0h1m0 0h1m0 0h1m0 0h1m0 0h1m0 0h1m0 0h1m0 0h1m0 0h1m0 0h1m0 0h1m1 0h1m1 0h1m0 0h1m0 0h1m0 0h1m-85 1h1m0 0h1m46 0h1m1 0h1m0 0h1m0 0h1m0 0h1m0 0h1m1 0h1m0 0h1m0 0h1m0 0h1m0 0h1m0 0h1m0 0h1m0 0h1m0 0h1m0 0h1m0 0h1m0 0h1m0 0h1m0 0h1m0 0h1m0 0h1m0 0h1m0 0h1m0 0h1m0 0h1m0 0h1m3 0h1m0 0h1m0 0h1m0 0h1m1 0h1m-86 1h1m0 0h1m0 0h1m43 0h1m0 0h1m0 0h1m1 0h1m0 0h1m0 0h1m0 0h1m0 0h1m0 0h1m0 0h1m0 0h1m0 0h1m0 0h1m0 0h1m0 0h1m0 0h1m0 0h1m0 0h1m0 0h1m0 0h1m0 0h1m0 0h1m0 0h1m0 0h1m0 0h1m0 0h1m0 0h1m1 0h1m0 0h1m0 0h1m0 0h1m0 0h1m0 0h1m0 0h1m2 0h1m-84 1h1m0 0h1m43 0h1m0 0h1m0 0h1m2 0h1m0 0h1m0 0h1m0 0h1m1 0h1m0 0h1m1 0h1m0 0h1m0 0h1m0 0h1m0 0h1m0 0h1m0 0h1m0 0h1m0 0h1m0 0h1m0 0h1m0 0h1m0 0h1m0 0h1m0 0h1m0 0h1m1 0h1m0 0h1m0 0h1m0 0h1m0 0h1m0 0h1m0 0h1m0 0h1m0 0h1m-84 1h1m0 0h1m43 0h1m0 0h1m0 0h1m1 0h1m0 0h1m0 0h1m0 0h1m1 0h1m0 0h1m0 0h1m0 0h1m0 0h1m0 0h1m1 0h1m0 0h1m0 0h1m0 0h1m0 0h1m0 0h1m0 0h1m0 0h1m1 0h1m0 0h1m1 0h1m0 0h1m0 0h1m0 0h1m1 0h1m0 0h1m2 0h1m1 0h1m-85 1h1m44 0h1m0 0h1m1 0h1m0 0h1m0 0h1m1 0h1m1 0h1m0 0h1m0 0h1m1 0h1m0 0h1m0 0h1m0 0h1m0 0h1m0 0h1m0 0h1m0 0h1m0 0h1m0 0h1m1 0h1m0 0h1m0 0h1m0 0h1m0 0h1m1 0h1m1 0h1m1 0h1m0 0h1m0 0h1m4 0h1m-88 1h1m0 0h1m44 0h1m1 0h1m1 0h1m0 0h1m0 0h1m0 0h1m0 0h1m0 0h1m0 0h1m0 0h1m0 0h1m0 0h1m0 0h1m0 0h1m0 0h1m0 0h1m0 0h1m0 0h1m0 0h1m0 0h1m0 0h1m0 0h1m0 0h1m0 0h1m0 0h1m0 0h1m0 0h1m0 0h1m0 0h1m0 0h1m0 0h1m0 0h1m0 0h1m0 0h1m2 0h1m0 0h1m0 0h1m-87 1h1m0 0h1m0 0h1m43 0h1m0 0h1m0 0h1m0 0h1m0 0h1m2 0h1m0 0h1m1 0h1m0 0h1m0 0h1m0 0h1m0 0h1m1 0h1m0 0h1m0 0h1m0 0h1m0 0h1m0 0h1m0 0h1m0 0h1m1 0h1m0 0h1m0 0h1m0 0h1m0 0h1m0 0h1m2 0h1m2 0h1m0 0h1m2 0h1m-41 1h1m0 0h1m0 0h1m2 0h1m0 0h1m0 0h1m0 0h1m0 0h1m0 0h1m0 0h1m0 0h1m0 0h1m0 0h1m0 0h1m0 0h1m0 0h1m0 0h1m0 0h1m1 0h1m0 0h1m0 0h1m0 0h1m0 0h1m0 0h1m0 0h1m0 0h1m0 0h1m0 0h1m1 0h1m1 0h1m0 0h1m0 0h1m2 0h1m0 0h1m-86 1h1m44 0h1m0 0h1m0 0h1m0 0h1m0 0h1m0 0h1m0 0h1m1 0h1m0 0h1m1 0h1m0 0h1m0 0h1m0 0h1m0 0h1m0 0h1m0 0h1m0 0h1m0 0h1m0 0h1m0 0h1m0 0h1m0 0h1m0 0h1m0 0h1m0 0h1m0 0h1m0 0h1m2 0h1m1 0h1m1 0h1m0 0h1m-81 1h1m43 0h1m1 0h1m0 0h1m0 0h1m0 0h1m0 0h1m0 0h1m0 0h1m0 0h1m0 0h1m0 0h1m0 0h1m0 0h1m0 0h1m0 0h1m0 0h1m1 0h1m0 0h1m0 0h1m1 0h1m0 0h1m1 0h1m0 0h1m0 0h1m1 0h1m0 0h1m0 0h1m0 0h1m0 0h1m-33 1h1m0 0h1m0 0h1m0 0h1m0 0h1m0 0h1m0 0h1m0 0h1m0 0h1m0 0h1m0 0h1m1 0h1m0 0h1m0 0h1m0 0h1m0 0h1m0 0h1m0 0h1m0 0h1m0 0h1m0 0h1m0 0h1m1 0h1m0 0h1m0 0h1m1 0h1m0 0h1m2 0h1m1 0h1m1 0h1m2 0h1m0 0h1m-88 1h1m0 0h1m0 0h1m44 0h1m0 0h1m0 0h1m0 0h1m0 0h1m0 0h1m0 0h1m0 0h1m0 0h1m0 0h1m0 0h1m0 0h1m0 0h1m0 0h1m2 0h1m0 0h1m0 0h1m0 0h1m0 0h1m0 0h1m0 0h1m0 0h1m0 0h1m1 0h1m0 0h1m0 0h1m0 0h1m0 0h1m4 0h1m2 0h1m0 0h1m0 0h1m-40 1h1m0 0h1m0 0h1m16 0h1m0 0h1m0 0h1m0 0h1m0 0h1m0 0h1m0 0h1m0 0h1m0 0h1m0 0h1m0 0h1m0 0h1m0 0h1m0 0h1m0 0h1m0 0h1m0 0h1m1 0h1m0 0h1m0 0h1m-87 1h1m0 0h1m66 0h1m0 0h1m0 0h1m0 0h1m0 0h1m0 0h1m0 0h1m0 0h1m0 0h1m0 0h1m0 0h1m1 0h1m1 0h1m0 0h1m1 0h1m0 0h1m1 0h1m-89 1h1m0 0h1m67 0h1m0 0h1m0 0h1m0 0h1m0 0h1m0 0h1m0 0h1m0 0h1m0 0h1m0 0h1m1 0h1m2 0h1m2 0h1m0 0h1m0 0h1m-91 1h1m0 0h1m71 0h1m0 0h1m0 0h1m1 0h1m0 0h1m0 0h1m1 0h1m0 0h1m0 0h1m0 0h1m-83 1h1m0 0h1m70 0h1m0 0h1m0 0h1m0 0h1m0 0h1m1 0h1m0 0h1m1 0h1m1 0h1m0 0h1m0 0h1m-90 1h1m76 0h1m1 0h1m0 0h1m0 0h1m0 0h1m1 0h1m0 0h1m0 0h1m0 0h1m1 0h1m0 0h1m-93 1h1m0 0h1m2 0h1m0 0h1m0 0h1m74 0h1m0 0h1m0 0h1m0 0h1m0 0h1m0 0h1m0 0h1m0 0h1m0 0h1m0 0h1m0 0h1m-92 1h1m1 0h1m1 0h1m0 0h1m74 0h1m0 0h1m1 0h1m0 0h1m0 0h1m0 0h1m0 0h1m1 0h1m0 0h1m1 0h1m-93 1h1m0 0h1m0 0h1m1 0h1m0 0h1m77 0h1m0 0h1m0 0h1m0 0h1m2 0h1m1 0h1m0 0h1m0 0h1m-95 1h1m0 0h1m0 0h1m0 0h1m0 0h1m0 0h1m0 0h1m75 0h1m0 0h1m0 0h1m1 0h1m0 0h1m0 0h1m0 0h1m1 0h1m1 0h1m0 0h1m-96 1h1m1 0h1m2 0h1m0 0h1m77 0h1m0 0h1m0 0h1m0 0h1m0 0h1m0 0h1m0 0h1m0 0h1m1 0h1m1 0h1m-96 1h1m2 0h1m0 0h1m0 0h1m0 0h1m77 0h1m0 0h1m0 0h1m0 0h1m0 0h1m0 0h1m0 0h1m0 0h1m1 0h1m-94 1h1m2 0h1m0 0h1m1 0h1m77 0h1m0 0h1m0 0h1m0 0h1m0 0h1m0 0h1m2 0h1m-92 1h1m0 0h1m1 0h1m0 0h1m0 0h1m77 0h1m0 0h1m0 0h1m0 0h1m0 0h1m0 0h1m0 0h1m0 0h1m0 0h1m0 0h1m-91 1h1m1 0h1m0 0h1m77 0h1m0 0h1m0 0h1m0 0h1m0 0h1m1 0h1m0 0h1m0 0h1m0 0h1m-93 1h1m1 0h1m0 0h1m0 0h1m0 0h1m77 0h1m0 0h1m0 0h1m0 0h1m1 0h1m0 0h1m0 0h1m0 0h1m1 0h1m-92 1h1m0 0h1m0 0h1m0 0h1m77 0h1m0 0h1m0 0h1m0 0h1m0 0h1m0 0h1m0 0h1m4 0h1m-93 1h1m1 0h1m0 0h1m78 0h1m1 0h1m0 0h1m0 0h1m0 0h1m0 0h1m0 0h1m0 0h1m0 0h1m-93 1h1m1 0h1m0 0h1m0 0h1m77 0h1m0 0h1m0 0h1m0 0h1m0 0h1m0 0h1m0 0h1m0 0h1m0 0h1m0 0h1m1 0h1m-94 1h1m1 0h1m1 0h1m0 0h1m76 0h1m0 0h1m1 0h1m0 0h1m1 0h1m0 0h1m2 0h1m-92 1h1m0 0h1m1 0h1m0 0h1m0 0h1m75 0h1m0 0h1m0 0h1m0 0h1m0 0h1m0 0h1m0 0h1m0 0h1m0 0h1m-88 1h1m0 0h1m0 0h1m0 0h1m74 0h1m0 0h1m1 0h1m0 0h1m0 0h1m1 0h1m-85 1h1m0 0h1m0 0h1m0 0h1m72 0h1m1 0h1m0 0h1m0 0h1m0 0h1m1 0h1m0 0h1m0 0h1m-86 1h1m1 0h1m0 0h1m0 0h1m70 0h1m0 0h1m1 0h1m0 0h1m0 0h1m0 0h1m0 0h1m0 0h1m0 0h1m-85 1h1m0 0h1m0 0h1m0 0h1m0 0h1m69 0h1m0 0h1m0 0h1m1 0h1m0 0h1m0 0h1m0 0h1m-81 1h1m0 0h1m0 0h1m0 0h1m0 0h1m0 0h1m64 0h1m0 0h1m0 0h1m0 0h1m0 0h1m0 0h1m1 0h1m0 0h1m0 0h1m0 0h1m1 0h1m-82 1h1m1 0h1m0 0h1m0 0h1m63 0h1m0 0h1m0 0h1m0 0h1m0 0h1m0 0h1m0 0h1m0 0h1m0 0h1m1 0h1m0 0h1m0 0h1m-80 1h1m0 0h1m0 0h1m0 0h1m0 0h1m60 0h1m0 0h1m0 0h1m0 0h1m0 0h1m1 0h1m1 0h1m0 0h1m0 0h1m-73 1h1m0 0h1m40 0h1m0 0h1m0 0h1m0 0h1m10 0h1m0 0h1m0 0h1m0 0h1m0 0h1m0 0h1m0 0h1m0 0h1m0 0h1m0 0h1m0 0h1m1 0h1m0 0h1m0 0h1m0 0h1m0 0h1m0 0h1m-75 1h1m0 0h1m1 0h1m34 0h1m0 0h1m0 0h1m0 0h1m0 0h1m1 0h1m0 0h1m0 0h1m0 0h1m0 0h1m0 0h1m0 0h1m0 0h1m0 0h1m0 0h1m0 0h1m0 0h1m0 0h1m0 0h1m0 0h1m0 0h1m0 0h1m0 0h1m1 0h1m0 0h1m1 0h1m0 0h1m1 0h1m0 0h1m0 0h1m1 0h1m0 0h1m-73 1h1m0 0h1m0 0h1m0 0h1m30 0h1m0 0h1m0 0h1m0 0h1m1 0h1m0 0h1m1 0h1m3 0h1m0 0h1m0 0h1m0 0h1m0 0h1m0 0h1m0 0h1m0 0h1m1 0h1m0 0h1m1 0h1m0 0h1m0 0h1m1 0h1m0 0h1m0 0h1m1 0h1m0 0h1m1 0h1m-70 1h1m1 0h1m0 0h1m28 0h1m0 0h1m0 0h1m0 0h1m0 0h1m1 0h1m0 0h1m0 0h1m0 0h1m0 0h1m1 0h1m0 0h1m0 0h1m0 0h1m0 0h1m2 0h1m0 0h1m2 0h1m0 0h1m0 0h1m1 0h1m0 0h1m0 0h1m0 0h1m2 0h1m0 0h1m1 0h1m0 0h1m1 0h1m-71 1h1m0 0h1m1 0h1m26 0h1m0 0h1m1 0h1m0 0h1m0 0h1m0 0h1m0 0h1m1 0h1m0 0h1m0 0h1m1 0h1m1 0h1m2 0h1m0 0h1m2 0h1m1 0h1m0 0h1m0 0h1m0 0h1m2 0h1m0 0h1m0 0h1m1 0h1m3 0h1m0 0h1m-70 1h1m0 0h1m0 0h1m0 0h1m0 0h1m24 0h1m0 0h1m0 0h1m0 0h1m0 0h1m2 0h1m1 0h1m0 0h1m1 0h1m4 0h1m0 0h1m0 0h1m1 0h1m0 0h1m5 0h1m0 0h1m-59 1h1m0 0h1m1 0h1m0 0h1m0 0h1m22 0h1m0 0h1m2 0h1m1 0h1m3 0h1m2 0h1m1 0h1m0 0h1m0 0h1m0 0h1m1 0h1m0 0h1m1 0h1m4 0h1m-57 1h1m0 0h1m2 0h1m0 0h1m0 0h1m19 0h1m1 0h1m0 0h1m2 0h1m7 0h1m2 0h1m5 0h1m-44 1h1m0 0h1m0 0h1m15 0h1m0 0h1m0 0h1m0 0h1m0 0h1m3 0h1m8 0h1m-39 1h1m2 0h1m0 0h1m0 0h1m0 0h1m11 0h1m0 0h1m1 0h1m0 0h1m0 0h1m0 0h1m0 0h1m0 0h1m-22 1h1m0 0h1m0 0h1m0 0h1m0 0h1m0 0h1m0 0h1m0 0h1m0 0h1m0 0h1m0 0h1m0 0h1m0 0h1m0 0h1m0 0h1m0 0h1m0 0h1m3 0h1m-23 1h1m4 0h1m2 0h1m1 0h1m0 0h1m0 0h1m0 0h1m1 0h1m0 0h1m-16 1h1m0 0h1m0 0h1m2 0h1m1 0h1m0 0h1m0 0h1m0 0h1m0 0h1m-5 1h1m0 0h1m1 0h1" stroke="#3a1c96" stroke-opacity="0.85" stroke-width="1" fill="none"/>
<path d="M434.5 1000.8 433.8 1002.8 434.2 1004.2 435.5 1003.8 435.8 1004.8 436.8 1004.8 437.8 1003.5 439.5 1003.8 439.2 1003.2 438.2 1003.8 437.2 1002.8 436.2 1003.5 434.5 1002.5 435.5 1001.5ZM405.2 979.8 403.2 980.8 402.5 979.8 400.8 979.8 399.5 981.2 398.5 979.8 397.8 980.8 396.5 980.2 393.2 981.8 392.2 981.2 385.5 987.5 384.8 989.8 383.5 991.2 383.5 994.2 382.2 995.2 382.5 996.2 379.8 1001.5 379.5 1004.2 380.2 1005.2 379.2 1005.5 379.5 1008.2 377.8 1009.5 378.5 1011.2 377.2 1015.2 378.2 1015.8 377.2 1016.8 378.2 1018.5 378.2 1021.2 376.8 1022.5 377.5 1023.2 377.2 1025.2 377.8 1025.2 378.8 1026.8 377.8 1028.2 378.5 1028.8 378.2 1031.8 378.8 1032.5 378.2 1032.8 378.2 1035.8 379.2 1036.5 378.2 1037.2 378.8 1037.8 378.2 1039.8 379.5 1041.5 378.8 1043.8 378.8 1047.5 379.5 1048.2 378.8 1049.2 379.5 1049.5 378.8 1050.2 378.2 1054.5 374.5 1059.2 375.8 1060.2 374.5 1063.2 375.8 1063.2 375.8 1063.8 374.8 1064.2 374.8 1065.5 376.5 1068.2 376.5 1069.8 378.5 1071.8 380.8 1072.5 380.5 1073.2 378.8 1073.2 379.5 1074.5 381.2 1075.2 381.8 1077.2 385.8 1079.5 384.8 1081.2 386.2 1080.8 387.2 1081.8 387.2 1083.2 389.5 1085.8 391.8 1086.2 394.2 1088.5 395.8 1088.5 396.5 1087.5 399.8 1089.2 401.2 1087.8 403.5 1088.8 404.2 1087.5 407.2 1087.5 409.2 1086.2 410.2 1086.8 409.8 1085.5 410.5 1084.8 412.5 1085.2 413.2 1083.2 414.2 1082.8 414.2 1081.8 415.8 1080.5 416.5 1080.8 417.5 1079.8 418.2 1080.8 418.8 1078.5 420.2 1079.5 421.5 1079.5 422.8 1078.5 423.2 1077.2 424.8 1079.8 425.8 1078.5 426.8 1078.5 427.2 1079.8 428.2 1079.2 429.8 1080.2 430.2 1079.2 432.5 1080.5 433.8 1079.2 434.5 1079.8 435.8 1078.8 437.5 1079.2 438.5 1078.2 439.2 1079.2 441.5 1079.5 443.8 1077.5 445.8 1078.2 449.5 1075.2 450.5 1075.2 451.5 1072.8 453.8 1072.5 455.5 1070.8 456.2 1071.2 457.8 1068.5 458.8 1069.2 460.2 1068.2 459.8 1067.2 459.2 1068.5 457.2 1068.2 456.8 1067.2 456.2 1067.8 455.5 1067.5 456.5 1065.5 457.5 1065.2 457.5 1064.2 455.5 1064.5 453.8 1063.5 455.8 1062.8 454.2 1061.2 455.2 1059.8 453.8 1060.5 453.5 1059.5 454.8 1058.2 456.5 1058.5 456.8 1057.8 455.8 1057.2 455.8 1056.2 455.8 1057.2 454.8 1057.8 454.2 1056.2 452.5 1057.2 450.8 1055.8 450.5 1054.8 452.2 1053.5 453.2 1054.2 451.2 1052.8 451.5 1050.2 450.5 1049.5 450.5 1050.5 449.5 1050.8 448.5 1050.5 447.5 1048.8 445.5 1049.2 444.8 1048.5 443.8 1049.2 443.2 1048.5 444.2 1047.5 445.8 1047.8 447.2 1045.5 446.8 1043.2 448.5 1041.2 449.5 1041.5 447.5 1040.5 447.5 1039.8 448.5 1039.5 448.5 1038.2 446.8 1038.2 446.5 1037.5 447.2 1036.8 448.2 1037.2 448.8 1035.2 447.8 1034.5 447.8 1033.8 449.2 1033.2 448.2 1032.2 450.5 1031.8 451.2 1030.5 449.2 1029.2 447.5 1030.5 445.8 1029.2 444.5 1030.2 443.5 1029.2 442.5 1029.5 442.8 1028.2 441.8 1027.5 442.5 1026.8 443.5 1027.2 444.5 1028.5 444.2 1026.8 447.2 1025.2 448.5 1026.5 447.5 1028.8 448.8 1028.5 449.2 1026.2 451.2 1027.8 452.5 1026.5 453.5 1026.5 451.5 1021.5 450.2 1021.2 449.8 1022.2 448.5 1022.2 448.2 1020.5 446.5 1019.8 447.8 1017.2 448.5 1019.5 450.2 1018.5 450.2 1017.2 447.8 1015.5 446.2 1016.8 445.2 1015.5 446.5 1012.5 443.8 1010.8 442.8 1011.2 442.5 1009.8 441.5 1010.5 439.5 1009.8 439.5 1007.2 437.8 1008.8 437.2 1007.8 438.5 1006.5 438.2 1005.8 436.5 1005.8 437.2 1007.2 436.2 1009.2 434.2 1008.8 433.5 1006.8 434.5 1005.5 432.8 1004.8 430.8 1005.2 430.2 1004.2 431.2 1002.5 432.2 1003.5 432.8 1003.2 431.8 1001.8 432.8 1000.8 431.2 1001.2 430.5 1003.2 429.2 1002.5 429.8 1003.5 429.8 1005.2 429.2 1005.8 426.5 1005.5 427.2 1007.2 428.8 1005.8 430.8 1007.5 429.8 1008.2 428.2 1007.8 428.2 1009.5 426.8 1008.2 426.5 1010.2 424.5 1009.5 423.5 1007.2 424.8 1006.8 424.8 1006.2 423.8 1006.8 422.8 1005.8 423.2 1004.8 421.8 1004.5 421.2 1003.2 423.2 1002.8 423.8 1003.5 424.8 1003.2 424.8 1002.5 423.2 1002.5 422.5 1001.8 422.2 1000.2 422.8 999.5 421.2 999.2 420.2 997.8 421.2 996.5 419.5 995.5 418.8 997.5 417.8 996.8 418.5 995.2 417.5 993.8 418.5 993.2 418.2 991.8 418.8 990.8 416.8 990.8 416.8 989.8 413.5 987.2 413.2 985.5 411.5 985.2 412.2 984.5 411.5 983.2 410.2 984.2 410.2 982.8 409.2 981.5 409.2 982.8 408.5 983.2 407.8 981.5 405.8 980.8ZM435.8 1038.5 436.5 1038.2 437.8 1039.2 436.2 1041.2 437.8 1041.2 438.5 1039.5 440.2 1042.5 441.2 1041.8 443.5 1041.8 443.8 1039.2 444.8 1040.2 445.8 1039.8 447.2 1041.8 444.8 1043.2 446.2 1043.5 445.5 1045.8 443.5 1047.2 443.5 1045.2 444.5 1044.2 443.2 1044.5 442.2 1043.2 442.5 1046.5 441.2 1046.8 440.8 1046.2 437.5 1047.8 437.5 1046.8 439.5 1044.8 440.2 1045.5 440.8 1045.2 440.8 1043.5 438.8 1043.2 439.2 1044.5 436.8 1043.5 437.2 1044.5 436.5 1044.8 435.5 1043.5 435.5 1041.2 434.8 1040.8ZM442.8 1035.2 443.5 1036.2 442.8 1036.8 441.2 1036.8 442.8 1038.2 441.2 1037.8 441.5 1038.5 440.2 1038.8 439.8 1037.8 440.5 1036.5ZM425.2 1028.5 425.8 1028.8 425.5 1031.5 427.8 1032.8 427.5 1033.5 429.8 1032.8 431.2 1033.8 432.2 1033.5 432.8 1032.2 433.5 1033.5 432.2 1034.8 433.8 1034.8 432.8 1035.8 433.8 1036.8 432.2 1037.8 432.8 1038.8 433.5 1038.2 434.8 1040.2 434.5 1041.5 434.2 1040.8 432.8 1041.2 433.2 1042.2 434.5 1042.2 433.2 1043.2 434.5 1045.8 433.5 1046.8 432.2 1045.8 431.8 1046.8 432.5 1048.2 430.8 1049.2 429.8 1048.5 429.8 1047.8 430.8 1047.5 430.5 1046.8 428.5 1048.5 427.8 1048.2 428.2 1047.2 427.2 1047.2 427.2 1048.5 425.8 1048.2 424.8 1045.2 423.2 1043.8 423.5 1042.8 422.5 1040.8 423.5 1040.2 423.5 1039.2 422.5 1037.5 423.5 1036.8 422.5 1036.2 422.5 1035.2 423.2 1034.5 422.8 1033.8 424.2 1032.8 423.5 1032.2 423.8 1029.8ZM428.8 1025.8 430.2 1025.8 431.5 1026.8 430.5 1027.5 430.5 1029.2 429.2 1028.8ZM434.5 1013.8 435.5 1013.5 438.2 1016.2 440.5 1015.5 441.2 1016.8 440.5 1017.5 439.2 1016.8 438.2 1017.8 435.8 1016.2ZM443.2 1011.8 445.5 1013.2 443.8 1013.8 443.8 1014.5 444.8 1014.5 444.8 1016.2 442.5 1014.8ZM433.5 1011.8 434.2 1012.8 431.8 1015.2 430.8 1012.5 431.8 1012.2 432.5 1013.5 432.5 1012.2ZM423.2 1014.2 424.8 1013.5 424.8 1012.5 425.8 1011.8 426.5 1012.5 425.8 1013.8 427.2 1013.8 428.8 1016.2 426.2 1016.5 424.2 1015.8ZM438.2 1009.2 439.2 1010.5 437.8 1012.8 439.5 1012.8 439.5 1013.5 438.5 1013.8 439.5 1014.8 438.8 1015.8 435.8 1013.2 436.2 1010.8 437.8 1010.5Z" fill="#321e9e" fill-rule="evenodd"/>
<path d="M401.5 981.5 397.5 983.2 396.8 981.8 394.8 983.5 393.8 982.5 393.2 982.5 392.5 983.8 391.2 983.5 390.2 985.5 388.5 986.2 386.5 988.5 385.8 990.5 384.5 991.8 384.5 994.2 383.2 995.8 382.5 1001.2 380.8 1003.8 381.5 1006.8 380.2 1007.5 380.5 1008.2 379.5 1009.2 380.5 1010.5 379.5 1011.5 379.5 1013.8 380.5 1014.8 378.8 1015.5 378.8 1020.5 379.8 1022.2 378.5 1023.2 379.2 1028.8 379.8 1029.2 379.2 1032.2 380.5 1032.8 379.5 1035.2 380.8 1036.5 379.8 1037.8 380.8 1040.8 380.2 1042.5 380.5 1048.8 381.5 1049.5 380.2 1050.2 380.8 1051.2 379.8 1053.2 380.2 1054.2 378.8 1054.8 378.5 1055.8 379.2 1056.5 380.5 1056.2 381.2 1057.2 379.5 1058.5 378.2 1058.2 377.2 1059.5 376.2 1059.5 376.2 1060.2 377.5 1059.5 378.5 1060.5 377.8 1061.5 376.8 1061.5 376.2 1062.8 376.8 1066.2 378.2 1066.8 377.8 1067.8 379.2 1067.8 378.8 1068.8 380.2 1069.8 379.8 1071.2 382.5 1073.2 381.5 1074.2 382.2 1074.8 382.8 1074.2 383.5 1074.5 383.2 1075.2 384.2 1077.5 386.5 1079.2 386.2 1080.2 388.8 1083.2 390.5 1083.2 390.5 1084.8 392.5 1084.8 393.2 1086.5 394.2 1086.5 394.8 1085.5 395.2 1086.5 399.5 1085.8 400.2 1087.5 402.2 1086.2 403.2 1087.2 404.5 1086.8 407.8 1084.2 408.2 1084.8 410.5 1084.2 411.5 1083.2 411.2 1082.2 412.2 1081.2 414.2 1080.8 415.2 1078.5 416.2 1079.5 418.2 1077.5 418.5 1078.2 420.5 1078.2 421.2 1076.8 422.2 1076.8 424.2 1075.2 425.8 1074.8 426.5 1075.8 428.5 1075.5 431.2 1076.5 434.8 1075.8 436.8 1077.2 436.8 1078.2 437.5 1078.2 437.5 1075.2 440.2 1076.5 441.5 1074.8 444.5 1076.5 443.8 1075.8 444.5 1074.5 446.5 1073.2 447.8 1073.8 449.2 1071.5 451.2 1070.5 450.8 1068.5 450.2 1068.2 450.8 1067.2 450.2 1064.8 451.2 1063.5 451.8 1065.8 451.5 1063.2 452.5 1062.5 450.2 1061.5 450.8 1059.8 451.8 1059.5 451.5 1057.5 450.5 1056.8 449.8 1057.8 448.5 1057.8 447.8 1056.2 446.8 1056.5 446.2 1055.5 447.2 1052.5 445.8 1053.8 444.5 1052.5 444.2 1050.5 442.2 1051.8 439.5 1050.8 438.8 1051.8 437.2 1052.2 437.2 1050.2 433.2 1051.2 431.5 1049.8 432.2 1050.8 431.8 1051.5 430.5 1050.8 428.8 1051.5 427.8 1050.2 427.5 1051.5 428.2 1051.8 427.5 1053.2 426.5 1052.5 424.2 1052.8 422.8 1051.5 423.2 1049.8 424.2 1049.5 423.2 1047.8 421.5 1048.8 420.2 1046.2 421.5 1045.2 420.8 1043.8 421.5 1041.5 420.5 1041.5 420.2 1040.5 421.2 1039.8 420.5 1036.8 421.8 1035.8 421.2 1034.5 421.8 1031.5 419.8 1030.5 420.2 1029.5 421.2 1029.5 421.2 1027.2 420.2 1027.5 419.5 1026.8 421.2 1025.8 420.8 1024.5 421.8 1022.8 423.8 1022.5 422.2 1021.2 422.5 1019.2 421.2 1020.8 420.5 1020.2 421.8 1017.2 421.5 1016.2 422.2 1015.5 422.8 1015.8 422.5 1014.5 420.8 1015.2 420.2 1013.5 422.2 1011.5 420.5 1009.2 420.8 1006.8 420.2 1006.2 420.8 1005.5 419.8 1005.2 419.8 1003.2 419.2 1003.5 418.5 1002.8 418.8 1001.2 417.8 999.2 418.5 998.2 416.5 996.8 417.5 994.8 416.2 992.5 416.2 990.5 414.8 990.5 413.5 987.8 411.8 987.5 409.2 983.8 407.2 982.5 406.2 982.5 405.5 983.5 404.8 982.2 402.2 982.2Z" fill="#2832c8" fill-rule="evenodd"/>
<path d="M398.5 983.5 397.8 984.8 395.8 985.5 394.8 986.8 392.8 985.2 393.2 986.5 392.5 987.2 391.2 986.2 391.8 987.5 391.2 988.2 389.5 988.2 388.8 987.5 387.5 988.5 388.2 989.2 387.8 991.2 387.2 991.5 387.8 993.5 386.2 993.5 386.5 995.5 384.8 995.2 386.2 998.2 384.8 998.5 385.2 999.5 384.2 1000.5 384.5 1002.5 382.8 1003.5 383.5 1006.2 382.5 1008.5 381.2 1008.8 382.2 1010.2 380.5 1013.2 382.2 1018.5 381.5 1019.2 380.5 1018.8 380.5 1019.5 382.2 1020.5 381.2 1021.2 381.5 1022.2 380.2 1023.2 381.5 1024.2 381.8 1026.2 381.2 1027.2 382.2 1028.2 380.8 1028.8 381.8 1031.5 380.5 1032.2 381.5 1032.8 381.2 1034.2 382.8 1034.8 381.5 1035.8 381.8 1037.8 381.2 1038.8 382.2 1039.2 381.5 1040.2 382.2 1041.2 381.5 1043.2 382.5 1041.8 383.5 1042.5 381.8 1045.2 381.8 1046.8 383.5 1047.8 383.5 1049.8 381.8 1051.8 383.2 1052.5 382.2 1054.8 383.2 1055.8 384.5 1055.5 385.2 1056.5 382.8 1056.5 380.5 1058.5 380.8 1061.5 379.2 1063.2 380.2 1064.2 379.2 1066.2 380.5 1066.8 381.8 1070.8 383.5 1071.2 383.2 1072.2 384.8 1074.2 384.5 1075.5 384.8 1075.8 385.5 1074.8 385.5 1076.2 386.5 1076.2 387.8 1077.5 388.2 1080.5 389.5 1080.2 389.8 1081.8 391.2 1080.8 391.8 1082.5 393.2 1082.8 392.8 1083.5 393.5 1084.2 396.8 1083.8 398.2 1084.8 399.5 1084.2 401.5 1085.5 401.5 1084.8 404.2 1082.8 404.8 1081.2 406.2 1082.8 407.5 1082.8 407.8 1081.5 408.8 1082.2 411.2 1080.8 411.2 1078.5 413.8 1078.5 414.5 1076.5 416.8 1075.5 417.5 1072.8 418.8 1074.5 419.5 1074.2 418.8 1073.5 419.2 1072.8 420.2 1073.2 421.5 1072.2 423.2 1073.5 424.8 1073.2 425.8 1073.8 424.8 1072.2 424.8 1071.2 425.8 1070.5 426.5 1072.2 428.5 1072.2 429.5 1071.2 431.2 1071.5 432.5 1073.5 435.2 1073.2 436.2 1073.8 437.8 1072.5 439.5 1074.8 440.8 1072.8 439.8 1071.5 442.8 1070.8 442.5 1070.2 444.2 1069.2 444.2 1067.5 445.5 1066.2 445.5 1064.8 447.5 1065.5 446.8 1064.2 447.5 1062.8 446.8 1062.2 447.2 1061.2 446.2 1061.8 445.8 1060.8 443.8 1059.8 444.8 1058.8 443.2 1057.2 443.8 1056.2 442.2 1056.8 442.2 1057.5 444.2 1058.2 442.8 1062.2 441.8 1058.5 439.8 1058.8 441.2 1055.5 440.5 1055.5 440.5 1056.8 439.2 1057.8 438.8 1056.8 437.5 1056.8 436.5 1055.2 435.8 1056.5 436.2 1057.5 435.5 1057.8 434.8 1056.2 433.8 1056.5 431.8 1054.8 431.2 1054.8 431.5 1056.2 429.8 1056.2 429.5 1054.5 428.5 1054.5 429.5 1056.2 429.2 1056.8 427.5 1055.5 426.5 1056.5 426.2 1055.5 423.8 1054.8 424.5 1056.2 423.5 1058.5 422.8 1058.2 423.2 1055.5 422.2 1054.8 422.5 1053.8 422.5 1055.5 421.8 1056.2 421.5 1055.5 419.8 1055.5 421.5 1053.2 418.8 1052.8 418.8 1050.2 419.5 1049.8 418.8 1048.5 417.8 1048.5 417.8 1047.8 419.2 1047.2 418.2 1045.8 418.8 1043.5 418.2 1038.2 419.5 1037.2 419.2 1035.8 417.8 1035.2 419.2 1031.5 418.2 1029.8 419.2 1029.2 418.2 1028.5 417.5 1026.5 418.8 1025.8 419.8 1022.8 419.8 1020.2 418.8 1020.8 417.8 1019.2 418.2 1018.5 419.5 1018.5 418.5 1017.8 419.2 1016.8 419.2 1013.5 418.2 1012.5 418.5 1011.5 417.5 1010.8 418.5 1008.8 417.8 1009.5 417.2 1008.8 418.8 1007.2 418.5 1005.8 417.5 1006.2 416.8 1004.8 418.2 1004.2 417.8 1001.8 417.2 1001.2 417.5 1002.2 416.2 1002.8 414.5 1001.2 414.8 1000.5 416.5 1000.8 416.5 1000.2 415.5 1000.2 415.8 997.5 414.2 996.8 414.2 994.2 412.5 992.5 413.2 991.2 412.2 991.5 411.2 990.5 410.2 986.8 403.8 984.2 400.8 985.2Z" fill="#1e78d7" fill-rule="evenodd"/>
<path d="M396.8 985.8 395.8 987.2 392.8 988.2 393.2 988.8 390.5 990.8 388.2 994.8 388.8 996.2 386.5 997.2 386.5 1000.8 385.2 1002.2 385.5 1003.8 384.2 1004.2 384.2 1006.2 383.5 1006.8 383.8 1008.5 382.5 1010.8 382.5 1013.8 383.8 1014.8 383.5 1016.2 382.5 1015.5 383.2 1016.5 382.5 1017.5 383.2 1018.8 383.2 1024.2 382.5 1025.2 383.5 1025.8 382.8 1027.2 383.8 1031.8 382.8 1032.8 383.5 1035.8 383.2 1038.2 384.5 1038.8 383.5 1039.8 384.2 1040.8 383.5 1041.5 385.2 1042.8 384.2 1044.2 384.8 1045.2 383.8 1045.8 384.5 1047.2 383.8 1049.5 385.5 1050.8 383.8 1052.2 383.5 1054.5 385.2 1056.5 383.5 1057.5 383.8 1058.2 382.5 1059.2 382.8 1060.8 381.8 1062.2 381.8 1066.8 383.2 1068.2 382.8 1069.5 384.5 1070.8 384.2 1072.2 385.5 1072.8 386.2 1074.5 388.2 1075.5 387.8 1076.2 390.2 1077.2 390.5 1078.5 392.2 1079.2 391.8 1080.5 397.5 1082.8 398.8 1082.8 400.2 1081.8 401.2 1083.2 402.2 1083.2 404.8 1080.8 406.2 1081.8 409.2 1080.5 409.5 1077.8 410.5 1078.2 411.8 1076.8 412.5 1077.2 412.5 1075.8 414.8 1075.5 413.8 1074.8 414.5 1073.8 416.5 1073.8 416.8 1072.5 417.8 1071.8 418.8 1072.5 418.2 1071.5 420.5 1071.2 421.5 1069.8 424.5 1070.2 426.2 1068.8 427.8 1068.8 427.8 1069.8 429.2 1070.8 431.8 1069.5 432.8 1070.2 433.5 1069.5 434.5 1070.8 434.8 1069.2 436.2 1069.8 438.2 1069.2 437.8 1068.5 436.8 1069.2 435.5 1068.5 437.2 1067.5 436.5 1066.5 437.2 1065.2 439.8 1065.2 439.8 1064.5 438.8 1064.5 438.2 1063.5 439.5 1062.8 439.8 1060.8 438.8 1061.2 437.5 1058.8 436.8 1061.8 436.2 1062.2 435.5 1061.5 435.8 1060.8 434.8 1061.2 434.2 1059.8 435.5 1059.2 434.8 1058.8 431.8 1059.8 432.5 1060.8 430.2 1062.2 429.5 1061.2 429.8 1060.2 431.2 1059.5 431.2 1058.5 428.2 1059.8 427.5 1059.2 428.5 1058.5 426.8 1059.2 425.8 1058.5 423.2 1059.2 421.8 1057.5 420.5 1057.5 419.2 1054.5 418.8 1055.2 417.5 1054.5 417.5 1051.2 416.2 1050.5 415.8 1046.5 417.2 1044.5 417.2 1040.8 416.5 1039.8 417.5 1039.2 416.2 1038.2 417.2 1035.5 416.8 1032.2 416.2 1031.8 416.5 1030.5 415.8 1029.8 416.2 1028.8 416.8 1029.8 417.5 1028.8 417.2 1027.5 415.8 1026.5 416.8 1024.5 416.2 1021.8 417.5 1021.8 416.8 1019.8 417.2 1016.2 416.2 1015.5 417.2 1011.8 416.5 1011.2 416.8 1010.2 415.8 1009.8 416.2 1007.2 414.5 1006.5 415.5 1006.2 415.5 1004.8 414.5 1003.8 414.8 1002.5 414.2 1001.8 413.8 998.2 412.5 997.2 413.2 996.5 411.2 994.2 410.8 992.5 411.5 991.8 408.5 988.8 407.2 989.2 406.2 987.2 404.5 986.2 402.2 985.8 401.5 986.5 398.8 986.5Z" fill="#1ea5d2" fill-rule="evenodd"/>
<path d="M399.5 989.5 398.5 990.5 396.5 989.8 393.8 991.2 394.2 992.2 391.8 994.8 391.5 997.2 389.8 998.2 389.8 999.5 389.2 999.8 390.2 1000.2 389.5 1000.8 390.2 1002.5 388.5 1002.5 388.8 1004.5 386.8 1004.5 387.2 1005.5 385.2 1008.5 385.8 1011.5 384.8 1012.2 385.5 1013.5 384.8 1014.8 385.2 1017.5 386.5 1019.5 384.8 1020.8 384.5 1023.5 386.2 1023.8 386.2 1024.8 384.8 1025.5 385.8 1025.2 386.8 1026.8 385.2 1028.8 385.5 1029.8 386.8 1029.8 386.8 1030.5 385.5 1031.2 386.2 1032.5 385.2 1033.2 386.5 1034.8 385.5 1035.8 386.2 1036.8 385.5 1037.5 387.2 1039.5 387.2 1042.5 388.2 1043.5 386.2 1046.5 387.5 1045.8 388.5 1046.5 387.8 1047.5 388.5 1049.2 387.5 1049.8 386.8 1052.8 387.8 1053.5 387.8 1055.2 385.2 1057.5 386.2 1059.8 384.2 1064.8 386.2 1067.5 385.2 1068.2 386.5 1069.2 386.2 1070.2 388.2 1072.5 389.5 1072.2 389.5 1074.8 390.5 1075.5 391.8 1074.8 394.5 1077.8 395.5 1077.5 400.5 1080.2 401.2 1079.2 403.5 1079.5 403.8 1078.8 407.2 1078.5 407.5 1077.2 409.8 1074.8 413.2 1073.2 414.2 1071.8 415.2 1071.8 415.8 1069.8 417.2 1069.8 418.2 1068.5 417.8 1067.8 421.8 1065.2 423.5 1062.8 422.2 1062.2 420.8 1063.8 419.5 1061.8 420.8 1061.2 420.5 1060.5 419.2 1061.2 418.2 1060.8 418.2 1058.8 416.2 1057.5 416.8 1056.2 415.5 1056.2 415.5 1054.5 414.5 1054.5 414.2 1052.8 412.8 1052.2 413.5 1049.2 412.5 1047.5 413.2 1046.8 412.2 1046.5 412.8 1045.5 411.8 1044.8 412.5 1044.2 413.2 1044.5 413.8 1042.5 412.5 1040.8 412.5 1037.8 413.8 1035.8 412.5 1034.8 413.2 1034.2 412.8 1033.2 414.5 1032.2 413.2 1031.5 413.5 1029.8 412.2 1028.8 412.8 1027.8 412.2 1026.8 413.5 1026.5 413.8 1025.5 412.8 1023.5 413.5 1021.8 413.2 1020.8 414.5 1020.8 414.2 1019.8 412.5 1018.8 413.8 1017.5 412.2 1014.5 413.5 1011.8 413.2 1010.8 412.2 1010.8 412.5 1009.5 411.5 1008.2 412.5 1006.8 412.5 1005.2 410.8 1005.2 409.8 1004.2 410.2 1003.2 410.8 1004.2 411.5 1003.2 410.5 1000.5 410.8 999.2 407.8 994.8 408.2 994.2 407.5 993.2 407.2 994.2 406.5 993.5 406.8 992.5 404.5 989.8 404.2 990.8 402.5 990.8 401.2 989.8 400.8 990.8 401.5 991.8 400.5 992.2 399.5 991.2Z" fill="#24b478" fill-rule="evenodd"/>
<path d="M400.2 993.2 401.2 993.8 398.5 996.2 396.5 995.2 396.8 994.2 395.8 994.5 395.5 997.5 392.8 998.8 393.5 999.5 392.8 1002.5 391.2 1003.2 389.2 1006.2 388.5 1005.8 388.8 1008.8 388.2 1009.8 387.2 1009.5 387.8 1010.2 387.5 1010.8 386.5 1010.8 387.2 1012.5 386.8 1013.8 388.2 1015.5 388.2 1016.2 387.2 1016.5 387.8 1017.8 387.2 1019.5 387.8 1019.8 387.5 1021.2 388.2 1022.2 386.5 1022.5 387.5 1023.8 386.8 1026.2 388.2 1028.2 387.5 1028.8 386.5 1028.2 388.2 1030.5 387.2 1032.8 388.2 1036.2 388.8 1036.5 388.8 1039.5 390.2 1042.2 389.8 1043.5 390.8 1043.2 391.5 1041.8 392.5 1041.8 392.8 1042.5 391.8 1044.2 393.5 1045.2 391.8 1045.5 392.5 1046.5 392.2 1047.8 390.8 1046.8 390.8 1048.2 392.2 1048.8 391.2 1051.5 391.5 1053.2 389.2 1052.5 389.5 1054.5 390.8 1055.5 390.2 1056.2 389.5 1055.5 388.5 1055.8 388.8 1056.5 388.2 1057.2 387.2 1056.8 387.8 1058.8 387.5 1060.8 386.5 1061.5 387.2 1061.8 386.2 1062.2 386.8 1063.5 386.2 1066.2 387.2 1066.5 386.8 1068.5 388.2 1069.5 387.8 1070.5 390.2 1070.8 390.8 1073.8 391.5 1072.8 393.2 1074.2 394.2 1073.8 394.2 1075.8 396.2 1075.5 396.5 1076.2 398.5 1076.2 399.8 1077.5 401.8 1076.5 402.8 1078.2 403.5 1076.5 404.8 1077.2 405.2 1075.5 407.2 1075.8 406.2 1075.2 406.5 1074.5 408.2 1074.5 407.8 1073.8 408.5 1073.2 410.8 1072.5 416.5 1067.8 415.8 1066.5 417.5 1066.5 417.8 1064.8 417.2 1065.5 416.2 1063.5 417.5 1063.5 417.5 1061.5 415.5 1060.5 415.2 1058.2 412.8 1054.2 412.8 1055.2 411.5 1055.5 411.2 1052.5 411.8 1052.2 410.5 1051.8 409.5 1052.8 407.5 1051.5 409.5 1051.2 409.5 1050.2 407.8 1050.2 407.8 1047.5 408.5 1046.5 409.2 1046.8 409.2 1044.8 408.5 1045.5 407.5 1045.2 407.5 1042.5 406.8 1042.5 405.8 1044.5 403.8 1043.8 404.2 1043.2 405.8 1043.5 405.8 1041.5 408.2 1039.5 409.5 1039.8 411.2 1038.8 409.5 1036.2 410.2 1035.2 409.5 1033.5 410.5 1033.5 410.8 1031.2 411.5 1030.8 410.2 1030.2 410.5 1029.2 409.5 1028.5 410.8 1027.2 410.8 1025.8 410.2 1027.2 409.2 1026.2 410.8 1024.2 412.2 1025.8 412.2 1022.5 410.5 1020.8 410.8 1019.2 411.5 1019.2 412.2 1017.8 410.2 1017.2 410.5 1016.2 409.5 1015.5 410.5 1013.8 411.2 1014.5 411.2 1013.5 409.5 1011.8 409.5 1010.2 410.2 1009.8 409.5 1007.8 410.2 1007.2 406.5 1006.8 408.2 1004.8 408.2 1001.5 407.5 1000.8 406.5 1001.5 405.5 1000.5 405.8 998.5 402.8 996.8 402.8 997.8 401.8 998.2 401.2 997.5 401.5 996.8 399.5 995.8 400.5 994.5 401.2 995.5 401.8 994.8 401.8 993.8ZM406.8 1046.8 406.2 1047.8 404.8 1047.5 404.5 1048.8 401.8 1048.8 403.2 1047.8 401.8 1047.2 403.2 1044.8 405.5 1045.5 405.8 1046.5ZM401.8 1042.8 402.8 1040.5 405.5 1042.2 403.2 1043.8ZM397.2 999.5 399.2 998.5 400.8 1001.2 397.5 1001.5ZM394.2 998.2 394.5 999.5 396.2 999.8 396.2 1000.8 395.5 1001.5 394.5 1001.2 393.5 1003.2 392.8 1001.2 393.8 1000.2 393.5 998.8Z" fill="#46be32" fill-rule="evenodd"/>
<path d="M388.8 1060.5 389.2 1064.5 388.2 1065.2 388.2 1067.2 388.8 1068.5 391.2 1069.2 391.2 1070.8 392.2 1071.2 391.8 1072.5 394.2 1072.2 394.5 1071.5 396.5 1073.5 400.2 1072.5 400.5 1073.2 399.5 1074.2 400.2 1075.2 400.8 1075.2 399.8 1074.2 400.2 1073.5 402.8 1074.8 401.8 1074.2 401.8 1072.2 406.8 1073.8 408.5 1071.5 410.5 1071.8 409.8 1070.5 410.8 1070.5 411.8 1069.2 412.8 1069.5 414.5 1067.8 413.8 1066.5 415.5 1065.8 414.5 1065.2 415.2 1063.8 414.8 1061.8 413.8 1062.2 413.2 1061.5 413.5 1060.5 414.2 1060.8 413.5 1060.2 413.8 1059.5 412.5 1059.2 412.2 1057.5 408.8 1056.5 408.8 1053.2 407.2 1055.5 406.5 1054.8 405.5 1055.5 403.5 1054.8 401.8 1055.2 400.8 1053.5 398.8 1053.5 399.2 1054.8 398.2 1055.5 396.2 1054.2 396.5 1052.8 395.2 1052.8 395.5 1055.2 394.8 1055.8 393.8 1055.5 393.5 1054.5 394.2 1053.8 393.2 1053.5 393.2 1055.8 392.2 1055.8 392.2 1057.2 390.2 1058.2ZM403.2 1003.8 402.5 1004.2 402.8 1005.5 401.2 1005.5 400.5 1006.5 399.8 1005.5 400.8 1004.8 398.5 1003.8 399.5 1005.2 398.5 1006.5 397.5 1003.5 396.5 1004.8 394.8 1004.8 394.2 1005.5 391.5 1005.2 391.2 1005.5 392.2 1005.5 392.5 1006.8 393.5 1007.5 391.5 1007.8 389.5 1009.5 390.5 1010.2 390.5 1012.8 391.5 1013.2 391.2 1014.2 389.8 1014.5 388.2 1012.8 388.8 1015.2 390.2 1015.8 388.8 1017.2 389.5 1018.8 388.5 1020.8 389.8 1019.8 390.5 1020.2 389.8 1022.2 388.5 1022.5 390.2 1025.5 389.2 1027.5 389.8 1027.8 390.5 1026.8 391.8 1027.5 390.2 1029.2 391.5 1030.5 389.8 1031.5 390.8 1033.5 390.5 1033.8 389.8 1032.5 388.8 1032.8 390.8 1035.2 392.2 1035.5 391.5 1036.8 392.5 1037.5 392.8 1039.2 393.8 1038.2 395.5 1038.8 395.2 1037.8 396.8 1036.8 397.5 1037.2 396.5 1038.8 397.2 1037.8 398.2 1037.8 400.8 1039.2 401.2 1037.8 402.2 1037.5 402.5 1038.2 405.8 1036.8 406.5 1037.2 405.5 1036.2 404.5 1036.5 403.5 1035.8 405.5 1034.8 404.8 1033.8 406.2 1032.8 406.8 1033.8 407.2 1033.5 406.2 1032.8 405.8 1029.8 407.2 1026.8 405.8 1025.8 406.2 1024.8 407.2 1024.5 406.8 1021.5 407.8 1020.8 407.2 1019.5 406.5 1021.2 404.8 1020.8 404.2 1018.2 405.8 1017.8 407.2 1018.5 408.2 1017.8 407.8 1016.5 408.5 1014.8 407.8 1012.2 408.5 1010.8 407.8 1010.2 406.8 1012.2 405.5 1012.8 403.5 1011.8 403.8 1011.2 406.2 1010.8 406.2 1010.2 404.8 1008.8 405.5 1007.2 403.8 1005.8Z" fill="#bed71e" fill-rule="evenodd"/>
<path d="M413.5 1062.5 412.8 1061.2 412.2 1062.5 411.5 1062.2 411.8 1060.8 411.2 1059.8 411.8 1058.5 410.8 1060.2 409.8 1060.5 409.2 1059.8 410.2 1057.8 409.5 1058.5 408.8 1057.8 408.5 1055.8 405.8 1057.2 402.8 1055.2 402.5 1056.5 401.2 1055.5 400.8 1056.5 399.2 1056.2 397.8 1058.2 396.8 1057.5 392.8 1057.2 393.2 1058.8 392.5 1059.5 391.5 1058.5 390.8 1062.2 390.2 1062.8 389.5 1062.5 389.5 1063.2 390.8 1063.8 389.8 1065.5 391.5 1065.8 393.5 1067.8 390.5 1068.5 396.5 1071.5 397.5 1071.2 397.8 1072.5 398.8 1071.8 399.5 1072.2 401.8 1069.2 402.2 1069.8 400.8 1072.5 401.2 1071.8 403.5 1072.5 403.2 1071.8 405.5 1070.2 405.8 1071.2 405.2 1072.2 405.8 1072.2 409.5 1069.2 410.8 1069.8 412.2 1068.2 412.2 1066.8 413.8 1065.5 412.2 1064.8 413.2 1064.5ZM395.2 1005.5 395.2 1006.8 394.2 1007.2 394.2 1007.8 395.5 1008.8 394.5 1009.5 394.2 1010.8 391.5 1011.8 392.2 1012.8 392.2 1018.5 392.8 1019.5 392.8 1023.2 392.2 1024.5 393.5 1024.8 391.5 1029.2 393.5 1030.2 391.2 1031.8 391.2 1033.2 394.2 1034.2 394.8 1032.8 395.5 1033.5 394.8 1035.2 395.2 1034.5 396.5 1034.5 398.2 1035.8 397.8 1035.2 399.2 1034.8 398.5 1033.5 399.2 1032.8 400.2 1034.5 401.5 1034.8 401.2 1035.8 401.8 1035.2 402.8 1035.8 403.5 1032.8 405.5 1031.8 405.8 1030.8 404.8 1030.2 404.8 1031.5 404.2 1031.8 401.5 1030.5 401.2 1028.5 401.8 1028.2 402.8 1028.8 404.2 1024.8 402.5 1023.5 401.2 1020.8 402.2 1020.5 402.5 1019.5 404.2 1020.2 404.2 1019.5 401.8 1017.5 401.8 1015.5 402.5 1015.2 401.8 1013.8 400.2 1012.8 400.2 1011.8 400.8 1011.2 401.2 1012.2 402.2 1011.8 403.8 1014.8 403.5 1012.5 402.2 1011.2 404.8 1009.8 403.8 1009.2 402.8 1010.5 401.2 1011.2 400.2 1007.2 399.5 1007.2 399.2 1008.8 397.5 1006.5 395.8 1006.8Z" fill="#f5dc14" fill-rule="evenodd"/>
<path d="M392.8 1061.5 393.5 1063.2 393.2 1066.5 394.8 1067.5 394.2 1069.2 395.5 1070.2 394.8 1068.5 395.5 1067.2 396.5 1067.5 396.2 1068.8 396.8 1069.5 400.5 1068.2 400.8 1069.2 399.8 1069.5 400.8 1069.5 401.5 1068.5 403.5 1070.5 405.2 1068.5 406.2 1069.2 407.2 1067.5 407.8 1067.8 407.5 1068.8 408.5 1069.2 408.8 1067.2 409.8 1066.5 410.2 1065.2 410.8 1065.2 411.5 1066.5 411.5 1065.2 409.8 1064.8 409.2 1064.2 409.5 1063.5 408.2 1062.8 408.5 1061.8 410.2 1062.5 411.2 1060.8 408.8 1060.5 407.8 1061.2 407.8 1059.2 406.2 1059.2 404.2 1060.5 402.8 1059.2 400.5 1060.2 398.2 1058.8 397.5 1060.2 395.8 1061.2 395.2 1060.8 394.5 1062.8 393.5 1061.2ZM399.5 1025.8 398.5 1026.5 400.5 1028.2 396.5 1028.8 398.2 1029.2 398.5 1030.8 399.5 1029.5 400.8 1029.8 400.5 1028.2 401.2 1026.8Z" fill="#f58219" fill-rule="evenodd"/>
<path d="M408.8 1063.8 407.8 1063.5 407.8 1061.8 406.5 1061.5 405.8 1059.8 405.2 1060.8 403.5 1060.8 402.5 1061.8 400.8 1060.5 399.8 1060.8 398.8 1062.5 396.2 1061.2 395.8 1062.5 393.8 1064.2 395.5 1064.5 396.8 1062.8 398.8 1062.8 398.8 1064.2 397.8 1064.8 396.8 1064.5 395.8 1066.2 394.5 1065.5 395.2 1066.8 396.5 1066.5 397.8 1068.2 400.2 1067.8 402.8 1068.5 402.8 1067.2 404.8 1068.2 404.8 1066.2 408.5 1067.5 406.2 1064.5 406.8 1063.8 408.8 1064.5Z" fill="#e62d19" fill-rule="evenodd"/>
<path d="M364.89 1118.70v3 M323.80 1078.69h-3 M364.31 1118.70v3 M323.80 1079.28h-3 M365.18 1118.70v3 M323.80 1078.38h-3 M364.01 1118.70v3 M323.80 1079.56h-3 M365.48 1118.70v3 M323.80 1078.08h-3 M363.72 1118.70v3 M323.80 1079.83h-3 M365.77 1118.70v3 M323.80 1077.77h-3 M363.42 1118.70v3 M323.80 1080.11h-3 M366.06 1118.70v3 M323.80 1077.46h-3 M363.13 1118.70v3 M323.80 1080.39h-3 M366.35 1118.70v3 M323.80 1077.15h-3 M362.84 1118.70v3 M323.80 1080.67h-3 M366.64 1118.70v3 M323.80 1076.84h-3 M362.54 1118.70v3 M323.80 1080.95h-3 M366.94 1118.70v3 M323.80 1076.54h-3 M362.25 1118.70v3 M323.80 1081.22h-3 M367.23 1118.70v3 M323.80 1076.23h-3 M361.95 1118.70v3 M323.80 1081.50h-3 M367.52 1118.70v3 M323.80 1075.92h-3 M361.66 1118.70v3 M323.80 1081.78h-3 M370.44 1118.70v3 M323.80 1072.84h-3 M358.72 1118.70v3 M323.80 1084.56h-3 M373.36 1118.70v3 M323.80 1069.76h-3 M355.78 1118.70v3 M323.80 1087.34h-3 M376.28 1118.70v3 M323.80 1066.68h-3 M352.84 1118.70v3 M323.80 1090.12h-3 M379.20 1118.70v3 M323.80 1063.60h-3 M349.90 1118.70v3 M323.80 1092.90h-3 M382.12 1118.70v3 M323.80 1060.52h-3 M346.96 1118.70v3 M323.80 1095.68h-3 M385.04 1118.70v3 M323.80 1057.44h-3 M344.02 1118.70v3 M323.80 1098.46h-3 M387.96 1118.70v3 M323.80 1054.36h-3 M341.08 1118.70v3 M323.80 1101.24h-3 M390.88 1118.70v3 M323.80 1051.28h-3 M338.14 1118.70v3 M323.80 1104.02h-3 M393.80 1118.70v5 M323.80 1048.20h-5 M335.20 1118.70v5 M323.80 1106.80h-5 M408.55 1118.70v3 M323.80 1033.33h-3 M417.18 1118.70v3 M323.80 1024.63h-3 M423.30 1118.70v3 M323.80 1018.46h-3 M428.05 1118.70v3 M323.80 1013.67h-3 M431.93 1118.70v3 M323.80 1009.76h-3 M435.21 1118.70v3 M323.80 1006.45h-3 M438.05 1118.70v3 M323.80 1003.59h-3 M440.56 1118.70v3 M323.80 1001.06h-3 M442.80 1118.70v5 M323.80 998.80h-5 M455.62 1118.70v3 M323.80 986.07h-3 M463.13 1118.70v3 M323.80 978.62h-3 M468.45 1118.70v3 M323.80 973.33h-3 M472.58 1118.70v3 M323.80 969.23h-3 M475.95 1118.70v3 M323.80 965.88h-3 M478.80 1118.70v3 M323.80 963.05h-3 M481.27 1118.70v3 M323.80 960.60h-3 M483.45 1118.70v3 M323.80 958.44h-3 M485.40 1118.70v5 M323.80 956.50h-5 M498.22 1118.70v3 M323.80 943.77h-3 M364.60 1118.70v5 M323.80 1079.00h-5" stroke="#111" stroke-width="1" fill="none"/>
<rect x="323.8" y="939.7" width="179.7" height="179" fill="none" stroke="#111" stroke-width="1.3"/>
<text x="335.7" y="1141.7" text-anchor="middle" font-size="13">−10<tspan font-size="7.4" dy="-5.6" dx="0.7">3</tspan></text>
<text x="367.6" y="1141.7" text-anchor="middle" font-size="13">0</text>
<text x="394.6" y="1141.7" text-anchor="middle" font-size="13">10<tspan font-size="7.4" dy="-5.6" dx="0.7">3</tspan></text>
<text x="443.6" y="1141.7" text-anchor="middle" font-size="13">10<tspan font-size="7.4" dy="-5.6" dx="0.7">4</tspan></text>
<text x="486.2" y="1141.7" text-anchor="middle" font-size="13">10<tspan font-size="7.4" dy="-5.6" dx="0.7">5</tspan></text>
<text x="311.8" y="958.1" text-anchor="end" font-size="13">10<tspan font-size="7.4" dy="-5.6" dx="0.7">5</tspan></text>
<text x="311.8" y="1000.4000000000001" text-anchor="end" font-size="13">10<tspan font-size="7.4" dy="-5.6" dx="0.7">4</tspan></text>
<text x="311.8" y="1049.8" text-anchor="end" font-size="13">10<tspan font-size="7.4" dy="-5.6" dx="0.7">3</tspan></text>
<text x="311.8" y="1080.6" text-anchor="end" font-size="13">0</text>
<text x="311.8" y="1108.3999999999999" text-anchor="end" font-size="13">−10<tspan font-size="7.4" dy="-5.6" dx="0.7">3</tspan></text>
<path d="M423.8 939.7V1118.7M323.8 1048.2H503.5" stroke="#111" stroke-width="1.2" fill="none"/>
<text transform="translate(329.70,953.70) scale(1.06,1)" font-size="12.4" text-anchor="start">50.0%</text>
<text transform="translate(498.40,953.00) scale(1.06,1)" font-size="12.4" text-anchor="end">2.83%</text>
<text transform="translate(498.40,964.90) scale(1.06,1)" font-size="12.4" text-anchor="end">MFI: 6530</text>
<text transform="translate(498.40,1102.20) scale(1.06,1)" font-size="12.4" text-anchor="end">MFI: 7436</text>
<text transform="translate(498.40,1112.80) scale(1.06,1)" font-size="12.4" text-anchor="end">7.34%</text>
<text transform="translate(329.70,1114.00) scale(1.06,1)" font-size="12.4" text-anchor="start">39.9%</text>
<path d="M93.2 534.3V841.2M93.2 840.3H499.4" stroke="#111" stroke-width="2" fill="none"/>
<path d="M86.7 841.20h6 M89.7 831.17h3 M89.7 821.15h3 M89.7 811.12h3 M89.7 801.10h3 M86.7 791.07h6 M89.7 781.04h3 M89.7 771.02h3 M89.7 760.99h3 M89.7 750.97h3 M86.7 740.94h6 M89.7 730.91h3 M89.7 720.89h3 M89.7 710.86h3 M89.7 700.84h3 M86.7 690.81h6 M89.7 680.78h3 M89.7 670.76h3 M89.7 660.73h3 M89.7 650.71h3 M86.7 640.68h6 M89.7 630.65h3 M89.7 620.63h3 M89.7 610.60h3 M89.7 600.58h3 M86.7 590.55h6 M89.7 580.52h3 M89.7 570.50h3 M89.7 560.47h3 M89.7 550.45h3 M86.7 540.42h6 M154.5 840v6.5 M256.6 840v6.5 M358.6 840v6.5 M460.3 840v6.5" stroke="#111" stroke-width="1.4" fill="none"/>
<text x="81" y="845.40" font-size="12" text-anchor="end">0.0</text>
<text x="81" y="795.27" font-size="12" text-anchor="end">1.0</text>
<text x="81" y="745.14" font-size="12" text-anchor="end">2.0</text>
<text x="81" y="695.01" font-size="12" text-anchor="end">3.0</text>
<text x="81" y="644.88" font-size="12" text-anchor="end">4.0</text>
<text x="81" y="594.75" font-size="12" text-anchor="end">5.0</text>
<text x="81" y="544.62" font-size="12" text-anchor="end">6.0</text>
<rect x="134.7" y="801.60" width="18" height="38.60" fill="#36a835"/>
<rect x="157.2" y="800.59" width="18" height="39.61" fill="#f58c02"/>
<rect x="236.8" y="795.58" width="18" height="44.62" fill="#36a835"/>
<rect x="259.3" y="793.08" width="18" height="47.12" fill="#f58c02"/>
<rect x="338.8" y="636.67" width="18" height="203.53" fill="#36a835"/>
<rect x="361.3" y="589.55" width="18" height="250.65" fill="#f58c02"/>
<rect x="440.5" y="775.03" width="18" height="65.17" fill="#36a835"/>
<rect x="463.0" y="751.97" width="18" height="88.23" fill="#f58c02"/>
<text x="155.0" y="863.6" font-size="12.8" text-anchor="middle">WT</text>
<text x="257.1" y="863.6" font-size="12.8" text-anchor="middle">Mutant</text>
<text x="359.1" y="863.6" font-size="12.8" text-anchor="middle">WT + PMA</text>
<text x="460.8" y="863.6" font-size="12.8" text-anchor="middle">Mutant + PMA</text>
<rect x="422.7" y="546.3" width="15.3" height="14.1" fill="#36a835"/>
<rect x="422.7" y="566.7" width="15.3" height="14.1" fill="#f58c02"/>
<text x="445.2" y="557.2" font-size="12">dPCR</text>
<text x="445.2" y="577.3" font-size="12">RNAseq</text>
</svg>
</body></html>
